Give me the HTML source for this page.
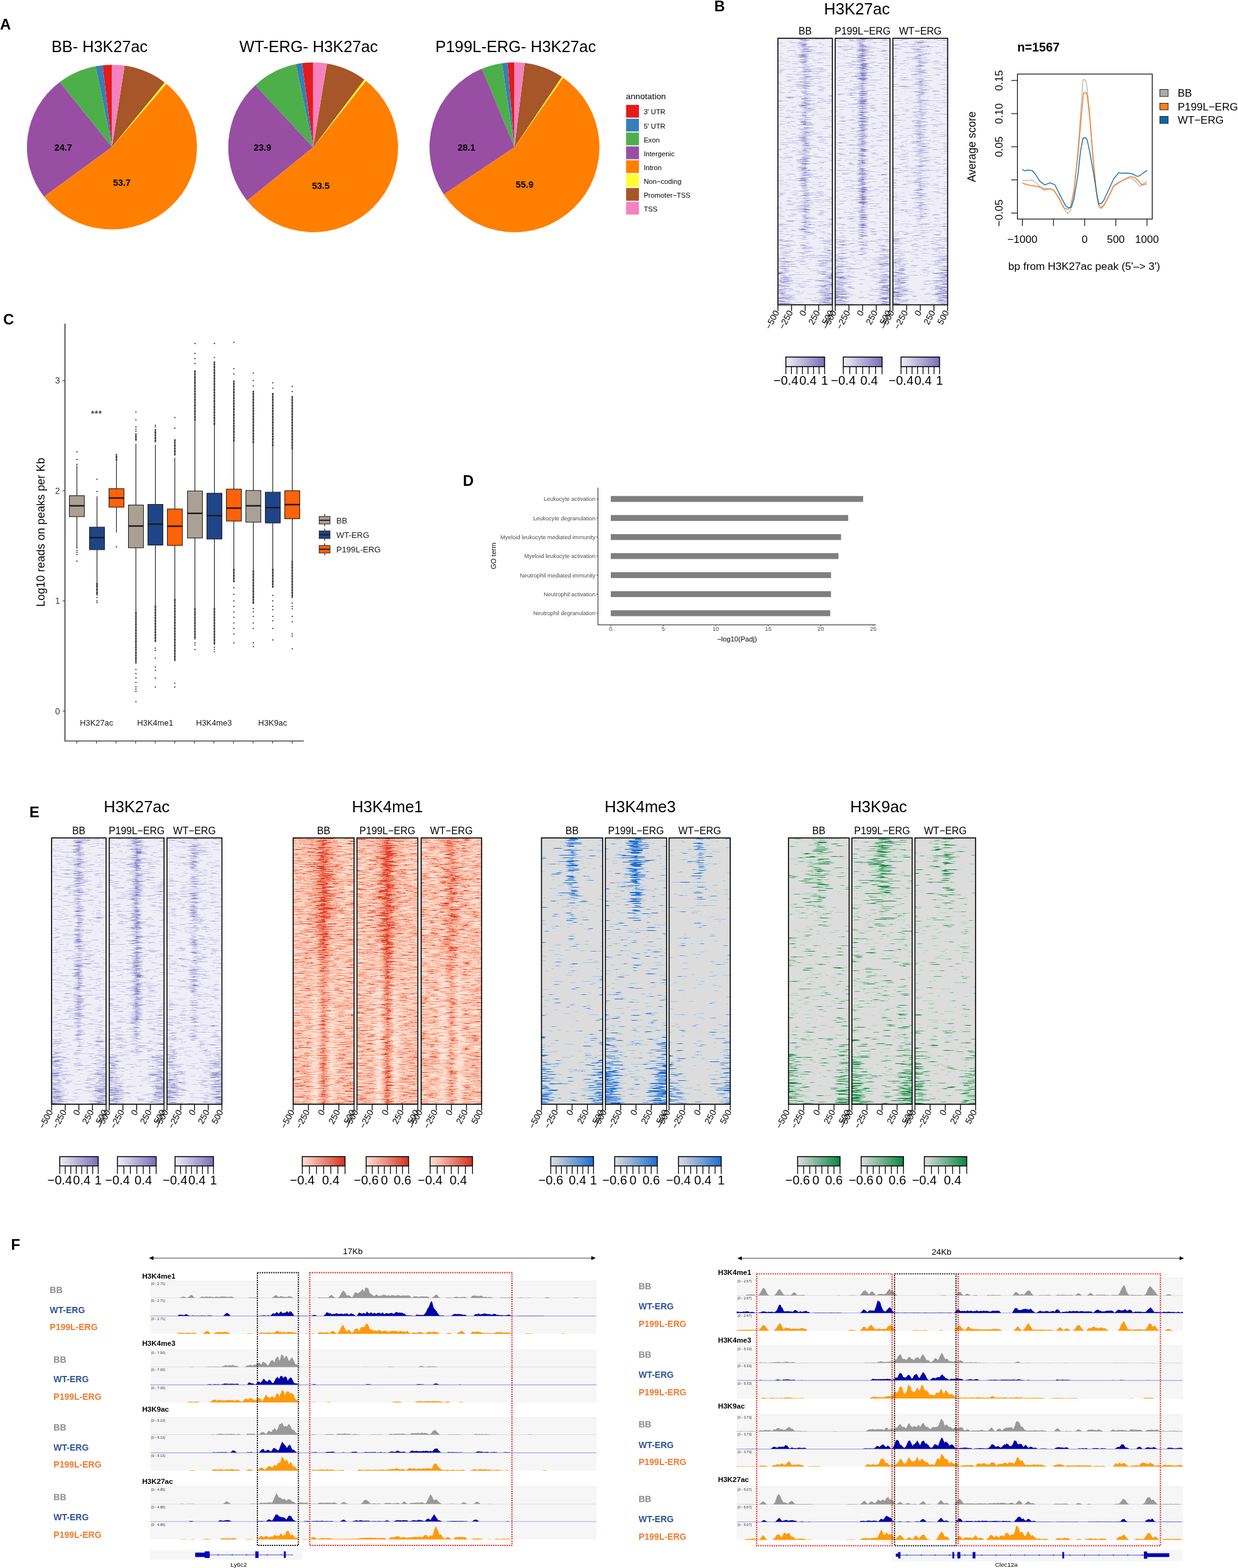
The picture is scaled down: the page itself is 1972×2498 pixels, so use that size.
<!DOCTYPE html>
<html><head><meta charset="utf-8"><title>Figure</title>
<style>html,body{margin:0;padding:0;background:#fff;} svg{display:block;} text{font-family:'Liberation Sans', Arial, Helvetica, sans-serif;}</style>
</head><body>
<svg width="1972" height="2498" viewBox="0 0 1972 2498">
<defs><filter id="nzb0" x="0" y="0" width="1" height="1" color-interpolation-filters="sRGB"><feTurbulence type="fractalNoise" baseFrequency="0.06 1.3" numOctaves="2" seed="11" result="n"/><feColorMatrix in="n" type="matrix" values="0 0 0 0 0 0 0 0 0 0 0 0 0 0 0 1 0 0 0 0" result="na"/><feComposite in="SourceAlpha" in2="na" operator="arithmetic" k1="0" k2="1.0" k3="2.0" k4="-1.0" result="m"/><feComponentTransfer in="m" result="t0"><feFuncA type="discrete" tableValues="0 0 0 0 0 0 0 0 1 1 1 1 1 1 1 1 1 1 1 1"/></feComponentTransfer><feFlood flood-color="#D3D0EC"/><feComposite in2="t0" operator="in" result="l0"/><feComponentTransfer in="m" result="t1"><feFuncA type="discrete" tableValues="0 0 0 0 0 0 0 0 0 0 0 0 1 1 1 1 1 1 1 1"/></feComponentTransfer><feFlood flood-color="#BCB8E0"/><feComposite in2="t1" operator="in" result="l1"/><feComponentTransfer in="m" result="t2"><feFuncA type="discrete" tableValues="0 0 0 0 0 0 0 0 0 0 0 0 0 0 0 0 0 1 1 1"/></feComponentTransfer><feFlood flood-color="#8781C6"/><feComposite in2="t2" operator="in" result="l2"/><feMerge><feMergeNode in="l0"/><feMergeNode in="l1"/><feMergeNode in="l2"/></feMerge></filter><linearGradient id="g1"><stop offset="0" stop-opacity="0.17"/><stop offset="0.125" stop-opacity="0.17"/><stop offset="0.25" stop-opacity="0.17"/><stop offset="0.375" stop-opacity="0.26"/><stop offset="0.5" stop-opacity="0.67"/><stop offset="0.625" stop-opacity="0.26"/><stop offset="0.75" stop-opacity="0.17"/><stop offset="0.875" stop-opacity="0.17"/><stop offset="1" stop-opacity="0.17"/></linearGradient><linearGradient id="g2"><stop offset="0" stop-opacity="0.17"/><stop offset="0.125" stop-opacity="0.17"/><stop offset="0.25" stop-opacity="0.17"/><stop offset="0.375" stop-opacity="0.25"/><stop offset="0.5" stop-opacity="0.67"/><stop offset="0.625" stop-opacity="0.25"/><stop offset="0.75" stop-opacity="0.17"/><stop offset="0.875" stop-opacity="0.17"/><stop offset="1" stop-opacity="0.17"/></linearGradient><linearGradient id="g3"><stop offset="0" stop-opacity="0.17"/><stop offset="0.125" stop-opacity="0.17"/><stop offset="0.25" stop-opacity="0.17"/><stop offset="0.375" stop-opacity="0.23"/><stop offset="0.5" stop-opacity="0.67"/><stop offset="0.625" stop-opacity="0.23"/><stop offset="0.75" stop-opacity="0.17"/><stop offset="0.875" stop-opacity="0.17"/><stop offset="1" stop-opacity="0.17"/></linearGradient><linearGradient id="g4"><stop offset="0" stop-opacity="0.17"/><stop offset="0.125" stop-opacity="0.17"/><stop offset="0.25" stop-opacity="0.17"/><stop offset="0.375" stop-opacity="0.21"/><stop offset="0.5" stop-opacity="0.67"/><stop offset="0.625" stop-opacity="0.21"/><stop offset="0.75" stop-opacity="0.17"/><stop offset="0.875" stop-opacity="0.17"/><stop offset="1" stop-opacity="0.17"/></linearGradient><linearGradient id="g5"><stop offset="0" stop-opacity="0.17"/><stop offset="0.125" stop-opacity="0.17"/><stop offset="0.25" stop-opacity="0.17"/><stop offset="0.375" stop-opacity="0.20"/><stop offset="0.5" stop-opacity="0.67"/><stop offset="0.625" stop-opacity="0.20"/><stop offset="0.75" stop-opacity="0.17"/><stop offset="0.875" stop-opacity="0.17"/><stop offset="1" stop-opacity="0.17"/></linearGradient><linearGradient id="g6"><stop offset="0" stop-opacity="0.17"/><stop offset="0.125" stop-opacity="0.17"/><stop offset="0.25" stop-opacity="0.17"/><stop offset="0.375" stop-opacity="0.19"/><stop offset="0.5" stop-opacity="0.67"/><stop offset="0.625" stop-opacity="0.19"/><stop offset="0.75" stop-opacity="0.17"/><stop offset="0.875" stop-opacity="0.17"/><stop offset="1" stop-opacity="0.17"/></linearGradient><linearGradient id="g7"><stop offset="0" stop-opacity="0.17"/><stop offset="0.125" stop-opacity="0.17"/><stop offset="0.25" stop-opacity="0.17"/><stop offset="0.375" stop-opacity="0.19"/><stop offset="0.5" stop-opacity="0.67"/><stop offset="0.625" stop-opacity="0.19"/><stop offset="0.75" stop-opacity="0.17"/><stop offset="0.875" stop-opacity="0.17"/><stop offset="1" stop-opacity="0.17"/></linearGradient><linearGradient id="g8"><stop offset="0" stop-opacity="0.17"/><stop offset="0.125" stop-opacity="0.17"/><stop offset="0.25" stop-opacity="0.17"/><stop offset="0.375" stop-opacity="0.18"/><stop offset="0.5" stop-opacity="0.67"/><stop offset="0.625" stop-opacity="0.18"/><stop offset="0.75" stop-opacity="0.17"/><stop offset="0.875" stop-opacity="0.17"/><stop offset="1" stop-opacity="0.17"/></linearGradient><linearGradient id="g9"><stop offset="0" stop-opacity="0.17"/><stop offset="0.125" stop-opacity="0.17"/><stop offset="0.25" stop-opacity="0.17"/><stop offset="0.375" stop-opacity="0.18"/><stop offset="0.5" stop-opacity="0.67"/><stop offset="0.625" stop-opacity="0.18"/><stop offset="0.75" stop-opacity="0.17"/><stop offset="0.875" stop-opacity="0.17"/><stop offset="1" stop-opacity="0.17"/></linearGradient><linearGradient id="g10"><stop offset="0" stop-opacity="0.17"/><stop offset="0.125" stop-opacity="0.17"/><stop offset="0.25" stop-opacity="0.17"/><stop offset="0.375" stop-opacity="0.18"/><stop offset="0.5" stop-opacity="0.67"/><stop offset="0.625" stop-opacity="0.18"/><stop offset="0.75" stop-opacity="0.17"/><stop offset="0.875" stop-opacity="0.17"/><stop offset="1" stop-opacity="0.17"/></linearGradient><linearGradient id="g11"><stop offset="0" stop-opacity="0.18"/><stop offset="0.125" stop-opacity="0.18"/><stop offset="0.25" stop-opacity="0.17"/><stop offset="0.375" stop-opacity="0.17"/><stop offset="0.5" stop-opacity="0.67"/><stop offset="0.625" stop-opacity="0.17"/><stop offset="0.75" stop-opacity="0.17"/><stop offset="0.875" stop-opacity="0.18"/><stop offset="1" stop-opacity="0.18"/></linearGradient><linearGradient id="g12"><stop offset="0" stop-opacity="0.25"/><stop offset="0.125" stop-opacity="0.25"/><stop offset="0.25" stop-opacity="0.19"/><stop offset="0.375" stop-opacity="0.17"/><stop offset="0.5" stop-opacity="0.60"/><stop offset="0.625" stop-opacity="0.17"/><stop offset="0.75" stop-opacity="0.19"/><stop offset="0.875" stop-opacity="0.25"/><stop offset="1" stop-opacity="0.25"/></linearGradient><linearGradient id="g13"><stop offset="0" stop-opacity="0.36"/><stop offset="0.125" stop-opacity="0.35"/><stop offset="0.25" stop-opacity="0.23"/><stop offset="0.375" stop-opacity="0.16"/><stop offset="0.5" stop-opacity="0.44"/><stop offset="0.625" stop-opacity="0.16"/><stop offset="0.75" stop-opacity="0.23"/><stop offset="0.875" stop-opacity="0.35"/><stop offset="1" stop-opacity="0.36"/></linearGradient><linearGradient id="g14"><stop offset="0" stop-opacity="0.49"/><stop offset="0.125" stop-opacity="0.46"/><stop offset="0.25" stop-opacity="0.26"/><stop offset="0.375" stop-opacity="0.14"/><stop offset="0.5" stop-opacity="0.26"/><stop offset="0.625" stop-opacity="0.14"/><stop offset="0.75" stop-opacity="0.26"/><stop offset="0.875" stop-opacity="0.46"/><stop offset="1" stop-opacity="0.49"/></linearGradient><linearGradient id="g15"><stop offset="0" stop-opacity="0.59"/><stop offset="0.125" stop-opacity="0.56"/><stop offset="0.25" stop-opacity="0.29"/><stop offset="0.375" stop-opacity="0.11"/><stop offset="0.5" stop-opacity="0.11"/><stop offset="0.625" stop-opacity="0.11"/><stop offset="0.75" stop-opacity="0.29"/><stop offset="0.875" stop-opacity="0.56"/><stop offset="1" stop-opacity="0.59"/></linearGradient><linearGradient id="g16"><stop offset="0" stop-opacity="0.66"/><stop offset="0.125" stop-opacity="0.62"/><stop offset="0.25" stop-opacity="0.30"/><stop offset="0.375" stop-opacity="0.10"/><stop offset="0.5" stop-opacity="0.05"/><stop offset="0.625" stop-opacity="0.10"/><stop offset="0.75" stop-opacity="0.30"/><stop offset="0.875" stop-opacity="0.62"/><stop offset="1" stop-opacity="0.66"/></linearGradient><filter id="nzb1" x="0" y="0" width="1" height="1" color-interpolation-filters="sRGB"><feTurbulence type="fractalNoise" baseFrequency="0.06 1.3" numOctaves="2" seed="12" result="n"/><feColorMatrix in="n" type="matrix" values="0 0 0 0 0 0 0 0 0 0 0 0 0 0 0 1 0 0 0 0" result="na"/><feComposite in="SourceAlpha" in2="na" operator="arithmetic" k1="0" k2="1.0" k3="2.0" k4="-1.0" result="m"/><feComponentTransfer in="m" result="t0"><feFuncA type="discrete" tableValues="0 0 0 0 0 0 0 0 1 1 1 1 1 1 1 1 1 1 1 1"/></feComponentTransfer><feFlood flood-color="#D3D0EC"/><feComposite in2="t0" operator="in" result="l0"/><feComponentTransfer in="m" result="t1"><feFuncA type="discrete" tableValues="0 0 0 0 0 0 0 0 0 0 0 0 1 1 1 1 1 1 1 1"/></feComponentTransfer><feFlood flood-color="#BCB8E0"/><feComposite in2="t1" operator="in" result="l1"/><feComponentTransfer in="m" result="t2"><feFuncA type="discrete" tableValues="0 0 0 0 0 0 0 0 0 0 0 0 0 0 0 0 0 1 1 1"/></feComponentTransfer><feFlood flood-color="#8781C6"/><feComposite in2="t2" operator="in" result="l2"/><feMerge><feMergeNode in="l0"/><feMergeNode in="l1"/><feMergeNode in="l2"/></feMerge></filter><linearGradient id="g17"><stop offset="0" stop-opacity="0.17"/><stop offset="0.125" stop-opacity="0.17"/><stop offset="0.25" stop-opacity="0.17"/><stop offset="0.375" stop-opacity="0.29"/><stop offset="0.5" stop-opacity="0.80"/><stop offset="0.625" stop-opacity="0.29"/><stop offset="0.75" stop-opacity="0.17"/><stop offset="0.875" stop-opacity="0.17"/><stop offset="1" stop-opacity="0.17"/></linearGradient><linearGradient id="g18"><stop offset="0" stop-opacity="0.17"/><stop offset="0.125" stop-opacity="0.17"/><stop offset="0.25" stop-opacity="0.17"/><stop offset="0.375" stop-opacity="0.26"/><stop offset="0.5" stop-opacity="0.80"/><stop offset="0.625" stop-opacity="0.26"/><stop offset="0.75" stop-opacity="0.17"/><stop offset="0.875" stop-opacity="0.17"/><stop offset="1" stop-opacity="0.17"/></linearGradient><linearGradient id="g19"><stop offset="0" stop-opacity="0.17"/><stop offset="0.125" stop-opacity="0.17"/><stop offset="0.25" stop-opacity="0.17"/><stop offset="0.375" stop-opacity="0.24"/><stop offset="0.5" stop-opacity="0.80"/><stop offset="0.625" stop-opacity="0.24"/><stop offset="0.75" stop-opacity="0.17"/><stop offset="0.875" stop-opacity="0.17"/><stop offset="1" stop-opacity="0.17"/></linearGradient><linearGradient id="g20"><stop offset="0" stop-opacity="0.17"/><stop offset="0.125" stop-opacity="0.17"/><stop offset="0.25" stop-opacity="0.17"/><stop offset="0.375" stop-opacity="0.23"/><stop offset="0.5" stop-opacity="0.80"/><stop offset="0.625" stop-opacity="0.23"/><stop offset="0.75" stop-opacity="0.17"/><stop offset="0.875" stop-opacity="0.17"/><stop offset="1" stop-opacity="0.17"/></linearGradient><linearGradient id="g21"><stop offset="0" stop-opacity="0.17"/><stop offset="0.125" stop-opacity="0.17"/><stop offset="0.25" stop-opacity="0.17"/><stop offset="0.375" stop-opacity="0.21"/><stop offset="0.5" stop-opacity="0.80"/><stop offset="0.625" stop-opacity="0.21"/><stop offset="0.75" stop-opacity="0.17"/><stop offset="0.875" stop-opacity="0.17"/><stop offset="1" stop-opacity="0.17"/></linearGradient><linearGradient id="g22"><stop offset="0" stop-opacity="0.17"/><stop offset="0.125" stop-opacity="0.17"/><stop offset="0.25" stop-opacity="0.17"/><stop offset="0.375" stop-opacity="0.20"/><stop offset="0.5" stop-opacity="0.80"/><stop offset="0.625" stop-opacity="0.20"/><stop offset="0.75" stop-opacity="0.17"/><stop offset="0.875" stop-opacity="0.17"/><stop offset="1" stop-opacity="0.17"/></linearGradient><linearGradient id="g23"><stop offset="0" stop-opacity="0.17"/><stop offset="0.125" stop-opacity="0.17"/><stop offset="0.25" stop-opacity="0.17"/><stop offset="0.375" stop-opacity="0.19"/><stop offset="0.5" stop-opacity="0.80"/><stop offset="0.625" stop-opacity="0.19"/><stop offset="0.75" stop-opacity="0.17"/><stop offset="0.875" stop-opacity="0.17"/><stop offset="1" stop-opacity="0.17"/></linearGradient><linearGradient id="g24"><stop offset="0" stop-opacity="0.17"/><stop offset="0.125" stop-opacity="0.17"/><stop offset="0.25" stop-opacity="0.17"/><stop offset="0.375" stop-opacity="0.18"/><stop offset="0.5" stop-opacity="0.80"/><stop offset="0.625" stop-opacity="0.18"/><stop offset="0.75" stop-opacity="0.17"/><stop offset="0.875" stop-opacity="0.17"/><stop offset="1" stop-opacity="0.17"/></linearGradient><linearGradient id="g25"><stop offset="0" stop-opacity="0.17"/><stop offset="0.125" stop-opacity="0.17"/><stop offset="0.25" stop-opacity="0.17"/><stop offset="0.375" stop-opacity="0.18"/><stop offset="0.5" stop-opacity="0.80"/><stop offset="0.625" stop-opacity="0.18"/><stop offset="0.75" stop-opacity="0.17"/><stop offset="0.875" stop-opacity="0.17"/><stop offset="1" stop-opacity="0.17"/></linearGradient><linearGradient id="g26"><stop offset="0" stop-opacity="0.17"/><stop offset="0.125" stop-opacity="0.17"/><stop offset="0.25" stop-opacity="0.17"/><stop offset="0.375" stop-opacity="0.18"/><stop offset="0.5" stop-opacity="0.80"/><stop offset="0.625" stop-opacity="0.18"/><stop offset="0.75" stop-opacity="0.17"/><stop offset="0.875" stop-opacity="0.17"/><stop offset="1" stop-opacity="0.17"/></linearGradient><linearGradient id="g27"><stop offset="0" stop-opacity="0.18"/><stop offset="0.125" stop-opacity="0.18"/><stop offset="0.25" stop-opacity="0.17"/><stop offset="0.375" stop-opacity="0.17"/><stop offset="0.5" stop-opacity="0.78"/><stop offset="0.625" stop-opacity="0.17"/><stop offset="0.75" stop-opacity="0.17"/><stop offset="0.875" stop-opacity="0.18"/><stop offset="1" stop-opacity="0.18"/></linearGradient><linearGradient id="g28"><stop offset="0" stop-opacity="0.25"/><stop offset="0.125" stop-opacity="0.25"/><stop offset="0.25" stop-opacity="0.19"/><stop offset="0.375" stop-opacity="0.17"/><stop offset="0.5" stop-opacity="0.66"/><stop offset="0.625" stop-opacity="0.17"/><stop offset="0.75" stop-opacity="0.19"/><stop offset="0.875" stop-opacity="0.25"/><stop offset="1" stop-opacity="0.25"/></linearGradient><linearGradient id="g29"><stop offset="0" stop-opacity="0.36"/><stop offset="0.125" stop-opacity="0.35"/><stop offset="0.25" stop-opacity="0.23"/><stop offset="0.375" stop-opacity="0.16"/><stop offset="0.5" stop-opacity="0.46"/><stop offset="0.625" stop-opacity="0.16"/><stop offset="0.75" stop-opacity="0.23"/><stop offset="0.875" stop-opacity="0.35"/><stop offset="1" stop-opacity="0.36"/></linearGradient><linearGradient id="g30"><stop offset="0" stop-opacity="0.49"/><stop offset="0.125" stop-opacity="0.46"/><stop offset="0.25" stop-opacity="0.26"/><stop offset="0.375" stop-opacity="0.14"/><stop offset="0.5" stop-opacity="0.24"/><stop offset="0.625" stop-opacity="0.14"/><stop offset="0.75" stop-opacity="0.26"/><stop offset="0.875" stop-opacity="0.46"/><stop offset="1" stop-opacity="0.49"/></linearGradient><linearGradient id="g31"><stop offset="0" stop-opacity="0.59"/><stop offset="0.125" stop-opacity="0.56"/><stop offset="0.25" stop-opacity="0.29"/><stop offset="0.375" stop-opacity="0.11"/><stop offset="0.5" stop-opacity="0.09"/><stop offset="0.625" stop-opacity="0.11"/><stop offset="0.75" stop-opacity="0.29"/><stop offset="0.875" stop-opacity="0.56"/><stop offset="1" stop-opacity="0.59"/></linearGradient><linearGradient id="g32"><stop offset="0" stop-opacity="0.66"/><stop offset="0.125" stop-opacity="0.62"/><stop offset="0.25" stop-opacity="0.30"/><stop offset="0.375" stop-opacity="0.10"/><stop offset="0.5" stop-opacity="0.05"/><stop offset="0.625" stop-opacity="0.10"/><stop offset="0.75" stop-opacity="0.30"/><stop offset="0.875" stop-opacity="0.62"/><stop offset="1" stop-opacity="0.66"/></linearGradient><filter id="nzb2" x="0" y="0" width="1" height="1" color-interpolation-filters="sRGB"><feTurbulence type="fractalNoise" baseFrequency="0.06 1.3" numOctaves="2" seed="13" result="n"/><feColorMatrix in="n" type="matrix" values="0 0 0 0 0 0 0 0 0 0 0 0 0 0 0 1 0 0 0 0" result="na"/><feComposite in="SourceAlpha" in2="na" operator="arithmetic" k1="0" k2="1.0" k3="2.0" k4="-1.0" result="m"/><feComponentTransfer in="m" result="t0"><feFuncA type="discrete" tableValues="0 0 0 0 0 0 0 0 1 1 1 1 1 1 1 1 1 1 1 1"/></feComponentTransfer><feFlood flood-color="#D3D0EC"/><feComposite in2="t0" operator="in" result="l0"/><feComponentTransfer in="m" result="t1"><feFuncA type="discrete" tableValues="0 0 0 0 0 0 0 0 0 0 0 0 1 1 1 1 1 1 1 1"/></feComponentTransfer><feFlood flood-color="#BCB8E0"/><feComposite in2="t1" operator="in" result="l1"/><feComponentTransfer in="m" result="t2"><feFuncA type="discrete" tableValues="0 0 0 0 0 0 0 0 0 0 0 0 0 0 0 0 0 1 1 1"/></feComponentTransfer><feFlood flood-color="#8781C6"/><feComposite in2="t2" operator="in" result="l2"/><feMerge><feMergeNode in="l0"/><feMergeNode in="l1"/><feMergeNode in="l2"/></feMerge></filter><linearGradient id="g33"><stop offset="0" stop-opacity="0.17"/><stop offset="0.125" stop-opacity="0.17"/><stop offset="0.25" stop-opacity="0.17"/><stop offset="0.375" stop-opacity="0.25"/><stop offset="0.5" stop-opacity="0.57"/><stop offset="0.625" stop-opacity="0.25"/><stop offset="0.75" stop-opacity="0.17"/><stop offset="0.875" stop-opacity="0.17"/><stop offset="1" stop-opacity="0.17"/></linearGradient><linearGradient id="g34"><stop offset="0" stop-opacity="0.17"/><stop offset="0.125" stop-opacity="0.17"/><stop offset="0.25" stop-opacity="0.17"/><stop offset="0.375" stop-opacity="0.23"/><stop offset="0.5" stop-opacity="0.57"/><stop offset="0.625" stop-opacity="0.23"/><stop offset="0.75" stop-opacity="0.17"/><stop offset="0.875" stop-opacity="0.17"/><stop offset="1" stop-opacity="0.17"/></linearGradient><linearGradient id="g35"><stop offset="0" stop-opacity="0.17"/><stop offset="0.125" stop-opacity="0.17"/><stop offset="0.25" stop-opacity="0.17"/><stop offset="0.375" stop-opacity="0.22"/><stop offset="0.5" stop-opacity="0.57"/><stop offset="0.625" stop-opacity="0.22"/><stop offset="0.75" stop-opacity="0.17"/><stop offset="0.875" stop-opacity="0.17"/><stop offset="1" stop-opacity="0.17"/></linearGradient><linearGradient id="g36"><stop offset="0" stop-opacity="0.17"/><stop offset="0.125" stop-opacity="0.17"/><stop offset="0.25" stop-opacity="0.17"/><stop offset="0.375" stop-opacity="0.21"/><stop offset="0.5" stop-opacity="0.57"/><stop offset="0.625" stop-opacity="0.21"/><stop offset="0.75" stop-opacity="0.17"/><stop offset="0.875" stop-opacity="0.17"/><stop offset="1" stop-opacity="0.17"/></linearGradient><linearGradient id="g37"><stop offset="0" stop-opacity="0.17"/><stop offset="0.125" stop-opacity="0.17"/><stop offset="0.25" stop-opacity="0.17"/><stop offset="0.375" stop-opacity="0.20"/><stop offset="0.5" stop-opacity="0.57"/><stop offset="0.625" stop-opacity="0.20"/><stop offset="0.75" stop-opacity="0.17"/><stop offset="0.875" stop-opacity="0.17"/><stop offset="1" stop-opacity="0.17"/></linearGradient><linearGradient id="g38"><stop offset="0" stop-opacity="0.17"/><stop offset="0.125" stop-opacity="0.17"/><stop offset="0.25" stop-opacity="0.17"/><stop offset="0.375" stop-opacity="0.19"/><stop offset="0.5" stop-opacity="0.57"/><stop offset="0.625" stop-opacity="0.19"/><stop offset="0.75" stop-opacity="0.17"/><stop offset="0.875" stop-opacity="0.17"/><stop offset="1" stop-opacity="0.17"/></linearGradient><linearGradient id="g39"><stop offset="0" stop-opacity="0.17"/><stop offset="0.125" stop-opacity="0.17"/><stop offset="0.25" stop-opacity="0.17"/><stop offset="0.375" stop-opacity="0.18"/><stop offset="0.5" stop-opacity="0.57"/><stop offset="0.625" stop-opacity="0.18"/><stop offset="0.75" stop-opacity="0.17"/><stop offset="0.875" stop-opacity="0.17"/><stop offset="1" stop-opacity="0.17"/></linearGradient><linearGradient id="g40"><stop offset="0" stop-opacity="0.17"/><stop offset="0.125" stop-opacity="0.17"/><stop offset="0.25" stop-opacity="0.17"/><stop offset="0.375" stop-opacity="0.18"/><stop offset="0.5" stop-opacity="0.57"/><stop offset="0.625" stop-opacity="0.18"/><stop offset="0.75" stop-opacity="0.17"/><stop offset="0.875" stop-opacity="0.17"/><stop offset="1" stop-opacity="0.17"/></linearGradient><linearGradient id="g41"><stop offset="0" stop-opacity="0.17"/><stop offset="0.125" stop-opacity="0.17"/><stop offset="0.25" stop-opacity="0.17"/><stop offset="0.375" stop-opacity="0.18"/><stop offset="0.5" stop-opacity="0.57"/><stop offset="0.625" stop-opacity="0.18"/><stop offset="0.75" stop-opacity="0.17"/><stop offset="0.875" stop-opacity="0.17"/><stop offset="1" stop-opacity="0.17"/></linearGradient><linearGradient id="g42"><stop offset="0" stop-opacity="0.17"/><stop offset="0.125" stop-opacity="0.17"/><stop offset="0.25" stop-opacity="0.17"/><stop offset="0.375" stop-opacity="0.17"/><stop offset="0.5" stop-opacity="0.55"/><stop offset="0.625" stop-opacity="0.17"/><stop offset="0.75" stop-opacity="0.17"/><stop offset="0.875" stop-opacity="0.17"/><stop offset="1" stop-opacity="0.17"/></linearGradient><linearGradient id="g43"><stop offset="0" stop-opacity="0.18"/><stop offset="0.125" stop-opacity="0.18"/><stop offset="0.25" stop-opacity="0.17"/><stop offset="0.375" stop-opacity="0.17"/><stop offset="0.5" stop-opacity="0.46"/><stop offset="0.625" stop-opacity="0.17"/><stop offset="0.75" stop-opacity="0.17"/><stop offset="0.875" stop-opacity="0.18"/><stop offset="1" stop-opacity="0.18"/></linearGradient><linearGradient id="g44"><stop offset="0" stop-opacity="0.25"/><stop offset="0.125" stop-opacity="0.25"/><stop offset="0.25" stop-opacity="0.19"/><stop offset="0.375" stop-opacity="0.17"/><stop offset="0.5" stop-opacity="0.33"/><stop offset="0.625" stop-opacity="0.17"/><stop offset="0.75" stop-opacity="0.19"/><stop offset="0.875" stop-opacity="0.25"/><stop offset="1" stop-opacity="0.25"/></linearGradient><linearGradient id="g45"><stop offset="0" stop-opacity="0.36"/><stop offset="0.125" stop-opacity="0.35"/><stop offset="0.25" stop-opacity="0.23"/><stop offset="0.375" stop-opacity="0.16"/><stop offset="0.5" stop-opacity="0.20"/><stop offset="0.625" stop-opacity="0.16"/><stop offset="0.75" stop-opacity="0.23"/><stop offset="0.875" stop-opacity="0.35"/><stop offset="1" stop-opacity="0.36"/></linearGradient><linearGradient id="g46"><stop offset="0" stop-opacity="0.49"/><stop offset="0.125" stop-opacity="0.46"/><stop offset="0.25" stop-opacity="0.26"/><stop offset="0.375" stop-opacity="0.14"/><stop offset="0.5" stop-opacity="0.11"/><stop offset="0.625" stop-opacity="0.14"/><stop offset="0.75" stop-opacity="0.26"/><stop offset="0.875" stop-opacity="0.46"/><stop offset="1" stop-opacity="0.49"/></linearGradient><linearGradient id="g47"><stop offset="0" stop-opacity="0.59"/><stop offset="0.125" stop-opacity="0.56"/><stop offset="0.25" stop-opacity="0.29"/><stop offset="0.375" stop-opacity="0.11"/><stop offset="0.5" stop-opacity="0.08"/><stop offset="0.625" stop-opacity="0.11"/><stop offset="0.75" stop-opacity="0.29"/><stop offset="0.875" stop-opacity="0.56"/><stop offset="1" stop-opacity="0.59"/></linearGradient><linearGradient id="g48"><stop offset="0" stop-opacity="0.66"/><stop offset="0.125" stop-opacity="0.62"/><stop offset="0.25" stop-opacity="0.30"/><stop offset="0.375" stop-opacity="0.10"/><stop offset="0.5" stop-opacity="0.05"/><stop offset="0.625" stop-opacity="0.10"/><stop offset="0.75" stop-opacity="0.30"/><stop offset="0.875" stop-opacity="0.62"/><stop offset="1" stop-opacity="0.66"/></linearGradient><linearGradient id="cb49"><stop offset="0" stop-color="#EFEEF7"/><stop offset="1" stop-color="#7A6EB8"/></linearGradient><linearGradient id="cb50"><stop offset="0" stop-color="#EFEEF7"/><stop offset="1" stop-color="#7A6EB8"/></linearGradient><linearGradient id="cb51"><stop offset="0" stop-color="#EFEEF7"/><stop offset="1" stop-color="#7A6EB8"/></linearGradient><filter id="nze00" x="0" y="0" width="1" height="1" color-interpolation-filters="sRGB"><feTurbulence type="fractalNoise" baseFrequency="0.06 1.3" numOctaves="2" seed="31" result="n"/><feColorMatrix in="n" type="matrix" values="0 0 0 0 0 0 0 0 0 0 0 0 0 0 0 1 0 0 0 0" result="na"/><feComposite in="SourceAlpha" in2="na" operator="arithmetic" k1="0" k2="1.0" k3="2.0" k4="-1.0" result="m"/><feComponentTransfer in="m" result="t0"><feFuncA type="discrete" tableValues="0 0 0 0 0 0 0 0 1 1 1 1 1 1 1 1 1 1 1 1"/></feComponentTransfer><feFlood flood-color="#D3D0EC"/><feComposite in2="t0" operator="in" result="l0"/><feComponentTransfer in="m" result="t1"><feFuncA type="discrete" tableValues="0 0 0 0 0 0 0 0 0 0 0 0 1 1 1 1 1 1 1 1"/></feComponentTransfer><feFlood flood-color="#BCB8E0"/><feComposite in2="t1" operator="in" result="l1"/><feComponentTransfer in="m" result="t2"><feFuncA type="discrete" tableValues="0 0 0 0 0 0 0 0 0 0 0 0 0 0 0 0 0 1 1 1"/></feComponentTransfer><feFlood flood-color="#8781C6"/><feComposite in2="t2" operator="in" result="l2"/><feMerge><feMergeNode in="l0"/><feMergeNode in="l1"/><feMergeNode in="l2"/></feMerge></filter><linearGradient id="g52"><stop offset="0" stop-opacity="0.17"/><stop offset="0.125" stop-opacity="0.17"/><stop offset="0.25" stop-opacity="0.17"/><stop offset="0.375" stop-opacity="0.26"/><stop offset="0.5" stop-opacity="0.67"/><stop offset="0.625" stop-opacity="0.26"/><stop offset="0.75" stop-opacity="0.17"/><stop offset="0.875" stop-opacity="0.17"/><stop offset="1" stop-opacity="0.17"/></linearGradient><linearGradient id="g53"><stop offset="0" stop-opacity="0.17"/><stop offset="0.125" stop-opacity="0.17"/><stop offset="0.25" stop-opacity="0.17"/><stop offset="0.375" stop-opacity="0.25"/><stop offset="0.5" stop-opacity="0.67"/><stop offset="0.625" stop-opacity="0.25"/><stop offset="0.75" stop-opacity="0.17"/><stop offset="0.875" stop-opacity="0.17"/><stop offset="1" stop-opacity="0.17"/></linearGradient><linearGradient id="g54"><stop offset="0" stop-opacity="0.17"/><stop offset="0.125" stop-opacity="0.17"/><stop offset="0.25" stop-opacity="0.17"/><stop offset="0.375" stop-opacity="0.23"/><stop offset="0.5" stop-opacity="0.67"/><stop offset="0.625" stop-opacity="0.23"/><stop offset="0.75" stop-opacity="0.17"/><stop offset="0.875" stop-opacity="0.17"/><stop offset="1" stop-opacity="0.17"/></linearGradient><linearGradient id="g55"><stop offset="0" stop-opacity="0.17"/><stop offset="0.125" stop-opacity="0.17"/><stop offset="0.25" stop-opacity="0.17"/><stop offset="0.375" stop-opacity="0.21"/><stop offset="0.5" stop-opacity="0.67"/><stop offset="0.625" stop-opacity="0.21"/><stop offset="0.75" stop-opacity="0.17"/><stop offset="0.875" stop-opacity="0.17"/><stop offset="1" stop-opacity="0.17"/></linearGradient><linearGradient id="g56"><stop offset="0" stop-opacity="0.17"/><stop offset="0.125" stop-opacity="0.17"/><stop offset="0.25" stop-opacity="0.17"/><stop offset="0.375" stop-opacity="0.20"/><stop offset="0.5" stop-opacity="0.67"/><stop offset="0.625" stop-opacity="0.20"/><stop offset="0.75" stop-opacity="0.17"/><stop offset="0.875" stop-opacity="0.17"/><stop offset="1" stop-opacity="0.17"/></linearGradient><linearGradient id="g57"><stop offset="0" stop-opacity="0.17"/><stop offset="0.125" stop-opacity="0.17"/><stop offset="0.25" stop-opacity="0.17"/><stop offset="0.375" stop-opacity="0.19"/><stop offset="0.5" stop-opacity="0.67"/><stop offset="0.625" stop-opacity="0.19"/><stop offset="0.75" stop-opacity="0.17"/><stop offset="0.875" stop-opacity="0.17"/><stop offset="1" stop-opacity="0.17"/></linearGradient><linearGradient id="g58"><stop offset="0" stop-opacity="0.17"/><stop offset="0.125" stop-opacity="0.17"/><stop offset="0.25" stop-opacity="0.17"/><stop offset="0.375" stop-opacity="0.19"/><stop offset="0.5" stop-opacity="0.67"/><stop offset="0.625" stop-opacity="0.19"/><stop offset="0.75" stop-opacity="0.17"/><stop offset="0.875" stop-opacity="0.17"/><stop offset="1" stop-opacity="0.17"/></linearGradient><linearGradient id="g59"><stop offset="0" stop-opacity="0.17"/><stop offset="0.125" stop-opacity="0.17"/><stop offset="0.25" stop-opacity="0.17"/><stop offset="0.375" stop-opacity="0.18"/><stop offset="0.5" stop-opacity="0.67"/><stop offset="0.625" stop-opacity="0.18"/><stop offset="0.75" stop-opacity="0.17"/><stop offset="0.875" stop-opacity="0.17"/><stop offset="1" stop-opacity="0.17"/></linearGradient><linearGradient id="g60"><stop offset="0" stop-opacity="0.17"/><stop offset="0.125" stop-opacity="0.17"/><stop offset="0.25" stop-opacity="0.17"/><stop offset="0.375" stop-opacity="0.18"/><stop offset="0.5" stop-opacity="0.67"/><stop offset="0.625" stop-opacity="0.18"/><stop offset="0.75" stop-opacity="0.17"/><stop offset="0.875" stop-opacity="0.17"/><stop offset="1" stop-opacity="0.17"/></linearGradient><linearGradient id="g61"><stop offset="0" stop-opacity="0.17"/><stop offset="0.125" stop-opacity="0.17"/><stop offset="0.25" stop-opacity="0.17"/><stop offset="0.375" stop-opacity="0.18"/><stop offset="0.5" stop-opacity="0.67"/><stop offset="0.625" stop-opacity="0.18"/><stop offset="0.75" stop-opacity="0.17"/><stop offset="0.875" stop-opacity="0.17"/><stop offset="1" stop-opacity="0.17"/></linearGradient><linearGradient id="g62"><stop offset="0" stop-opacity="0.18"/><stop offset="0.125" stop-opacity="0.18"/><stop offset="0.25" stop-opacity="0.17"/><stop offset="0.375" stop-opacity="0.17"/><stop offset="0.5" stop-opacity="0.67"/><stop offset="0.625" stop-opacity="0.17"/><stop offset="0.75" stop-opacity="0.17"/><stop offset="0.875" stop-opacity="0.18"/><stop offset="1" stop-opacity="0.18"/></linearGradient><linearGradient id="g63"><stop offset="0" stop-opacity="0.25"/><stop offset="0.125" stop-opacity="0.25"/><stop offset="0.25" stop-opacity="0.19"/><stop offset="0.375" stop-opacity="0.17"/><stop offset="0.5" stop-opacity="0.60"/><stop offset="0.625" stop-opacity="0.17"/><stop offset="0.75" stop-opacity="0.19"/><stop offset="0.875" stop-opacity="0.25"/><stop offset="1" stop-opacity="0.25"/></linearGradient><linearGradient id="g64"><stop offset="0" stop-opacity="0.36"/><stop offset="0.125" stop-opacity="0.35"/><stop offset="0.25" stop-opacity="0.23"/><stop offset="0.375" stop-opacity="0.16"/><stop offset="0.5" stop-opacity="0.44"/><stop offset="0.625" stop-opacity="0.16"/><stop offset="0.75" stop-opacity="0.23"/><stop offset="0.875" stop-opacity="0.35"/><stop offset="1" stop-opacity="0.36"/></linearGradient><linearGradient id="g65"><stop offset="0" stop-opacity="0.49"/><stop offset="0.125" stop-opacity="0.46"/><stop offset="0.25" stop-opacity="0.26"/><stop offset="0.375" stop-opacity="0.14"/><stop offset="0.5" stop-opacity="0.26"/><stop offset="0.625" stop-opacity="0.14"/><stop offset="0.75" stop-opacity="0.26"/><stop offset="0.875" stop-opacity="0.46"/><stop offset="1" stop-opacity="0.49"/></linearGradient><linearGradient id="g66"><stop offset="0" stop-opacity="0.59"/><stop offset="0.125" stop-opacity="0.56"/><stop offset="0.25" stop-opacity="0.29"/><stop offset="0.375" stop-opacity="0.11"/><stop offset="0.5" stop-opacity="0.11"/><stop offset="0.625" stop-opacity="0.11"/><stop offset="0.75" stop-opacity="0.29"/><stop offset="0.875" stop-opacity="0.56"/><stop offset="1" stop-opacity="0.59"/></linearGradient><linearGradient id="g67"><stop offset="0" stop-opacity="0.66"/><stop offset="0.125" stop-opacity="0.62"/><stop offset="0.25" stop-opacity="0.30"/><stop offset="0.375" stop-opacity="0.10"/><stop offset="0.5" stop-opacity="0.05"/><stop offset="0.625" stop-opacity="0.10"/><stop offset="0.75" stop-opacity="0.30"/><stop offset="0.875" stop-opacity="0.62"/><stop offset="1" stop-opacity="0.66"/></linearGradient><filter id="nze01" x="0" y="0" width="1" height="1" color-interpolation-filters="sRGB"><feTurbulence type="fractalNoise" baseFrequency="0.06 1.3" numOctaves="2" seed="32" result="n"/><feColorMatrix in="n" type="matrix" values="0 0 0 0 0 0 0 0 0 0 0 0 0 0 0 1 0 0 0 0" result="na"/><feComposite in="SourceAlpha" in2="na" operator="arithmetic" k1="0" k2="1.0" k3="2.0" k4="-1.0" result="m"/><feComponentTransfer in="m" result="t0"><feFuncA type="discrete" tableValues="0 0 0 0 0 0 0 0 1 1 1 1 1 1 1 1 1 1 1 1"/></feComponentTransfer><feFlood flood-color="#D3D0EC"/><feComposite in2="t0" operator="in" result="l0"/><feComponentTransfer in="m" result="t1"><feFuncA type="discrete" tableValues="0 0 0 0 0 0 0 0 0 0 0 0 1 1 1 1 1 1 1 1"/></feComponentTransfer><feFlood flood-color="#BCB8E0"/><feComposite in2="t1" operator="in" result="l1"/><feComponentTransfer in="m" result="t2"><feFuncA type="discrete" tableValues="0 0 0 0 0 0 0 0 0 0 0 0 0 0 0 0 0 1 1 1"/></feComponentTransfer><feFlood flood-color="#8781C6"/><feComposite in2="t2" operator="in" result="l2"/><feMerge><feMergeNode in="l0"/><feMergeNode in="l1"/><feMergeNode in="l2"/></feMerge></filter><linearGradient id="g68"><stop offset="0" stop-opacity="0.17"/><stop offset="0.125" stop-opacity="0.17"/><stop offset="0.25" stop-opacity="0.17"/><stop offset="0.375" stop-opacity="0.29"/><stop offset="0.5" stop-opacity="0.80"/><stop offset="0.625" stop-opacity="0.29"/><stop offset="0.75" stop-opacity="0.17"/><stop offset="0.875" stop-opacity="0.17"/><stop offset="1" stop-opacity="0.17"/></linearGradient><linearGradient id="g69"><stop offset="0" stop-opacity="0.17"/><stop offset="0.125" stop-opacity="0.17"/><stop offset="0.25" stop-opacity="0.17"/><stop offset="0.375" stop-opacity="0.26"/><stop offset="0.5" stop-opacity="0.80"/><stop offset="0.625" stop-opacity="0.26"/><stop offset="0.75" stop-opacity="0.17"/><stop offset="0.875" stop-opacity="0.17"/><stop offset="1" stop-opacity="0.17"/></linearGradient><linearGradient id="g70"><stop offset="0" stop-opacity="0.17"/><stop offset="0.125" stop-opacity="0.17"/><stop offset="0.25" stop-opacity="0.17"/><stop offset="0.375" stop-opacity="0.24"/><stop offset="0.5" stop-opacity="0.80"/><stop offset="0.625" stop-opacity="0.24"/><stop offset="0.75" stop-opacity="0.17"/><stop offset="0.875" stop-opacity="0.17"/><stop offset="1" stop-opacity="0.17"/></linearGradient><linearGradient id="g71"><stop offset="0" stop-opacity="0.17"/><stop offset="0.125" stop-opacity="0.17"/><stop offset="0.25" stop-opacity="0.17"/><stop offset="0.375" stop-opacity="0.23"/><stop offset="0.5" stop-opacity="0.80"/><stop offset="0.625" stop-opacity="0.23"/><stop offset="0.75" stop-opacity="0.17"/><stop offset="0.875" stop-opacity="0.17"/><stop offset="1" stop-opacity="0.17"/></linearGradient><linearGradient id="g72"><stop offset="0" stop-opacity="0.17"/><stop offset="0.125" stop-opacity="0.17"/><stop offset="0.25" stop-opacity="0.17"/><stop offset="0.375" stop-opacity="0.21"/><stop offset="0.5" stop-opacity="0.80"/><stop offset="0.625" stop-opacity="0.21"/><stop offset="0.75" stop-opacity="0.17"/><stop offset="0.875" stop-opacity="0.17"/><stop offset="1" stop-opacity="0.17"/></linearGradient><linearGradient id="g73"><stop offset="0" stop-opacity="0.17"/><stop offset="0.125" stop-opacity="0.17"/><stop offset="0.25" stop-opacity="0.17"/><stop offset="0.375" stop-opacity="0.20"/><stop offset="0.5" stop-opacity="0.80"/><stop offset="0.625" stop-opacity="0.20"/><stop offset="0.75" stop-opacity="0.17"/><stop offset="0.875" stop-opacity="0.17"/><stop offset="1" stop-opacity="0.17"/></linearGradient><linearGradient id="g74"><stop offset="0" stop-opacity="0.17"/><stop offset="0.125" stop-opacity="0.17"/><stop offset="0.25" stop-opacity="0.17"/><stop offset="0.375" stop-opacity="0.19"/><stop offset="0.5" stop-opacity="0.80"/><stop offset="0.625" stop-opacity="0.19"/><stop offset="0.75" stop-opacity="0.17"/><stop offset="0.875" stop-opacity="0.17"/><stop offset="1" stop-opacity="0.17"/></linearGradient><linearGradient id="g75"><stop offset="0" stop-opacity="0.17"/><stop offset="0.125" stop-opacity="0.17"/><stop offset="0.25" stop-opacity="0.17"/><stop offset="0.375" stop-opacity="0.18"/><stop offset="0.5" stop-opacity="0.80"/><stop offset="0.625" stop-opacity="0.18"/><stop offset="0.75" stop-opacity="0.17"/><stop offset="0.875" stop-opacity="0.17"/><stop offset="1" stop-opacity="0.17"/></linearGradient><linearGradient id="g76"><stop offset="0" stop-opacity="0.17"/><stop offset="0.125" stop-opacity="0.17"/><stop offset="0.25" stop-opacity="0.17"/><stop offset="0.375" stop-opacity="0.18"/><stop offset="0.5" stop-opacity="0.80"/><stop offset="0.625" stop-opacity="0.18"/><stop offset="0.75" stop-opacity="0.17"/><stop offset="0.875" stop-opacity="0.17"/><stop offset="1" stop-opacity="0.17"/></linearGradient><linearGradient id="g77"><stop offset="0" stop-opacity="0.17"/><stop offset="0.125" stop-opacity="0.17"/><stop offset="0.25" stop-opacity="0.17"/><stop offset="0.375" stop-opacity="0.18"/><stop offset="0.5" stop-opacity="0.80"/><stop offset="0.625" stop-opacity="0.18"/><stop offset="0.75" stop-opacity="0.17"/><stop offset="0.875" stop-opacity="0.17"/><stop offset="1" stop-opacity="0.17"/></linearGradient><linearGradient id="g78"><stop offset="0" stop-opacity="0.18"/><stop offset="0.125" stop-opacity="0.18"/><stop offset="0.25" stop-opacity="0.17"/><stop offset="0.375" stop-opacity="0.17"/><stop offset="0.5" stop-opacity="0.78"/><stop offset="0.625" stop-opacity="0.17"/><stop offset="0.75" stop-opacity="0.17"/><stop offset="0.875" stop-opacity="0.18"/><stop offset="1" stop-opacity="0.18"/></linearGradient><linearGradient id="g79"><stop offset="0" stop-opacity="0.25"/><stop offset="0.125" stop-opacity="0.25"/><stop offset="0.25" stop-opacity="0.19"/><stop offset="0.375" stop-opacity="0.17"/><stop offset="0.5" stop-opacity="0.66"/><stop offset="0.625" stop-opacity="0.17"/><stop offset="0.75" stop-opacity="0.19"/><stop offset="0.875" stop-opacity="0.25"/><stop offset="1" stop-opacity="0.25"/></linearGradient><linearGradient id="g80"><stop offset="0" stop-opacity="0.36"/><stop offset="0.125" stop-opacity="0.35"/><stop offset="0.25" stop-opacity="0.23"/><stop offset="0.375" stop-opacity="0.16"/><stop offset="0.5" stop-opacity="0.46"/><stop offset="0.625" stop-opacity="0.16"/><stop offset="0.75" stop-opacity="0.23"/><stop offset="0.875" stop-opacity="0.35"/><stop offset="1" stop-opacity="0.36"/></linearGradient><linearGradient id="g81"><stop offset="0" stop-opacity="0.49"/><stop offset="0.125" stop-opacity="0.46"/><stop offset="0.25" stop-opacity="0.26"/><stop offset="0.375" stop-opacity="0.14"/><stop offset="0.5" stop-opacity="0.24"/><stop offset="0.625" stop-opacity="0.14"/><stop offset="0.75" stop-opacity="0.26"/><stop offset="0.875" stop-opacity="0.46"/><stop offset="1" stop-opacity="0.49"/></linearGradient><linearGradient id="g82"><stop offset="0" stop-opacity="0.59"/><stop offset="0.125" stop-opacity="0.56"/><stop offset="0.25" stop-opacity="0.29"/><stop offset="0.375" stop-opacity="0.11"/><stop offset="0.5" stop-opacity="0.09"/><stop offset="0.625" stop-opacity="0.11"/><stop offset="0.75" stop-opacity="0.29"/><stop offset="0.875" stop-opacity="0.56"/><stop offset="1" stop-opacity="0.59"/></linearGradient><linearGradient id="g83"><stop offset="0" stop-opacity="0.66"/><stop offset="0.125" stop-opacity="0.62"/><stop offset="0.25" stop-opacity="0.30"/><stop offset="0.375" stop-opacity="0.10"/><stop offset="0.5" stop-opacity="0.05"/><stop offset="0.625" stop-opacity="0.10"/><stop offset="0.75" stop-opacity="0.30"/><stop offset="0.875" stop-opacity="0.62"/><stop offset="1" stop-opacity="0.66"/></linearGradient><filter id="nze02" x="0" y="0" width="1" height="1" color-interpolation-filters="sRGB"><feTurbulence type="fractalNoise" baseFrequency="0.06 1.3" numOctaves="2" seed="33" result="n"/><feColorMatrix in="n" type="matrix" values="0 0 0 0 0 0 0 0 0 0 0 0 0 0 0 1 0 0 0 0" result="na"/><feComposite in="SourceAlpha" in2="na" operator="arithmetic" k1="0" k2="1.0" k3="2.0" k4="-1.0" result="m"/><feComponentTransfer in="m" result="t0"><feFuncA type="discrete" tableValues="0 0 0 0 0 0 0 0 1 1 1 1 1 1 1 1 1 1 1 1"/></feComponentTransfer><feFlood flood-color="#D3D0EC"/><feComposite in2="t0" operator="in" result="l0"/><feComponentTransfer in="m" result="t1"><feFuncA type="discrete" tableValues="0 0 0 0 0 0 0 0 0 0 0 0 1 1 1 1 1 1 1 1"/></feComponentTransfer><feFlood flood-color="#BCB8E0"/><feComposite in2="t1" operator="in" result="l1"/><feComponentTransfer in="m" result="t2"><feFuncA type="discrete" tableValues="0 0 0 0 0 0 0 0 0 0 0 0 0 0 0 0 0 1 1 1"/></feComponentTransfer><feFlood flood-color="#8781C6"/><feComposite in2="t2" operator="in" result="l2"/><feMerge><feMergeNode in="l0"/><feMergeNode in="l1"/><feMergeNode in="l2"/></feMerge></filter><linearGradient id="g84"><stop offset="0" stop-opacity="0.17"/><stop offset="0.125" stop-opacity="0.17"/><stop offset="0.25" stop-opacity="0.17"/><stop offset="0.375" stop-opacity="0.25"/><stop offset="0.5" stop-opacity="0.57"/><stop offset="0.625" stop-opacity="0.25"/><stop offset="0.75" stop-opacity="0.17"/><stop offset="0.875" stop-opacity="0.17"/><stop offset="1" stop-opacity="0.17"/></linearGradient><linearGradient id="g85"><stop offset="0" stop-opacity="0.17"/><stop offset="0.125" stop-opacity="0.17"/><stop offset="0.25" stop-opacity="0.17"/><stop offset="0.375" stop-opacity="0.23"/><stop offset="0.5" stop-opacity="0.57"/><stop offset="0.625" stop-opacity="0.23"/><stop offset="0.75" stop-opacity="0.17"/><stop offset="0.875" stop-opacity="0.17"/><stop offset="1" stop-opacity="0.17"/></linearGradient><linearGradient id="g86"><stop offset="0" stop-opacity="0.17"/><stop offset="0.125" stop-opacity="0.17"/><stop offset="0.25" stop-opacity="0.17"/><stop offset="0.375" stop-opacity="0.22"/><stop offset="0.5" stop-opacity="0.57"/><stop offset="0.625" stop-opacity="0.22"/><stop offset="0.75" stop-opacity="0.17"/><stop offset="0.875" stop-opacity="0.17"/><stop offset="1" stop-opacity="0.17"/></linearGradient><linearGradient id="g87"><stop offset="0" stop-opacity="0.17"/><stop offset="0.125" stop-opacity="0.17"/><stop offset="0.25" stop-opacity="0.17"/><stop offset="0.375" stop-opacity="0.21"/><stop offset="0.5" stop-opacity="0.57"/><stop offset="0.625" stop-opacity="0.21"/><stop offset="0.75" stop-opacity="0.17"/><stop offset="0.875" stop-opacity="0.17"/><stop offset="1" stop-opacity="0.17"/></linearGradient><linearGradient id="g88"><stop offset="0" stop-opacity="0.17"/><stop offset="0.125" stop-opacity="0.17"/><stop offset="0.25" stop-opacity="0.17"/><stop offset="0.375" stop-opacity="0.20"/><stop offset="0.5" stop-opacity="0.57"/><stop offset="0.625" stop-opacity="0.20"/><stop offset="0.75" stop-opacity="0.17"/><stop offset="0.875" stop-opacity="0.17"/><stop offset="1" stop-opacity="0.17"/></linearGradient><linearGradient id="g89"><stop offset="0" stop-opacity="0.17"/><stop offset="0.125" stop-opacity="0.17"/><stop offset="0.25" stop-opacity="0.17"/><stop offset="0.375" stop-opacity="0.19"/><stop offset="0.5" stop-opacity="0.57"/><stop offset="0.625" stop-opacity="0.19"/><stop offset="0.75" stop-opacity="0.17"/><stop offset="0.875" stop-opacity="0.17"/><stop offset="1" stop-opacity="0.17"/></linearGradient><linearGradient id="g90"><stop offset="0" stop-opacity="0.17"/><stop offset="0.125" stop-opacity="0.17"/><stop offset="0.25" stop-opacity="0.17"/><stop offset="0.375" stop-opacity="0.18"/><stop offset="0.5" stop-opacity="0.57"/><stop offset="0.625" stop-opacity="0.18"/><stop offset="0.75" stop-opacity="0.17"/><stop offset="0.875" stop-opacity="0.17"/><stop offset="1" stop-opacity="0.17"/></linearGradient><linearGradient id="g91"><stop offset="0" stop-opacity="0.17"/><stop offset="0.125" stop-opacity="0.17"/><stop offset="0.25" stop-opacity="0.17"/><stop offset="0.375" stop-opacity="0.18"/><stop offset="0.5" stop-opacity="0.57"/><stop offset="0.625" stop-opacity="0.18"/><stop offset="0.75" stop-opacity="0.17"/><stop offset="0.875" stop-opacity="0.17"/><stop offset="1" stop-opacity="0.17"/></linearGradient><linearGradient id="g92"><stop offset="0" stop-opacity="0.17"/><stop offset="0.125" stop-opacity="0.17"/><stop offset="0.25" stop-opacity="0.17"/><stop offset="0.375" stop-opacity="0.18"/><stop offset="0.5" stop-opacity="0.57"/><stop offset="0.625" stop-opacity="0.18"/><stop offset="0.75" stop-opacity="0.17"/><stop offset="0.875" stop-opacity="0.17"/><stop offset="1" stop-opacity="0.17"/></linearGradient><linearGradient id="g93"><stop offset="0" stop-opacity="0.17"/><stop offset="0.125" stop-opacity="0.17"/><stop offset="0.25" stop-opacity="0.17"/><stop offset="0.375" stop-opacity="0.17"/><stop offset="0.5" stop-opacity="0.55"/><stop offset="0.625" stop-opacity="0.17"/><stop offset="0.75" stop-opacity="0.17"/><stop offset="0.875" stop-opacity="0.17"/><stop offset="1" stop-opacity="0.17"/></linearGradient><linearGradient id="g94"><stop offset="0" stop-opacity="0.18"/><stop offset="0.125" stop-opacity="0.18"/><stop offset="0.25" stop-opacity="0.17"/><stop offset="0.375" stop-opacity="0.17"/><stop offset="0.5" stop-opacity="0.46"/><stop offset="0.625" stop-opacity="0.17"/><stop offset="0.75" stop-opacity="0.17"/><stop offset="0.875" stop-opacity="0.18"/><stop offset="1" stop-opacity="0.18"/></linearGradient><linearGradient id="g95"><stop offset="0" stop-opacity="0.25"/><stop offset="0.125" stop-opacity="0.25"/><stop offset="0.25" stop-opacity="0.19"/><stop offset="0.375" stop-opacity="0.17"/><stop offset="0.5" stop-opacity="0.33"/><stop offset="0.625" stop-opacity="0.17"/><stop offset="0.75" stop-opacity="0.19"/><stop offset="0.875" stop-opacity="0.25"/><stop offset="1" stop-opacity="0.25"/></linearGradient><linearGradient id="g96"><stop offset="0" stop-opacity="0.36"/><stop offset="0.125" stop-opacity="0.35"/><stop offset="0.25" stop-opacity="0.23"/><stop offset="0.375" stop-opacity="0.16"/><stop offset="0.5" stop-opacity="0.20"/><stop offset="0.625" stop-opacity="0.16"/><stop offset="0.75" stop-opacity="0.23"/><stop offset="0.875" stop-opacity="0.35"/><stop offset="1" stop-opacity="0.36"/></linearGradient><linearGradient id="g97"><stop offset="0" stop-opacity="0.49"/><stop offset="0.125" stop-opacity="0.46"/><stop offset="0.25" stop-opacity="0.26"/><stop offset="0.375" stop-opacity="0.14"/><stop offset="0.5" stop-opacity="0.11"/><stop offset="0.625" stop-opacity="0.14"/><stop offset="0.75" stop-opacity="0.26"/><stop offset="0.875" stop-opacity="0.46"/><stop offset="1" stop-opacity="0.49"/></linearGradient><linearGradient id="g98"><stop offset="0" stop-opacity="0.59"/><stop offset="0.125" stop-opacity="0.56"/><stop offset="0.25" stop-opacity="0.29"/><stop offset="0.375" stop-opacity="0.11"/><stop offset="0.5" stop-opacity="0.08"/><stop offset="0.625" stop-opacity="0.11"/><stop offset="0.75" stop-opacity="0.29"/><stop offset="0.875" stop-opacity="0.56"/><stop offset="1" stop-opacity="0.59"/></linearGradient><linearGradient id="g99"><stop offset="0" stop-opacity="0.66"/><stop offset="0.125" stop-opacity="0.62"/><stop offset="0.25" stop-opacity="0.30"/><stop offset="0.375" stop-opacity="0.10"/><stop offset="0.5" stop-opacity="0.05"/><stop offset="0.625" stop-opacity="0.10"/><stop offset="0.75" stop-opacity="0.30"/><stop offset="0.875" stop-opacity="0.62"/><stop offset="1" stop-opacity="0.66"/></linearGradient><linearGradient id="cb100"><stop offset="0" stop-color="#EFEEF7"/><stop offset="1" stop-color="#7A6EB8"/></linearGradient><linearGradient id="cb101"><stop offset="0" stop-color="#EFEEF7"/><stop offset="1" stop-color="#7A6EB8"/></linearGradient><linearGradient id="cb102"><stop offset="0" stop-color="#EFEEF7"/><stop offset="1" stop-color="#7A6EB8"/></linearGradient><filter id="nze10" x="0" y="0" width="1" height="1" color-interpolation-filters="sRGB"><feTurbulence type="fractalNoise" baseFrequency="0.06 1.3" numOctaves="2" seed="38" result="n"/><feColorMatrix in="n" type="matrix" values="0 0 0 0 0 0 0 0 0 0 0 0 0 0 0 1 0 0 0 0" result="na"/><feComposite in="SourceAlpha" in2="na" operator="arithmetic" k1="0" k2="1.0" k3="1.8" k4="-0.9" result="m"/><feComponentTransfer in="m" result="t0"><feFuncA type="discrete" tableValues="0 0 0 0 0 0 1 1 1 1 1 1 1 1 1 1 1 1 1 1"/></feComponentTransfer><feFlood flood-color="#FBC6B1"/><feComposite in2="t0" operator="in" result="l0"/><feComponentTransfer in="m" result="t1"><feFuncA type="discrete" tableValues="0 0 0 0 0 0 0 0 0 0 0 1 1 1 1 1 1 1 1 1"/></feComponentTransfer><feFlood flood-color="#F59A80"/><feComposite in2="t1" operator="in" result="l1"/><feComponentTransfer in="m" result="t2"><feFuncA type="discrete" tableValues="0 0 0 0 0 0 0 0 0 0 0 0 0 0 0 0 0 1 1 1"/></feComponentTransfer><feFlood flood-color="#E2432F"/><feComposite in2="t2" operator="in" result="l2"/><feMerge><feMergeNode in="l0"/><feMergeNode in="l1"/><feMergeNode in="l2"/></feMerge></filter><linearGradient id="g103"><stop offset="0" stop-opacity="0.42"/><stop offset="0.125" stop-opacity="0.42"/><stop offset="0.25" stop-opacity="0.45"/><stop offset="0.375" stop-opacity="0.58"/><stop offset="0.5" stop-opacity="0.96"/><stop offset="0.625" stop-opacity="0.58"/><stop offset="0.75" stop-opacity="0.45"/><stop offset="0.875" stop-opacity="0.42"/><stop offset="1" stop-opacity="0.42"/></linearGradient><linearGradient id="g104"><stop offset="0" stop-opacity="0.42"/><stop offset="0.125" stop-opacity="0.42"/><stop offset="0.25" stop-opacity="0.45"/><stop offset="0.375" stop-opacity="0.58"/><stop offset="0.5" stop-opacity="0.97"/><stop offset="0.625" stop-opacity="0.58"/><stop offset="0.75" stop-opacity="0.45"/><stop offset="0.875" stop-opacity="0.42"/><stop offset="1" stop-opacity="0.42"/></linearGradient><linearGradient id="g105"><stop offset="0" stop-opacity="0.42"/><stop offset="0.125" stop-opacity="0.42"/><stop offset="0.25" stop-opacity="0.45"/><stop offset="0.375" stop-opacity="0.58"/><stop offset="0.5" stop-opacity="0.98"/><stop offset="0.625" stop-opacity="0.58"/><stop offset="0.75" stop-opacity="0.45"/><stop offset="0.875" stop-opacity="0.42"/><stop offset="1" stop-opacity="0.42"/></linearGradient><linearGradient id="g106"><stop offset="0" stop-opacity="0.42"/><stop offset="0.125" stop-opacity="0.42"/><stop offset="0.25" stop-opacity="0.45"/><stop offset="0.375" stop-opacity="0.58"/><stop offset="0.5" stop-opacity="0.99"/><stop offset="0.625" stop-opacity="0.58"/><stop offset="0.75" stop-opacity="0.45"/><stop offset="0.875" stop-opacity="0.42"/><stop offset="1" stop-opacity="0.42"/></linearGradient><linearGradient id="g107"><stop offset="0" stop-opacity="0.42"/><stop offset="0.125" stop-opacity="0.42"/><stop offset="0.25" stop-opacity="0.45"/><stop offset="0.375" stop-opacity="0.57"/><stop offset="0.5" stop-opacity="0.99"/><stop offset="0.625" stop-opacity="0.57"/><stop offset="0.75" stop-opacity="0.45"/><stop offset="0.875" stop-opacity="0.42"/><stop offset="1" stop-opacity="0.42"/></linearGradient><linearGradient id="g108"><stop offset="0" stop-opacity="0.42"/><stop offset="0.125" stop-opacity="0.42"/><stop offset="0.25" stop-opacity="0.44"/><stop offset="0.375" stop-opacity="0.55"/><stop offset="0.5" stop-opacity="0.96"/><stop offset="0.625" stop-opacity="0.55"/><stop offset="0.75" stop-opacity="0.44"/><stop offset="0.875" stop-opacity="0.42"/><stop offset="1" stop-opacity="0.42"/></linearGradient><linearGradient id="g109"><stop offset="0" stop-opacity="0.42"/><stop offset="0.125" stop-opacity="0.42"/><stop offset="0.25" stop-opacity="0.44"/><stop offset="0.375" stop-opacity="0.50"/><stop offset="0.5" stop-opacity="0.90"/><stop offset="0.625" stop-opacity="0.50"/><stop offset="0.75" stop-opacity="0.44"/><stop offset="0.875" stop-opacity="0.42"/><stop offset="1" stop-opacity="0.42"/></linearGradient><linearGradient id="g110"><stop offset="0" stop-opacity="0.42"/><stop offset="0.125" stop-opacity="0.42"/><stop offset="0.25" stop-opacity="0.43"/><stop offset="0.375" stop-opacity="0.41"/><stop offset="0.5" stop-opacity="0.83"/><stop offset="0.625" stop-opacity="0.42"/><stop offset="0.75" stop-opacity="0.43"/><stop offset="0.875" stop-opacity="0.42"/><stop offset="1" stop-opacity="0.42"/></linearGradient><linearGradient id="g111"><stop offset="0" stop-opacity="0.42"/><stop offset="0.125" stop-opacity="0.42"/><stop offset="0.25" stop-opacity="0.42"/><stop offset="0.375" stop-opacity="0.31"/><stop offset="0.5" stop-opacity="0.78"/><stop offset="0.625" stop-opacity="0.33"/><stop offset="0.75" stop-opacity="0.42"/><stop offset="0.875" stop-opacity="0.42"/><stop offset="1" stop-opacity="0.42"/></linearGradient><linearGradient id="g112"><stop offset="0" stop-opacity="0.42"/><stop offset="0.125" stop-opacity="0.42"/><stop offset="0.25" stop-opacity="0.42"/><stop offset="0.375" stop-opacity="0.23"/><stop offset="0.5" stop-opacity="0.76"/><stop offset="0.625" stop-opacity="0.26"/><stop offset="0.75" stop-opacity="0.42"/><stop offset="0.875" stop-opacity="0.42"/><stop offset="1" stop-opacity="0.42"/></linearGradient><linearGradient id="g113"><stop offset="0" stop-opacity="0.42"/><stop offset="0.125" stop-opacity="0.42"/><stop offset="0.25" stop-opacity="0.42"/><stop offset="0.375" stop-opacity="0.18"/><stop offset="0.5" stop-opacity="0.77"/><stop offset="0.625" stop-opacity="0.21"/><stop offset="0.75" stop-opacity="0.42"/><stop offset="0.875" stop-opacity="0.42"/><stop offset="1" stop-opacity="0.42"/></linearGradient><linearGradient id="g114"><stop offset="0" stop-opacity="0.44"/><stop offset="0.125" stop-opacity="0.43"/><stop offset="0.25" stop-opacity="0.43"/><stop offset="0.375" stop-opacity="0.14"/><stop offset="0.5" stop-opacity="0.78"/><stop offset="0.625" stop-opacity="0.18"/><stop offset="0.75" stop-opacity="0.43"/><stop offset="0.875" stop-opacity="0.43"/><stop offset="1" stop-opacity="0.44"/></linearGradient><linearGradient id="g115"><stop offset="0" stop-opacity="0.45"/><stop offset="0.125" stop-opacity="0.45"/><stop offset="0.25" stop-opacity="0.44"/><stop offset="0.375" stop-opacity="0.14"/><stop offset="0.5" stop-opacity="0.79"/><stop offset="0.625" stop-opacity="0.19"/><stop offset="0.75" stop-opacity="0.44"/><stop offset="0.875" stop-opacity="0.45"/><stop offset="1" stop-opacity="0.45"/></linearGradient><linearGradient id="g116"><stop offset="0" stop-opacity="0.47"/><stop offset="0.125" stop-opacity="0.46"/><stop offset="0.25" stop-opacity="0.45"/><stop offset="0.375" stop-opacity="0.15"/><stop offset="0.5" stop-opacity="0.80"/><stop offset="0.625" stop-opacity="0.19"/><stop offset="0.75" stop-opacity="0.45"/><stop offset="0.875" stop-opacity="0.46"/><stop offset="1" stop-opacity="0.47"/></linearGradient><linearGradient id="g117"><stop offset="0" stop-opacity="0.49"/><stop offset="0.125" stop-opacity="0.47"/><stop offset="0.25" stop-opacity="0.45"/><stop offset="0.375" stop-opacity="0.15"/><stop offset="0.5" stop-opacity="0.81"/><stop offset="0.625" stop-opacity="0.19"/><stop offset="0.75" stop-opacity="0.45"/><stop offset="0.875" stop-opacity="0.47"/><stop offset="1" stop-opacity="0.49"/></linearGradient><linearGradient id="g118"><stop offset="0" stop-opacity="0.50"/><stop offset="0.125" stop-opacity="0.48"/><stop offset="0.25" stop-opacity="0.46"/><stop offset="0.375" stop-opacity="0.15"/><stop offset="0.5" stop-opacity="0.82"/><stop offset="0.625" stop-opacity="0.20"/><stop offset="0.75" stop-opacity="0.46"/><stop offset="0.875" stop-opacity="0.48"/><stop offset="1" stop-opacity="0.50"/></linearGradient><filter id="nze11" x="0" y="0" width="1" height="1" color-interpolation-filters="sRGB"><feTurbulence type="fractalNoise" baseFrequency="0.06 1.3" numOctaves="2" seed="39" result="n"/><feColorMatrix in="n" type="matrix" values="0 0 0 0 0 0 0 0 0 0 0 0 0 0 0 1 0 0 0 0" result="na"/><feComposite in="SourceAlpha" in2="na" operator="arithmetic" k1="0" k2="1.0" k3="1.8" k4="-0.9" result="m"/><feComponentTransfer in="m" result="t0"><feFuncA type="discrete" tableValues="0 0 0 0 0 0 1 1 1 1 1 1 1 1 1 1 1 1 1 1"/></feComponentTransfer><feFlood flood-color="#FBC6B1"/><feComposite in2="t0" operator="in" result="l0"/><feComponentTransfer in="m" result="t1"><feFuncA type="discrete" tableValues="0 0 0 0 0 0 0 0 0 0 0 1 1 1 1 1 1 1 1 1"/></feComponentTransfer><feFlood flood-color="#F59A80"/><feComposite in2="t1" operator="in" result="l1"/><feComponentTransfer in="m" result="t2"><feFuncA type="discrete" tableValues="0 0 0 0 0 0 0 0 0 0 0 0 0 0 0 0 0 1 1 1"/></feComponentTransfer><feFlood flood-color="#E2432F"/><feComposite in2="t2" operator="in" result="l2"/><feMerge><feMergeNode in="l0"/><feMergeNode in="l1"/><feMergeNode in="l2"/></feMerge></filter><linearGradient id="g119"><stop offset="0" stop-opacity="0.42"/><stop offset="0.125" stop-opacity="0.42"/><stop offset="0.25" stop-opacity="0.45"/><stop offset="0.375" stop-opacity="0.60"/><stop offset="0.5" stop-opacity="1.00"/><stop offset="0.625" stop-opacity="0.60"/><stop offset="0.75" stop-opacity="0.45"/><stop offset="0.875" stop-opacity="0.42"/><stop offset="1" stop-opacity="0.42"/></linearGradient><linearGradient id="g120"><stop offset="0" stop-opacity="0.42"/><stop offset="0.125" stop-opacity="0.42"/><stop offset="0.25" stop-opacity="0.45"/><stop offset="0.375" stop-opacity="0.60"/><stop offset="0.5" stop-opacity="1.00"/><stop offset="0.625" stop-opacity="0.60"/><stop offset="0.75" stop-opacity="0.45"/><stop offset="0.875" stop-opacity="0.42"/><stop offset="1" stop-opacity="0.42"/></linearGradient><linearGradient id="g121"><stop offset="0" stop-opacity="0.42"/><stop offset="0.125" stop-opacity="0.42"/><stop offset="0.25" stop-opacity="0.45"/><stop offset="0.375" stop-opacity="0.60"/><stop offset="0.5" stop-opacity="1.00"/><stop offset="0.625" stop-opacity="0.60"/><stop offset="0.75" stop-opacity="0.45"/><stop offset="0.875" stop-opacity="0.42"/><stop offset="1" stop-opacity="0.42"/></linearGradient><linearGradient id="g122"><stop offset="0" stop-opacity="0.42"/><stop offset="0.125" stop-opacity="0.42"/><stop offset="0.25" stop-opacity="0.45"/><stop offset="0.375" stop-opacity="0.60"/><stop offset="0.5" stop-opacity="1.00"/><stop offset="0.625" stop-opacity="0.60"/><stop offset="0.75" stop-opacity="0.45"/><stop offset="0.875" stop-opacity="0.42"/><stop offset="1" stop-opacity="0.42"/></linearGradient><linearGradient id="g123"><stop offset="0" stop-opacity="0.42"/><stop offset="0.125" stop-opacity="0.42"/><stop offset="0.25" stop-opacity="0.45"/><stop offset="0.375" stop-opacity="0.60"/><stop offset="0.5" stop-opacity="1.00"/><stop offset="0.625" stop-opacity="0.60"/><stop offset="0.75" stop-opacity="0.45"/><stop offset="0.875" stop-opacity="0.42"/><stop offset="1" stop-opacity="0.42"/></linearGradient><linearGradient id="g124"><stop offset="0" stop-opacity="0.42"/><stop offset="0.125" stop-opacity="0.42"/><stop offset="0.25" stop-opacity="0.45"/><stop offset="0.375" stop-opacity="0.57"/><stop offset="0.5" stop-opacity="1.00"/><stop offset="0.625" stop-opacity="0.57"/><stop offset="0.75" stop-opacity="0.45"/><stop offset="0.875" stop-opacity="0.42"/><stop offset="1" stop-opacity="0.42"/></linearGradient><linearGradient id="g125"><stop offset="0" stop-opacity="0.42"/><stop offset="0.125" stop-opacity="0.42"/><stop offset="0.25" stop-opacity="0.44"/><stop offset="0.375" stop-opacity="0.51"/><stop offset="0.5" stop-opacity="0.97"/><stop offset="0.625" stop-opacity="0.51"/><stop offset="0.75" stop-opacity="0.44"/><stop offset="0.875" stop-opacity="0.42"/><stop offset="1" stop-opacity="0.42"/></linearGradient><linearGradient id="g126"><stop offset="0" stop-opacity="0.42"/><stop offset="0.125" stop-opacity="0.42"/><stop offset="0.25" stop-opacity="0.43"/><stop offset="0.375" stop-opacity="0.42"/><stop offset="0.5" stop-opacity="0.90"/><stop offset="0.625" stop-opacity="0.43"/><stop offset="0.75" stop-opacity="0.43"/><stop offset="0.875" stop-opacity="0.42"/><stop offset="1" stop-opacity="0.42"/></linearGradient><linearGradient id="g127"><stop offset="0" stop-opacity="0.42"/><stop offset="0.125" stop-opacity="0.42"/><stop offset="0.25" stop-opacity="0.42"/><stop offset="0.375" stop-opacity="0.32"/><stop offset="0.5" stop-opacity="0.84"/><stop offset="0.625" stop-opacity="0.33"/><stop offset="0.75" stop-opacity="0.42"/><stop offset="0.875" stop-opacity="0.42"/><stop offset="1" stop-opacity="0.42"/></linearGradient><linearGradient id="g128"><stop offset="0" stop-opacity="0.42"/><stop offset="0.125" stop-opacity="0.42"/><stop offset="0.25" stop-opacity="0.42"/><stop offset="0.375" stop-opacity="0.23"/><stop offset="0.5" stop-opacity="0.81"/><stop offset="0.625" stop-opacity="0.26"/><stop offset="0.75" stop-opacity="0.42"/><stop offset="0.875" stop-opacity="0.42"/><stop offset="1" stop-opacity="0.42"/></linearGradient><linearGradient id="g129"><stop offset="0" stop-opacity="0.42"/><stop offset="0.125" stop-opacity="0.42"/><stop offset="0.25" stop-opacity="0.42"/><stop offset="0.375" stop-opacity="0.18"/><stop offset="0.5" stop-opacity="0.82"/><stop offset="0.625" stop-opacity="0.21"/><stop offset="0.75" stop-opacity="0.42"/><stop offset="0.875" stop-opacity="0.42"/><stop offset="1" stop-opacity="0.42"/></linearGradient><linearGradient id="g130"><stop offset="0" stop-opacity="0.44"/><stop offset="0.125" stop-opacity="0.43"/><stop offset="0.25" stop-opacity="0.43"/><stop offset="0.375" stop-opacity="0.14"/><stop offset="0.5" stop-opacity="0.83"/><stop offset="0.625" stop-opacity="0.19"/><stop offset="0.75" stop-opacity="0.43"/><stop offset="0.875" stop-opacity="0.43"/><stop offset="1" stop-opacity="0.44"/></linearGradient><linearGradient id="g131"><stop offset="0" stop-opacity="0.46"/><stop offset="0.125" stop-opacity="0.45"/><stop offset="0.25" stop-opacity="0.44"/><stop offset="0.375" stop-opacity="0.14"/><stop offset="0.5" stop-opacity="0.84"/><stop offset="0.625" stop-opacity="0.19"/><stop offset="0.75" stop-opacity="0.44"/><stop offset="0.875" stop-opacity="0.45"/><stop offset="1" stop-opacity="0.46"/></linearGradient><linearGradient id="g132"><stop offset="0" stop-opacity="0.48"/><stop offset="0.125" stop-opacity="0.47"/><stop offset="0.25" stop-opacity="0.45"/><stop offset="0.375" stop-opacity="0.15"/><stop offset="0.5" stop-opacity="0.85"/><stop offset="0.625" stop-opacity="0.19"/><stop offset="0.75" stop-opacity="0.45"/><stop offset="0.875" stop-opacity="0.47"/><stop offset="1" stop-opacity="0.48"/></linearGradient><linearGradient id="g133"><stop offset="0" stop-opacity="0.50"/><stop offset="0.125" stop-opacity="0.48"/><stop offset="0.25" stop-opacity="0.46"/><stop offset="0.375" stop-opacity="0.15"/><stop offset="0.5" stop-opacity="0.86"/><stop offset="0.625" stop-opacity="0.20"/><stop offset="0.75" stop-opacity="0.46"/><stop offset="0.875" stop-opacity="0.48"/><stop offset="1" stop-opacity="0.50"/></linearGradient><linearGradient id="g134"><stop offset="0" stop-opacity="0.51"/><stop offset="0.125" stop-opacity="0.49"/><stop offset="0.25" stop-opacity="0.47"/><stop offset="0.375" stop-opacity="0.16"/><stop offset="0.5" stop-opacity="0.87"/><stop offset="0.625" stop-opacity="0.20"/><stop offset="0.75" stop-opacity="0.47"/><stop offset="0.875" stop-opacity="0.49"/><stop offset="1" stop-opacity="0.51"/></linearGradient><filter id="nze12" x="0" y="0" width="1" height="1" color-interpolation-filters="sRGB"><feTurbulence type="fractalNoise" baseFrequency="0.06 1.3" numOctaves="2" seed="40" result="n"/><feColorMatrix in="n" type="matrix" values="0 0 0 0 0 0 0 0 0 0 0 0 0 0 0 1 0 0 0 0" result="na"/><feComposite in="SourceAlpha" in2="na" operator="arithmetic" k1="0" k2="1.0" k3="1.8" k4="-0.9" result="m"/><feComponentTransfer in="m" result="t0"><feFuncA type="discrete" tableValues="0 0 0 0 0 0 1 1 1 1 1 1 1 1 1 1 1 1 1 1"/></feComponentTransfer><feFlood flood-color="#FBC6B1"/><feComposite in2="t0" operator="in" result="l0"/><feComponentTransfer in="m" result="t1"><feFuncA type="discrete" tableValues="0 0 0 0 0 0 0 0 0 0 0 1 1 1 1 1 1 1 1 1"/></feComponentTransfer><feFlood flood-color="#F59A80"/><feComposite in2="t1" operator="in" result="l1"/><feComponentTransfer in="m" result="t2"><feFuncA type="discrete" tableValues="0 0 0 0 0 0 0 0 0 0 0 0 0 0 0 0 0 1 1 1"/></feComponentTransfer><feFlood flood-color="#E2432F"/><feComposite in2="t2" operator="in" result="l2"/><feMerge><feMergeNode in="l0"/><feMergeNode in="l1"/><feMergeNode in="l2"/></feMerge></filter><linearGradient id="g135"><stop offset="0" stop-opacity="0.42"/><stop offset="0.125" stop-opacity="0.42"/><stop offset="0.25" stop-opacity="0.44"/><stop offset="0.375" stop-opacity="0.51"/><stop offset="0.5" stop-opacity="0.75"/><stop offset="0.625" stop-opacity="0.51"/><stop offset="0.75" stop-opacity="0.44"/><stop offset="0.875" stop-opacity="0.42"/><stop offset="1" stop-opacity="0.42"/></linearGradient><linearGradient id="g136"><stop offset="0" stop-opacity="0.42"/><stop offset="0.125" stop-opacity="0.42"/><stop offset="0.25" stop-opacity="0.44"/><stop offset="0.375" stop-opacity="0.51"/><stop offset="0.5" stop-opacity="0.75"/><stop offset="0.625" stop-opacity="0.51"/><stop offset="0.75" stop-opacity="0.44"/><stop offset="0.875" stop-opacity="0.42"/><stop offset="1" stop-opacity="0.42"/></linearGradient><linearGradient id="g137"><stop offset="0" stop-opacity="0.42"/><stop offset="0.125" stop-opacity="0.42"/><stop offset="0.25" stop-opacity="0.44"/><stop offset="0.375" stop-opacity="0.51"/><stop offset="0.5" stop-opacity="0.76"/><stop offset="0.625" stop-opacity="0.51"/><stop offset="0.75" stop-opacity="0.44"/><stop offset="0.875" stop-opacity="0.42"/><stop offset="1" stop-opacity="0.42"/></linearGradient><linearGradient id="g138"><stop offset="0" stop-opacity="0.42"/><stop offset="0.125" stop-opacity="0.42"/><stop offset="0.25" stop-opacity="0.44"/><stop offset="0.375" stop-opacity="0.51"/><stop offset="0.5" stop-opacity="0.76"/><stop offset="0.625" stop-opacity="0.51"/><stop offset="0.75" stop-opacity="0.44"/><stop offset="0.875" stop-opacity="0.42"/><stop offset="1" stop-opacity="0.42"/></linearGradient><linearGradient id="g139"><stop offset="0" stop-opacity="0.42"/><stop offset="0.125" stop-opacity="0.42"/><stop offset="0.25" stop-opacity="0.44"/><stop offset="0.375" stop-opacity="0.51"/><stop offset="0.5" stop-opacity="0.76"/><stop offset="0.625" stop-opacity="0.51"/><stop offset="0.75" stop-opacity="0.44"/><stop offset="0.875" stop-opacity="0.42"/><stop offset="1" stop-opacity="0.42"/></linearGradient><linearGradient id="g140"><stop offset="0" stop-opacity="0.42"/><stop offset="0.125" stop-opacity="0.42"/><stop offset="0.25" stop-opacity="0.43"/><stop offset="0.375" stop-opacity="0.50"/><stop offset="0.5" stop-opacity="0.74"/><stop offset="0.625" stop-opacity="0.50"/><stop offset="0.75" stop-opacity="0.43"/><stop offset="0.875" stop-opacity="0.42"/><stop offset="1" stop-opacity="0.42"/></linearGradient><linearGradient id="g141"><stop offset="0" stop-opacity="0.42"/><stop offset="0.125" stop-opacity="0.42"/><stop offset="0.25" stop-opacity="0.43"/><stop offset="0.375" stop-opacity="0.46"/><stop offset="0.5" stop-opacity="0.71"/><stop offset="0.625" stop-opacity="0.46"/><stop offset="0.75" stop-opacity="0.43"/><stop offset="0.875" stop-opacity="0.42"/><stop offset="1" stop-opacity="0.42"/></linearGradient><linearGradient id="g142"><stop offset="0" stop-opacity="0.42"/><stop offset="0.125" stop-opacity="0.42"/><stop offset="0.25" stop-opacity="0.43"/><stop offset="0.375" stop-opacity="0.39"/><stop offset="0.5" stop-opacity="0.67"/><stop offset="0.625" stop-opacity="0.40"/><stop offset="0.75" stop-opacity="0.43"/><stop offset="0.875" stop-opacity="0.42"/><stop offset="1" stop-opacity="0.42"/></linearGradient><linearGradient id="g143"><stop offset="0" stop-opacity="0.42"/><stop offset="0.125" stop-opacity="0.42"/><stop offset="0.25" stop-opacity="0.42"/><stop offset="0.375" stop-opacity="0.31"/><stop offset="0.5" stop-opacity="0.64"/><stop offset="0.625" stop-opacity="0.32"/><stop offset="0.75" stop-opacity="0.42"/><stop offset="0.875" stop-opacity="0.42"/><stop offset="1" stop-opacity="0.42"/></linearGradient><linearGradient id="g144"><stop offset="0" stop-opacity="0.42"/><stop offset="0.125" stop-opacity="0.42"/><stop offset="0.25" stop-opacity="0.42"/><stop offset="0.375" stop-opacity="0.23"/><stop offset="0.5" stop-opacity="0.63"/><stop offset="0.625" stop-opacity="0.26"/><stop offset="0.75" stop-opacity="0.42"/><stop offset="0.875" stop-opacity="0.42"/><stop offset="1" stop-opacity="0.42"/></linearGradient><linearGradient id="g145"><stop offset="0" stop-opacity="0.42"/><stop offset="0.125" stop-opacity="0.42"/><stop offset="0.25" stop-opacity="0.42"/><stop offset="0.375" stop-opacity="0.17"/><stop offset="0.5" stop-opacity="0.63"/><stop offset="0.625" stop-opacity="0.21"/><stop offset="0.75" stop-opacity="0.42"/><stop offset="0.875" stop-opacity="0.42"/><stop offset="1" stop-opacity="0.42"/></linearGradient><linearGradient id="g146"><stop offset="0" stop-opacity="0.43"/><stop offset="0.125" stop-opacity="0.43"/><stop offset="0.25" stop-opacity="0.43"/><stop offset="0.375" stop-opacity="0.14"/><stop offset="0.5" stop-opacity="0.64"/><stop offset="0.625" stop-opacity="0.18"/><stop offset="0.75" stop-opacity="0.43"/><stop offset="0.875" stop-opacity="0.43"/><stop offset="1" stop-opacity="0.43"/></linearGradient><linearGradient id="g147"><stop offset="0" stop-opacity="0.44"/><stop offset="0.125" stop-opacity="0.44"/><stop offset="0.25" stop-opacity="0.43"/><stop offset="0.375" stop-opacity="0.14"/><stop offset="0.5" stop-opacity="0.64"/><stop offset="0.625" stop-opacity="0.18"/><stop offset="0.75" stop-opacity="0.43"/><stop offset="0.875" stop-opacity="0.44"/><stop offset="1" stop-opacity="0.44"/></linearGradient><linearGradient id="g148"><stop offset="0" stop-opacity="0.45"/><stop offset="0.125" stop-opacity="0.44"/><stop offset="0.25" stop-opacity="0.44"/><stop offset="0.375" stop-opacity="0.14"/><stop offset="0.5" stop-opacity="0.65"/><stop offset="0.625" stop-opacity="0.18"/><stop offset="0.75" stop-opacity="0.44"/><stop offset="0.875" stop-opacity="0.44"/><stop offset="1" stop-opacity="0.45"/></linearGradient><linearGradient id="g149"><stop offset="0" stop-opacity="0.46"/><stop offset="0.125" stop-opacity="0.45"/><stop offset="0.25" stop-opacity="0.44"/><stop offset="0.375" stop-opacity="0.14"/><stop offset="0.5" stop-opacity="0.65"/><stop offset="0.625" stop-opacity="0.19"/><stop offset="0.75" stop-opacity="0.44"/><stop offset="0.875" stop-opacity="0.45"/><stop offset="1" stop-opacity="0.46"/></linearGradient><linearGradient id="g150"><stop offset="0" stop-opacity="0.47"/><stop offset="0.125" stop-opacity="0.46"/><stop offset="0.25" stop-opacity="0.44"/><stop offset="0.375" stop-opacity="0.15"/><stop offset="0.5" stop-opacity="0.66"/><stop offset="0.625" stop-opacity="0.19"/><stop offset="0.75" stop-opacity="0.44"/><stop offset="0.875" stop-opacity="0.46"/><stop offset="1" stop-opacity="0.47"/></linearGradient><linearGradient id="cb151"><stop offset="0" stop-color="#FDE3D6"/><stop offset="1" stop-color="#D7301F"/></linearGradient><linearGradient id="cb152"><stop offset="0" stop-color="#FDE3D6"/><stop offset="1" stop-color="#D7301F"/></linearGradient><linearGradient id="cb153"><stop offset="0" stop-color="#FDE3D6"/><stop offset="1" stop-color="#D7301F"/></linearGradient><filter id="nze20" x="0" y="0" width="1" height="1" color-interpolation-filters="sRGB"><feTurbulence type="fractalNoise" baseFrequency="0.04 0.9" numOctaves="2" seed="45" result="n"/><feColorMatrix in="n" type="matrix" values="0 0 0 0 0 0 0 0 0 0 0 0 0 0 0 1 0 0 0 0" result="na"/><feComposite in="SourceAlpha" in2="na" operator="arithmetic" k1="0" k2="1.0" k3="2.5" k4="-1.25" result="m"/><feComponentTransfer in="m" result="t0"><feFuncA type="discrete" tableValues="0 0 0 0 0 0 0 0 0 0 0 0 1 1 1 1 1 1 1 1"/></feComponentTransfer><feFlood flood-color="#A3C6EE"/><feComposite in2="t0" operator="in" result="l0"/><feComponentTransfer in="m" result="t1"><feFuncA type="discrete" tableValues="0 0 0 0 0 0 0 0 0 0 0 0 0 0 0 1 1 1 1 1"/></feComponentTransfer><feFlood flood-color="#5A95E0"/><feComposite in2="t1" operator="in" result="l1"/><feComponentTransfer in="m" result="t2"><feFuncA type="discrete" tableValues="0 0 0 0 0 0 0 0 0 0 0 0 0 0 0 0 0 1 1 1"/></feComponentTransfer><feFlood flood-color="#1F6FD2"/><feComposite in2="t2" operator="in" result="l2"/><feMerge><feMergeNode in="l0"/><feMergeNode in="l1"/><feMergeNode in="l2"/></feMerge></filter><linearGradient id="g154"><stop offset="0" stop-opacity="0.10"/><stop offset="0.125" stop-opacity="0.10"/><stop offset="0.25" stop-opacity="0.11"/><stop offset="0.375" stop-opacity="0.36"/><stop offset="0.5" stop-opacity="0.80"/><stop offset="0.625" stop-opacity="0.36"/><stop offset="0.75" stop-opacity="0.11"/><stop offset="0.875" stop-opacity="0.10"/><stop offset="1" stop-opacity="0.10"/></linearGradient><linearGradient id="g155"><stop offset="0" stop-opacity="0.10"/><stop offset="0.125" stop-opacity="0.10"/><stop offset="0.25" stop-opacity="0.11"/><stop offset="0.375" stop-opacity="0.35"/><stop offset="0.5" stop-opacity="0.78"/><stop offset="0.625" stop-opacity="0.35"/><stop offset="0.75" stop-opacity="0.11"/><stop offset="0.875" stop-opacity="0.10"/><stop offset="1" stop-opacity="0.10"/></linearGradient><linearGradient id="g156"><stop offset="0" stop-opacity="0.10"/><stop offset="0.125" stop-opacity="0.10"/><stop offset="0.25" stop-opacity="0.11"/><stop offset="0.375" stop-opacity="0.31"/><stop offset="0.5" stop-opacity="0.68"/><stop offset="0.625" stop-opacity="0.31"/><stop offset="0.75" stop-opacity="0.11"/><stop offset="0.875" stop-opacity="0.10"/><stop offset="1" stop-opacity="0.10"/></linearGradient><linearGradient id="g157"><stop offset="0" stop-opacity="0.10"/><stop offset="0.125" stop-opacity="0.10"/><stop offset="0.25" stop-opacity="0.11"/><stop offset="0.375" stop-opacity="0.26"/><stop offset="0.5" stop-opacity="0.53"/><stop offset="0.625" stop-opacity="0.26"/><stop offset="0.75" stop-opacity="0.11"/><stop offset="0.875" stop-opacity="0.10"/><stop offset="1" stop-opacity="0.10"/></linearGradient><linearGradient id="g158"><stop offset="0" stop-opacity="0.10"/><stop offset="0.125" stop-opacity="0.10"/><stop offset="0.25" stop-opacity="0.10"/><stop offset="0.375" stop-opacity="0.20"/><stop offset="0.5" stop-opacity="0.37"/><stop offset="0.625" stop-opacity="0.20"/><stop offset="0.75" stop-opacity="0.10"/><stop offset="0.875" stop-opacity="0.10"/><stop offset="1" stop-opacity="0.10"/></linearGradient><linearGradient id="g159"><stop offset="0" stop-opacity="0.10"/><stop offset="0.125" stop-opacity="0.10"/><stop offset="0.25" stop-opacity="0.10"/><stop offset="0.375" stop-opacity="0.14"/><stop offset="0.5" stop-opacity="0.22"/><stop offset="0.625" stop-opacity="0.14"/><stop offset="0.75" stop-opacity="0.10"/><stop offset="0.875" stop-opacity="0.10"/><stop offset="1" stop-opacity="0.10"/></linearGradient><linearGradient id="g160"><stop offset="0" stop-opacity="0.10"/><stop offset="0.125" stop-opacity="0.10"/><stop offset="0.25" stop-opacity="0.10"/><stop offset="0.375" stop-opacity="0.11"/><stop offset="0.5" stop-opacity="0.12"/><stop offset="0.625" stop-opacity="0.11"/><stop offset="0.75" stop-opacity="0.10"/><stop offset="0.875" stop-opacity="0.10"/><stop offset="1" stop-opacity="0.10"/></linearGradient><linearGradient id="g161"><stop offset="0" stop-opacity="0.10"/><stop offset="0.125" stop-opacity="0.10"/><stop offset="0.25" stop-opacity="0.10"/><stop offset="0.375" stop-opacity="0.10"/><stop offset="0.5" stop-opacity="0.10"/><stop offset="0.625" stop-opacity="0.10"/><stop offset="0.75" stop-opacity="0.10"/><stop offset="0.875" stop-opacity="0.10"/><stop offset="1" stop-opacity="0.10"/></linearGradient><linearGradient id="g162"><stop offset="0" stop-opacity="0.10"/><stop offset="0.125" stop-opacity="0.10"/><stop offset="0.25" stop-opacity="0.10"/><stop offset="0.375" stop-opacity="0.10"/><stop offset="0.5" stop-opacity="0.10"/><stop offset="0.625" stop-opacity="0.10"/><stop offset="0.75" stop-opacity="0.10"/><stop offset="0.875" stop-opacity="0.10"/><stop offset="1" stop-opacity="0.10"/></linearGradient><linearGradient id="g163"><stop offset="0" stop-opacity="0.10"/><stop offset="0.125" stop-opacity="0.10"/><stop offset="0.25" stop-opacity="0.10"/><stop offset="0.375" stop-opacity="0.10"/><stop offset="0.5" stop-opacity="0.10"/><stop offset="0.625" stop-opacity="0.10"/><stop offset="0.75" stop-opacity="0.10"/><stop offset="0.875" stop-opacity="0.10"/><stop offset="1" stop-opacity="0.10"/></linearGradient><linearGradient id="g164"><stop offset="0" stop-opacity="0.12"/><stop offset="0.125" stop-opacity="0.11"/><stop offset="0.25" stop-opacity="0.11"/><stop offset="0.375" stop-opacity="0.10"/><stop offset="0.5" stop-opacity="0.10"/><stop offset="0.625" stop-opacity="0.10"/><stop offset="0.75" stop-opacity="0.11"/><stop offset="0.875" stop-opacity="0.11"/><stop offset="1" stop-opacity="0.12"/></linearGradient><linearGradient id="g165"><stop offset="0" stop-opacity="0.20"/><stop offset="0.125" stop-opacity="0.19"/><stop offset="0.25" stop-opacity="0.13"/><stop offset="0.375" stop-opacity="0.10"/><stop offset="0.5" stop-opacity="0.10"/><stop offset="0.625" stop-opacity="0.10"/><stop offset="0.75" stop-opacity="0.13"/><stop offset="0.875" stop-opacity="0.19"/><stop offset="1" stop-opacity="0.20"/></linearGradient><linearGradient id="g166"><stop offset="0" stop-opacity="0.34"/><stop offset="0.125" stop-opacity="0.31"/><stop offset="0.25" stop-opacity="0.18"/><stop offset="0.375" stop-opacity="0.10"/><stop offset="0.5" stop-opacity="0.10"/><stop offset="0.625" stop-opacity="0.10"/><stop offset="0.75" stop-opacity="0.18"/><stop offset="0.875" stop-opacity="0.31"/><stop offset="1" stop-opacity="0.34"/></linearGradient><linearGradient id="g167"><stop offset="0" stop-opacity="0.49"/><stop offset="0.125" stop-opacity="0.44"/><stop offset="0.25" stop-opacity="0.23"/><stop offset="0.375" stop-opacity="0.10"/><stop offset="0.5" stop-opacity="0.10"/><stop offset="0.625" stop-opacity="0.10"/><stop offset="0.75" stop-opacity="0.23"/><stop offset="0.875" stop-opacity="0.44"/><stop offset="1" stop-opacity="0.49"/></linearGradient><linearGradient id="g168"><stop offset="0" stop-opacity="0.63"/><stop offset="0.125" stop-opacity="0.55"/><stop offset="0.25" stop-opacity="0.27"/><stop offset="0.375" stop-opacity="0.10"/><stop offset="0.5" stop-opacity="0.10"/><stop offset="0.625" stop-opacity="0.10"/><stop offset="0.75" stop-opacity="0.27"/><stop offset="0.875" stop-opacity="0.55"/><stop offset="1" stop-opacity="0.63"/></linearGradient><linearGradient id="g169"><stop offset="0" stop-opacity="0.71"/><stop offset="0.125" stop-opacity="0.63"/><stop offset="0.25" stop-opacity="0.30"/><stop offset="0.375" stop-opacity="0.10"/><stop offset="0.5" stop-opacity="0.10"/><stop offset="0.625" stop-opacity="0.10"/><stop offset="0.75" stop-opacity="0.30"/><stop offset="0.875" stop-opacity="0.63"/><stop offset="1" stop-opacity="0.71"/></linearGradient><filter id="nze21" x="0" y="0" width="1" height="1" color-interpolation-filters="sRGB"><feTurbulence type="fractalNoise" baseFrequency="0.04 0.9" numOctaves="2" seed="46" result="n"/><feColorMatrix in="n" type="matrix" values="0 0 0 0 0 0 0 0 0 0 0 0 0 0 0 1 0 0 0 0" result="na"/><feComposite in="SourceAlpha" in2="na" operator="arithmetic" k1="0" k2="1.0" k3="2.5" k4="-1.25" result="m"/><feComponentTransfer in="m" result="t0"><feFuncA type="discrete" tableValues="0 0 0 0 0 0 0 0 0 0 0 0 1 1 1 1 1 1 1 1"/></feComponentTransfer><feFlood flood-color="#A3C6EE"/><feComposite in2="t0" operator="in" result="l0"/><feComponentTransfer in="m" result="t1"><feFuncA type="discrete" tableValues="0 0 0 0 0 0 0 0 0 0 0 0 0 0 0 1 1 1 1 1"/></feComponentTransfer><feFlood flood-color="#5A95E0"/><feComposite in2="t1" operator="in" result="l1"/><feComponentTransfer in="m" result="t2"><feFuncA type="discrete" tableValues="0 0 0 0 0 0 0 0 0 0 0 0 0 0 0 0 0 1 1 1"/></feComponentTransfer><feFlood flood-color="#1F6FD2"/><feComposite in2="t2" operator="in" result="l2"/><feMerge><feMergeNode in="l0"/><feMergeNode in="l1"/><feMergeNode in="l2"/></feMerge></filter><linearGradient id="g170"><stop offset="0" stop-opacity="0.16"/><stop offset="0.125" stop-opacity="0.16"/><stop offset="0.25" stop-opacity="0.17"/><stop offset="0.375" stop-opacity="0.49"/><stop offset="0.5" stop-opacity="1.00"/><stop offset="0.625" stop-opacity="0.49"/><stop offset="0.75" stop-opacity="0.17"/><stop offset="0.875" stop-opacity="0.16"/><stop offset="1" stop-opacity="0.16"/></linearGradient><linearGradient id="g171"><stop offset="0" stop-opacity="0.16"/><stop offset="0.125" stop-opacity="0.16"/><stop offset="0.25" stop-opacity="0.17"/><stop offset="0.375" stop-opacity="0.48"/><stop offset="0.5" stop-opacity="1.00"/><stop offset="0.625" stop-opacity="0.48"/><stop offset="0.75" stop-opacity="0.17"/><stop offset="0.875" stop-opacity="0.16"/><stop offset="1" stop-opacity="0.16"/></linearGradient><linearGradient id="g172"><stop offset="0" stop-opacity="0.16"/><stop offset="0.125" stop-opacity="0.16"/><stop offset="0.25" stop-opacity="0.17"/><stop offset="0.375" stop-opacity="0.43"/><stop offset="0.5" stop-opacity="0.91"/><stop offset="0.625" stop-opacity="0.43"/><stop offset="0.75" stop-opacity="0.17"/><stop offset="0.875" stop-opacity="0.16"/><stop offset="1" stop-opacity="0.16"/></linearGradient><linearGradient id="g173"><stop offset="0" stop-opacity="0.16"/><stop offset="0.125" stop-opacity="0.16"/><stop offset="0.25" stop-opacity="0.17"/><stop offset="0.375" stop-opacity="0.36"/><stop offset="0.5" stop-opacity="0.72"/><stop offset="0.625" stop-opacity="0.36"/><stop offset="0.75" stop-opacity="0.17"/><stop offset="0.875" stop-opacity="0.16"/><stop offset="1" stop-opacity="0.16"/></linearGradient><linearGradient id="g174"><stop offset="0" stop-opacity="0.16"/><stop offset="0.125" stop-opacity="0.16"/><stop offset="0.25" stop-opacity="0.16"/><stop offset="0.375" stop-opacity="0.28"/><stop offset="0.5" stop-opacity="0.51"/><stop offset="0.625" stop-opacity="0.28"/><stop offset="0.75" stop-opacity="0.16"/><stop offset="0.875" stop-opacity="0.16"/><stop offset="1" stop-opacity="0.16"/></linearGradient><linearGradient id="g175"><stop offset="0" stop-opacity="0.16"/><stop offset="0.125" stop-opacity="0.16"/><stop offset="0.25" stop-opacity="0.16"/><stop offset="0.375" stop-opacity="0.21"/><stop offset="0.5" stop-opacity="0.31"/><stop offset="0.625" stop-opacity="0.21"/><stop offset="0.75" stop-opacity="0.16"/><stop offset="0.875" stop-opacity="0.16"/><stop offset="1" stop-opacity="0.16"/></linearGradient><linearGradient id="g176"><stop offset="0" stop-opacity="0.16"/><stop offset="0.125" stop-opacity="0.16"/><stop offset="0.25" stop-opacity="0.16"/><stop offset="0.375" stop-opacity="0.17"/><stop offset="0.5" stop-opacity="0.19"/><stop offset="0.625" stop-opacity="0.17"/><stop offset="0.75" stop-opacity="0.16"/><stop offset="0.875" stop-opacity="0.16"/><stop offset="1" stop-opacity="0.16"/></linearGradient><linearGradient id="g177"><stop offset="0" stop-opacity="0.16"/><stop offset="0.125" stop-opacity="0.16"/><stop offset="0.25" stop-opacity="0.16"/><stop offset="0.375" stop-opacity="0.16"/><stop offset="0.5" stop-opacity="0.16"/><stop offset="0.625" stop-opacity="0.16"/><stop offset="0.75" stop-opacity="0.16"/><stop offset="0.875" stop-opacity="0.16"/><stop offset="1" stop-opacity="0.16"/></linearGradient><linearGradient id="g178"><stop offset="0" stop-opacity="0.16"/><stop offset="0.125" stop-opacity="0.16"/><stop offset="0.25" stop-opacity="0.16"/><stop offset="0.375" stop-opacity="0.16"/><stop offset="0.5" stop-opacity="0.16"/><stop offset="0.625" stop-opacity="0.16"/><stop offset="0.75" stop-opacity="0.16"/><stop offset="0.875" stop-opacity="0.16"/><stop offset="1" stop-opacity="0.16"/></linearGradient><linearGradient id="g179"><stop offset="0" stop-opacity="0.16"/><stop offset="0.125" stop-opacity="0.16"/><stop offset="0.25" stop-opacity="0.16"/><stop offset="0.375" stop-opacity="0.16"/><stop offset="0.5" stop-opacity="0.16"/><stop offset="0.625" stop-opacity="0.16"/><stop offset="0.75" stop-opacity="0.16"/><stop offset="0.875" stop-opacity="0.16"/><stop offset="1" stop-opacity="0.16"/></linearGradient><linearGradient id="g180"><stop offset="0" stop-opacity="0.18"/><stop offset="0.125" stop-opacity="0.17"/><stop offset="0.25" stop-opacity="0.16"/><stop offset="0.375" stop-opacity="0.16"/><stop offset="0.5" stop-opacity="0.16"/><stop offset="0.625" stop-opacity="0.16"/><stop offset="0.75" stop-opacity="0.16"/><stop offset="0.875" stop-opacity="0.17"/><stop offset="1" stop-opacity="0.18"/></linearGradient><linearGradient id="g181"><stop offset="0" stop-opacity="0.29"/><stop offset="0.125" stop-opacity="0.27"/><stop offset="0.25" stop-opacity="0.20"/><stop offset="0.375" stop-opacity="0.16"/><stop offset="0.5" stop-opacity="0.16"/><stop offset="0.625" stop-opacity="0.16"/><stop offset="0.75" stop-opacity="0.20"/><stop offset="0.875" stop-opacity="0.27"/><stop offset="1" stop-opacity="0.29"/></linearGradient><linearGradient id="g182"><stop offset="0" stop-opacity="0.46"/><stop offset="0.125" stop-opacity="0.42"/><stop offset="0.25" stop-opacity="0.26"/><stop offset="0.375" stop-opacity="0.16"/><stop offset="0.5" stop-opacity="0.16"/><stop offset="0.625" stop-opacity="0.16"/><stop offset="0.75" stop-opacity="0.26"/><stop offset="0.875" stop-opacity="0.42"/><stop offset="1" stop-opacity="0.46"/></linearGradient><linearGradient id="g183"><stop offset="0" stop-opacity="0.65"/><stop offset="0.125" stop-opacity="0.58"/><stop offset="0.25" stop-opacity="0.32"/><stop offset="0.375" stop-opacity="0.16"/><stop offset="0.5" stop-opacity="0.16"/><stop offset="0.625" stop-opacity="0.16"/><stop offset="0.75" stop-opacity="0.32"/><stop offset="0.875" stop-opacity="0.58"/><stop offset="1" stop-opacity="0.65"/></linearGradient><linearGradient id="g184"><stop offset="0" stop-opacity="0.82"/><stop offset="0.125" stop-opacity="0.73"/><stop offset="0.25" stop-opacity="0.37"/><stop offset="0.375" stop-opacity="0.16"/><stop offset="0.5" stop-opacity="0.16"/><stop offset="0.625" stop-opacity="0.16"/><stop offset="0.75" stop-opacity="0.37"/><stop offset="0.875" stop-opacity="0.73"/><stop offset="1" stop-opacity="0.82"/></linearGradient><linearGradient id="g185"><stop offset="0" stop-opacity="0.92"/><stop offset="0.125" stop-opacity="0.82"/><stop offset="0.25" stop-opacity="0.41"/><stop offset="0.375" stop-opacity="0.16"/><stop offset="0.5" stop-opacity="0.16"/><stop offset="0.625" stop-opacity="0.16"/><stop offset="0.75" stop-opacity="0.41"/><stop offset="0.875" stop-opacity="0.82"/><stop offset="1" stop-opacity="0.92"/></linearGradient><filter id="nze22" x="0" y="0" width="1" height="1" color-interpolation-filters="sRGB"><feTurbulence type="fractalNoise" baseFrequency="0.04 0.9" numOctaves="2" seed="47" result="n"/><feColorMatrix in="n" type="matrix" values="0 0 0 0 0 0 0 0 0 0 0 0 0 0 0 1 0 0 0 0" result="na"/><feComposite in="SourceAlpha" in2="na" operator="arithmetic" k1="0" k2="1.0" k3="2.5" k4="-1.25" result="m"/><feComponentTransfer in="m" result="t0"><feFuncA type="discrete" tableValues="0 0 0 0 0 0 0 0 0 0 0 0 1 1 1 1 1 1 1 1"/></feComponentTransfer><feFlood flood-color="#A3C6EE"/><feComposite in2="t0" operator="in" result="l0"/><feComponentTransfer in="m" result="t1"><feFuncA type="discrete" tableValues="0 0 0 0 0 0 0 0 0 0 0 0 0 0 0 1 1 1 1 1"/></feComponentTransfer><feFlood flood-color="#5A95E0"/><feComposite in2="t1" operator="in" result="l1"/><feComponentTransfer in="m" result="t2"><feFuncA type="discrete" tableValues="0 0 0 0 0 0 0 0 0 0 0 0 0 0 0 0 0 1 1 1"/></feComponentTransfer><feFlood flood-color="#1F6FD2"/><feComposite in2="t2" operator="in" result="l2"/><feMerge><feMergeNode in="l0"/><feMergeNode in="l1"/><feMergeNode in="l2"/></feMerge></filter><linearGradient id="g186"><stop offset="0" stop-opacity="0.06"/><stop offset="0.125" stop-opacity="0.06"/><stop offset="0.25" stop-opacity="0.07"/><stop offset="0.375" stop-opacity="0.25"/><stop offset="0.5" stop-opacity="0.58"/><stop offset="0.625" stop-opacity="0.25"/><stop offset="0.75" stop-opacity="0.07"/><stop offset="0.875" stop-opacity="0.06"/><stop offset="1" stop-opacity="0.06"/></linearGradient><linearGradient id="g187"><stop offset="0" stop-opacity="0.06"/><stop offset="0.125" stop-opacity="0.06"/><stop offset="0.25" stop-opacity="0.07"/><stop offset="0.375" stop-opacity="0.25"/><stop offset="0.5" stop-opacity="0.57"/><stop offset="0.625" stop-opacity="0.25"/><stop offset="0.75" stop-opacity="0.07"/><stop offset="0.875" stop-opacity="0.06"/><stop offset="1" stop-opacity="0.06"/></linearGradient><linearGradient id="g188"><stop offset="0" stop-opacity="0.06"/><stop offset="0.125" stop-opacity="0.06"/><stop offset="0.25" stop-opacity="0.07"/><stop offset="0.375" stop-opacity="0.22"/><stop offset="0.5" stop-opacity="0.49"/><stop offset="0.625" stop-opacity="0.22"/><stop offset="0.75" stop-opacity="0.07"/><stop offset="0.875" stop-opacity="0.06"/><stop offset="1" stop-opacity="0.06"/></linearGradient><linearGradient id="g189"><stop offset="0" stop-opacity="0.06"/><stop offset="0.125" stop-opacity="0.06"/><stop offset="0.25" stop-opacity="0.07"/><stop offset="0.375" stop-opacity="0.18"/><stop offset="0.5" stop-opacity="0.38"/><stop offset="0.625" stop-opacity="0.18"/><stop offset="0.75" stop-opacity="0.07"/><stop offset="0.875" stop-opacity="0.06"/><stop offset="1" stop-opacity="0.06"/></linearGradient><linearGradient id="g190"><stop offset="0" stop-opacity="0.06"/><stop offset="0.125" stop-opacity="0.06"/><stop offset="0.25" stop-opacity="0.06"/><stop offset="0.375" stop-opacity="0.13"/><stop offset="0.5" stop-opacity="0.26"/><stop offset="0.625" stop-opacity="0.13"/><stop offset="0.75" stop-opacity="0.06"/><stop offset="0.875" stop-opacity="0.06"/><stop offset="1" stop-opacity="0.06"/></linearGradient><linearGradient id="g191"><stop offset="0" stop-opacity="0.06"/><stop offset="0.125" stop-opacity="0.06"/><stop offset="0.25" stop-opacity="0.06"/><stop offset="0.375" stop-opacity="0.09"/><stop offset="0.5" stop-opacity="0.15"/><stop offset="0.625" stop-opacity="0.09"/><stop offset="0.75" stop-opacity="0.06"/><stop offset="0.875" stop-opacity="0.06"/><stop offset="1" stop-opacity="0.06"/></linearGradient><linearGradient id="g192"><stop offset="0" stop-opacity="0.06"/><stop offset="0.125" stop-opacity="0.06"/><stop offset="0.25" stop-opacity="0.06"/><stop offset="0.375" stop-opacity="0.07"/><stop offset="0.5" stop-opacity="0.08"/><stop offset="0.625" stop-opacity="0.07"/><stop offset="0.75" stop-opacity="0.06"/><stop offset="0.875" stop-opacity="0.06"/><stop offset="1" stop-opacity="0.06"/></linearGradient><linearGradient id="g193"><stop offset="0" stop-opacity="0.06"/><stop offset="0.125" stop-opacity="0.06"/><stop offset="0.25" stop-opacity="0.06"/><stop offset="0.375" stop-opacity="0.06"/><stop offset="0.5" stop-opacity="0.06"/><stop offset="0.625" stop-opacity="0.06"/><stop offset="0.75" stop-opacity="0.06"/><stop offset="0.875" stop-opacity="0.06"/><stop offset="1" stop-opacity="0.06"/></linearGradient><linearGradient id="g194"><stop offset="0" stop-opacity="0.06"/><stop offset="0.125" stop-opacity="0.06"/><stop offset="0.25" stop-opacity="0.06"/><stop offset="0.375" stop-opacity="0.06"/><stop offset="0.5" stop-opacity="0.06"/><stop offset="0.625" stop-opacity="0.06"/><stop offset="0.75" stop-opacity="0.06"/><stop offset="0.875" stop-opacity="0.06"/><stop offset="1" stop-opacity="0.06"/></linearGradient><linearGradient id="g195"><stop offset="0" stop-opacity="0.06"/><stop offset="0.125" stop-opacity="0.06"/><stop offset="0.25" stop-opacity="0.06"/><stop offset="0.375" stop-opacity="0.06"/><stop offset="0.5" stop-opacity="0.06"/><stop offset="0.625" stop-opacity="0.06"/><stop offset="0.75" stop-opacity="0.06"/><stop offset="0.875" stop-opacity="0.06"/><stop offset="1" stop-opacity="0.06"/></linearGradient><linearGradient id="g196"><stop offset="0" stop-opacity="0.07"/><stop offset="0.125" stop-opacity="0.07"/><stop offset="0.25" stop-opacity="0.06"/><stop offset="0.375" stop-opacity="0.06"/><stop offset="0.5" stop-opacity="0.06"/><stop offset="0.625" stop-opacity="0.06"/><stop offset="0.75" stop-opacity="0.06"/><stop offset="0.875" stop-opacity="0.07"/><stop offset="1" stop-opacity="0.07"/></linearGradient><linearGradient id="g197"><stop offset="0" stop-opacity="0.15"/><stop offset="0.125" stop-opacity="0.14"/><stop offset="0.25" stop-opacity="0.09"/><stop offset="0.375" stop-opacity="0.06"/><stop offset="0.5" stop-opacity="0.06"/><stop offset="0.625" stop-opacity="0.06"/><stop offset="0.75" stop-opacity="0.09"/><stop offset="0.875" stop-opacity="0.14"/><stop offset="1" stop-opacity="0.15"/></linearGradient><linearGradient id="g198"><stop offset="0" stop-opacity="0.26"/><stop offset="0.125" stop-opacity="0.24"/><stop offset="0.25" stop-opacity="0.13"/><stop offset="0.375" stop-opacity="0.06"/><stop offset="0.5" stop-opacity="0.06"/><stop offset="0.625" stop-opacity="0.06"/><stop offset="0.75" stop-opacity="0.13"/><stop offset="0.875" stop-opacity="0.24"/><stop offset="1" stop-opacity="0.26"/></linearGradient><linearGradient id="g199"><stop offset="0" stop-opacity="0.39"/><stop offset="0.125" stop-opacity="0.35"/><stop offset="0.25" stop-opacity="0.17"/><stop offset="0.375" stop-opacity="0.06"/><stop offset="0.5" stop-opacity="0.06"/><stop offset="0.625" stop-opacity="0.06"/><stop offset="0.75" stop-opacity="0.17"/><stop offset="0.875" stop-opacity="0.35"/><stop offset="1" stop-opacity="0.39"/></linearGradient><linearGradient id="g200"><stop offset="0" stop-opacity="0.50"/><stop offset="0.125" stop-opacity="0.44"/><stop offset="0.25" stop-opacity="0.21"/><stop offset="0.375" stop-opacity="0.06"/><stop offset="0.5" stop-opacity="0.06"/><stop offset="0.625" stop-opacity="0.06"/><stop offset="0.75" stop-opacity="0.21"/><stop offset="0.875" stop-opacity="0.44"/><stop offset="1" stop-opacity="0.50"/></linearGradient><linearGradient id="g201"><stop offset="0" stop-opacity="0.57"/><stop offset="0.125" stop-opacity="0.51"/><stop offset="0.25" stop-opacity="0.23"/><stop offset="0.375" stop-opacity="0.06"/><stop offset="0.5" stop-opacity="0.06"/><stop offset="0.625" stop-opacity="0.06"/><stop offset="0.75" stop-opacity="0.23"/><stop offset="0.875" stop-opacity="0.51"/><stop offset="1" stop-opacity="0.57"/></linearGradient><linearGradient id="cb202"><stop offset="0" stop-color="#DEDEDE"/><stop offset="1" stop-color="#1C6DD0"/></linearGradient><linearGradient id="cb203"><stop offset="0" stop-color="#DEDEDE"/><stop offset="1" stop-color="#1C6DD0"/></linearGradient><linearGradient id="cb204"><stop offset="0" stop-color="#DEDEDE"/><stop offset="1" stop-color="#1C6DD0"/></linearGradient><filter id="nze30" x="0" y="0" width="1" height="1" color-interpolation-filters="sRGB"><feTurbulence type="fractalNoise" baseFrequency="0.04 0.9" numOctaves="2" seed="52" result="n"/><feColorMatrix in="n" type="matrix" values="0 0 0 0 0 0 0 0 0 0 0 0 0 0 0 1 0 0 0 0" result="na"/><feComposite in="SourceAlpha" in2="na" operator="arithmetic" k1="0" k2="1.0" k3="2.5" k4="-1.25" result="m"/><feComponentTransfer in="m" result="t0"><feFuncA type="discrete" tableValues="0 0 0 0 0 0 0 0 0 0 0 0 1 1 1 1 1 1 1 1"/></feComponentTransfer><feFlood flood-color="#A9D5B8"/><feComposite in2="t0" operator="in" result="l0"/><feComponentTransfer in="m" result="t1"><feFuncA type="discrete" tableValues="0 0 0 0 0 0 0 0 0 0 0 0 0 0 0 1 1 1 1 1"/></feComponentTransfer><feFlood flood-color="#5BAE7C"/><feComposite in2="t1" operator="in" result="l1"/><feComponentTransfer in="m" result="t2"><feFuncA type="discrete" tableValues="0 0 0 0 0 0 0 0 0 0 0 0 0 0 0 0 0 0 1 1"/></feComponentTransfer><feFlood flood-color="#178A47"/><feComposite in2="t2" operator="in" result="l2"/><feMerge><feMergeNode in="l0"/><feMergeNode in="l1"/><feMergeNode in="l2"/></feMerge></filter><linearGradient id="g205"><stop offset="0" stop-opacity="0.17"/><stop offset="0.125" stop-opacity="0.17"/><stop offset="0.25" stop-opacity="0.20"/><stop offset="0.375" stop-opacity="0.42"/><stop offset="0.5" stop-opacity="0.67"/><stop offset="0.625" stop-opacity="0.42"/><stop offset="0.75" stop-opacity="0.20"/><stop offset="0.875" stop-opacity="0.17"/><stop offset="1" stop-opacity="0.17"/></linearGradient><linearGradient id="g206"><stop offset="0" stop-opacity="0.17"/><stop offset="0.125" stop-opacity="0.17"/><stop offset="0.25" stop-opacity="0.20"/><stop offset="0.375" stop-opacity="0.41"/><stop offset="0.5" stop-opacity="0.65"/><stop offset="0.625" stop-opacity="0.41"/><stop offset="0.75" stop-opacity="0.20"/><stop offset="0.875" stop-opacity="0.17"/><stop offset="1" stop-opacity="0.17"/></linearGradient><linearGradient id="g207"><stop offset="0" stop-opacity="0.17"/><stop offset="0.125" stop-opacity="0.17"/><stop offset="0.25" stop-opacity="0.20"/><stop offset="0.375" stop-opacity="0.38"/><stop offset="0.5" stop-opacity="0.58"/><stop offset="0.625" stop-opacity="0.38"/><stop offset="0.75" stop-opacity="0.20"/><stop offset="0.875" stop-opacity="0.17"/><stop offset="1" stop-opacity="0.17"/></linearGradient><linearGradient id="g208"><stop offset="0" stop-opacity="0.17"/><stop offset="0.125" stop-opacity="0.17"/><stop offset="0.25" stop-opacity="0.19"/><stop offset="0.375" stop-opacity="0.32"/><stop offset="0.5" stop-opacity="0.48"/><stop offset="0.625" stop-opacity="0.32"/><stop offset="0.75" stop-opacity="0.19"/><stop offset="0.875" stop-opacity="0.17"/><stop offset="1" stop-opacity="0.17"/></linearGradient><linearGradient id="g209"><stop offset="0" stop-opacity="0.17"/><stop offset="0.125" stop-opacity="0.17"/><stop offset="0.25" stop-opacity="0.18"/><stop offset="0.375" stop-opacity="0.27"/><stop offset="0.5" stop-opacity="0.36"/><stop offset="0.625" stop-opacity="0.27"/><stop offset="0.75" stop-opacity="0.18"/><stop offset="0.875" stop-opacity="0.17"/><stop offset="1" stop-opacity="0.17"/></linearGradient><linearGradient id="g210"><stop offset="0" stop-opacity="0.17"/><stop offset="0.125" stop-opacity="0.17"/><stop offset="0.25" stop-opacity="0.18"/><stop offset="0.375" stop-opacity="0.21"/><stop offset="0.5" stop-opacity="0.26"/><stop offset="0.625" stop-opacity="0.21"/><stop offset="0.75" stop-opacity="0.18"/><stop offset="0.875" stop-opacity="0.17"/><stop offset="1" stop-opacity="0.17"/></linearGradient><linearGradient id="g211"><stop offset="0" stop-opacity="0.17"/><stop offset="0.125" stop-opacity="0.17"/><stop offset="0.25" stop-opacity="0.17"/><stop offset="0.375" stop-opacity="0.18"/><stop offset="0.5" stop-opacity="0.19"/><stop offset="0.625" stop-opacity="0.18"/><stop offset="0.75" stop-opacity="0.17"/><stop offset="0.875" stop-opacity="0.17"/><stop offset="1" stop-opacity="0.17"/></linearGradient><linearGradient id="g212"><stop offset="0" stop-opacity="0.17"/><stop offset="0.125" stop-opacity="0.17"/><stop offset="0.25" stop-opacity="0.17"/><stop offset="0.375" stop-opacity="0.17"/><stop offset="0.5" stop-opacity="0.17"/><stop offset="0.625" stop-opacity="0.17"/><stop offset="0.75" stop-opacity="0.17"/><stop offset="0.875" stop-opacity="0.17"/><stop offset="1" stop-opacity="0.17"/></linearGradient><linearGradient id="g213"><stop offset="0" stop-opacity="0.17"/><stop offset="0.125" stop-opacity="0.17"/><stop offset="0.25" stop-opacity="0.17"/><stop offset="0.375" stop-opacity="0.17"/><stop offset="0.5" stop-opacity="0.17"/><stop offset="0.625" stop-opacity="0.17"/><stop offset="0.75" stop-opacity="0.17"/><stop offset="0.875" stop-opacity="0.17"/><stop offset="1" stop-opacity="0.17"/></linearGradient><linearGradient id="g214"><stop offset="0" stop-opacity="0.17"/><stop offset="0.125" stop-opacity="0.17"/><stop offset="0.25" stop-opacity="0.17"/><stop offset="0.375" stop-opacity="0.17"/><stop offset="0.5" stop-opacity="0.17"/><stop offset="0.625" stop-opacity="0.17"/><stop offset="0.75" stop-opacity="0.17"/><stop offset="0.875" stop-opacity="0.17"/><stop offset="1" stop-opacity="0.17"/></linearGradient><linearGradient id="g215"><stop offset="0" stop-opacity="0.18"/><stop offset="0.125" stop-opacity="0.18"/><stop offset="0.25" stop-opacity="0.17"/><stop offset="0.375" stop-opacity="0.17"/><stop offset="0.5" stop-opacity="0.17"/><stop offset="0.625" stop-opacity="0.17"/><stop offset="0.75" stop-opacity="0.17"/><stop offset="0.875" stop-opacity="0.18"/><stop offset="1" stop-opacity="0.18"/></linearGradient><linearGradient id="g216"><stop offset="0" stop-opacity="0.27"/><stop offset="0.125" stop-opacity="0.25"/><stop offset="0.25" stop-opacity="0.20"/><stop offset="0.375" stop-opacity="0.17"/><stop offset="0.5" stop-opacity="0.17"/><stop offset="0.625" stop-opacity="0.17"/><stop offset="0.75" stop-opacity="0.20"/><stop offset="0.875" stop-opacity="0.25"/><stop offset="1" stop-opacity="0.27"/></linearGradient><linearGradient id="g217"><stop offset="0" stop-opacity="0.39"/><stop offset="0.125" stop-opacity="0.36"/><stop offset="0.25" stop-opacity="0.24"/><stop offset="0.375" stop-opacity="0.17"/><stop offset="0.5" stop-opacity="0.17"/><stop offset="0.625" stop-opacity="0.17"/><stop offset="0.75" stop-opacity="0.24"/><stop offset="0.875" stop-opacity="0.36"/><stop offset="1" stop-opacity="0.39"/></linearGradient><linearGradient id="g218"><stop offset="0" stop-opacity="0.54"/><stop offset="0.125" stop-opacity="0.49"/><stop offset="0.25" stop-opacity="0.29"/><stop offset="0.375" stop-opacity="0.17"/><stop offset="0.5" stop-opacity="0.17"/><stop offset="0.625" stop-opacity="0.17"/><stop offset="0.75" stop-opacity="0.29"/><stop offset="0.875" stop-opacity="0.49"/><stop offset="1" stop-opacity="0.54"/></linearGradient><linearGradient id="g219"><stop offset="0" stop-opacity="0.66"/><stop offset="0.125" stop-opacity="0.60"/><stop offset="0.25" stop-opacity="0.33"/><stop offset="0.375" stop-opacity="0.17"/><stop offset="0.5" stop-opacity="0.17"/><stop offset="0.625" stop-opacity="0.17"/><stop offset="0.75" stop-opacity="0.33"/><stop offset="0.875" stop-opacity="0.60"/><stop offset="1" stop-opacity="0.66"/></linearGradient><linearGradient id="g220"><stop offset="0" stop-opacity="0.74"/><stop offset="0.125" stop-opacity="0.66"/><stop offset="0.25" stop-opacity="0.36"/><stop offset="0.375" stop-opacity="0.17"/><stop offset="0.5" stop-opacity="0.17"/><stop offset="0.625" stop-opacity="0.17"/><stop offset="0.75" stop-opacity="0.36"/><stop offset="0.875" stop-opacity="0.66"/><stop offset="1" stop-opacity="0.74"/></linearGradient><filter id="nze31" x="0" y="0" width="1" height="1" color-interpolation-filters="sRGB"><feTurbulence type="fractalNoise" baseFrequency="0.04 0.9" numOctaves="2" seed="53" result="n"/><feColorMatrix in="n" type="matrix" values="0 0 0 0 0 0 0 0 0 0 0 0 0 0 0 1 0 0 0 0" result="na"/><feComposite in="SourceAlpha" in2="na" operator="arithmetic" k1="0" k2="1.0" k3="2.5" k4="-1.25" result="m"/><feComponentTransfer in="m" result="t0"><feFuncA type="discrete" tableValues="0 0 0 0 0 0 0 0 0 0 0 0 1 1 1 1 1 1 1 1"/></feComponentTransfer><feFlood flood-color="#A9D5B8"/><feComposite in2="t0" operator="in" result="l0"/><feComponentTransfer in="m" result="t1"><feFuncA type="discrete" tableValues="0 0 0 0 0 0 0 0 0 0 0 0 0 0 0 1 1 1 1 1"/></feComponentTransfer><feFlood flood-color="#5BAE7C"/><feComposite in2="t1" operator="in" result="l1"/><feComponentTransfer in="m" result="t2"><feFuncA type="discrete" tableValues="0 0 0 0 0 0 0 0 0 0 0 0 0 0 0 0 0 0 1 1"/></feComponentTransfer><feFlood flood-color="#178A47"/><feComposite in2="t2" operator="in" result="l2"/><feMerge><feMergeNode in="l0"/><feMergeNode in="l1"/><feMergeNode in="l2"/></feMerge></filter><linearGradient id="g221"><stop offset="0" stop-opacity="0.20"/><stop offset="0.125" stop-opacity="0.21"/><stop offset="0.25" stop-opacity="0.24"/><stop offset="0.375" stop-opacity="0.50"/><stop offset="0.5" stop-opacity="0.80"/><stop offset="0.625" stop-opacity="0.50"/><stop offset="0.75" stop-opacity="0.24"/><stop offset="0.875" stop-opacity="0.21"/><stop offset="1" stop-opacity="0.20"/></linearGradient><linearGradient id="g222"><stop offset="0" stop-opacity="0.20"/><stop offset="0.125" stop-opacity="0.21"/><stop offset="0.25" stop-opacity="0.24"/><stop offset="0.375" stop-opacity="0.49"/><stop offset="0.5" stop-opacity="0.78"/><stop offset="0.625" stop-opacity="0.49"/><stop offset="0.75" stop-opacity="0.24"/><stop offset="0.875" stop-opacity="0.21"/><stop offset="1" stop-opacity="0.20"/></linearGradient><linearGradient id="g223"><stop offset="0" stop-opacity="0.20"/><stop offset="0.125" stop-opacity="0.20"/><stop offset="0.25" stop-opacity="0.23"/><stop offset="0.375" stop-opacity="0.45"/><stop offset="0.5" stop-opacity="0.70"/><stop offset="0.625" stop-opacity="0.45"/><stop offset="0.75" stop-opacity="0.23"/><stop offset="0.875" stop-opacity="0.20"/><stop offset="1" stop-opacity="0.20"/></linearGradient><linearGradient id="g224"><stop offset="0" stop-opacity="0.20"/><stop offset="0.125" stop-opacity="0.20"/><stop offset="0.25" stop-opacity="0.23"/><stop offset="0.375" stop-opacity="0.39"/><stop offset="0.5" stop-opacity="0.57"/><stop offset="0.625" stop-opacity="0.39"/><stop offset="0.75" stop-opacity="0.23"/><stop offset="0.875" stop-opacity="0.20"/><stop offset="1" stop-opacity="0.20"/></linearGradient><linearGradient id="g225"><stop offset="0" stop-opacity="0.20"/><stop offset="0.125" stop-opacity="0.20"/><stop offset="0.25" stop-opacity="0.22"/><stop offset="0.375" stop-opacity="0.32"/><stop offset="0.5" stop-opacity="0.43"/><stop offset="0.625" stop-opacity="0.32"/><stop offset="0.75" stop-opacity="0.22"/><stop offset="0.875" stop-opacity="0.20"/><stop offset="1" stop-opacity="0.20"/></linearGradient><linearGradient id="g226"><stop offset="0" stop-opacity="0.20"/><stop offset="0.125" stop-opacity="0.20"/><stop offset="0.25" stop-opacity="0.21"/><stop offset="0.375" stop-opacity="0.26"/><stop offset="0.5" stop-opacity="0.31"/><stop offset="0.625" stop-opacity="0.26"/><stop offset="0.75" stop-opacity="0.21"/><stop offset="0.875" stop-opacity="0.20"/><stop offset="1" stop-opacity="0.20"/></linearGradient><linearGradient id="g227"><stop offset="0" stop-opacity="0.20"/><stop offset="0.125" stop-opacity="0.20"/><stop offset="0.25" stop-opacity="0.21"/><stop offset="0.375" stop-opacity="0.21"/><stop offset="0.5" stop-opacity="0.22"/><stop offset="0.625" stop-opacity="0.21"/><stop offset="0.75" stop-opacity="0.21"/><stop offset="0.875" stop-opacity="0.20"/><stop offset="1" stop-opacity="0.20"/></linearGradient><linearGradient id="g228"><stop offset="0" stop-opacity="0.20"/><stop offset="0.125" stop-opacity="0.20"/><stop offset="0.25" stop-opacity="0.20"/><stop offset="0.375" stop-opacity="0.20"/><stop offset="0.5" stop-opacity="0.20"/><stop offset="0.625" stop-opacity="0.20"/><stop offset="0.75" stop-opacity="0.20"/><stop offset="0.875" stop-opacity="0.20"/><stop offset="1" stop-opacity="0.20"/></linearGradient><linearGradient id="g229"><stop offset="0" stop-opacity="0.20"/><stop offset="0.125" stop-opacity="0.20"/><stop offset="0.25" stop-opacity="0.20"/><stop offset="0.375" stop-opacity="0.20"/><stop offset="0.5" stop-opacity="0.20"/><stop offset="0.625" stop-opacity="0.20"/><stop offset="0.75" stop-opacity="0.20"/><stop offset="0.875" stop-opacity="0.20"/><stop offset="1" stop-opacity="0.20"/></linearGradient><linearGradient id="g230"><stop offset="0" stop-opacity="0.20"/><stop offset="0.125" stop-opacity="0.20"/><stop offset="0.25" stop-opacity="0.20"/><stop offset="0.375" stop-opacity="0.20"/><stop offset="0.5" stop-opacity="0.20"/><stop offset="0.625" stop-opacity="0.20"/><stop offset="0.75" stop-opacity="0.20"/><stop offset="0.875" stop-opacity="0.20"/><stop offset="1" stop-opacity="0.20"/></linearGradient><linearGradient id="g231"><stop offset="0" stop-opacity="0.22"/><stop offset="0.125" stop-opacity="0.22"/><stop offset="0.25" stop-opacity="0.21"/><stop offset="0.375" stop-opacity="0.20"/><stop offset="0.5" stop-opacity="0.20"/><stop offset="0.625" stop-opacity="0.20"/><stop offset="0.75" stop-opacity="0.21"/><stop offset="0.875" stop-opacity="0.22"/><stop offset="1" stop-opacity="0.22"/></linearGradient><linearGradient id="g232"><stop offset="0" stop-opacity="0.32"/><stop offset="0.125" stop-opacity="0.30"/><stop offset="0.25" stop-opacity="0.24"/><stop offset="0.375" stop-opacity="0.20"/><stop offset="0.5" stop-opacity="0.20"/><stop offset="0.625" stop-opacity="0.20"/><stop offset="0.75" stop-opacity="0.24"/><stop offset="0.875" stop-opacity="0.30"/><stop offset="1" stop-opacity="0.32"/></linearGradient><linearGradient id="g233"><stop offset="0" stop-opacity="0.46"/><stop offset="0.125" stop-opacity="0.43"/><stop offset="0.25" stop-opacity="0.29"/><stop offset="0.375" stop-opacity="0.20"/><stop offset="0.5" stop-opacity="0.20"/><stop offset="0.625" stop-opacity="0.20"/><stop offset="0.75" stop-opacity="0.29"/><stop offset="0.875" stop-opacity="0.43"/><stop offset="1" stop-opacity="0.46"/></linearGradient><linearGradient id="g234"><stop offset="0" stop-opacity="0.63"/><stop offset="0.125" stop-opacity="0.57"/><stop offset="0.25" stop-opacity="0.34"/><stop offset="0.375" stop-opacity="0.20"/><stop offset="0.5" stop-opacity="0.20"/><stop offset="0.625" stop-opacity="0.20"/><stop offset="0.75" stop-opacity="0.34"/><stop offset="0.875" stop-opacity="0.57"/><stop offset="1" stop-opacity="0.63"/></linearGradient><linearGradient id="g235"><stop offset="0" stop-opacity="0.77"/><stop offset="0.125" stop-opacity="0.70"/><stop offset="0.25" stop-opacity="0.39"/><stop offset="0.375" stop-opacity="0.20"/><stop offset="0.5" stop-opacity="0.20"/><stop offset="0.625" stop-opacity="0.20"/><stop offset="0.75" stop-opacity="0.39"/><stop offset="0.875" stop-opacity="0.70"/><stop offset="1" stop-opacity="0.77"/></linearGradient><linearGradient id="g236"><stop offset="0" stop-opacity="0.86"/><stop offset="0.125" stop-opacity="0.77"/><stop offset="0.25" stop-opacity="0.42"/><stop offset="0.375" stop-opacity="0.20"/><stop offset="0.5" stop-opacity="0.20"/><stop offset="0.625" stop-opacity="0.20"/><stop offset="0.75" stop-opacity="0.42"/><stop offset="0.875" stop-opacity="0.77"/><stop offset="1" stop-opacity="0.86"/></linearGradient><filter id="nze32" x="0" y="0" width="1" height="1" color-interpolation-filters="sRGB"><feTurbulence type="fractalNoise" baseFrequency="0.04 0.9" numOctaves="2" seed="54" result="n"/><feColorMatrix in="n" type="matrix" values="0 0 0 0 0 0 0 0 0 0 0 0 0 0 0 1 0 0 0 0" result="na"/><feComposite in="SourceAlpha" in2="na" operator="arithmetic" k1="0" k2="1.0" k3="2.5" k4="-1.25" result="m"/><feComponentTransfer in="m" result="t0"><feFuncA type="discrete" tableValues="0 0 0 0 0 0 0 0 0 0 0 0 1 1 1 1 1 1 1 1"/></feComponentTransfer><feFlood flood-color="#A9D5B8"/><feComposite in2="t0" operator="in" result="l0"/><feComponentTransfer in="m" result="t1"><feFuncA type="discrete" tableValues="0 0 0 0 0 0 0 0 0 0 0 0 0 0 0 1 1 1 1 1"/></feComponentTransfer><feFlood flood-color="#5BAE7C"/><feComposite in2="t1" operator="in" result="l1"/><feComponentTransfer in="m" result="t2"><feFuncA type="discrete" tableValues="0 0 0 0 0 0 0 0 0 0 0 0 0 0 0 0 0 0 1 1"/></feComponentTransfer><feFlood flood-color="#178A47"/><feComposite in2="t2" operator="in" result="l2"/><feMerge><feMergeNode in="l0"/><feMergeNode in="l1"/><feMergeNode in="l2"/></feMerge></filter><linearGradient id="g237"><stop offset="0" stop-opacity="0.13"/><stop offset="0.125" stop-opacity="0.13"/><stop offset="0.25" stop-opacity="0.15"/><stop offset="0.375" stop-opacity="0.34"/><stop offset="0.5" stop-opacity="0.55"/><stop offset="0.625" stop-opacity="0.34"/><stop offset="0.75" stop-opacity="0.15"/><stop offset="0.875" stop-opacity="0.13"/><stop offset="1" stop-opacity="0.13"/></linearGradient><linearGradient id="g238"><stop offset="0" stop-opacity="0.13"/><stop offset="0.125" stop-opacity="0.13"/><stop offset="0.25" stop-opacity="0.15"/><stop offset="0.375" stop-opacity="0.33"/><stop offset="0.5" stop-opacity="0.54"/><stop offset="0.625" stop-opacity="0.33"/><stop offset="0.75" stop-opacity="0.15"/><stop offset="0.875" stop-opacity="0.13"/><stop offset="1" stop-opacity="0.13"/></linearGradient><linearGradient id="g239"><stop offset="0" stop-opacity="0.13"/><stop offset="0.125" stop-opacity="0.13"/><stop offset="0.25" stop-opacity="0.15"/><stop offset="0.375" stop-opacity="0.30"/><stop offset="0.5" stop-opacity="0.48"/><stop offset="0.625" stop-opacity="0.30"/><stop offset="0.75" stop-opacity="0.15"/><stop offset="0.875" stop-opacity="0.13"/><stop offset="1" stop-opacity="0.13"/></linearGradient><linearGradient id="g240"><stop offset="0" stop-opacity="0.13"/><stop offset="0.125" stop-opacity="0.13"/><stop offset="0.25" stop-opacity="0.14"/><stop offset="0.375" stop-opacity="0.26"/><stop offset="0.5" stop-opacity="0.39"/><stop offset="0.625" stop-opacity="0.26"/><stop offset="0.75" stop-opacity="0.14"/><stop offset="0.875" stop-opacity="0.13"/><stop offset="1" stop-opacity="0.13"/></linearGradient><linearGradient id="g241"><stop offset="0" stop-opacity="0.13"/><stop offset="0.125" stop-opacity="0.13"/><stop offset="0.25" stop-opacity="0.14"/><stop offset="0.375" stop-opacity="0.21"/><stop offset="0.5" stop-opacity="0.29"/><stop offset="0.625" stop-opacity="0.21"/><stop offset="0.75" stop-opacity="0.14"/><stop offset="0.875" stop-opacity="0.13"/><stop offset="1" stop-opacity="0.13"/></linearGradient><linearGradient id="g242"><stop offset="0" stop-opacity="0.13"/><stop offset="0.125" stop-opacity="0.13"/><stop offset="0.25" stop-opacity="0.13"/><stop offset="0.375" stop-opacity="0.16"/><stop offset="0.5" stop-opacity="0.20"/><stop offset="0.625" stop-opacity="0.16"/><stop offset="0.75" stop-opacity="0.13"/><stop offset="0.875" stop-opacity="0.13"/><stop offset="1" stop-opacity="0.13"/></linearGradient><linearGradient id="g243"><stop offset="0" stop-opacity="0.13"/><stop offset="0.125" stop-opacity="0.13"/><stop offset="0.25" stop-opacity="0.13"/><stop offset="0.375" stop-opacity="0.13"/><stop offset="0.5" stop-opacity="0.14"/><stop offset="0.625" stop-opacity="0.13"/><stop offset="0.75" stop-opacity="0.13"/><stop offset="0.875" stop-opacity="0.13"/><stop offset="1" stop-opacity="0.13"/></linearGradient><linearGradient id="g244"><stop offset="0" stop-opacity="0.13"/><stop offset="0.125" stop-opacity="0.13"/><stop offset="0.25" stop-opacity="0.13"/><stop offset="0.375" stop-opacity="0.13"/><stop offset="0.5" stop-opacity="0.13"/><stop offset="0.625" stop-opacity="0.13"/><stop offset="0.75" stop-opacity="0.13"/><stop offset="0.875" stop-opacity="0.13"/><stop offset="1" stop-opacity="0.13"/></linearGradient><linearGradient id="g245"><stop offset="0" stop-opacity="0.13"/><stop offset="0.125" stop-opacity="0.13"/><stop offset="0.25" stop-opacity="0.13"/><stop offset="0.375" stop-opacity="0.13"/><stop offset="0.5" stop-opacity="0.13"/><stop offset="0.625" stop-opacity="0.13"/><stop offset="0.75" stop-opacity="0.13"/><stop offset="0.875" stop-opacity="0.13"/><stop offset="1" stop-opacity="0.13"/></linearGradient><linearGradient id="g246"><stop offset="0" stop-opacity="0.13"/><stop offset="0.125" stop-opacity="0.13"/><stop offset="0.25" stop-opacity="0.13"/><stop offset="0.375" stop-opacity="0.13"/><stop offset="0.5" stop-opacity="0.13"/><stop offset="0.625" stop-opacity="0.13"/><stop offset="0.75" stop-opacity="0.13"/><stop offset="0.875" stop-opacity="0.13"/><stop offset="1" stop-opacity="0.13"/></linearGradient><linearGradient id="g247"><stop offset="0" stop-opacity="0.14"/><stop offset="0.125" stop-opacity="0.14"/><stop offset="0.25" stop-opacity="0.13"/><stop offset="0.375" stop-opacity="0.13"/><stop offset="0.5" stop-opacity="0.13"/><stop offset="0.625" stop-opacity="0.13"/><stop offset="0.75" stop-opacity="0.13"/><stop offset="0.875" stop-opacity="0.14"/><stop offset="1" stop-opacity="0.14"/></linearGradient><linearGradient id="g248"><stop offset="0" stop-opacity="0.22"/><stop offset="0.125" stop-opacity="0.20"/><stop offset="0.25" stop-opacity="0.16"/><stop offset="0.375" stop-opacity="0.13"/><stop offset="0.5" stop-opacity="0.13"/><stop offset="0.625" stop-opacity="0.13"/><stop offset="0.75" stop-opacity="0.16"/><stop offset="0.875" stop-opacity="0.20"/><stop offset="1" stop-opacity="0.22"/></linearGradient><linearGradient id="g249"><stop offset="0" stop-opacity="0.33"/><stop offset="0.125" stop-opacity="0.30"/><stop offset="0.25" stop-opacity="0.19"/><stop offset="0.375" stop-opacity="0.13"/><stop offset="0.5" stop-opacity="0.13"/><stop offset="0.625" stop-opacity="0.13"/><stop offset="0.75" stop-opacity="0.19"/><stop offset="0.875" stop-opacity="0.30"/><stop offset="1" stop-opacity="0.33"/></linearGradient><linearGradient id="g250"><stop offset="0" stop-opacity="0.46"/><stop offset="0.125" stop-opacity="0.42"/><stop offset="0.25" stop-opacity="0.24"/><stop offset="0.375" stop-opacity="0.13"/><stop offset="0.5" stop-opacity="0.13"/><stop offset="0.625" stop-opacity="0.13"/><stop offset="0.75" stop-opacity="0.24"/><stop offset="0.875" stop-opacity="0.42"/><stop offset="1" stop-opacity="0.46"/></linearGradient><linearGradient id="g251"><stop offset="0" stop-opacity="0.57"/><stop offset="0.125" stop-opacity="0.51"/><stop offset="0.25" stop-opacity="0.27"/><stop offset="0.375" stop-opacity="0.13"/><stop offset="0.5" stop-opacity="0.13"/><stop offset="0.625" stop-opacity="0.13"/><stop offset="0.75" stop-opacity="0.27"/><stop offset="0.875" stop-opacity="0.51"/><stop offset="1" stop-opacity="0.57"/></linearGradient><linearGradient id="g252"><stop offset="0" stop-opacity="0.64"/><stop offset="0.125" stop-opacity="0.57"/><stop offset="0.25" stop-opacity="0.30"/><stop offset="0.375" stop-opacity="0.13"/><stop offset="0.5" stop-opacity="0.13"/><stop offset="0.625" stop-opacity="0.13"/><stop offset="0.75" stop-opacity="0.30"/><stop offset="0.875" stop-opacity="0.57"/><stop offset="1" stop-opacity="0.64"/></linearGradient><linearGradient id="cb253"><stop offset="0" stop-color="#DEDEDE"/><stop offset="1" stop-color="#0A8544"/></linearGradient><linearGradient id="cb254"><stop offset="0" stop-color="#DEDEDE"/><stop offset="1" stop-color="#0A8544"/></linearGradient><linearGradient id="cb255"><stop offset="0" stop-color="#DEDEDE"/><stop offset="1" stop-color="#0A8544"/></linearGradient></defs>
<rect width="1972" height="2498" fill="#fff"/>
<text x="0" y="46.8" font-size="24" font-weight="bold">A</text><text x="82" y="82.5" font-size="25.3">BB- H3K27ac</text><text x="381.3" y="82.5" font-size="25.3">WT-ERG- H3K27ac</text><text x="693.4" y="82.5" font-size="25.3">P199L-ERG- H3K27ac</text><g transform="translate(178.35 234.35) scale(1 0.9686) translate(-178.35 -234.35)"><path d="M178.3 234.3L178.35 98.90A135.45 135.45 0 0 0 163.57 99.71Z" fill="#E41A1C"/><path d="M178.3 234.3L163.57 99.71A135.45 135.45 0 0 0 152.47 101.40Z" fill="#377EB8"/><path d="M178.3 234.3L152.47 101.40A135.45 135.45 0 0 0 95.13 127.48Z" fill="#4DAF4A"/><path d="M178.3 234.3L95.13 127.48A135.45 135.45 0 0 0 70.08 315.74Z" fill="#984EA3"/><path d="M178.3 234.3L70.08 315.74A135.45 135.45 0 1 0 264.95 130.20Z" fill="#FF7F00"/><path d="M178.3 234.3L264.95 130.20A135.45 135.45 0 0 0 262.31 128.06Z" fill="#FFFF33"/><path d="M178.3 234.3L262.31 128.06A135.45 135.45 0 0 0 198.45 100.40Z" fill="#A65628"/><path d="M178.3 234.3L198.45 100.40A135.45 135.45 0 0 0 178.35 98.90Z" fill="#F781BF"/></g><path d="M498.8 234.7L498.80 99.40A135.25 135.25 0 0 0 481.18 100.55Z" fill="#E41A1C"/><path d="M498.8 234.7L481.18 100.55A135.25 135.25 0 0 0 471.13 102.26Z" fill="#377EB8"/><path d="M498.8 234.7L471.13 102.26A135.25 135.25 0 0 0 406.67 135.63Z" fill="#4DAF4A"/><path d="M498.8 234.7L406.67 135.63A135.25 135.25 0 0 0 393.62 319.67Z" fill="#984EA3"/><path d="M498.8 234.7L393.62 319.67A135.25 135.25 0 1 0 583.01 128.81Z" fill="#FF7F00"/><path d="M498.8 234.7L583.01 128.81A135.25 135.25 0 0 0 580.33 126.73Z" fill="#FFFF33"/><path d="M498.8 234.7L580.33 126.73A135.25 135.25 0 0 0 520.79 101.20Z" fill="#A65628"/><path d="M498.8 234.7L520.79 101.20A135.25 135.25 0 0 0 498.80 99.40Z" fill="#F781BF"/><path d="M819.5 234.6L819.50 99.20A135.35 135.35 0 0 0 808.37 99.66Z" fill="#E41A1C"/><path d="M819.5 234.6L808.37 99.66A135.35 135.35 0 0 0 799.50 100.69Z" fill="#377EB8"/><path d="M819.5 234.6L799.50 100.69A135.35 135.35 0 0 0 767.62 109.54Z" fill="#4DAF4A"/><path d="M819.5 234.6L767.62 109.54A135.35 135.35 0 0 0 706.92 309.69Z" fill="#984EA3"/><path d="M819.5 234.6L706.92 309.69A135.35 135.35 0 1 0 897.13 123.68Z" fill="#FF7F00"/><path d="M819.5 234.6L897.13 123.68A135.35 135.35 0 0 0 895.03 122.23Z" fill="#FFFF33"/><path d="M819.5 234.6L895.03 122.23A135.35 135.35 0 0 0 835.79 100.18Z" fill="#A65628"/><path d="M819.5 234.6L835.79 100.18A135.35 135.35 0 0 0 819.50 99.20Z" fill="#F781BF"/><text x="100.7" y="239.5" font-size="14.5" text-anchor="middle" font-weight="bold">24.7</text><text x="194" y="296.3" font-size="14.5" text-anchor="middle" font-weight="bold">53.7</text><text x="418" y="239.5" font-size="14.5" text-anchor="middle" font-weight="bold">23.9</text><text x="511" y="300.8" font-size="14.5" text-anchor="middle" font-weight="bold">53.5</text><text x="743" y="239.5" font-size="14.5" text-anchor="middle" font-weight="bold">28.1</text><text x="835.6" y="299" font-size="14.5" text-anchor="middle" font-weight="bold">55.9</text><text x="996.8" y="158" font-size="13.7">annotation</text><rect x="997.3" y="167.1" width="20.5" height="20.3" fill="#E41A1C"/><text x="1025.4" y="182.4" font-size="11.2">3' UTR</text><rect x="997.3" y="189.2" width="20.5" height="20.3" fill="#377EB8"/><text x="1025.4" y="204.5" font-size="11.2">5' UTR</text><rect x="997.3" y="211.2" width="20.5" height="20.3" fill="#4DAF4A"/><text x="1025.4" y="226.5" font-size="11.2">Exon</text><rect x="997.3" y="233.3" width="20.5" height="20.3" fill="#984EA3"/><text x="1025.4" y="248.6" font-size="11.2">Intergenic</text><rect x="997.3" y="255.3" width="20.5" height="20.3" fill="#FF7F00"/><text x="1025.4" y="270.6" font-size="11.2">Intron</text><rect x="997.3" y="277.4" width="20.5" height="20.3" fill="#FFFF33"/><text x="1025.4" y="292.7" font-size="11.2">Non−coding</text><rect x="997.3" y="299.5" width="20.5" height="20.3" fill="#A65628"/><text x="1025.4" y="314.8" font-size="11.2">Promoter−TSS</text><rect x="997.3" y="321.5" width="20.5" height="20.3" fill="#F781BF"/><text x="1025.4" y="336.8" font-size="11.2">TSS</text><text x="1137.8" y="18" font-size="23.5" font-weight="bold">B</text><text x="1365" y="23.3" font-size="25.5" text-anchor="middle">H3K27ac</text><text x="1282.5" y="55.4" font-size="15.8" text-anchor="middle">BB</text><text x="1374" y="55.4" font-size="15.8" text-anchor="middle">P199L−ERG</text><text x="1465.9" y="55.4" font-size="15.8" text-anchor="middle">WT−ERG</text><rect x="1239.2" y="61" width="86.6" height="424.6" fill="#EFEEF7"/><g filter="url(#nzb0)" shape-rendering="crispEdges"><rect x="1239.2" y="61" width="86.6" height="27" fill="url(#g1)"/><rect x="1239.2" y="88" width="86.6" height="26" fill="url(#g2)"/><rect x="1239.2" y="114" width="86.6" height="27" fill="url(#g3)"/><rect x="1239.2" y="141" width="86.6" height="26" fill="url(#g4)"/><rect x="1239.2" y="167" width="86.6" height="27" fill="url(#g5)"/><rect x="1239.2" y="194" width="86.6" height="26" fill="url(#g6)"/><rect x="1239.2" y="220" width="86.6" height="27" fill="url(#g7)"/><rect x="1239.2" y="247" width="86.6" height="26" fill="url(#g8)"/><rect x="1239.2" y="273" width="86.6" height="27" fill="url(#g9)"/><rect x="1239.2" y="300" width="86.6" height="26" fill="url(#g10)"/><rect x="1239.2" y="326" width="86.6" height="27" fill="url(#g11)"/><rect x="1239.2" y="353" width="86.6" height="26" fill="url(#g12)"/><rect x="1239.2" y="379" width="86.6" height="27" fill="url(#g13)"/><rect x="1239.2" y="406" width="86.6" height="27" fill="url(#g14)"/><rect x="1239.2" y="433" width="86.6" height="26" fill="url(#g15)"/><rect x="1239.2" y="459" width="86.6" height="27" fill="url(#g16)"/></g><rect x="1239.2" y="61" width="86.6" height="424.6" fill="none" stroke="#000" stroke-width="1.6"/><line x1="1239.20" y1="485.6" x2="1239.20" y2="495.6" stroke="#000" stroke-width="1.3"/><text x="1241.70" y="497.60" font-size="14" text-anchor="end" transform="rotate(-62 1241.70 497.60)">−500</text><line x1="1260.85" y1="485.6" x2="1260.85" y2="495.6" stroke="#000" stroke-width="1.3"/><text x="1263.35" y="497.60" font-size="14" text-anchor="end" transform="rotate(-62 1263.35 497.60)">−250</text><line x1="1282.50" y1="485.6" x2="1282.50" y2="495.6" stroke="#000" stroke-width="1.3"/><text x="1285.00" y="497.60" font-size="14" text-anchor="end" transform="rotate(-62 1285.00 497.60)">0</text><line x1="1304.15" y1="485.6" x2="1304.15" y2="495.6" stroke="#000" stroke-width="1.3"/><text x="1306.65" y="497.60" font-size="14" text-anchor="end" transform="rotate(-62 1306.65 497.60)">250</text><line x1="1325.80" y1="485.6" x2="1325.80" y2="495.6" stroke="#000" stroke-width="1.3"/><text x="1328.30" y="497.60" font-size="14" text-anchor="end" transform="rotate(-62 1328.30 497.60)">500</text><rect x="1330.4" y="61" width="87.2" height="424.6" fill="#EFEEF7"/><g filter="url(#nzb1)" shape-rendering="crispEdges"><rect x="1330.4" y="61" width="87.2" height="27" fill="url(#g17)"/><rect x="1330.4" y="88" width="87.2" height="26" fill="url(#g18)"/><rect x="1330.4" y="114" width="87.2" height="27" fill="url(#g19)"/><rect x="1330.4" y="141" width="87.2" height="26" fill="url(#g20)"/><rect x="1330.4" y="167" width="87.2" height="27" fill="url(#g21)"/><rect x="1330.4" y="194" width="87.2" height="26" fill="url(#g22)"/><rect x="1330.4" y="220" width="87.2" height="27" fill="url(#g23)"/><rect x="1330.4" y="247" width="87.2" height="26" fill="url(#g24)"/><rect x="1330.4" y="273" width="87.2" height="27" fill="url(#g25)"/><rect x="1330.4" y="300" width="87.2" height="26" fill="url(#g26)"/><rect x="1330.4" y="326" width="87.2" height="27" fill="url(#g27)"/><rect x="1330.4" y="353" width="87.2" height="26" fill="url(#g28)"/><rect x="1330.4" y="379" width="87.2" height="27" fill="url(#g29)"/><rect x="1330.4" y="406" width="87.2" height="27" fill="url(#g30)"/><rect x="1330.4" y="433" width="87.2" height="26" fill="url(#g31)"/><rect x="1330.4" y="459" width="87.2" height="27" fill="url(#g32)"/></g><rect x="1330.4" y="61" width="87.2" height="424.6" fill="none" stroke="#000" stroke-width="1.6"/><line x1="1330.40" y1="485.6" x2="1330.40" y2="495.6" stroke="#000" stroke-width="1.3"/><text x="1332.90" y="497.60" font-size="14" text-anchor="end" transform="rotate(-62 1332.90 497.60)">−500</text><line x1="1352.20" y1="485.6" x2="1352.20" y2="495.6" stroke="#000" stroke-width="1.3"/><text x="1354.70" y="497.60" font-size="14" text-anchor="end" transform="rotate(-62 1354.70 497.60)">−250</text><line x1="1374.00" y1="485.6" x2="1374.00" y2="495.6" stroke="#000" stroke-width="1.3"/><text x="1376.50" y="497.60" font-size="14" text-anchor="end" transform="rotate(-62 1376.50 497.60)">0</text><line x1="1395.80" y1="485.6" x2="1395.80" y2="495.6" stroke="#000" stroke-width="1.3"/><text x="1398.30" y="497.60" font-size="14" text-anchor="end" transform="rotate(-62 1398.30 497.60)">250</text><line x1="1417.60" y1="485.6" x2="1417.60" y2="495.6" stroke="#000" stroke-width="1.3"/><text x="1420.10" y="497.60" font-size="14" text-anchor="end" transform="rotate(-62 1420.10 497.60)">500</text><rect x="1422.3" y="61" width="87.2" height="424.6" fill="#EFEEF7"/><g filter="url(#nzb2)" shape-rendering="crispEdges"><rect x="1422.3" y="61" width="87.2" height="27" fill="url(#g33)"/><rect x="1422.3" y="88" width="87.2" height="26" fill="url(#g34)"/><rect x="1422.3" y="114" width="87.2" height="27" fill="url(#g35)"/><rect x="1422.3" y="141" width="87.2" height="26" fill="url(#g36)"/><rect x="1422.3" y="167" width="87.2" height="27" fill="url(#g37)"/><rect x="1422.3" y="194" width="87.2" height="26" fill="url(#g38)"/><rect x="1422.3" y="220" width="87.2" height="27" fill="url(#g39)"/><rect x="1422.3" y="247" width="87.2" height="26" fill="url(#g40)"/><rect x="1422.3" y="273" width="87.2" height="27" fill="url(#g41)"/><rect x="1422.3" y="300" width="87.2" height="26" fill="url(#g42)"/><rect x="1422.3" y="326" width="87.2" height="27" fill="url(#g43)"/><rect x="1422.3" y="353" width="87.2" height="26" fill="url(#g44)"/><rect x="1422.3" y="379" width="87.2" height="27" fill="url(#g45)"/><rect x="1422.3" y="406" width="87.2" height="27" fill="url(#g46)"/><rect x="1422.3" y="433" width="87.2" height="26" fill="url(#g47)"/><rect x="1422.3" y="459" width="87.2" height="27" fill="url(#g48)"/></g><rect x="1422.3" y="61" width="87.2" height="424.6" fill="none" stroke="#000" stroke-width="1.6"/><line x1="1422.30" y1="485.6" x2="1422.30" y2="495.6" stroke="#000" stroke-width="1.3"/><text x="1424.80" y="497.60" font-size="14" text-anchor="end" transform="rotate(-62 1424.80 497.60)">−500</text><line x1="1444.10" y1="485.6" x2="1444.10" y2="495.6" stroke="#000" stroke-width="1.3"/><text x="1446.60" y="497.60" font-size="14" text-anchor="end" transform="rotate(-62 1446.60 497.60)">−250</text><line x1="1465.90" y1="485.6" x2="1465.90" y2="495.6" stroke="#000" stroke-width="1.3"/><text x="1468.40" y="497.60" font-size="14" text-anchor="end" transform="rotate(-62 1468.40 497.60)">0</text><line x1="1487.70" y1="485.6" x2="1487.70" y2="495.6" stroke="#000" stroke-width="1.3"/><text x="1490.20" y="497.60" font-size="14" text-anchor="end" transform="rotate(-62 1490.20 497.60)">250</text><line x1="1509.50" y1="485.6" x2="1509.50" y2="495.6" stroke="#000" stroke-width="1.3"/><text x="1512.00" y="497.60" font-size="14" text-anchor="end" transform="rotate(-62 1512.00 497.60)">500</text><rect x="1251.8" y="568.8" width="61.7" height="15.3" fill="url(#cb49)" stroke="#000" stroke-width="1.5"/><line x1="1251.80" y1="584.1" x2="1251.80" y2="596.1" stroke="#000" stroke-width="1.3"/><line x1="1260.61" y1="584.1" x2="1260.61" y2="596.1" stroke="#000" stroke-width="1.3"/><line x1="1269.43" y1="584.1" x2="1269.43" y2="596.1" stroke="#000" stroke-width="1.3"/><line x1="1278.24" y1="584.1" x2="1278.24" y2="596.1" stroke="#000" stroke-width="1.3"/><line x1="1287.06" y1="584.1" x2="1287.06" y2="596.1" stroke="#000" stroke-width="1.3"/><line x1="1295.87" y1="584.1" x2="1295.87" y2="596.1" stroke="#000" stroke-width="1.3"/><line x1="1304.69" y1="584.1" x2="1304.69" y2="596.1" stroke="#000" stroke-width="1.3"/><line x1="1313.50" y1="584.1" x2="1313.50" y2="596.1" stroke="#000" stroke-width="1.3"/><text x="1251.8" y="612.6" font-size="20" text-anchor="middle">−0.4</text><text x="1287.1" y="612.6" font-size="20" text-anchor="middle">0.4</text><text x="1313.5" y="612.6" font-size="20" text-anchor="middle">1</text><rect x="1343.3" y="568.8" width="61.7" height="15.3" fill="url(#cb50)" stroke="#000" stroke-width="1.5"/><line x1="1343.30" y1="584.1" x2="1343.30" y2="596.1" stroke="#000" stroke-width="1.3"/><line x1="1353.58" y1="584.1" x2="1353.58" y2="596.1" stroke="#000" stroke-width="1.3"/><line x1="1363.87" y1="584.1" x2="1363.87" y2="596.1" stroke="#000" stroke-width="1.3"/><line x1="1374.15" y1="584.1" x2="1374.15" y2="596.1" stroke="#000" stroke-width="1.3"/><line x1="1384.43" y1="584.1" x2="1384.43" y2="596.1" stroke="#000" stroke-width="1.3"/><line x1="1394.72" y1="584.1" x2="1394.72" y2="596.1" stroke="#000" stroke-width="1.3"/><line x1="1405.00" y1="584.1" x2="1405.00" y2="596.1" stroke="#000" stroke-width="1.3"/><text x="1343.3" y="612.6" font-size="20" text-anchor="middle">−0.4</text><text x="1384.4" y="612.6" font-size="20" text-anchor="middle">0.4</text><rect x="1435.3" y="568.8" width="61.3" height="15.3" fill="url(#cb51)" stroke="#000" stroke-width="1.5"/><line x1="1435.30" y1="584.1" x2="1435.30" y2="596.1" stroke="#000" stroke-width="1.3"/><line x1="1444.06" y1="584.1" x2="1444.06" y2="596.1" stroke="#000" stroke-width="1.3"/><line x1="1452.81" y1="584.1" x2="1452.81" y2="596.1" stroke="#000" stroke-width="1.3"/><line x1="1461.57" y1="584.1" x2="1461.57" y2="596.1" stroke="#000" stroke-width="1.3"/><line x1="1470.33" y1="584.1" x2="1470.33" y2="596.1" stroke="#000" stroke-width="1.3"/><line x1="1479.09" y1="584.1" x2="1479.09" y2="596.1" stroke="#000" stroke-width="1.3"/><line x1="1487.84" y1="584.1" x2="1487.84" y2="596.1" stroke="#000" stroke-width="1.3"/><line x1="1496.60" y1="584.1" x2="1496.60" y2="596.1" stroke="#000" stroke-width="1.3"/><text x="1435.3" y="612.6" font-size="20" text-anchor="middle">−0.4</text><text x="1470.3" y="612.6" font-size="20" text-anchor="middle">0.4</text><text x="1496.6" y="612.6" font-size="20" text-anchor="middle">1</text><text x="1620.6" y="81.8" font-size="19.7" font-weight="bold">n=1567</text><rect x="1620.6" y="118" width="214.8" height="231" fill="none" stroke="#000" stroke-width="1.2"/><line x1="1610.8" y1="128.2" x2="1620.6" y2="128.2" stroke="#000" stroke-width="1.1"/><text x="1596.7" y="128.2" font-size="17" text-anchor="middle" transform="rotate(-90 1596.7 128.2)">0.15</text><line x1="1610.8" y1="181.0" x2="1620.6" y2="181.0" stroke="#000" stroke-width="1.1"/><text x="1596.7" y="181.0" font-size="17" text-anchor="middle" transform="rotate(-90 1596.7 181.0)">0.10</text><line x1="1610.8" y1="233.8" x2="1620.6" y2="233.8" stroke="#000" stroke-width="1.1"/><text x="1596.7" y="233.8" font-size="17" text-anchor="middle" transform="rotate(-90 1596.7 233.8)">0.05</text><line x1="1610.8" y1="286.6" x2="1620.6" y2="286.6" stroke="#000" stroke-width="1.1"/><line x1="1610.8" y1="339.4" x2="1620.6" y2="339.4" stroke="#000" stroke-width="1.1"/><text x="1596.7" y="339.4" font-size="17" text-anchor="middle" transform="rotate(-90 1596.7 339.4)">−0.05</text><line x1="1628.5" y1="349" x2="1628.5" y2="360" stroke="#000" stroke-width="1.1"/><text x="1628.5" y="386.6" font-size="17" text-anchor="middle">−1000</text><line x1="1678.1" y1="349" x2="1678.1" y2="360" stroke="#000" stroke-width="1.1"/><line x1="1727.8" y1="349" x2="1727.8" y2="360" stroke="#000" stroke-width="1.1"/><text x="1727.8" y="386.6" font-size="17" text-anchor="middle">0</text><line x1="1777.4" y1="349" x2="1777.4" y2="360" stroke="#000" stroke-width="1.1"/><text x="1777.4" y="386.6" font-size="17" text-anchor="middle">500</text><line x1="1827.0" y1="349" x2="1827.0" y2="360" stroke="#000" stroke-width="1.1"/><text x="1827" y="386.6" font-size="17" text-anchor="middle">1000</text><text x="1606" y="430.3" font-size="17.2">bp from H3K27ac peak (5'–&gt; 3')</text><text x="1554.4" y="233.8" font-size="17.5" text-anchor="middle" transform="rotate(-90 1554.4 233.8)">Average score</text><path d="M1628.0 286.9 1633.8 287.7 1644.4 286.9 1652.3 292.7 1662.9 303.3 1672.2 300.7 1678.8 303.3 1689.4 320.5 1697.3 336.4 1701.3 340.3 1705.2 335.1 1710.5 309.9 1717.1 238.5 1721.9 172.3 1725.1 126.5 1729.6 128.1 1731.7 140.6 1735.7 180.2 1742.3 264.9 1747.6 315.2 1750.2 329.8 1754.2 332.4 1758.2 328.4 1766.1 312.6 1774.0 295.4 1782.0 290.1 1792.6 285.6 1800.5 283.5 1805.8 286.1 1816.4 296.7 1827.0 288.7" fill="none" stroke="#BDBDBD" stroke-width="1.5"/><path d="M1628.0 291.4 1633.8 293.5 1641.7 295.4 1652.3 296.7 1662.9 300.7 1672.2 300.7 1678.8 303.3 1686.7 315.2 1694.6 331.1 1701.3 333.7 1705.2 329.8 1710.5 304.6 1717.1 246.4 1722.4 185.5 1725.9 148.5 1729.6 147.2 1731.7 151.1 1735.7 185.5 1741.0 251.7 1746.3 304.6 1750.2 325.8 1754.2 331.1 1758.2 327.1 1766.1 312.6 1774.0 296.7 1782.0 291.4 1792.6 284.8 1800.5 281.3 1808.4 282.9 1813.7 288.7 1819.0 294.6 1827.0 292.7" fill="none" stroke="#F5822A" stroke-width="1.5"/><path d="M1628.0 269.7 1632.5 272.3 1636.4 271.0 1644.4 271.8 1649.7 278.2 1656.3 288.7 1664.2 294.6 1672.2 291.4 1680.1 294.0 1689.4 312.6 1697.8 328.4 1702.6 331.1 1706.6 329.8 1710.5 317.9 1717.1 278.2 1721.1 241.1 1725.1 219.9 1729.1 219.4 1731.7 222.6 1735.7 241.1 1742.3 278.2 1747.6 312.6 1750.2 324.5 1754.2 324.5 1758.2 319.2 1766.1 302.0 1774.0 284.8 1782.0 275.0 1787.3 276.0 1795.2 275.5 1803.1 276.8 1811.1 280.8 1815.1 280.3 1821.7 275.0 1827.0 271.5" fill="none" stroke="#1F74B4" stroke-width="1.5"/><rect x="1847.6" y="142.4" width="13.2" height="11.4" fill="#AAAAAA" stroke="#000" stroke-width="0.8"/><text x="1876" y="153.8" font-size="17">BB</text><rect x="1847.6" y="164.4" width="13.2" height="10.6" fill="#F58020" stroke="#000" stroke-width="0.8"/><text x="1876" y="175.5" font-size="17">P199L−ERG</text><rect x="1847.6" y="185.5" width="13.2" height="11.1" fill="#0868AC" stroke="#000" stroke-width="0.8"/><text x="1876" y="197.4" font-size="17">WT−ERG</text><text x="5" y="517.3" font-size="24" font-weight="bold">C</text><line x1="103.5" y1="515.6" x2="103.5" y2="1181.2" stroke="#000" stroke-width="1.2"/><line x1="103" y1="1180.5" x2="484" y2="1180.5" stroke="#000" stroke-width="1.2"/><line x1="99.5" y1="1132.8" x2="103.8" y2="1132.8" stroke="#333" stroke-width="1.1"/><text x="95.5" y="1137.8" font-size="14" text-anchor="end" fill="#3C3C3C">0</text><line x1="99.5" y1="957.3" x2="103.8" y2="957.3" stroke="#333" stroke-width="1.1"/><text x="95.5" y="962.3" font-size="14" text-anchor="end" fill="#3C3C3C">1</text><line x1="99.5" y1="781.8" x2="103.8" y2="781.8" stroke="#333" stroke-width="1.1"/><text x="95.5" y="786.8" font-size="14" text-anchor="end" fill="#3C3C3C">2</text><line x1="99.5" y1="606.3" x2="103.8" y2="606.3" stroke="#333" stroke-width="1.1"/><text x="95.5" y="611.3" font-size="14" text-anchor="end" fill="#3C3C3C">3</text><text x="71" y="848" font-size="18.1" text-anchor="middle" transform="rotate(-90 71 848)">Log10 reads on peaks per Kb</text><line x1="122.5" y1="1180.8" x2="122.5" y2="1184.6" stroke="#333" stroke-width="1.1"/><line x1="153.7" y1="1180.8" x2="153.7" y2="1184.6" stroke="#333" stroke-width="1.1"/><line x1="184.9" y1="1180.8" x2="184.9" y2="1184.6" stroke="#333" stroke-width="1.1"/><line x1="216.0" y1="1180.8" x2="216.0" y2="1184.6" stroke="#333" stroke-width="1.1"/><line x1="247.2" y1="1180.8" x2="247.2" y2="1184.6" stroke="#333" stroke-width="1.1"/><line x1="278.4" y1="1180.8" x2="278.4" y2="1184.6" stroke="#333" stroke-width="1.1"/><line x1="309.6" y1="1180.8" x2="309.6" y2="1184.6" stroke="#333" stroke-width="1.1"/><line x1="340.8" y1="1180.8" x2="340.8" y2="1184.6" stroke="#333" stroke-width="1.1"/><line x1="371.9" y1="1180.8" x2="371.9" y2="1184.6" stroke="#333" stroke-width="1.1"/><line x1="403.1" y1="1180.8" x2="403.1" y2="1184.6" stroke="#333" stroke-width="1.1"/><line x1="434.3" y1="1180.8" x2="434.3" y2="1184.6" stroke="#333" stroke-width="1.1"/><line x1="465.5" y1="1180.8" x2="465.5" y2="1184.6" stroke="#333" stroke-width="1.1"/><text x="153.7" y="1156.3" font-size="12.9" text-anchor="middle" fill="#1a1a1a">H3K27ac</text><text x="247.2" y="1156.3" font-size="12.9" text-anchor="middle" fill="#1a1a1a">H3K4me1</text><text x="340.8" y="1156.3" font-size="12.9" text-anchor="middle" fill="#1a1a1a">H3K4me3</text><text x="434.3" y="1156.3" font-size="12.9" text-anchor="middle" fill="#1a1a1a">H3K9ac</text><text x="153.5" y="664" font-size="15" text-anchor="middle">***</text><line x1="122.5" y1="741.4" x2="122.5" y2="872.7" stroke="#1a1a1a" stroke-width="1.1"/><rect x="110.5" y="789.7" width="23.9" height="33.3" fill="#A9A196" stroke="#222" stroke-width="1.1"/><line x1="110.5" y1="805.8" x2="134.4" y2="805.8" stroke="#1a1a1a" stroke-width="2.4"/><circle cx="122.5" cy="739.7" r="1" fill="#1a1a1a"/><circle cx="122.5" cy="732.1" r="1" fill="#1a1a1a"/><circle cx="122.5" cy="719.7" r="1" fill="#1a1a1a"/><circle cx="122.5" cy="873.1" r="1" fill="#1a1a1a"/><circle cx="122.5" cy="876.9" r="1" fill="#1a1a1a"/><circle cx="122.5" cy="880.1" r="1" fill="#1a1a1a"/><circle cx="122.5" cy="883.6" r="1" fill="#1a1a1a"/><circle cx="122.5" cy="894.1" r="1" fill="#1a1a1a"/><line x1="154.5" y1="790.6" x2="154.5" y2="928.3" stroke="#1a1a1a" stroke-width="1.1"/><rect x="142.6" y="839.9" width="23.9" height="35.8" fill="#1F4588" stroke="#222" stroke-width="1.1"/><line x1="142.6" y1="856.6" x2="166.4" y2="856.6" stroke="#1a1a1a" stroke-width="2.4"/><line x1="154.5" y1="928.3" x2="154.5" y2="948.5" stroke="#1a1a1a" stroke-width="2.1" stroke-dasharray="4 0.5"/><circle cx="154.5" cy="782.9" r="1" fill="#1a1a1a"/><circle cx="154.5" cy="763.4" r="1" fill="#1a1a1a"/><circle cx="154.5" cy="933.1" r="1" fill="#1a1a1a"/><circle cx="154.5" cy="939.8" r="1" fill="#1a1a1a"/><circle cx="154.5" cy="945.0" r="1" fill="#1a1a1a"/><circle cx="154.5" cy="952.0" r="1" fill="#1a1a1a"/><circle cx="154.5" cy="957.3" r="1" fill="#1a1a1a"/><circle cx="154.5" cy="959.9" r="1" fill="#1a1a1a"/><line x1="185.5" y1="735.3" x2="185.5" y2="848.5" stroke="#1a1a1a" stroke-width="1.1"/><rect x="173.6" y="778.5" width="23.9" height="29.5" fill="#FF6208" stroke="#222" stroke-width="1.1"/><line x1="173.6" y1="793.4" x2="197.4" y2="793.4" stroke="#1a1a1a" stroke-width="2.4"/><line x1="185.5" y1="734.4" x2="185.5" y2="723.2" stroke="#1a1a1a" stroke-width="2.1" stroke-dasharray="4 0.5"/><circle cx="185.5" cy="871.3" r="1" fill="#1a1a1a"/><line x1="216.5" y1="706.9" x2="216.5" y2="975.0" stroke="#1a1a1a" stroke-width="1.1"/><rect x="204.6" y="804.6" width="23.9" height="68.1" fill="#A9A196" stroke="#222" stroke-width="1.1"/><line x1="204.6" y1="838.0" x2="228.4" y2="838.0" stroke="#1a1a1a" stroke-width="2.4"/><line x1="216.5" y1="702.3" x2="216.5" y2="690.5" stroke="#1a1a1a" stroke-width="2.1" stroke-dasharray="4 0.5"/><line x1="216.5" y1="975.0" x2="216.5" y2="1057.3" stroke="#1a1a1a" stroke-width="2.1" stroke-dasharray="4 0.5"/><circle cx="216.5" cy="687.0" r="1" fill="#1a1a1a"/><circle cx="216.5" cy="683.5" r="1" fill="#1a1a1a"/><circle cx="216.5" cy="680.0" r="1" fill="#1a1a1a"/><circle cx="216.5" cy="668.8" r="1" fill="#1a1a1a"/><circle cx="216.5" cy="656.5" r="1" fill="#1a1a1a"/><circle cx="216.5" cy="1066.5" r="1" fill="#1a1a1a"/><circle cx="216.5" cy="1073.1" r="1" fill="#1a1a1a"/><circle cx="216.5" cy="1080.1" r="1" fill="#1a1a1a"/><circle cx="216.5" cy="1087.2" r="1" fill="#1a1a1a"/><circle cx="216.5" cy="1094.2" r="1" fill="#1a1a1a"/><circle cx="216.5" cy="1097.7" r="1" fill="#1a1a1a"/><circle cx="216.5" cy="1101.4" r="1" fill="#1a1a1a"/><circle cx="216.5" cy="1117.9" r="1" fill="#1a1a1a"/><line x1="247.5" y1="708.6" x2="247.5" y2="964.7" stroke="#1a1a1a" stroke-width="1.1"/><rect x="235.6" y="803.6" width="23.9" height="64.8" fill="#1F4588" stroke="#222" stroke-width="1.1"/><line x1="235.6" y1="835.0" x2="259.4" y2="835.0" stroke="#1a1a1a" stroke-width="2.4"/><line x1="247.5" y1="704.6" x2="247.5" y2="683.5" stroke="#1a1a1a" stroke-width="2.1" stroke-dasharray="4 0.5"/><line x1="247.5" y1="964.7" x2="247.5" y2="1023.1" stroke="#1a1a1a" stroke-width="2.1" stroke-dasharray="4 0.5"/><circle cx="247.5" cy="677.6" r="1" fill="#1a1a1a"/><circle cx="247.5" cy="680.0" r="1" fill="#1a1a1a"/><circle cx="247.5" cy="1032.4" r="1" fill="#1a1a1a"/><circle cx="247.5" cy="1036.3" r="1" fill="#1a1a1a"/><circle cx="247.5" cy="1048.6" r="1" fill="#1a1a1a"/><circle cx="247.5" cy="1062.6" r="1" fill="#1a1a1a"/><circle cx="247.5" cy="1067.9" r="1" fill="#1a1a1a"/><circle cx="247.5" cy="1080.1" r="1" fill="#1a1a1a"/><circle cx="247.5" cy="1094.4" r="1" fill="#1a1a1a"/><line x1="278.5" y1="729.1" x2="278.5" y2="954.0" stroke="#1a1a1a" stroke-width="1.1"/><rect x="266.6" y="810.9" width="23.9" height="58.1" fill="#FF6208" stroke="#222" stroke-width="1.1"/><line x1="266.6" y1="838.3" x2="290.4" y2="838.3" stroke="#1a1a1a" stroke-width="2.4"/><line x1="278.5" y1="725.6" x2="278.5" y2="699.8" stroke="#1a1a1a" stroke-width="2.1" stroke-dasharray="4 0.5"/><line x1="278.5" y1="954.0" x2="278.5" y2="1053.5" stroke="#1a1a1a" stroke-width="2.1" stroke-dasharray="4 0.5"/><circle cx="278.5" cy="682.3" r="1" fill="#1a1a1a"/><circle cx="278.5" cy="665.3" r="1" fill="#1a1a1a"/><circle cx="278.5" cy="1088.6" r="1" fill="#1a1a1a"/><circle cx="278.5" cy="1094.4" r="1" fill="#1a1a1a"/><line x1="310.5" y1="670.5" x2="310.5" y2="968.2" stroke="#1a1a1a" stroke-width="1.1"/><rect x="298.6" y="782.2" width="23.9" height="74.9" fill="#A9A196" stroke="#222" stroke-width="1.1"/><line x1="298.6" y1="817.8" x2="322.4" y2="817.8" stroke="#1a1a1a" stroke-width="2.4"/><line x1="310.5" y1="670.5" x2="310.5" y2="590.0" stroke="#1a1a1a" stroke-width="2.1" stroke-dasharray="4 0.5"/><line x1="310.5" y1="968.2" x2="310.5" y2="1018.7" stroke="#1a1a1a" stroke-width="2.1" stroke-dasharray="4 0.5"/><circle cx="310.5" cy="579.3" r="1" fill="#1a1a1a"/><circle cx="310.5" cy="571.2" r="1" fill="#1a1a1a"/><circle cx="310.5" cy="563.0" r="1" fill="#1a1a1a"/><circle cx="310.5" cy="547.3" r="1" fill="#1a1a1a"/><circle cx="310.5" cy="1024.0" r="1" fill="#1a1a1a"/><circle cx="310.5" cy="1027.5" r="1" fill="#1a1a1a"/><circle cx="310.5" cy="1034.7" r="1" fill="#1a1a1a"/><line x1="341.5" y1="676.9" x2="341.5" y2="968.2" stroke="#1a1a1a" stroke-width="1.1"/><rect x="329.6" y="785.8" width="23.9" height="73.0" fill="#1F4588" stroke="#222" stroke-width="1.1"/><line x1="329.6" y1="821.5" x2="353.4" y2="821.5" stroke="#1a1a1a" stroke-width="2.4"/><line x1="341.5" y1="676.9" x2="341.5" y2="575.8" stroke="#1a1a1a" stroke-width="2.1" stroke-dasharray="4 0.5"/><line x1="341.5" y1="968.2" x2="341.5" y2="1027.5" stroke="#1a1a1a" stroke-width="2.1" stroke-dasharray="4 0.5"/><circle cx="341.5" cy="569.4" r="1" fill="#1a1a1a"/><circle cx="341.5" cy="547.3" r="1" fill="#1a1a1a"/><circle cx="341.5" cy="1031.0" r="1" fill="#1a1a1a"/><circle cx="341.5" cy="1034.5" r="1" fill="#1a1a1a"/><circle cx="341.5" cy="1038.4" r="1" fill="#1a1a1a"/><line x1="372.5" y1="703.4" x2="372.5" y2="906.1" stroke="#1a1a1a" stroke-width="1.1"/><rect x="360.6" y="779.2" width="23.9" height="50.9" fill="#FF6208" stroke="#222" stroke-width="1.1"/><line x1="360.6" y1="809.5" x2="384.4" y2="809.5" stroke="#1a1a1a" stroke-width="2.4"/><line x1="372.5" y1="703.4" x2="372.5" y2="606.3" stroke="#1a1a1a" stroke-width="2.1" stroke-dasharray="4 0.5"/><line x1="372.5" y1="906.1" x2="372.5" y2="927.5" stroke="#1a1a1a" stroke-width="2.1" stroke-dasharray="4 0.5"/><circle cx="372.5" cy="595.8" r="1" fill="#1a1a1a"/><circle cx="372.5" cy="587.5" r="1" fill="#1a1a1a"/><circle cx="372.5" cy="545.4" r="1" fill="#1a1a1a"/><circle cx="372.5" cy="936.2" r="1" fill="#1a1a1a"/><circle cx="372.5" cy="946.8" r="1" fill="#1a1a1a"/><circle cx="372.5" cy="957.3" r="1" fill="#1a1a1a"/><circle cx="372.5" cy="966.1" r="1" fill="#1a1a1a"/><circle cx="372.5" cy="974.8" r="1" fill="#1a1a1a"/><circle cx="372.5" cy="983.6" r="1" fill="#1a1a1a"/><circle cx="372.5" cy="992.4" r="1" fill="#1a1a1a"/><circle cx="372.5" cy="1001.2" r="1" fill="#1a1a1a"/><circle cx="372.5" cy="1009.9" r="1" fill="#1a1a1a"/><circle cx="372.5" cy="1024.2" r="1" fill="#1a1a1a"/><line x1="403.5" y1="706.3" x2="403.5" y2="908.5" stroke="#1a1a1a" stroke-width="1.1"/><rect x="391.6" y="781.4" width="23.9" height="50.5" fill="#A9A196" stroke="#222" stroke-width="1.1"/><line x1="391.6" y1="805.8" x2="415.4" y2="805.8" stroke="#1a1a1a" stroke-width="2.4"/><line x1="403.5" y1="706.3" x2="403.5" y2="622.6" stroke="#1a1a1a" stroke-width="2.1" stroke-dasharray="4 0.5"/><line x1="403.5" y1="908.5" x2="403.5" y2="962.6" stroke="#1a1a1a" stroke-width="2.1" stroke-dasharray="4 0.5"/><circle cx="403.5" cy="615.1" r="1" fill="#1a1a1a"/><circle cx="403.5" cy="606.3" r="1" fill="#1a1a1a"/><circle cx="403.5" cy="594.5" r="1" fill="#1a1a1a"/><circle cx="403.5" cy="969.6" r="1" fill="#1a1a1a"/><circle cx="403.5" cy="974.8" r="1" fill="#1a1a1a"/><circle cx="403.5" cy="981.9" r="1" fill="#1a1a1a"/><circle cx="403.5" cy="992.4" r="1" fill="#1a1a1a"/><circle cx="403.5" cy="1001.2" r="1" fill="#1a1a1a"/><circle cx="403.5" cy="1024.0" r="1" fill="#1a1a1a"/><circle cx="403.5" cy="1030.1" r="1" fill="#1a1a1a"/><line x1="434.5" y1="711.1" x2="434.5" y2="906.1" stroke="#1a1a1a" stroke-width="1.1"/><rect x="422.6" y="784.1" width="23.9" height="49.0" fill="#1F4588" stroke="#222" stroke-width="1.1"/><line x1="422.6" y1="808.8" x2="446.4" y2="808.8" stroke="#1a1a1a" stroke-width="2.4"/><line x1="434.5" y1="711.1" x2="434.5" y2="626.1" stroke="#1a1a1a" stroke-width="2.1" stroke-dasharray="4 0.5"/><line x1="434.5" y1="906.1" x2="434.5" y2="936.2" stroke="#1a1a1a" stroke-width="2.1" stroke-dasharray="4 0.5"/><circle cx="434.5" cy="618.6" r="1" fill="#1a1a1a"/><circle cx="434.5" cy="609.8" r="1" fill="#1a1a1a"/><circle cx="434.5" cy="948.5" r="1" fill="#1a1a1a"/><circle cx="434.5" cy="957.3" r="1" fill="#1a1a1a"/><circle cx="434.5" cy="966.1" r="1" fill="#1a1a1a"/><circle cx="434.5" cy="971.3" r="1" fill="#1a1a1a"/><circle cx="434.5" cy="981.9" r="1" fill="#1a1a1a"/><circle cx="434.5" cy="988.9" r="1" fill="#1a1a1a"/><circle cx="434.5" cy="1001.2" r="1" fill="#1a1a1a"/><circle cx="434.5" cy="1019.6" r="1" fill="#1a1a1a"/><line x1="465.5" y1="715.8" x2="465.5" y2="893.2" stroke="#1a1a1a" stroke-width="1.1"/><rect x="453.6" y="781.8" width="23.9" height="44.6" fill="#FF6208" stroke="#222" stroke-width="1.1"/><line x1="453.6" y1="803.9" x2="477.4" y2="803.9" stroke="#1a1a1a" stroke-width="2.4"/><line x1="465.5" y1="715.8" x2="465.5" y2="630.9" stroke="#1a1a1a" stroke-width="2.1" stroke-dasharray="4 0.5"/><line x1="465.5" y1="893.2" x2="465.5" y2="952.9" stroke="#1a1a1a" stroke-width="2.1" stroke-dasharray="4 0.5"/><circle cx="465.5" cy="623.8" r="1" fill="#1a1a1a"/><circle cx="465.5" cy="615.6" r="1" fill="#1a1a1a"/><circle cx="465.5" cy="960.8" r="1" fill="#1a1a1a"/><circle cx="465.5" cy="966.1" r="1" fill="#1a1a1a"/><circle cx="465.5" cy="969.6" r="1" fill="#1a1a1a"/><circle cx="465.5" cy="981.9" r="1" fill="#1a1a1a"/><circle cx="465.5" cy="990.6" r="1" fill="#1a1a1a"/><circle cx="465.5" cy="1009.9" r="1" fill="#1a1a1a"/><circle cx="465.5" cy="1013.5" r="1" fill="#1a1a1a"/><circle cx="465.5" cy="1033.6" r="1" fill="#1a1a1a"/><line x1="517.3" y1="819.0" x2="517.3" y2="838.6" stroke="#222" stroke-width="1.1"/><rect x="508.4" y="822.8" width="17.3" height="12" fill="#A9A196" stroke="#222" stroke-width="1"/><line x1="508.4" y1="828.8" x2="525.7" y2="828.8" stroke="#1a1a1a" stroke-width="1.8"/><text x="535.8" y="833.7" font-size="13.1" fill="#1a1a1a">BB</text><line x1="517.3" y1="842.1" x2="517.3" y2="861.7" stroke="#222" stroke-width="1.1"/><rect x="508.4" y="845.9" width="17.3" height="12" fill="#1F4588" stroke="#222" stroke-width="1"/><line x1="508.4" y1="851.9" x2="525.7" y2="851.9" stroke="#1a1a1a" stroke-width="1.8"/><text x="535.8" y="856.8" font-size="13.1" fill="#1a1a1a">WT-ERG</text><line x1="517.3" y1="865.2" x2="517.3" y2="884.8" stroke="#222" stroke-width="1.1"/><rect x="508.4" y="869.0" width="17.3" height="12" fill="#FF6208" stroke="#222" stroke-width="1"/><line x1="508.4" y1="875.0" x2="525.7" y2="875.0" stroke="#1a1a1a" stroke-width="1.8"/><text x="535.8" y="879.9" font-size="13.1" fill="#1a1a1a">P199L-ERG</text><text x="737.2" y="773.6" font-size="24" font-weight="bold">D</text><line x1="952.5" y1="776.9" x2="952.5" y2="995.5" stroke="#222" stroke-width="1"/><line x1="952" y1="995.5" x2="1395.4" y2="995.5" stroke="#222" stroke-width="1"/><line x1="972.9" y1="995" x2="972.9" y2="997.8" stroke="#333" stroke-width="0.9"/><text x="972.9" y="1005.4" font-size="9.4" text-anchor="middle" fill="#4D4D4D">0</text><line x1="1056.5" y1="995" x2="1056.5" y2="997.8" stroke="#333" stroke-width="0.9"/><text x="1056.5" y="1005.4" font-size="9.4" text-anchor="middle" fill="#4D4D4D">5</text><line x1="1140.1" y1="995" x2="1140.1" y2="997.8" stroke="#333" stroke-width="0.9"/><text x="1140.1" y="1005.4" font-size="9.4" text-anchor="middle" fill="#4D4D4D">10</text><line x1="1223.7" y1="995" x2="1223.7" y2="997.8" stroke="#333" stroke-width="0.9"/><text x="1223.7" y="1005.4" font-size="9.4" text-anchor="middle" fill="#4D4D4D">15</text><line x1="1307.3" y1="995" x2="1307.3" y2="997.8" stroke="#333" stroke-width="0.9"/><text x="1307.3" y="1005.4" font-size="9.4" text-anchor="middle" fill="#4D4D4D">20</text><line x1="1390.9" y1="995" x2="1390.9" y2="997.8" stroke="#333" stroke-width="0.9"/><text x="1390.9" y="1005.4" font-size="9.4" text-anchor="middle" fill="#4D4D4D">25</text><text x="1174" y="1022" font-size="11.1" text-anchor="middle">−log10(Padj)</text><text x="789.5" y="885.5" font-size="11.1" text-anchor="middle" transform="rotate(-90 789.5 885.5)">GO term</text><rect x="972.9" y="790.2" width="402.0" height="9.4" fill="#7F7F7F"/><line x1="950" y1="794.9" x2="952.8" y2="794.9" stroke="#333" stroke-width="0.9"/><text x="948.5" y="798.3" font-size="9.12" text-anchor="end" fill="#4D4D4D">Leukocyte activation</text><rect x="972.9" y="820.5" width="378.2" height="9.4" fill="#7F7F7F"/><line x1="950" y1="825.2" x2="952.8" y2="825.2" stroke="#333" stroke-width="0.9"/><text x="948.5" y="828.6" font-size="9.12" text-anchor="end" fill="#4D4D4D">Leukocyte degranulation</text><rect x="972.9" y="850.9" width="366.8" height="9.4" fill="#7F7F7F"/><line x1="950" y1="855.6" x2="952.8" y2="855.6" stroke="#333" stroke-width="0.9"/><text x="948.5" y="859" font-size="9.12" text-anchor="end" fill="#4D4D4D">Myeloid leukocyte mediated immunity</text><rect x="972.9" y="881.2" width="362.7" height="9.4" fill="#7F7F7F"/><line x1="950" y1="885.9" x2="952.8" y2="885.9" stroke="#333" stroke-width="0.9"/><text x="948.5" y="889.3" font-size="9.12" text-anchor="end" fill="#4D4D4D">Myeloid leukocyte activation</text><rect x="972.9" y="911.5" width="350.8" height="9.4" fill="#7F7F7F"/><line x1="950" y1="916.2" x2="952.8" y2="916.2" stroke="#333" stroke-width="0.9"/><text x="948.5" y="919.6" font-size="9.12" text-anchor="end" fill="#4D4D4D">Neutrophil mediated immunity</text><rect x="972.9" y="941.8" width="350.8" height="9.4" fill="#7F7F7F"/><line x1="950" y1="946.5" x2="952.8" y2="946.5" stroke="#333" stroke-width="0.9"/><text x="948.5" y="949.9" font-size="9.12" text-anchor="end" fill="#4D4D4D">Neutrophil activation</text><rect x="972.9" y="972.2" width="349.6" height="9.4" fill="#7F7F7F"/><line x1="950" y1="976.9" x2="952.8" y2="976.9" stroke="#333" stroke-width="0.9"/><text x="948.5" y="980.3" font-size="9.12" text-anchor="end" fill="#4D4D4D">Neutrophil degranulation</text><text x="46.8" y="1302.1" font-size="24" font-weight="bold">E</text><text x="217.8" y="1293.9" font-size="25.5" text-anchor="middle">H3K27ac</text><text x="125.6" y="1329" font-size="15.8" text-anchor="middle">BB</text><text x="217.7" y="1329" font-size="15.8" text-anchor="middle">P199L−ERG</text><text x="309.8" y="1329" font-size="15.8" text-anchor="middle">WT−ERG</text><rect x="82.2" y="1334.9" width="86.8" height="424.3" fill="#EFEEF7"/><g filter="url(#nze00)" shape-rendering="crispEdges"><rect x="82.2" y="1335" width="86.8" height="26" fill="url(#g52)"/><rect x="82.2" y="1361" width="86.8" height="27" fill="url(#g53)"/><rect x="82.2" y="1388" width="86.8" height="26" fill="url(#g54)"/><rect x="82.2" y="1414" width="86.8" height="27" fill="url(#g55)"/><rect x="82.2" y="1441" width="86.8" height="26" fill="url(#g56)"/><rect x="82.2" y="1467" width="86.8" height="27" fill="url(#g57)"/><rect x="82.2" y="1494" width="86.8" height="27" fill="url(#g58)"/><rect x="82.2" y="1521" width="86.8" height="26" fill="url(#g59)"/><rect x="82.2" y="1547" width="86.8" height="27" fill="url(#g60)"/><rect x="82.2" y="1574" width="86.8" height="26" fill="url(#g61)"/><rect x="82.2" y="1600" width="86.8" height="27" fill="url(#g62)"/><rect x="82.2" y="1627" width="86.8" height="26" fill="url(#g63)"/><rect x="82.2" y="1653" width="86.8" height="27" fill="url(#g64)"/><rect x="82.2" y="1680" width="86.8" height="26" fill="url(#g65)"/><rect x="82.2" y="1706" width="86.8" height="27" fill="url(#g66)"/><rect x="82.2" y="1733" width="86.8" height="26" fill="url(#g67)"/></g><rect x="82.2" y="1334.9" width="86.8" height="424.3" fill="none" stroke="#000" stroke-width="1.6"/><line x1="82.20" y1="1759.2" x2="82.20" y2="1769.2" stroke="#000" stroke-width="1.3"/><text x="84.70" y="1771.20" font-size="14" text-anchor="end" transform="rotate(-62 84.70 1771.20)">−500</text><line x1="103.90" y1="1759.2" x2="103.90" y2="1769.2" stroke="#000" stroke-width="1.3"/><text x="106.40" y="1771.20" font-size="14" text-anchor="end" transform="rotate(-62 106.40 1771.20)">−250</text><line x1="125.60" y1="1759.2" x2="125.60" y2="1769.2" stroke="#000" stroke-width="1.3"/><text x="128.10" y="1771.20" font-size="14" text-anchor="end" transform="rotate(-62 128.10 1771.20)">0</text><line x1="147.30" y1="1759.2" x2="147.30" y2="1769.2" stroke="#000" stroke-width="1.3"/><text x="149.80" y="1771.20" font-size="14" text-anchor="end" transform="rotate(-62 149.80 1771.20)">250</text><line x1="169.00" y1="1759.2" x2="169.00" y2="1769.2" stroke="#000" stroke-width="1.3"/><text x="171.50" y="1771.20" font-size="14" text-anchor="end" transform="rotate(-62 171.50 1771.20)">500</text><rect x="174" y="1334.9" width="87.3" height="424.3" fill="#EFEEF7"/><g filter="url(#nze01)" shape-rendering="crispEdges"><rect x="174" y="1335" width="87.3" height="26" fill="url(#g68)"/><rect x="174" y="1361" width="87.3" height="27" fill="url(#g69)"/><rect x="174" y="1388" width="87.3" height="26" fill="url(#g70)"/><rect x="174" y="1414" width="87.3" height="27" fill="url(#g71)"/><rect x="174" y="1441" width="87.3" height="26" fill="url(#g72)"/><rect x="174" y="1467" width="87.3" height="27" fill="url(#g73)"/><rect x="174" y="1494" width="87.3" height="27" fill="url(#g74)"/><rect x="174" y="1521" width="87.3" height="26" fill="url(#g75)"/><rect x="174" y="1547" width="87.3" height="27" fill="url(#g76)"/><rect x="174" y="1574" width="87.3" height="26" fill="url(#g77)"/><rect x="174" y="1600" width="87.3" height="27" fill="url(#g78)"/><rect x="174" y="1627" width="87.3" height="26" fill="url(#g79)"/><rect x="174" y="1653" width="87.3" height="27" fill="url(#g80)"/><rect x="174" y="1680" width="87.3" height="26" fill="url(#g81)"/><rect x="174" y="1706" width="87.3" height="27" fill="url(#g82)"/><rect x="174" y="1733" width="87.3" height="26" fill="url(#g83)"/></g><rect x="174" y="1334.9" width="87.3" height="424.3" fill="none" stroke="#000" stroke-width="1.6"/><line x1="174.00" y1="1759.2" x2="174.00" y2="1769.2" stroke="#000" stroke-width="1.3"/><text x="176.50" y="1771.20" font-size="14" text-anchor="end" transform="rotate(-62 176.50 1771.20)">−500</text><line x1="195.82" y1="1759.2" x2="195.82" y2="1769.2" stroke="#000" stroke-width="1.3"/><text x="198.32" y="1771.20" font-size="14" text-anchor="end" transform="rotate(-62 198.32 1771.20)">−250</text><line x1="217.65" y1="1759.2" x2="217.65" y2="1769.2" stroke="#000" stroke-width="1.3"/><text x="220.15" y="1771.20" font-size="14" text-anchor="end" transform="rotate(-62 220.15 1771.20)">0</text><line x1="239.48" y1="1759.2" x2="239.48" y2="1769.2" stroke="#000" stroke-width="1.3"/><text x="241.98" y="1771.20" font-size="14" text-anchor="end" transform="rotate(-62 241.98 1771.20)">250</text><line x1="261.30" y1="1759.2" x2="261.30" y2="1769.2" stroke="#000" stroke-width="1.3"/><text x="263.80" y="1771.20" font-size="14" text-anchor="end" transform="rotate(-62 263.80 1771.20)">500</text><rect x="266" y="1334.9" width="87.5" height="424.3" fill="#EFEEF7"/><g filter="url(#nze02)" shape-rendering="crispEdges"><rect x="266" y="1335" width="87.5" height="26" fill="url(#g84)"/><rect x="266" y="1361" width="87.5" height="27" fill="url(#g85)"/><rect x="266" y="1388" width="87.5" height="26" fill="url(#g86)"/><rect x="266" y="1414" width="87.5" height="27" fill="url(#g87)"/><rect x="266" y="1441" width="87.5" height="26" fill="url(#g88)"/><rect x="266" y="1467" width="87.5" height="27" fill="url(#g89)"/><rect x="266" y="1494" width="87.5" height="27" fill="url(#g90)"/><rect x="266" y="1521" width="87.5" height="26" fill="url(#g91)"/><rect x="266" y="1547" width="87.5" height="27" fill="url(#g92)"/><rect x="266" y="1574" width="87.5" height="26" fill="url(#g93)"/><rect x="266" y="1600" width="87.5" height="27" fill="url(#g94)"/><rect x="266" y="1627" width="87.5" height="26" fill="url(#g95)"/><rect x="266" y="1653" width="87.5" height="27" fill="url(#g96)"/><rect x="266" y="1680" width="87.5" height="26" fill="url(#g97)"/><rect x="266" y="1706" width="87.5" height="27" fill="url(#g98)"/><rect x="266" y="1733" width="87.5" height="26" fill="url(#g99)"/></g><rect x="266" y="1334.9" width="87.5" height="424.3" fill="none" stroke="#000" stroke-width="1.6"/><line x1="266.00" y1="1759.2" x2="266.00" y2="1769.2" stroke="#000" stroke-width="1.3"/><text x="268.50" y="1771.20" font-size="14" text-anchor="end" transform="rotate(-62 268.50 1771.20)">−500</text><line x1="287.88" y1="1759.2" x2="287.88" y2="1769.2" stroke="#000" stroke-width="1.3"/><text x="290.38" y="1771.20" font-size="14" text-anchor="end" transform="rotate(-62 290.38 1771.20)">−250</text><line x1="309.75" y1="1759.2" x2="309.75" y2="1769.2" stroke="#000" stroke-width="1.3"/><text x="312.25" y="1771.20" font-size="14" text-anchor="end" transform="rotate(-62 312.25 1771.20)">0</text><line x1="331.62" y1="1759.2" x2="331.62" y2="1769.2" stroke="#000" stroke-width="1.3"/><text x="334.12" y="1771.20" font-size="14" text-anchor="end" transform="rotate(-62 334.12 1771.20)">250</text><line x1="353.50" y1="1759.2" x2="353.50" y2="1769.2" stroke="#000" stroke-width="1.3"/><text x="356.00" y="1771.20" font-size="14" text-anchor="end" transform="rotate(-62 356.00 1771.20)">500</text><rect x="95.2" y="1842.6" width="61.2" height="14.9" fill="url(#cb100)" stroke="#000" stroke-width="1.5"/><line x1="95.20" y1="1857.5" x2="95.20" y2="1870.3" stroke="#000" stroke-width="1.3"/><line x1="103.94" y1="1857.5" x2="103.94" y2="1870.3" stroke="#000" stroke-width="1.3"/><line x1="112.69" y1="1857.5" x2="112.69" y2="1870.3" stroke="#000" stroke-width="1.3"/><line x1="121.43" y1="1857.5" x2="121.43" y2="1870.3" stroke="#000" stroke-width="1.3"/><line x1="130.17" y1="1857.5" x2="130.17" y2="1870.3" stroke="#000" stroke-width="1.3"/><line x1="138.91" y1="1857.5" x2="138.91" y2="1870.3" stroke="#000" stroke-width="1.3"/><line x1="147.66" y1="1857.5" x2="147.66" y2="1870.3" stroke="#000" stroke-width="1.3"/><line x1="156.40" y1="1857.5" x2="156.40" y2="1870.3" stroke="#000" stroke-width="1.3"/><text x="95.2" y="1886.8" font-size="20" text-anchor="middle">−0.4</text><text x="130.2" y="1886.8" font-size="20" text-anchor="middle">0.4</text><text x="156.4" y="1886.8" font-size="20" text-anchor="middle">1</text><rect x="187.1" y="1842.6" width="61.6" height="14.9" fill="url(#cb101)" stroke="#000" stroke-width="1.5"/><line x1="187.10" y1="1857.5" x2="187.10" y2="1870.3" stroke="#000" stroke-width="1.3"/><line x1="197.37" y1="1857.5" x2="197.37" y2="1870.3" stroke="#000" stroke-width="1.3"/><line x1="207.63" y1="1857.5" x2="207.63" y2="1870.3" stroke="#000" stroke-width="1.3"/><line x1="217.90" y1="1857.5" x2="217.90" y2="1870.3" stroke="#000" stroke-width="1.3"/><line x1="228.17" y1="1857.5" x2="228.17" y2="1870.3" stroke="#000" stroke-width="1.3"/><line x1="238.43" y1="1857.5" x2="238.43" y2="1870.3" stroke="#000" stroke-width="1.3"/><line x1="248.70" y1="1857.5" x2="248.70" y2="1870.3" stroke="#000" stroke-width="1.3"/><text x="187.1" y="1886.8" font-size="20" text-anchor="middle">−0.4</text><text x="228.2" y="1886.8" font-size="20" text-anchor="middle">0.4</text><rect x="278.8" y="1842.6" width="61.2" height="14.9" fill="url(#cb102)" stroke="#000" stroke-width="1.5"/><line x1="278.80" y1="1857.5" x2="278.80" y2="1870.3" stroke="#000" stroke-width="1.3"/><line x1="287.54" y1="1857.5" x2="287.54" y2="1870.3" stroke="#000" stroke-width="1.3"/><line x1="296.29" y1="1857.5" x2="296.29" y2="1870.3" stroke="#000" stroke-width="1.3"/><line x1="305.03" y1="1857.5" x2="305.03" y2="1870.3" stroke="#000" stroke-width="1.3"/><line x1="313.77" y1="1857.5" x2="313.77" y2="1870.3" stroke="#000" stroke-width="1.3"/><line x1="322.51" y1="1857.5" x2="322.51" y2="1870.3" stroke="#000" stroke-width="1.3"/><line x1="331.26" y1="1857.5" x2="331.26" y2="1870.3" stroke="#000" stroke-width="1.3"/><line x1="340.00" y1="1857.5" x2="340.00" y2="1870.3" stroke="#000" stroke-width="1.3"/><text x="278.8" y="1886.8" font-size="20" text-anchor="middle">−0.4</text><text x="313.8" y="1886.8" font-size="20" text-anchor="middle">0.4</text><text x="340" y="1886.8" font-size="20" text-anchor="middle">1</text><text x="617.1" y="1293.9" font-size="25.5" text-anchor="middle">H3K4me1</text><text x="515.5" y="1329" font-size="15.8" text-anchor="middle">BB</text><text x="617" y="1329" font-size="15.8" text-anchor="middle">P199L−ERG</text><text x="719" y="1329" font-size="15.8" text-anchor="middle">WT−ERG</text><rect x="467" y="1334.9" width="97" height="424.3" fill="#FDE3D6"/><g filter="url(#nze10)" shape-rendering="crispEdges"><rect x="467" y="1335" width="97" height="26" fill="url(#g103)"/><rect x="467" y="1361" width="97" height="27" fill="url(#g104)"/><rect x="467" y="1388" width="97" height="26" fill="url(#g105)"/><rect x="467" y="1414" width="97" height="27" fill="url(#g106)"/><rect x="467" y="1441" width="97" height="26" fill="url(#g107)"/><rect x="467" y="1467" width="97" height="27" fill="url(#g108)"/><rect x="467" y="1494" width="97" height="27" fill="url(#g109)"/><rect x="467" y="1521" width="97" height="26" fill="url(#g110)"/><rect x="467" y="1547" width="97" height="27" fill="url(#g111)"/><rect x="467" y="1574" width="97" height="26" fill="url(#g112)"/><rect x="467" y="1600" width="97" height="27" fill="url(#g113)"/><rect x="467" y="1627" width="97" height="26" fill="url(#g114)"/><rect x="467" y="1653" width="97" height="27" fill="url(#g115)"/><rect x="467" y="1680" width="97" height="26" fill="url(#g116)"/><rect x="467" y="1706" width="97" height="27" fill="url(#g117)"/><rect x="467" y="1733" width="97" height="26" fill="url(#g118)"/></g><rect x="467" y="1334.9" width="97" height="424.3" fill="none" stroke="#000" stroke-width="1.6"/><line x1="467.00" y1="1759.2" x2="467.00" y2="1769.2" stroke="#000" stroke-width="1.3"/><text x="469.50" y="1771.20" font-size="14" text-anchor="end" transform="rotate(-62 469.50 1771.20)">−500</text><line x1="491.25" y1="1759.2" x2="491.25" y2="1769.2" stroke="#000" stroke-width="1.3"/><text x="493.75" y="1771.20" font-size="14" text-anchor="end" transform="rotate(-62 493.75 1771.20)">−250</text><line x1="515.50" y1="1759.2" x2="515.50" y2="1769.2" stroke="#000" stroke-width="1.3"/><text x="518.00" y="1771.20" font-size="14" text-anchor="end" transform="rotate(-62 518.00 1771.20)">0</text><line x1="539.75" y1="1759.2" x2="539.75" y2="1769.2" stroke="#000" stroke-width="1.3"/><text x="542.25" y="1771.20" font-size="14" text-anchor="end" transform="rotate(-62 542.25 1771.20)">250</text><line x1="564.00" y1="1759.2" x2="564.00" y2="1769.2" stroke="#000" stroke-width="1.3"/><text x="566.50" y="1771.20" font-size="14" text-anchor="end" transform="rotate(-62 566.50 1771.20)">500</text><rect x="568.6" y="1334.9" width="96.9" height="424.3" fill="#FDE3D6"/><g filter="url(#nze11)" shape-rendering="crispEdges"><rect x="568.6" y="1335" width="96.9" height="26" fill="url(#g119)"/><rect x="568.6" y="1361" width="96.9" height="27" fill="url(#g120)"/><rect x="568.6" y="1388" width="96.9" height="26" fill="url(#g121)"/><rect x="568.6" y="1414" width="96.9" height="27" fill="url(#g122)"/><rect x="568.6" y="1441" width="96.9" height="26" fill="url(#g123)"/><rect x="568.6" y="1467" width="96.9" height="27" fill="url(#g124)"/><rect x="568.6" y="1494" width="96.9" height="27" fill="url(#g125)"/><rect x="568.6" y="1521" width="96.9" height="26" fill="url(#g126)"/><rect x="568.6" y="1547" width="96.9" height="27" fill="url(#g127)"/><rect x="568.6" y="1574" width="96.9" height="26" fill="url(#g128)"/><rect x="568.6" y="1600" width="96.9" height="27" fill="url(#g129)"/><rect x="568.6" y="1627" width="96.9" height="26" fill="url(#g130)"/><rect x="568.6" y="1653" width="96.9" height="27" fill="url(#g131)"/><rect x="568.6" y="1680" width="96.9" height="26" fill="url(#g132)"/><rect x="568.6" y="1706" width="96.9" height="27" fill="url(#g133)"/><rect x="568.6" y="1733" width="96.9" height="26" fill="url(#g134)"/></g><rect x="568.6" y="1334.9" width="96.9" height="424.3" fill="none" stroke="#000" stroke-width="1.6"/><line x1="568.60" y1="1759.2" x2="568.60" y2="1769.2" stroke="#000" stroke-width="1.3"/><text x="571.10" y="1771.20" font-size="14" text-anchor="end" transform="rotate(-62 571.10 1771.20)">−500</text><line x1="592.83" y1="1759.2" x2="592.83" y2="1769.2" stroke="#000" stroke-width="1.3"/><text x="595.33" y="1771.20" font-size="14" text-anchor="end" transform="rotate(-62 595.33 1771.20)">−250</text><line x1="617.05" y1="1759.2" x2="617.05" y2="1769.2" stroke="#000" stroke-width="1.3"/><text x="619.55" y="1771.20" font-size="14" text-anchor="end" transform="rotate(-62 619.55 1771.20)">0</text><line x1="641.27" y1="1759.2" x2="641.27" y2="1769.2" stroke="#000" stroke-width="1.3"/><text x="643.77" y="1771.20" font-size="14" text-anchor="end" transform="rotate(-62 643.77 1771.20)">250</text><line x1="665.50" y1="1759.2" x2="665.50" y2="1769.2" stroke="#000" stroke-width="1.3"/><text x="668.00" y="1771.20" font-size="14" text-anchor="end" transform="rotate(-62 668.00 1771.20)">500</text><rect x="670.8" y="1334.9" width="96.4" height="424.3" fill="#FDE3D6"/><g filter="url(#nze12)" shape-rendering="crispEdges"><rect x="670.8" y="1335" width="96.4" height="26" fill="url(#g135)"/><rect x="670.8" y="1361" width="96.4" height="27" fill="url(#g136)"/><rect x="670.8" y="1388" width="96.4" height="26" fill="url(#g137)"/><rect x="670.8" y="1414" width="96.4" height="27" fill="url(#g138)"/><rect x="670.8" y="1441" width="96.4" height="26" fill="url(#g139)"/><rect x="670.8" y="1467" width="96.4" height="27" fill="url(#g140)"/><rect x="670.8" y="1494" width="96.4" height="27" fill="url(#g141)"/><rect x="670.8" y="1521" width="96.4" height="26" fill="url(#g142)"/><rect x="670.8" y="1547" width="96.4" height="27" fill="url(#g143)"/><rect x="670.8" y="1574" width="96.4" height="26" fill="url(#g144)"/><rect x="670.8" y="1600" width="96.4" height="27" fill="url(#g145)"/><rect x="670.8" y="1627" width="96.4" height="26" fill="url(#g146)"/><rect x="670.8" y="1653" width="96.4" height="27" fill="url(#g147)"/><rect x="670.8" y="1680" width="96.4" height="26" fill="url(#g148)"/><rect x="670.8" y="1706" width="96.4" height="27" fill="url(#g149)"/><rect x="670.8" y="1733" width="96.4" height="26" fill="url(#g150)"/></g><rect x="670.8" y="1334.9" width="96.4" height="424.3" fill="none" stroke="#000" stroke-width="1.6"/><line x1="670.80" y1="1759.2" x2="670.80" y2="1769.2" stroke="#000" stroke-width="1.3"/><text x="673.30" y="1771.20" font-size="14" text-anchor="end" transform="rotate(-62 673.30 1771.20)">−500</text><line x1="694.90" y1="1759.2" x2="694.90" y2="1769.2" stroke="#000" stroke-width="1.3"/><text x="697.40" y="1771.20" font-size="14" text-anchor="end" transform="rotate(-62 697.40 1771.20)">−250</text><line x1="719.00" y1="1759.2" x2="719.00" y2="1769.2" stroke="#000" stroke-width="1.3"/><text x="721.50" y="1771.20" font-size="14" text-anchor="end" transform="rotate(-62 721.50 1771.20)">0</text><line x1="743.10" y1="1759.2" x2="743.10" y2="1769.2" stroke="#000" stroke-width="1.3"/><text x="745.60" y="1771.20" font-size="14" text-anchor="end" transform="rotate(-62 745.60 1771.20)">250</text><line x1="767.20" y1="1759.2" x2="767.20" y2="1769.2" stroke="#000" stroke-width="1.3"/><text x="769.70" y="1771.20" font-size="14" text-anchor="end" transform="rotate(-62 769.70 1771.20)">500</text><rect x="481.5" y="1842.6" width="68.1" height="14.9" fill="url(#cb151)" stroke="#000" stroke-width="1.5"/><line x1="481.50" y1="1857.5" x2="481.50" y2="1870.3" stroke="#000" stroke-width="1.3"/><line x1="492.85" y1="1857.5" x2="492.85" y2="1870.3" stroke="#000" stroke-width="1.3"/><line x1="504.20" y1="1857.5" x2="504.20" y2="1870.3" stroke="#000" stroke-width="1.3"/><line x1="515.55" y1="1857.5" x2="515.55" y2="1870.3" stroke="#000" stroke-width="1.3"/><line x1="526.90" y1="1857.5" x2="526.90" y2="1870.3" stroke="#000" stroke-width="1.3"/><line x1="538.25" y1="1857.5" x2="538.25" y2="1870.3" stroke="#000" stroke-width="1.3"/><line x1="549.60" y1="1857.5" x2="549.60" y2="1870.3" stroke="#000" stroke-width="1.3"/><text x="481.5" y="1886.8" font-size="20" text-anchor="middle">−0.4</text><text x="526.9" y="1886.8" font-size="20" text-anchor="middle">0.4</text><rect x="583.3" y="1842.6" width="67.5" height="14.9" fill="url(#cb152)" stroke="#000" stroke-width="1.5"/><line x1="583.30" y1="1857.5" x2="583.30" y2="1870.3" stroke="#000" stroke-width="1.3"/><line x1="592.94" y1="1857.5" x2="592.94" y2="1870.3" stroke="#000" stroke-width="1.3"/><line x1="602.59" y1="1857.5" x2="602.59" y2="1870.3" stroke="#000" stroke-width="1.3"/><line x1="612.23" y1="1857.5" x2="612.23" y2="1870.3" stroke="#000" stroke-width="1.3"/><line x1="621.87" y1="1857.5" x2="621.87" y2="1870.3" stroke="#000" stroke-width="1.3"/><line x1="631.51" y1="1857.5" x2="631.51" y2="1870.3" stroke="#000" stroke-width="1.3"/><line x1="641.16" y1="1857.5" x2="641.16" y2="1870.3" stroke="#000" stroke-width="1.3"/><line x1="650.80" y1="1857.5" x2="650.80" y2="1870.3" stroke="#000" stroke-width="1.3"/><text x="583.3" y="1886.8" font-size="20" text-anchor="middle">−0.6</text><text x="612.2" y="1886.8" font-size="20" text-anchor="middle">0</text><text x="641.2" y="1886.8" font-size="20" text-anchor="middle">0.6</text><rect x="685.2" y="1842.6" width="67.4" height="14.9" fill="url(#cb153)" stroke="#000" stroke-width="1.5"/><line x1="685.20" y1="1857.5" x2="685.20" y2="1870.3" stroke="#000" stroke-width="1.3"/><line x1="696.43" y1="1857.5" x2="696.43" y2="1870.3" stroke="#000" stroke-width="1.3"/><line x1="707.67" y1="1857.5" x2="707.67" y2="1870.3" stroke="#000" stroke-width="1.3"/><line x1="718.90" y1="1857.5" x2="718.90" y2="1870.3" stroke="#000" stroke-width="1.3"/><line x1="730.13" y1="1857.5" x2="730.13" y2="1870.3" stroke="#000" stroke-width="1.3"/><line x1="741.37" y1="1857.5" x2="741.37" y2="1870.3" stroke="#000" stroke-width="1.3"/><line x1="752.60" y1="1857.5" x2="752.60" y2="1870.3" stroke="#000" stroke-width="1.3"/><text x="685.2" y="1886.8" font-size="20" text-anchor="middle">−0.4</text><text x="730.1" y="1886.8" font-size="20" text-anchor="middle">0.4</text><text x="1019.8" y="1293.9" font-size="25.5" text-anchor="middle">H3K4me3</text><text x="911.2" y="1329" font-size="15.8" text-anchor="middle">BB</text><text x="1013" y="1329" font-size="15.8" text-anchor="middle">P199L−ERG</text><text x="1114.5" y="1329" font-size="15.8" text-anchor="middle">WT−ERG</text><rect x="862.5" y="1334.9" width="97.5" height="424.3" fill="#DCDCDC"/><g filter="url(#nze20)" shape-rendering="crispEdges"><rect x="862.5" y="1335" width="97.5" height="26" fill="url(#g154)"/><rect x="862.5" y="1361" width="97.5" height="27" fill="url(#g155)"/><rect x="862.5" y="1388" width="97.5" height="26" fill="url(#g156)"/><rect x="862.5" y="1414" width="97.5" height="27" fill="url(#g157)"/><rect x="862.5" y="1441" width="97.5" height="26" fill="url(#g158)"/><rect x="862.5" y="1467" width="97.5" height="27" fill="url(#g159)"/><rect x="862.5" y="1494" width="97.5" height="27" fill="url(#g160)"/><rect x="862.5" y="1521" width="97.5" height="26" fill="url(#g161)"/><rect x="862.5" y="1547" width="97.5" height="27" fill="url(#g162)"/><rect x="862.5" y="1574" width="97.5" height="26" fill="url(#g163)"/><rect x="862.5" y="1600" width="97.5" height="27" fill="url(#g164)"/><rect x="862.5" y="1627" width="97.5" height="26" fill="url(#g165)"/><rect x="862.5" y="1653" width="97.5" height="27" fill="url(#g166)"/><rect x="862.5" y="1680" width="97.5" height="26" fill="url(#g167)"/><rect x="862.5" y="1706" width="97.5" height="27" fill="url(#g168)"/><rect x="862.5" y="1733" width="97.5" height="26" fill="url(#g169)"/></g><rect x="862.5" y="1334.9" width="97.5" height="424.3" fill="none" stroke="#000" stroke-width="1.6"/><line x1="862.50" y1="1759.2" x2="862.50" y2="1769.2" stroke="#000" stroke-width="1.3"/><text x="865.00" y="1771.20" font-size="14" text-anchor="end" transform="rotate(-62 865.00 1771.20)">−500</text><line x1="886.88" y1="1759.2" x2="886.88" y2="1769.2" stroke="#000" stroke-width="1.3"/><text x="889.38" y="1771.20" font-size="14" text-anchor="end" transform="rotate(-62 889.38 1771.20)">−250</text><line x1="911.25" y1="1759.2" x2="911.25" y2="1769.2" stroke="#000" stroke-width="1.3"/><text x="913.75" y="1771.20" font-size="14" text-anchor="end" transform="rotate(-62 913.75 1771.20)">0</text><line x1="935.62" y1="1759.2" x2="935.62" y2="1769.2" stroke="#000" stroke-width="1.3"/><text x="938.12" y="1771.20" font-size="14" text-anchor="end" transform="rotate(-62 938.12 1771.20)">250</text><line x1="960.00" y1="1759.2" x2="960.00" y2="1769.2" stroke="#000" stroke-width="1.3"/><text x="962.50" y="1771.20" font-size="14" text-anchor="end" transform="rotate(-62 962.50 1771.20)">500</text><rect x="964.3" y="1334.9" width="97.5" height="424.3" fill="#DCDCDC"/><g filter="url(#nze21)" shape-rendering="crispEdges"><rect x="964.3" y="1335" width="97.5" height="26" fill="url(#g170)"/><rect x="964.3" y="1361" width="97.5" height="27" fill="url(#g171)"/><rect x="964.3" y="1388" width="97.5" height="26" fill="url(#g172)"/><rect x="964.3" y="1414" width="97.5" height="27" fill="url(#g173)"/><rect x="964.3" y="1441" width="97.5" height="26" fill="url(#g174)"/><rect x="964.3" y="1467" width="97.5" height="27" fill="url(#g175)"/><rect x="964.3" y="1494" width="97.5" height="27" fill="url(#g176)"/><rect x="964.3" y="1521" width="97.5" height="26" fill="url(#g177)"/><rect x="964.3" y="1547" width="97.5" height="27" fill="url(#g178)"/><rect x="964.3" y="1574" width="97.5" height="26" fill="url(#g179)"/><rect x="964.3" y="1600" width="97.5" height="27" fill="url(#g180)"/><rect x="964.3" y="1627" width="97.5" height="26" fill="url(#g181)"/><rect x="964.3" y="1653" width="97.5" height="27" fill="url(#g182)"/><rect x="964.3" y="1680" width="97.5" height="26" fill="url(#g183)"/><rect x="964.3" y="1706" width="97.5" height="27" fill="url(#g184)"/><rect x="964.3" y="1733" width="97.5" height="26" fill="url(#g185)"/></g><rect x="964.3" y="1334.9" width="97.5" height="424.3" fill="none" stroke="#000" stroke-width="1.6"/><line x1="964.30" y1="1759.2" x2="964.30" y2="1769.2" stroke="#000" stroke-width="1.3"/><text x="966.80" y="1771.20" font-size="14" text-anchor="end" transform="rotate(-62 966.80 1771.20)">−500</text><line x1="988.67" y1="1759.2" x2="988.67" y2="1769.2" stroke="#000" stroke-width="1.3"/><text x="991.17" y="1771.20" font-size="14" text-anchor="end" transform="rotate(-62 991.17 1771.20)">−250</text><line x1="1013.05" y1="1759.2" x2="1013.05" y2="1769.2" stroke="#000" stroke-width="1.3"/><text x="1015.55" y="1771.20" font-size="14" text-anchor="end" transform="rotate(-62 1015.55 1771.20)">0</text><line x1="1037.42" y1="1759.2" x2="1037.42" y2="1769.2" stroke="#000" stroke-width="1.3"/><text x="1039.92" y="1771.20" font-size="14" text-anchor="end" transform="rotate(-62 1039.92 1771.20)">250</text><line x1="1061.80" y1="1759.2" x2="1061.80" y2="1769.2" stroke="#000" stroke-width="1.3"/><text x="1064.30" y="1771.20" font-size="14" text-anchor="end" transform="rotate(-62 1064.30 1771.20)">500</text><rect x="1065.7" y="1334.9" width="97.5" height="424.3" fill="#DCDCDC"/><g filter="url(#nze22)" shape-rendering="crispEdges"><rect x="1065.7" y="1335" width="97.5" height="26" fill="url(#g186)"/><rect x="1065.7" y="1361" width="97.5" height="27" fill="url(#g187)"/><rect x="1065.7" y="1388" width="97.5" height="26" fill="url(#g188)"/><rect x="1065.7" y="1414" width="97.5" height="27" fill="url(#g189)"/><rect x="1065.7" y="1441" width="97.5" height="26" fill="url(#g190)"/><rect x="1065.7" y="1467" width="97.5" height="27" fill="url(#g191)"/><rect x="1065.7" y="1494" width="97.5" height="27" fill="url(#g192)"/><rect x="1065.7" y="1521" width="97.5" height="26" fill="url(#g193)"/><rect x="1065.7" y="1547" width="97.5" height="27" fill="url(#g194)"/><rect x="1065.7" y="1574" width="97.5" height="26" fill="url(#g195)"/><rect x="1065.7" y="1600" width="97.5" height="27" fill="url(#g196)"/><rect x="1065.7" y="1627" width="97.5" height="26" fill="url(#g197)"/><rect x="1065.7" y="1653" width="97.5" height="27" fill="url(#g198)"/><rect x="1065.7" y="1680" width="97.5" height="26" fill="url(#g199)"/><rect x="1065.7" y="1706" width="97.5" height="27" fill="url(#g200)"/><rect x="1065.7" y="1733" width="97.5" height="26" fill="url(#g201)"/></g><rect x="1065.7" y="1334.9" width="97.5" height="424.3" fill="none" stroke="#000" stroke-width="1.6"/><line x1="1065.70" y1="1759.2" x2="1065.70" y2="1769.2" stroke="#000" stroke-width="1.3"/><text x="1068.20" y="1771.20" font-size="14" text-anchor="end" transform="rotate(-62 1068.20 1771.20)">−500</text><line x1="1090.08" y1="1759.2" x2="1090.08" y2="1769.2" stroke="#000" stroke-width="1.3"/><text x="1092.58" y="1771.20" font-size="14" text-anchor="end" transform="rotate(-62 1092.58 1771.20)">−250</text><line x1="1114.45" y1="1759.2" x2="1114.45" y2="1769.2" stroke="#000" stroke-width="1.3"/><text x="1116.95" y="1771.20" font-size="14" text-anchor="end" transform="rotate(-62 1116.95 1771.20)">0</text><line x1="1138.83" y1="1759.2" x2="1138.83" y2="1769.2" stroke="#000" stroke-width="1.3"/><text x="1141.33" y="1771.20" font-size="14" text-anchor="end" transform="rotate(-62 1141.33 1771.20)">250</text><line x1="1163.20" y1="1759.2" x2="1163.20" y2="1769.2" stroke="#000" stroke-width="1.3"/><text x="1165.70" y="1771.20" font-size="14" text-anchor="end" transform="rotate(-62 1165.70 1771.20)">500</text><rect x="877.3" y="1842.6" width="68.1" height="14.9" fill="url(#cb202)" stroke="#000" stroke-width="1.5"/><line x1="877.30" y1="1857.5" x2="877.30" y2="1870.3" stroke="#000" stroke-width="1.3"/><line x1="885.81" y1="1857.5" x2="885.81" y2="1870.3" stroke="#000" stroke-width="1.3"/><line x1="894.32" y1="1857.5" x2="894.32" y2="1870.3" stroke="#000" stroke-width="1.3"/><line x1="902.84" y1="1857.5" x2="902.84" y2="1870.3" stroke="#000" stroke-width="1.3"/><line x1="911.35" y1="1857.5" x2="911.35" y2="1870.3" stroke="#000" stroke-width="1.3"/><line x1="919.86" y1="1857.5" x2="919.86" y2="1870.3" stroke="#000" stroke-width="1.3"/><line x1="928.38" y1="1857.5" x2="928.38" y2="1870.3" stroke="#000" stroke-width="1.3"/><line x1="936.89" y1="1857.5" x2="936.89" y2="1870.3" stroke="#000" stroke-width="1.3"/><line x1="945.40" y1="1857.5" x2="945.40" y2="1870.3" stroke="#000" stroke-width="1.3"/><text x="877.3" y="1886.8" font-size="20" text-anchor="middle">−0.6</text><text x="919.9" y="1886.8" font-size="20" text-anchor="middle">0.4</text><text x="945.4" y="1886.8" font-size="20" text-anchor="middle">1</text><rect x="979.1" y="1842.6" width="67.9" height="14.9" fill="url(#cb203)" stroke="#000" stroke-width="1.5"/><line x1="979.10" y1="1857.5" x2="979.10" y2="1870.3" stroke="#000" stroke-width="1.3"/><line x1="988.80" y1="1857.5" x2="988.80" y2="1870.3" stroke="#000" stroke-width="1.3"/><line x1="998.50" y1="1857.5" x2="998.50" y2="1870.3" stroke="#000" stroke-width="1.3"/><line x1="1008.20" y1="1857.5" x2="1008.20" y2="1870.3" stroke="#000" stroke-width="1.3"/><line x1="1017.90" y1="1857.5" x2="1017.90" y2="1870.3" stroke="#000" stroke-width="1.3"/><line x1="1027.60" y1="1857.5" x2="1027.60" y2="1870.3" stroke="#000" stroke-width="1.3"/><line x1="1037.30" y1="1857.5" x2="1037.30" y2="1870.3" stroke="#000" stroke-width="1.3"/><line x1="1047.00" y1="1857.5" x2="1047.00" y2="1870.3" stroke="#000" stroke-width="1.3"/><text x="979.1" y="1886.8" font-size="20" text-anchor="middle">−0.6</text><text x="1008.2" y="1886.8" font-size="20" text-anchor="middle">0</text><text x="1037.3" y="1886.8" font-size="20" text-anchor="middle">0.6</text><rect x="1080.7" y="1842.6" width="68.1" height="14.9" fill="url(#cb204)" stroke="#000" stroke-width="1.5"/><line x1="1080.70" y1="1857.5" x2="1080.70" y2="1870.3" stroke="#000" stroke-width="1.3"/><line x1="1090.43" y1="1857.5" x2="1090.43" y2="1870.3" stroke="#000" stroke-width="1.3"/><line x1="1100.16" y1="1857.5" x2="1100.16" y2="1870.3" stroke="#000" stroke-width="1.3"/><line x1="1109.89" y1="1857.5" x2="1109.89" y2="1870.3" stroke="#000" stroke-width="1.3"/><line x1="1119.61" y1="1857.5" x2="1119.61" y2="1870.3" stroke="#000" stroke-width="1.3"/><line x1="1129.34" y1="1857.5" x2="1129.34" y2="1870.3" stroke="#000" stroke-width="1.3"/><line x1="1139.07" y1="1857.5" x2="1139.07" y2="1870.3" stroke="#000" stroke-width="1.3"/><line x1="1148.80" y1="1857.5" x2="1148.80" y2="1870.3" stroke="#000" stroke-width="1.3"/><text x="1080.7" y="1886.8" font-size="20" text-anchor="middle">−0.4</text><text x="1119.6" y="1886.8" font-size="20" text-anchor="middle">0.4</text><text x="1148.8" y="1886.8" font-size="20" text-anchor="middle">1</text><text x="1399.5" y="1293.9" font-size="25.5" text-anchor="middle">H3K9ac</text><text x="1304.3" y="1329" font-size="15.8" text-anchor="middle">BB</text><text x="1405" y="1329" font-size="15.8" text-anchor="middle">P199L−ERG</text><text x="1505.7" y="1329" font-size="15.8" text-anchor="middle">WT−ERG</text><rect x="1256" y="1334.9" width="96.6" height="424.3" fill="#DCDCDC"/><g filter="url(#nze30)" shape-rendering="crispEdges"><rect x="1256" y="1335" width="96.6" height="26" fill="url(#g205)"/><rect x="1256" y="1361" width="96.6" height="27" fill="url(#g206)"/><rect x="1256" y="1388" width="96.6" height="26" fill="url(#g207)"/><rect x="1256" y="1414" width="96.6" height="27" fill="url(#g208)"/><rect x="1256" y="1441" width="96.6" height="26" fill="url(#g209)"/><rect x="1256" y="1467" width="96.6" height="27" fill="url(#g210)"/><rect x="1256" y="1494" width="96.6" height="27" fill="url(#g211)"/><rect x="1256" y="1521" width="96.6" height="26" fill="url(#g212)"/><rect x="1256" y="1547" width="96.6" height="27" fill="url(#g213)"/><rect x="1256" y="1574" width="96.6" height="26" fill="url(#g214)"/><rect x="1256" y="1600" width="96.6" height="27" fill="url(#g215)"/><rect x="1256" y="1627" width="96.6" height="26" fill="url(#g216)"/><rect x="1256" y="1653" width="96.6" height="27" fill="url(#g217)"/><rect x="1256" y="1680" width="96.6" height="26" fill="url(#g218)"/><rect x="1256" y="1706" width="96.6" height="27" fill="url(#g219)"/><rect x="1256" y="1733" width="96.6" height="26" fill="url(#g220)"/></g><rect x="1256" y="1334.9" width="96.6" height="424.3" fill="none" stroke="#000" stroke-width="1.6"/><line x1="1256.00" y1="1759.2" x2="1256.00" y2="1769.2" stroke="#000" stroke-width="1.3"/><text x="1258.50" y="1771.20" font-size="14" text-anchor="end" transform="rotate(-62 1258.50 1771.20)">−500</text><line x1="1280.15" y1="1759.2" x2="1280.15" y2="1769.2" stroke="#000" stroke-width="1.3"/><text x="1282.65" y="1771.20" font-size="14" text-anchor="end" transform="rotate(-62 1282.65 1771.20)">−250</text><line x1="1304.30" y1="1759.2" x2="1304.30" y2="1769.2" stroke="#000" stroke-width="1.3"/><text x="1306.80" y="1771.20" font-size="14" text-anchor="end" transform="rotate(-62 1306.80 1771.20)">0</text><line x1="1328.45" y1="1759.2" x2="1328.45" y2="1769.2" stroke="#000" stroke-width="1.3"/><text x="1330.95" y="1771.20" font-size="14" text-anchor="end" transform="rotate(-62 1330.95 1771.20)">250</text><line x1="1352.60" y1="1759.2" x2="1352.60" y2="1769.2" stroke="#000" stroke-width="1.3"/><text x="1355.10" y="1771.20" font-size="14" text-anchor="end" transform="rotate(-62 1355.10 1771.20)">500</text><rect x="1356.9" y="1334.9" width="96.1" height="424.3" fill="#DCDCDC"/><g filter="url(#nze31)" shape-rendering="crispEdges"><rect x="1356.9" y="1335" width="96.1" height="26" fill="url(#g221)"/><rect x="1356.9" y="1361" width="96.1" height="27" fill="url(#g222)"/><rect x="1356.9" y="1388" width="96.1" height="26" fill="url(#g223)"/><rect x="1356.9" y="1414" width="96.1" height="27" fill="url(#g224)"/><rect x="1356.9" y="1441" width="96.1" height="26" fill="url(#g225)"/><rect x="1356.9" y="1467" width="96.1" height="27" fill="url(#g226)"/><rect x="1356.9" y="1494" width="96.1" height="27" fill="url(#g227)"/><rect x="1356.9" y="1521" width="96.1" height="26" fill="url(#g228)"/><rect x="1356.9" y="1547" width="96.1" height="27" fill="url(#g229)"/><rect x="1356.9" y="1574" width="96.1" height="26" fill="url(#g230)"/><rect x="1356.9" y="1600" width="96.1" height="27" fill="url(#g231)"/><rect x="1356.9" y="1627" width="96.1" height="26" fill="url(#g232)"/><rect x="1356.9" y="1653" width="96.1" height="27" fill="url(#g233)"/><rect x="1356.9" y="1680" width="96.1" height="26" fill="url(#g234)"/><rect x="1356.9" y="1706" width="96.1" height="27" fill="url(#g235)"/><rect x="1356.9" y="1733" width="96.1" height="26" fill="url(#g236)"/></g><rect x="1356.9" y="1334.9" width="96.1" height="424.3" fill="none" stroke="#000" stroke-width="1.6"/><line x1="1356.90" y1="1759.2" x2="1356.90" y2="1769.2" stroke="#000" stroke-width="1.3"/><text x="1359.40" y="1771.20" font-size="14" text-anchor="end" transform="rotate(-62 1359.40 1771.20)">−500</text><line x1="1380.93" y1="1759.2" x2="1380.93" y2="1769.2" stroke="#000" stroke-width="1.3"/><text x="1383.43" y="1771.20" font-size="14" text-anchor="end" transform="rotate(-62 1383.43 1771.20)">−250</text><line x1="1404.95" y1="1759.2" x2="1404.95" y2="1769.2" stroke="#000" stroke-width="1.3"/><text x="1407.45" y="1771.20" font-size="14" text-anchor="end" transform="rotate(-62 1407.45 1771.20)">0</text><line x1="1428.97" y1="1759.2" x2="1428.97" y2="1769.2" stroke="#000" stroke-width="1.3"/><text x="1431.47" y="1771.20" font-size="14" text-anchor="end" transform="rotate(-62 1431.47 1771.20)">250</text><line x1="1453.00" y1="1759.2" x2="1453.00" y2="1769.2" stroke="#000" stroke-width="1.3"/><text x="1455.50" y="1771.20" font-size="14" text-anchor="end" transform="rotate(-62 1455.50 1771.20)">500</text><rect x="1457.4" y="1334.9" width="96.6" height="424.3" fill="#DCDCDC"/><g filter="url(#nze32)" shape-rendering="crispEdges"><rect x="1457.4" y="1335" width="96.6" height="26" fill="url(#g237)"/><rect x="1457.4" y="1361" width="96.6" height="27" fill="url(#g238)"/><rect x="1457.4" y="1388" width="96.6" height="26" fill="url(#g239)"/><rect x="1457.4" y="1414" width="96.6" height="27" fill="url(#g240)"/><rect x="1457.4" y="1441" width="96.6" height="26" fill="url(#g241)"/><rect x="1457.4" y="1467" width="96.6" height="27" fill="url(#g242)"/><rect x="1457.4" y="1494" width="96.6" height="27" fill="url(#g243)"/><rect x="1457.4" y="1521" width="96.6" height="26" fill="url(#g244)"/><rect x="1457.4" y="1547" width="96.6" height="27" fill="url(#g245)"/><rect x="1457.4" y="1574" width="96.6" height="26" fill="url(#g246)"/><rect x="1457.4" y="1600" width="96.6" height="27" fill="url(#g247)"/><rect x="1457.4" y="1627" width="96.6" height="26" fill="url(#g248)"/><rect x="1457.4" y="1653" width="96.6" height="27" fill="url(#g249)"/><rect x="1457.4" y="1680" width="96.6" height="26" fill="url(#g250)"/><rect x="1457.4" y="1706" width="96.6" height="27" fill="url(#g251)"/><rect x="1457.4" y="1733" width="96.6" height="26" fill="url(#g252)"/></g><rect x="1457.4" y="1334.9" width="96.6" height="424.3" fill="none" stroke="#000" stroke-width="1.6"/><line x1="1457.40" y1="1759.2" x2="1457.40" y2="1769.2" stroke="#000" stroke-width="1.3"/><text x="1459.90" y="1771.20" font-size="14" text-anchor="end" transform="rotate(-62 1459.90 1771.20)">−500</text><line x1="1481.55" y1="1759.2" x2="1481.55" y2="1769.2" stroke="#000" stroke-width="1.3"/><text x="1484.05" y="1771.20" font-size="14" text-anchor="end" transform="rotate(-62 1484.05 1771.20)">−250</text><line x1="1505.70" y1="1759.2" x2="1505.70" y2="1769.2" stroke="#000" stroke-width="1.3"/><text x="1508.20" y="1771.20" font-size="14" text-anchor="end" transform="rotate(-62 1508.20 1771.20)">0</text><line x1="1529.85" y1="1759.2" x2="1529.85" y2="1769.2" stroke="#000" stroke-width="1.3"/><text x="1532.35" y="1771.20" font-size="14" text-anchor="end" transform="rotate(-62 1532.35 1771.20)">250</text><line x1="1554.00" y1="1759.2" x2="1554.00" y2="1769.2" stroke="#000" stroke-width="1.3"/><text x="1556.50" y="1771.20" font-size="14" text-anchor="end" transform="rotate(-62 1556.50 1771.20)">500</text><rect x="1270.5" y="1842.6" width="67.6" height="14.9" fill="url(#cb253)" stroke="#000" stroke-width="1.5"/><line x1="1270.50" y1="1857.5" x2="1270.50" y2="1870.3" stroke="#000" stroke-width="1.3"/><line x1="1280.16" y1="1857.5" x2="1280.16" y2="1870.3" stroke="#000" stroke-width="1.3"/><line x1="1289.81" y1="1857.5" x2="1289.81" y2="1870.3" stroke="#000" stroke-width="1.3"/><line x1="1299.47" y1="1857.5" x2="1299.47" y2="1870.3" stroke="#000" stroke-width="1.3"/><line x1="1309.13" y1="1857.5" x2="1309.13" y2="1870.3" stroke="#000" stroke-width="1.3"/><line x1="1318.79" y1="1857.5" x2="1318.79" y2="1870.3" stroke="#000" stroke-width="1.3"/><line x1="1328.44" y1="1857.5" x2="1328.44" y2="1870.3" stroke="#000" stroke-width="1.3"/><line x1="1338.10" y1="1857.5" x2="1338.10" y2="1870.3" stroke="#000" stroke-width="1.3"/><text x="1270.5" y="1886.8" font-size="20" text-anchor="middle">−0.6</text><text x="1299.5" y="1886.8" font-size="20" text-anchor="middle">0</text><text x="1328.4" y="1886.8" font-size="20" text-anchor="middle">0.6</text><rect x="1371.7" y="1842.6" width="67.4" height="14.9" fill="url(#cb254)" stroke="#000" stroke-width="1.5"/><line x1="1371.70" y1="1857.5" x2="1371.70" y2="1870.3" stroke="#000" stroke-width="1.3"/><line x1="1381.33" y1="1857.5" x2="1381.33" y2="1870.3" stroke="#000" stroke-width="1.3"/><line x1="1390.96" y1="1857.5" x2="1390.96" y2="1870.3" stroke="#000" stroke-width="1.3"/><line x1="1400.59" y1="1857.5" x2="1400.59" y2="1870.3" stroke="#000" stroke-width="1.3"/><line x1="1410.21" y1="1857.5" x2="1410.21" y2="1870.3" stroke="#000" stroke-width="1.3"/><line x1="1419.84" y1="1857.5" x2="1419.84" y2="1870.3" stroke="#000" stroke-width="1.3"/><line x1="1429.47" y1="1857.5" x2="1429.47" y2="1870.3" stroke="#000" stroke-width="1.3"/><line x1="1439.10" y1="1857.5" x2="1439.10" y2="1870.3" stroke="#000" stroke-width="1.3"/><text x="1371.7" y="1886.8" font-size="20" text-anchor="middle">−0.6</text><text x="1400.6" y="1886.8" font-size="20" text-anchor="middle">0</text><text x="1429.5" y="1886.8" font-size="20" text-anchor="middle">0.6</text><rect x="1472.4" y="1842.6" width="67.5" height="14.9" fill="url(#cb255)" stroke="#000" stroke-width="1.5"/><line x1="1472.40" y1="1857.5" x2="1472.40" y2="1870.3" stroke="#000" stroke-width="1.3"/><line x1="1483.65" y1="1857.5" x2="1483.65" y2="1870.3" stroke="#000" stroke-width="1.3"/><line x1="1494.90" y1="1857.5" x2="1494.90" y2="1870.3" stroke="#000" stroke-width="1.3"/><line x1="1506.15" y1="1857.5" x2="1506.15" y2="1870.3" stroke="#000" stroke-width="1.3"/><line x1="1517.40" y1="1857.5" x2="1517.40" y2="1870.3" stroke="#000" stroke-width="1.3"/><line x1="1528.65" y1="1857.5" x2="1528.65" y2="1870.3" stroke="#000" stroke-width="1.3"/><line x1="1539.90" y1="1857.5" x2="1539.90" y2="1870.3" stroke="#000" stroke-width="1.3"/><text x="1472.4" y="1886.8" font-size="20" text-anchor="middle">−0.4</text><text x="1517.4" y="1886.8" font-size="20" text-anchor="middle">0.4</text><text x="17.6" y="1990.7" font-size="24" font-weight="bold">F</text><line x1="242.4" y1="2004.3" x2="943.9" y2="2004.3" stroke="#222" stroke-width="0.85"/><path d="M237.4 2004.3l7-3.2v6.4z M948.9 2004.3l-7-3.2v6.4z" fill="#000"/><text x="562" y="1998.3" font-size="13.5" text-anchor="middle">17Kb</text><line x1="1179.6" y1="2004.6" x2="1881" y2="2004.6" stroke="#222" stroke-width="0.85"/><path d="M1174.6 2004.6l7-3.2v6.4z M1886 2004.6l-7-3.2v6.4z" fill="#000"/><text x="1499.8" y="1998.6" font-size="13.5" text-anchor="middle">24Kb</text><clipPath id="clipL"><rect x="239.3" y="2030" width="711" height="430"/></clipPath><clipPath id="clipR"><rect x="1173.4" y="2030" width="711" height="430"/></clipPath><g clip-path="url(#clipL)"><line x1="239.3" y1="2041.2" x2="950.5" y2="2041.2" stroke="#D4D4D4" stroke-width="0.8"/><rect x="239.3" y="2041.2" width="711.2" height="26.9" fill="#F6F6F6"/><text x="240.9" y="2047.4" font-size="5.6" fill="#333">[0 - 2.71]</text><path d="M286.0 2068.1L286.0 2067.7 287.5 2067.2 289.0 2066.6 290.5 2066.1 292.0 2065.4 293.5 2065.9 295.0 2066.6 296.5 2067.4 298.0 2067.7 299.5 2066.8 301.0 2065.7 302.5 2064.6 304.0 2062.7 305.5 2063.2 307.0 2064.2 308.5 2066.2 310.0 2067.1 310.0 2068.1ZM317.5 2068.1L317.5 2067.7 319.0 2066.9 320.5 2065.9 322.0 2065.7 323.5 2065.8 325.0 2066.3 326.5 2066.1 328.0 2065.4 329.5 2065.6 331.0 2066.0 332.5 2066.0 334.0 2065.5 335.5 2065.8 337.0 2066.2 338.5 2066.2 340.0 2065.9 341.5 2066.9 343.0 2066.1 344.5 2065.6 346.0 2065.9 347.5 2065.9 349.0 2066.4 350.5 2066.0 352.0 2065.5 353.5 2065.6 355.0 2065.6 356.5 2065.6 358.0 2065.5 359.5 2065.9 361.0 2065.4 362.5 2066.5 364.0 2066.3 365.5 2066.1 367.0 2065.7 368.5 2065.6 370.0 2066.1 371.5 2066.8 373.0 2067.6 373.0 2068.1ZM395.5 2068.1L395.5 2067.8 397.0 2067.3 398.5 2066.8 400.0 2066.8 401.5 2067.0 403.0 2066.9 404.5 2066.9 406.0 2066.8 407.5 2067.0 409.0 2067.6 409.0 2068.1ZM433.0 2068.1L433.0 2067.6 434.5 2066.8 436.0 2065.7 437.5 2064.3 439.0 2063.4 440.5 2063.4 442.0 2064.9 443.5 2066.1 445.0 2066.2 446.5 2065.0 448.0 2064.7 449.5 2065.4 451.0 2065.8 452.5 2066.0 454.0 2066.2 455.5 2066.0 457.0 2066.4 458.5 2065.9 460.0 2064.7 461.5 2065.4 463.0 2065.5 464.5 2065.8 466.0 2066.8 467.5 2067.4 467.5 2068.1ZM506.5 2068.1L506.5 2067.5 508.0 2067.0 509.5 2066.8 511.0 2067.1 512.5 2067.1 514.0 2067.2 515.5 2067.1 517.0 2067.1 518.5 2067.1 520.0 2067.0 521.5 2067.1 523.0 2066.9 524.5 2065.3 526.0 2064.4 527.5 2062.9 529.0 2063.2 530.5 2065.0 532.0 2065.9 533.5 2067.1 535.0 2067.8 535.0 2068.1ZM538.0 2068.1L538.0 2067.4 539.5 2066.6 541.0 2064.8 542.5 2062.5 544.0 2059.2 545.5 2056.9 547.0 2056.0 548.5 2057.5 550.0 2059.1 551.5 2062.3 553.0 2064.3 554.5 2063.6 556.0 2063.7 557.5 2064.5 559.0 2065.7 560.5 2067.0 562.0 2065.2 563.5 2062.4 565.0 2059.4 566.5 2059.0 568.0 2059.1 569.5 2060.4 571.0 2059.9 572.5 2058.5 574.0 2058.2 575.5 2055.8 577.0 2054.3 578.5 2054.5 580.0 2058.5 581.5 2052.4 583.0 2051.2 584.5 2051.4 586.0 2052.5 587.5 2054.9 589.0 2060.6 590.5 2060.7 592.0 2061.8 593.5 2063.3 595.0 2064.4 596.5 2064.7 598.0 2063.5 599.5 2062.2 601.0 2062.8 602.5 2064.3 604.0 2064.8 605.5 2064.6 607.0 2063.8 608.5 2064.1 610.0 2063.0 611.5 2062.3 613.0 2063.2 614.5 2063.6 616.0 2063.9 617.5 2064.0 619.0 2063.3 620.5 2064.2 622.0 2064.7 623.5 2063.3 625.0 2063.1 626.5 2063.7 628.0 2063.9 629.5 2063.7 631.0 2064.7 632.5 2063.2 634.0 2062.9 635.5 2063.7 637.0 2064.0 638.5 2064.2 640.0 2064.5 641.5 2063.6 643.0 2063.5 644.5 2064.2 646.0 2063.4 647.5 2064.2 649.0 2063.6 650.5 2064.1 652.0 2063.7 653.5 2065.0 655.0 2067.0 656.5 2067.5 658.0 2066.6 659.5 2065.3 661.0 2065.0 662.5 2065.4 664.0 2065.1 665.5 2066.1 667.0 2065.9 668.5 2065.8 670.0 2065.2 671.5 2065.3 673.0 2065.6 674.5 2065.4 676.0 2065.4 677.5 2065.5 679.0 2065.3 680.5 2065.8 682.0 2066.0 683.5 2066.6 685.0 2067.6 685.0 2068.1ZM688.0 2068.1L688.0 2067.6 689.5 2066.6 691.0 2065.5 692.5 2063.9 694.0 2062.8 695.5 2062.3 697.0 2064.1 698.5 2065.9 700.0 2067.1 701.5 2067.8 701.5 2068.1ZM710.5 2068.1L710.5 2067.7 712.0 2067.5 713.5 2067.1 715.0 2067.0 716.5 2067.2 718.0 2067.1 719.5 2067.4 721.0 2067.6 722.5 2067.2 724.0 2066.4 725.5 2065.7 727.0 2065.9 728.5 2066.0 730.0 2066.6 731.5 2066.7 733.0 2066.6 734.5 2066.8 736.0 2066.1 737.5 2066.4 739.0 2066.1 740.5 2066.1 742.0 2066.7 743.5 2067.5 743.5 2068.1ZM748.0 2068.1L748.0 2067.8 749.5 2067.0 751.0 2065.8 752.5 2064.6 754.0 2063.9 755.5 2063.7 757.0 2064.5 758.5 2064.3 760.0 2064.5 761.5 2064.4 763.0 2064.7 764.5 2064.5 766.0 2064.2 767.5 2064.7 769.0 2065.4 770.5 2066.5 772.0 2066.3 773.5 2066.1 775.0 2066.5 776.5 2066.8 778.0 2066.4 779.5 2066.2 781.0 2066.5 782.5 2066.7 784.0 2067.0 785.5 2067.4 787.0 2067.7 787.0 2068.1ZM796.0 2068.1L796.0 2067.6 797.5 2067.3 799.0 2067.1 800.5 2067.0 802.0 2067.0 803.5 2067.0 805.0 2066.9 806.5 2066.9 808.0 2066.9 809.5 2067.1 811.0 2066.9 812.5 2066.5 814.0 2066.8 815.5 2067.7 815.5 2068.1ZM824.5 2068.1L824.5 2067.5 826.0 2067.5 827.5 2067.3 829.0 2067.1 830.5 2067.3 832.0 2067.4 833.5 2067.4 835.0 2067.5 836.5 2067.7 838.0 2067.8 839.5 2067.6 841.0 2067.4 842.5 2067.4 844.0 2067.5 845.5 2067.7 845.5 2068.1ZM866.5 2068.1L866.5 2067.7 868.0 2067.4 869.5 2067.0 871.0 2066.8 872.5 2066.7 874.0 2067.0 875.5 2067.4 877.0 2067.8 877.0 2068.1ZM914.5 2068.1L914.5 2067.6 916.0 2067.3 917.5 2067.2 919.0 2067.1 920.5 2067.4 922.0 2067.7 922.0 2068.1Z" fill="#999999"/><line x1="239.3" y1="2068.1" x2="950.5" y2="2068.1" stroke="#BDBDBD" stroke-width="0.9"/><rect x="239.3" y="2068.1" width="711.2" height="28.8" fill="#F6F6F6"/><text x="240.9" y="2074.3" font-size="5.6" fill="#333">[0 - 2.71]</text><path d="M283.0 2096.9L283.0 2096.0 284.5 2094.9 286.0 2094.3 287.5 2094.4 289.0 2094.4 290.5 2095.1 292.0 2094.7 293.5 2095.3 295.0 2094.0 296.5 2093.4 298.0 2094.0 299.5 2095.3 301.0 2095.6 302.5 2096.0 304.0 2096.1 305.5 2095.9 307.0 2095.6 308.5 2095.7 310.0 2096.0 311.5 2096.0 313.0 2096.1 314.5 2095.8 316.0 2096.1 317.5 2095.9 319.0 2096.1 320.5 2095.7 322.0 2095.6 323.5 2096.0 325.0 2095.8 326.5 2095.7 328.0 2096.2 329.5 2095.9 331.0 2095.8 332.5 2095.8 334.0 2095.8 335.5 2095.5 337.0 2095.9 338.5 2096.3 338.5 2096.9ZM355.0 2096.9L355.0 2096.4 356.5 2095.5 358.0 2094.0 359.5 2093.0 361.0 2091.5 362.5 2092.0 364.0 2092.8 365.5 2094.6 367.0 2095.8 367.0 2096.9ZM407.5 2096.9L407.5 2096.5 409.0 2096.2 410.5 2096.1 412.0 2096.0 413.5 2096.1 415.0 2096.1 416.5 2095.7 418.0 2095.8 419.5 2095.6 421.0 2095.2 422.5 2095.7 424.0 2095.9 425.5 2095.8 427.0 2095.6 428.5 2095.6 430.0 2096.0 431.5 2095.6 433.0 2093.8 434.5 2092.6 436.0 2092.3 437.5 2092.8 439.0 2092.3 440.5 2090.3 442.0 2090.7 443.5 2093.0 445.0 2092.1 446.5 2089.8 448.0 2089.6 449.5 2091.5 451.0 2092.0 452.5 2091.6 454.0 2091.3 455.5 2090.8 457.0 2088.8 458.5 2090.0 460.0 2091.7 461.5 2088.8 463.0 2089.8 464.5 2089.8 466.0 2092.6 467.5 2094.5 469.0 2095.9 470.5 2096.5 472.0 2096.0 473.5 2096.1 475.0 2096.1 476.5 2096.1 478.0 2096.1 479.5 2096.2 481.0 2096.2 482.5 2096.3 484.0 2096.3 485.5 2096.3 487.0 2096.2 488.5 2096.3 490.0 2096.5 490.0 2096.9ZM496.0 2096.9L496.0 2096.3 497.5 2095.6 499.0 2095.2 500.5 2094.6 502.0 2094.9 503.5 2095.5 505.0 2096.1 505.0 2096.9ZM515.5 2096.9L515.5 2096.1 517.0 2094.7 518.5 2093.5 520.0 2090.6 521.5 2091.0 523.0 2091.2 524.5 2092.8 526.0 2091.6 527.5 2093.2 529.0 2093.9 530.5 2093.0 532.0 2093.2 533.5 2093.2 535.0 2092.4 536.5 2092.2 538.0 2092.7 539.5 2093.3 541.0 2093.6 542.5 2092.6 544.0 2093.0 545.5 2093.1 547.0 2093.7 548.5 2093.2 550.0 2092.5 551.5 2092.7 553.0 2092.3 554.5 2093.4 556.0 2094.3 557.5 2093.8 559.0 2091.9 560.5 2092.8 562.0 2093.6 563.5 2093.8 565.0 2094.9 566.5 2096.2 568.0 2096.4 569.5 2094.8 571.0 2092.1 572.5 2090.9 574.0 2091.9 575.5 2092.3 577.0 2092.9 578.5 2092.1 580.0 2091.5 581.5 2093.2 583.0 2091.9 584.5 2089.5 586.0 2091.2 587.5 2092.4 589.0 2092.1 590.5 2090.8 592.0 2091.2 593.5 2093.0 595.0 2091.9 596.5 2091.2 598.0 2092.5 599.5 2092.8 601.0 2091.9 602.5 2091.6 604.0 2091.3 605.5 2092.1 607.0 2092.9 608.5 2091.2 610.0 2091.1 611.5 2093.2 613.0 2093.4 614.5 2091.9 616.0 2091.9 617.5 2092.3 619.0 2092.7 620.5 2092.2 622.0 2092.1 623.5 2091.6 625.0 2092.0 626.5 2093.0 628.0 2092.6 629.5 2091.2 631.0 2090.1 632.5 2090.4 634.0 2091.2 635.5 2091.3 637.0 2091.0 638.5 2091.4 640.0 2091.2 641.5 2091.8 643.0 2093.0 644.5 2092.6 646.0 2094.2 647.5 2095.5 649.0 2095.5 650.5 2095.6 652.0 2095.5 653.5 2095.6 655.0 2095.7 656.5 2095.8 658.0 2096.0 659.5 2096.4 661.0 2096.3 662.5 2095.3 664.0 2094.2 665.5 2094.3 667.0 2095.0 668.5 2094.7 670.0 2095.0 671.5 2094.7 673.0 2094.7 674.5 2094.9 676.0 2093.8 677.5 2091.7 679.0 2089.4 680.5 2085.4 682.0 2083.6 683.5 2081.0 685.0 2076.8 686.5 2073.5 688.0 2073.2 689.5 2078.6 691.0 2084.3 692.5 2085.0 694.0 2087.7 695.5 2088.8 697.0 2091.8 698.5 2093.7 700.0 2095.6 701.5 2095.4 703.0 2095.9 704.5 2095.5 706.0 2095.6 707.5 2096.2 707.5 2096.9ZM718.0 2096.9L718.0 2096.5 719.5 2095.8 721.0 2094.8 722.5 2093.8 724.0 2093.3 725.5 2093.3 727.0 2093.7 728.5 2093.2 730.0 2093.5 731.5 2093.2 733.0 2094.0 734.5 2093.5 736.0 2094.3 737.5 2094.4 739.0 2094.7 740.5 2094.3 742.0 2095.0 743.5 2096.0 743.5 2096.9ZM754.0 2096.9L754.0 2096.3 755.5 2095.3 757.0 2093.6 758.5 2093.6 760.0 2093.9 761.5 2092.8 763.0 2092.6 764.5 2094.3 766.0 2093.7 767.5 2093.6 769.0 2092.9 770.5 2092.8 772.0 2092.2 773.5 2092.9 775.0 2093.1 776.5 2093.4 778.0 2093.7 779.5 2093.2 781.0 2093.9 782.5 2094.3 784.0 2094.5 785.5 2093.5 787.0 2093.0 788.5 2093.1 790.0 2094.1 791.5 2094.8 793.0 2094.7 794.5 2094.6 796.0 2095.6 797.5 2094.9 799.0 2094.9 800.5 2095.3 802.0 2095.6 803.5 2095.4 805.0 2095.4 806.5 2095.2 808.0 2095.1 809.5 2094.5 811.0 2094.3 812.5 2094.9 814.0 2095.9 814.0 2096.9ZM823.0 2096.9L823.0 2096.5 824.5 2096.4 826.0 2096.4 827.5 2096.0 829.0 2096.0 830.5 2096.4 832.0 2096.2 833.5 2096.0 835.0 2095.9 836.5 2096.0 838.0 2096.1 839.5 2096.2 841.0 2096.0 842.5 2096.1 844.0 2096.0 845.5 2096.1 847.0 2096.0 848.5 2096.1 850.0 2096.2 851.5 2096.1 853.0 2096.1 854.5 2096.1 856.0 2096.1 857.5 2096.1 859.0 2096.3 860.5 2096.2 862.0 2096.1 863.5 2096.0 865.0 2096.1 866.5 2096.3 866.5 2096.9Z" fill="#0000A6"/><line x1="239.3" y1="2096.9" x2="950.5" y2="2096.9" stroke="#6A6AE6" stroke-width="1.3"/><rect x="239.3" y="2096.9" width="711.2" height="28.2" fill="#F6F6F6"/><text x="240.9" y="2103.1" font-size="5.6" fill="#333">[0 - 2.71]</text><path d="M281.5 2125.1L281.5 2124.7 283.0 2124.3 284.5 2123.8 286.0 2123.5 287.5 2123.2 289.0 2123.6 290.5 2123.6 292.0 2123.6 293.5 2124.0 295.0 2123.8 296.5 2123.9 298.0 2123.0 299.5 2123.2 301.0 2123.4 302.5 2123.4 304.0 2123.8 305.5 2124.0 307.0 2123.5 308.5 2123.6 310.0 2123.5 311.5 2123.7 313.0 2124.2 314.5 2124.8 314.5 2125.1ZM323.5 2125.1L323.5 2124.6 325.0 2123.6 326.5 2122.2 328.0 2121.1 329.5 2120.4 331.0 2120.7 332.5 2121.4 334.0 2123.1 335.5 2124.3 335.5 2125.1ZM340.0 2125.1L340.0 2124.7 341.5 2124.0 343.0 2123.0 344.5 2122.6 346.0 2122.4 347.5 2122.4 349.0 2121.4 350.5 2122.4 352.0 2122.6 353.5 2122.4 355.0 2121.8 356.5 2122.6 358.0 2121.8 359.5 2121.7 361.0 2121.8 362.5 2122.8 364.0 2123.2 365.5 2124.3 367.0 2124.7 367.0 2125.1ZM392.5 2125.1L392.5 2124.5 394.0 2124.5 395.5 2124.5 397.0 2124.3 398.5 2124.4 400.0 2124.4 401.5 2124.4 403.0 2124.7 403.0 2125.1ZM412.0 2125.1L412.0 2124.5 413.5 2123.8 415.0 2123.0 416.5 2123.0 418.0 2123.3 419.5 2123.6 421.0 2122.7 422.5 2123.5 424.0 2123.6 425.5 2122.8 427.0 2123.1 428.5 2122.9 430.0 2123.0 431.5 2123.4 433.0 2123.4 434.5 2123.3 436.0 2123.3 437.5 2123.1 439.0 2121.8 440.5 2120.5 442.0 2119.5 443.5 2121.3 445.0 2122.0 446.5 2121.2 448.0 2122.6 449.5 2123.1 451.0 2121.9 452.5 2122.1 454.0 2122.9 455.5 2122.8 457.0 2122.7 458.5 2121.5 460.0 2121.5 461.5 2122.5 463.0 2122.1 464.5 2122.1 466.0 2121.9 467.5 2122.9 469.0 2122.8 470.5 2123.1 472.0 2123.8 473.5 2124.3 475.0 2124.8 475.0 2125.1ZM485.5 2125.1L485.5 2124.6 487.0 2124.4 488.5 2124.3 490.0 2124.4 490.0 2125.1ZM496.0 2125.1L496.0 2124.5 497.5 2124.3 499.0 2124.3 500.5 2124.4 502.0 2124.7 502.0 2125.1ZM505.0 2125.1L505.0 2124.7 506.5 2123.9 508.0 2122.7 509.5 2122.1 511.0 2122.8 512.5 2122.5 514.0 2122.4 515.5 2122.8 517.0 2123.3 518.5 2122.5 520.0 2122.4 521.5 2122.6 523.0 2123.4 524.5 2124.0 526.0 2123.0 527.5 2121.6 529.0 2120.2 530.5 2120.4 532.0 2120.9 533.5 2122.3 535.0 2123.9 536.5 2124.6 538.0 2123.6 539.5 2122.0 541.0 2119.3 542.5 2116.5 544.0 2113.1 545.5 2111.0 547.0 2111.1 548.5 2115.5 550.0 2117.0 551.5 2120.5 553.0 2120.1 554.5 2119.2 556.0 2118.6 557.5 2119.4 559.0 2121.8 560.5 2123.6 562.0 2122.5 563.5 2120.7 565.0 2117.7 566.5 2117.1 568.0 2116.3 569.5 2116.3 571.0 2118.9 572.5 2119.7 574.0 2116.2 575.5 2114.5 577.0 2114.0 578.5 2113.9 580.0 2114.7 581.5 2111.7 583.0 2109.0 584.5 2108.4 586.0 2109.7 587.5 2113.1 589.0 2117.6 590.5 2117.8 592.0 2118.1 593.5 2118.4 595.0 2119.9 596.5 2119.7 598.0 2119.4 599.5 2120.6 601.0 2120.5 602.5 2119.0 604.0 2119.1 605.5 2119.0 607.0 2120.3 608.5 2121.3 610.0 2120.8 611.5 2120.0 613.0 2119.5 614.5 2120.0 616.0 2121.0 617.5 2120.8 619.0 2122.3 620.5 2121.5 622.0 2119.7 623.5 2120.7 625.0 2120.1 626.5 2120.2 628.0 2120.5 629.5 2120.1 631.0 2120.6 632.5 2120.4 634.0 2121.6 635.5 2122.1 637.0 2120.0 638.5 2120.4 640.0 2120.9 641.5 2120.9 643.0 2121.4 644.5 2120.7 646.0 2122.2 647.5 2121.1 649.0 2120.1 650.5 2121.8 652.0 2123.8 653.5 2124.7 655.0 2124.3 656.5 2123.5 658.0 2122.8 659.5 2122.7 661.0 2123.2 662.5 2123.2 664.0 2123.3 665.5 2123.0 667.0 2122.5 668.5 2122.0 670.0 2121.9 671.5 2122.4 673.0 2123.0 674.5 2124.3 676.0 2124.6 677.5 2124.2 679.0 2123.2 680.5 2122.5 682.0 2122.3 683.5 2121.5 685.0 2121.6 686.5 2122.2 688.0 2122.8 689.5 2121.8 691.0 2121.5 692.5 2122.3 694.0 2121.5 695.5 2122.5 697.0 2122.3 698.5 2123.5 700.0 2124.5 700.0 2125.1ZM710.5 2125.1L710.5 2124.7 712.0 2124.3 713.5 2123.8 715.0 2123.6 716.5 2123.6 718.0 2124.0 719.5 2124.5 719.5 2125.1ZM727.0 2125.1L727.0 2124.8 728.5 2124.2 730.0 2122.9 731.5 2122.3 733.0 2121.3 734.5 2120.2 736.0 2120.3 737.5 2121.8 739.0 2122.7 740.5 2124.0 740.5 2125.1ZM749.5 2125.1L749.5 2124.5 751.0 2123.3 752.5 2121.4 754.0 2121.2 755.5 2122.6 757.0 2121.3 758.5 2121.5 760.0 2121.7 761.5 2121.5 763.0 2121.7 764.5 2121.9 766.0 2122.3 767.5 2123.3 769.0 2123.7 770.5 2123.5 772.0 2123.8 773.5 2123.9 775.0 2123.8 776.5 2123.7 778.0 2123.8 779.5 2123.9 781.0 2123.8 782.5 2123.8 784.0 2124.2 785.5 2124.6 787.0 2124.1 788.5 2123.0 790.0 2122.5 791.5 2122.0 793.0 2122.2 794.5 2122.7 796.0 2122.2 797.5 2122.0 799.0 2122.6 800.5 2122.9 802.0 2122.9 803.5 2122.9 805.0 2122.8 806.5 2122.4 808.0 2123.0 809.5 2122.8 811.0 2123.0 812.5 2123.4 814.0 2124.0 815.5 2124.5 815.5 2125.1ZM836.5 2125.1L836.5 2124.6 838.0 2124.5 839.5 2124.2 841.0 2124.2 842.5 2124.5 844.0 2124.6 845.5 2124.5 847.0 2124.5 847.0 2125.1ZM893.5 2125.1L893.5 2124.7 895.0 2124.4 896.5 2124.3 898.0 2124.3 899.5 2124.6 899.5 2125.1Z" fill="#FF9A0A"/><line x1="239.3" y1="2151.2" x2="950.5" y2="2151.2" stroke="#D4D4D4" stroke-width="0.8"/><rect x="239.3" y="2151.2" width="711.2" height="27.0" fill="#F6F6F6"/><text x="240.9" y="2157.4" font-size="5.6" fill="#333">[0 - 7.00]</text><path d="M301.0 2178.2L301.0 2177.8 302.5 2177.6 304.0 2177.4 305.5 2177.5 307.0 2177.6 308.5 2177.9 308.5 2178.2ZM329.5 2178.2L329.5 2177.7 331.0 2177.4 332.5 2177.3 334.0 2177.0 335.5 2177.2 337.0 2177.5 338.5 2177.6 340.0 2177.3 341.5 2177.3 343.0 2177.3 344.5 2177.2 346.0 2177.3 347.5 2177.4 349.0 2177.4 350.5 2177.5 352.0 2177.4 353.5 2177.1 355.0 2176.5 356.5 2176.0 358.0 2175.2 359.5 2175.0 361.0 2175.3 362.5 2176.1 364.0 2175.3 365.5 2174.7 367.0 2175.6 368.5 2175.0 370.0 2174.8 371.5 2174.6 373.0 2175.8 374.5 2175.7 376.0 2176.1 377.5 2175.9 379.0 2176.9 380.5 2177.7 380.5 2178.2ZM389.5 2178.2L389.5 2177.7 391.0 2177.1 392.5 2176.2 394.0 2175.3 395.5 2175.0 397.0 2175.3 398.5 2174.0 400.0 2174.7 401.5 2175.6 403.0 2174.9 404.5 2174.6 406.0 2173.9 407.5 2174.5 409.0 2172.5 410.5 2171.7 412.0 2170.8 413.5 2170.9 415.0 2172.8 416.5 2173.8 418.0 2170.6 419.5 2169.2 421.0 2169.9 422.5 2171.4 424.0 2172.0 425.5 2174.4 427.0 2175.5 428.5 2173.2 430.0 2170.9 431.5 2167.2 433.0 2167.7 434.5 2166.6 436.0 2169.2 437.5 2169.9 439.0 2164.6 440.5 2162.9 442.0 2161.0 443.5 2162.7 445.0 2167.9 446.5 2164.4 448.0 2157.5 449.5 2159.1 451.0 2159.0 452.5 2164.3 454.0 2162.8 455.5 2159.7 457.0 2160.4 458.5 2163.4 460.0 2168.3 461.5 2167.3 463.0 2164.9 464.5 2163.1 466.0 2162.5 467.5 2167.6 469.0 2169.6 470.5 2173.8 472.0 2173.2 473.5 2174.3 475.0 2176.2 476.5 2177.2 478.0 2177.8 478.0 2178.2ZM578.5 2178.2L578.5 2177.8 580.0 2177.7 581.5 2177.7 583.0 2177.7 584.5 2177.7 586.0 2177.7 587.5 2177.9 587.5 2178.2ZM617.5 2178.2L617.5 2177.7 619.0 2177.6 620.5 2177.4 622.0 2177.3 623.5 2177.4 625.0 2177.4 626.5 2177.6 628.0 2177.8 628.0 2178.2ZM667.0 2178.2L667.0 2177.5 668.5 2176.8 670.0 2176.4 671.5 2176.1 673.0 2176.6 674.5 2177.0 676.0 2177.6 677.5 2177.7 679.0 2177.3 680.5 2176.9 682.0 2176.9 683.5 2176.5 685.0 2176.7 686.5 2177.1 688.0 2177.1 689.5 2177.1 691.0 2177.0 692.5 2177.0 694.0 2177.1 695.5 2177.4 697.0 2177.7 697.0 2178.2Z" fill="#999999"/><line x1="239.3" y1="2178.2" x2="950.5" y2="2178.2" stroke="#BDBDBD" stroke-width="0.9"/><rect x="239.3" y="2178.2" width="711.2" height="28.3" fill="#F6F6F6"/><text x="240.9" y="2184.4" font-size="5.6" fill="#333">[0 - 7.00]</text><path d="M329.5 2206.5L329.5 2206.0 331.0 2205.5 332.5 2205.2 334.0 2205.2 335.5 2205.3 337.0 2205.7 338.5 2205.8 340.0 2205.4 341.5 2205.3 343.0 2205.3 344.5 2205.2 346.0 2205.5 347.5 2205.3 349.0 2205.6 350.5 2205.9 352.0 2205.6 353.5 2205.3 355.0 2205.0 356.5 2204.6 358.0 2204.1 359.5 2204.6 361.0 2204.1 362.5 2204.6 364.0 2204.8 365.5 2204.8 367.0 2204.2 368.5 2204.4 370.0 2204.6 371.5 2204.5 373.0 2204.7 374.5 2204.4 376.0 2204.8 377.5 2204.6 379.0 2204.3 380.5 2205.5 380.5 2206.5ZM394.0 2206.5L394.0 2205.5 395.5 2203.5 397.0 2201.8 398.5 2202.9 400.0 2203.4 401.5 2204.1 403.0 2204.1 404.5 2204.8 406.0 2205.7 407.5 2204.9 409.0 2203.7 410.5 2202.0 412.0 2200.8 413.5 2201.7 415.0 2203.1 416.5 2200.9 418.0 2199.8 419.5 2196.5 421.0 2196.9 422.5 2199.2 424.0 2200.0 425.5 2201.4 427.0 2200.1 428.5 2197.8 430.0 2198.8 431.5 2199.8 433.0 2202.4 434.5 2203.6 436.0 2202.5 437.5 2199.6 439.0 2196.4 440.5 2195.3 442.0 2193.1 443.5 2195.7 445.0 2196.2 446.5 2192.3 448.0 2192.3 449.5 2192.0 451.0 2195.8 452.5 2193.6 454.0 2193.2 455.5 2192.8 457.0 2195.5 458.5 2200.1 460.0 2196.7 461.5 2195.6 463.0 2194.0 464.5 2195.5 466.0 2197.8 467.5 2201.7 469.0 2203.6 470.5 2203.8 472.0 2203.7 473.5 2204.5 475.0 2205.5 476.5 2206.0 476.5 2206.5ZM496.0 2206.5L496.0 2206.1 497.5 2205.8 499.0 2205.2 500.5 2205.1 502.0 2205.4 503.5 2205.7 505.0 2206.1 505.0 2206.5ZM581.5 2206.5L581.5 2206.0 583.0 2205.6 584.5 2205.2 586.0 2205.1 587.5 2205.3 589.0 2205.4 590.5 2205.6 592.0 2205.9 592.0 2206.5ZM662.5 2206.5L662.5 2206.0 664.0 2205.6 665.5 2205.2 667.0 2204.9 668.5 2205.0 670.0 2205.6 671.5 2205.4 673.0 2205.5 674.5 2205.6 676.0 2205.9 676.0 2206.5ZM689.5 2206.5L689.5 2205.9 691.0 2205.1 692.5 2204.3 694.0 2204.0 695.5 2204.0 697.0 2204.8 698.5 2205.3 700.0 2206.0 700.0 2206.5ZM730.0 2206.5L730.0 2206.0 731.5 2205.8 733.0 2205.6 734.5 2205.9 736.0 2206.1 736.0 2206.5Z" fill="#0000A6"/><line x1="239.3" y1="2206.5" x2="950.5" y2="2206.5" stroke="#6A6AE6" stroke-width="1.3"/><rect x="239.3" y="2206.5" width="711.2" height="27.8" fill="#F6F6F6"/><text x="240.9" y="2212.7" font-size="5.6" fill="#333">[0 - 7.00]</text><path d="M298.0 2234.3L298.0 2233.7 299.5 2233.2 301.0 2233.3 302.5 2233.1 304.0 2233.1 305.5 2233.1 307.0 2233.2 308.5 2233.3 310.0 2233.2 311.5 2233.1 313.0 2233.1 314.5 2232.9 316.0 2233.1 317.5 2233.9 317.5 2234.3ZM334.0 2234.3L334.0 2233.9 335.5 2233.1 337.0 2232.3 338.5 2230.8 340.0 2230.2 341.5 2230.0 343.0 2230.0 344.5 2230.7 346.0 2231.3 347.5 2230.2 349.0 2230.2 350.5 2230.2 352.0 2230.8 353.5 2230.9 355.0 2230.7 356.5 2231.0 358.0 2231.3 359.5 2230.6 361.0 2231.3 362.5 2229.9 364.0 2230.6 365.5 2230.3 367.0 2231.0 368.5 2230.5 370.0 2230.3 371.5 2230.8 373.0 2231.3 374.5 2231.7 376.0 2230.2 377.5 2229.3 379.0 2231.3 380.5 2230.8 382.0 2231.5 383.5 2232.6 385.0 2233.4 386.5 2232.1 388.0 2230.9 389.5 2228.5 391.0 2228.5 392.5 2228.7 394.0 2228.8 395.5 2229.7 397.0 2228.3 398.5 2226.4 400.0 2227.7 401.5 2228.3 403.0 2229.3 404.5 2229.5 406.0 2231.5 407.5 2230.2 409.0 2229.2 410.5 2226.8 412.0 2227.3 413.5 2227.6 415.0 2228.3 416.5 2230.8 418.0 2231.9 419.5 2229.3 421.0 2226.7 422.5 2223.6 424.0 2221.6 425.5 2224.2 427.0 2225.2 428.5 2226.7 430.0 2226.6 431.5 2225.9 433.0 2224.0 434.5 2225.2 436.0 2226.6 437.5 2227.1 439.0 2224.3 440.5 2219.0 442.0 2220.8 443.5 2220.7 445.0 2225.7 446.5 2220.8 448.0 2217.9 449.5 2214.1 451.0 2215.8 452.5 2216.9 454.0 2223.4 455.5 2219.1 457.0 2216.2 458.5 2216.7 460.0 2217.1 461.5 2220.3 463.0 2219.0 464.5 2219.4 466.0 2220.6 467.5 2221.0 469.0 2225.2 470.5 2228.9 472.0 2229.6 473.5 2230.8 475.0 2232.2 476.5 2233.4 478.0 2234.0 478.0 2234.3ZM497.5 2234.3L497.5 2233.9 499.0 2233.6 500.5 2233.5 502.0 2233.7 503.5 2233.8 503.5 2234.3ZM520.0 2234.3L520.0 2233.9 521.5 2233.7 523.0 2233.5 524.5 2233.5 526.0 2233.7 527.5 2234.0 527.5 2234.3ZM625.0 2234.3L625.0 2233.7 626.5 2233.3 628.0 2233.1 629.5 2233.2 631.0 2232.7 632.5 2233.1 634.0 2232.9 635.5 2232.8 637.0 2233.2 638.5 2233.3 640.0 2233.9 640.0 2234.3ZM661.0 2234.3L661.0 2233.9 662.5 2233.4 664.0 2232.6 665.5 2232.5 667.0 2232.4 668.5 2232.2 670.0 2232.0 671.5 2232.8 673.0 2232.9 674.5 2232.6 676.0 2232.9 677.5 2231.9 679.0 2232.4 680.5 2232.2 682.0 2232.3 683.5 2232.3 685.0 2232.7 686.5 2232.5 688.0 2232.4 689.5 2232.1 691.0 2231.8 692.5 2232.0 694.0 2232.3 695.5 2232.7 697.0 2232.3 698.5 2232.0 700.0 2232.6 701.5 2232.8 703.0 2232.9 704.5 2233.3 706.0 2233.9 707.5 2233.9 709.0 2233.6 710.5 2233.1 712.0 2233.0 713.5 2232.7 715.0 2233.2 716.5 2233.5 718.0 2233.8 718.0 2234.3ZM731.5 2234.3L731.5 2233.8 733.0 2233.6 734.5 2233.5 736.0 2233.6 737.5 2233.8 737.5 2234.3Z" fill="#FF9A0A"/><line x1="239.3" y1="2258.5" x2="950.5" y2="2258.5" stroke="#D4D4D4" stroke-width="0.8"/><rect x="239.3" y="2258.5" width="711.2" height="27.5" fill="#F6F6F6"/><text x="240.9" y="2264.7" font-size="5.6" fill="#333">[0 - 5.13]</text><path d="M335.5 2286.0L335.5 2285.5 337.0 2285.3 338.5 2285.3 340.0 2285.3 341.5 2285.6 341.5 2286.0ZM344.5 2286.0L344.5 2285.5 346.0 2285.1 347.5 2284.4 349.0 2284.2 350.5 2284.1 352.0 2284.1 353.5 2284.4 355.0 2284.6 356.5 2284.8 358.0 2284.7 359.5 2284.6 361.0 2284.5 362.5 2284.4 364.0 2284.7 365.5 2284.4 367.0 2284.4 368.5 2284.2 370.0 2284.7 371.5 2284.5 373.0 2284.6 374.5 2284.9 376.0 2285.0 377.5 2284.7 379.0 2284.7 380.5 2284.4 382.0 2285.1 383.5 2285.5 383.5 2286.0ZM392.5 2286.0L392.5 2285.1 394.0 2284.0 395.5 2283.9 397.0 2283.7 398.5 2284.0 400.0 2283.9 401.5 2284.3 403.0 2284.2 404.5 2283.9 406.0 2284.5 407.5 2285.2 407.5 2286.0ZM412.0 2286.0L412.0 2285.5 413.5 2284.6 415.0 2283.1 416.5 2281.6 418.0 2281.5 419.5 2281.5 421.0 2282.4 422.5 2283.8 424.0 2284.5 425.5 2282.6 427.0 2280.6 428.5 2279.2 430.0 2280.2 431.5 2281.2 433.0 2280.8 434.5 2277.5 436.0 2277.5 437.5 2274.7 439.0 2276.9 440.5 2278.9 442.0 2276.9 443.5 2273.0 445.0 2268.8 446.5 2269.0 448.0 2268.1 449.5 2266.4 451.0 2269.4 452.5 2273.1 454.0 2271.7 455.5 2272.1 457.0 2272.9 458.5 2269.9 460.0 2268.4 461.5 2270.0 463.0 2272.5 464.5 2275.7 466.0 2277.8 467.5 2278.0 469.0 2279.2 470.5 2281.5 472.0 2282.8 473.5 2284.2 475.0 2285.2 475.0 2286.0ZM494.5 2286.0L494.5 2285.6 496.0 2285.2 497.5 2285.0 499.0 2284.9 500.5 2285.2 502.0 2285.2 503.5 2285.5 503.5 2286.0ZM517.0 2286.0L517.0 2285.6 518.5 2285.2 520.0 2285.0 521.5 2284.8 523.0 2284.7 524.5 2284.6 526.0 2284.8 527.5 2284.7 529.0 2284.4 530.5 2284.9 532.0 2285.4 532.0 2286.0ZM535.0 2286.0L535.0 2285.6 536.5 2284.7 538.0 2284.0 539.5 2283.9 541.0 2284.3 542.5 2284.6 544.0 2284.2 545.5 2284.6 547.0 2284.2 548.5 2283.6 550.0 2283.7 551.5 2284.2 553.0 2284.4 554.5 2283.9 556.0 2284.1 557.5 2284.7 559.0 2285.3 560.5 2285.2 562.0 2284.9 563.5 2284.7 565.0 2284.6 566.5 2284.6 568.0 2284.9 569.5 2285.1 571.0 2285.3 572.5 2285.6 572.5 2286.0ZM590.5 2286.0L590.5 2285.5 592.0 2285.3 593.5 2285.3 595.0 2285.3 596.5 2285.1 598.0 2285.3 599.5 2285.5 601.0 2285.4 602.5 2285.4 604.0 2285.4 605.5 2285.3 607.0 2285.4 608.5 2285.4 610.0 2285.5 610.0 2286.0ZM619.0 2286.0L619.0 2285.6 620.5 2285.0 622.0 2284.1 623.5 2284.3 625.0 2284.7 626.5 2284.5 628.0 2284.6 629.5 2284.1 631.0 2284.0 632.5 2284.3 634.0 2284.3 635.5 2284.3 637.0 2283.9 638.5 2284.3 640.0 2284.1 641.5 2283.7 643.0 2284.1 644.5 2284.6 646.0 2285.0 647.5 2284.7 649.0 2285.0 650.5 2285.3 652.0 2285.7 653.5 2285.1 655.0 2283.5 656.5 2283.0 658.0 2283.3 659.5 2283.2 661.0 2283.2 662.5 2283.2 664.0 2283.5 665.5 2282.2 667.0 2283.0 668.5 2284.0 670.0 2283.1 671.5 2282.4 673.0 2282.4 674.5 2283.4 676.0 2282.5 677.5 2283.1 679.0 2283.2 680.5 2283.8 682.0 2284.0 683.5 2284.7 685.0 2284.9 686.5 2283.7 688.0 2281.9 689.5 2279.7 691.0 2278.8 692.5 2278.6 694.0 2278.2 695.5 2281.1 697.0 2282.0 698.5 2283.8 700.0 2284.9 701.5 2285.6 701.5 2286.0ZM713.5 2286.0L713.5 2285.5 715.0 2285.1 716.5 2285.3 718.0 2285.1 719.5 2285.2 721.0 2285.3 722.5 2285.2 724.0 2285.3 725.5 2285.3 727.0 2285.2 728.5 2285.2 730.0 2285.2 731.5 2285.2 733.0 2285.4 733.0 2286.0ZM754.0 2286.0L754.0 2285.5 755.5 2284.9 757.0 2284.3 758.5 2284.4 760.0 2284.8 761.5 2284.9 763.0 2284.6 764.5 2284.4 766.0 2284.9 767.5 2284.4 769.0 2284.4 770.5 2285.0 772.0 2285.0 773.5 2284.7 775.0 2284.6 776.5 2284.9 778.0 2285.1 779.5 2285.3 781.0 2285.7 782.5 2285.6 784.0 2285.5 785.5 2285.5 787.0 2285.5 788.5 2285.5 790.0 2285.5 791.5 2285.7 791.5 2286.0ZM841.0 2286.0L841.0 2285.6 842.5 2285.3 844.0 2285.3 845.5 2285.3 847.0 2285.5 847.0 2286.0Z" fill="#999999"/><line x1="239.3" y1="2286.0" x2="950.5" y2="2286.0" stroke="#BDBDBD" stroke-width="0.9"/><rect x="239.3" y="2286.0" width="711.2" height="28.7" fill="#F6F6F6"/><text x="240.9" y="2292.2" font-size="5.6" fill="#333">[0 - 5.13]</text><path d="M325.0 2314.7L325.0 2314.1 326.5 2313.9 328.0 2314.0 329.5 2314.1 331.0 2314.2 331.0 2314.7ZM337.0 2314.7L337.0 2314.3 338.5 2313.8 340.0 2313.5 341.5 2313.6 343.0 2313.8 344.5 2313.8 346.0 2313.4 347.5 2313.5 349.0 2313.4 350.5 2313.4 352.0 2313.5 353.5 2313.2 355.0 2313.6 356.5 2313.6 358.0 2313.5 359.5 2313.2 361.0 2313.5 362.5 2314.3 362.5 2314.7ZM365.5 2314.7L365.5 2314.4 367.0 2313.6 368.5 2312.9 370.0 2311.1 371.5 2310.6 373.0 2311.2 374.5 2311.6 376.0 2313.2 377.5 2313.9 377.5 2314.7ZM392.5 2314.7L392.5 2314.0 394.0 2313.5 395.5 2313.6 397.0 2313.7 398.5 2313.6 400.0 2313.3 401.5 2313.6 403.0 2314.0 404.5 2314.3 404.5 2314.7ZM412.0 2314.7L412.0 2314.1 413.5 2312.9 415.0 2311.3 416.5 2309.4 418.0 2308.9 419.5 2308.1 421.0 2310.6 422.5 2311.9 424.0 2311.0 425.5 2309.9 427.0 2309.8 428.5 2310.0 430.0 2311.9 431.5 2312.3 433.0 2310.9 434.5 2308.0 436.0 2307.1 437.5 2307.0 439.0 2308.1 440.5 2308.7 442.0 2310.6 443.5 2310.4 445.0 2308.1 446.5 2303.7 448.0 2300.3 449.5 2296.4 451.0 2299.3 452.5 2300.3 454.0 2302.8 455.5 2303.9 457.0 2307.1 458.5 2304.3 460.0 2302.7 461.5 2301.2 463.0 2303.6 464.5 2306.9 466.0 2309.6 467.5 2309.6 469.0 2310.4 470.5 2312.0 472.0 2313.3 473.5 2314.2 473.5 2314.7ZM494.5 2314.7L494.5 2314.2 496.0 2313.8 497.5 2313.7 499.0 2313.5 500.5 2313.5 502.0 2313.5 503.5 2313.2 505.0 2313.7 506.5 2313.9 506.5 2314.7ZM517.0 2314.7L517.0 2314.1 518.5 2313.6 520.0 2313.2 521.5 2313.0 523.0 2313.0 524.5 2312.7 526.0 2313.2 527.5 2312.7 529.0 2312.8 530.5 2312.5 532.0 2312.9 533.5 2313.7 535.0 2314.4 535.0 2314.7ZM542.5 2314.7L542.5 2314.4 544.0 2314.1 545.5 2313.8 547.0 2313.5 548.5 2313.7 550.0 2314.1 551.5 2314.3 551.5 2314.7ZM559.0 2314.7L559.0 2313.8 560.5 2312.9 562.0 2312.8 563.5 2313.1 565.0 2312.9 566.5 2312.6 568.0 2313.1 569.5 2313.7 571.0 2314.2 571.0 2314.7ZM577.0 2314.7L577.0 2314.3 578.5 2313.9 580.0 2313.5 581.5 2313.4 583.0 2313.1 584.5 2313.4 586.0 2313.6 587.5 2313.6 589.0 2313.6 590.5 2313.4 592.0 2313.2 593.5 2313.4 595.0 2313.4 596.5 2313.2 598.0 2313.3 599.5 2313.9 601.0 2313.7 602.5 2313.7 604.0 2313.7 605.5 2313.3 607.0 2313.2 608.5 2313.7 610.0 2313.8 611.5 2313.9 613.0 2313.6 614.5 2313.9 614.5 2314.7ZM617.5 2314.7L617.5 2314.3 619.0 2313.8 620.5 2313.2 622.0 2312.7 623.5 2312.5 625.0 2312.3 626.5 2312.7 628.0 2312.9 629.5 2313.1 631.0 2312.1 632.5 2311.0 634.0 2311.1 635.5 2311.9 637.0 2312.8 638.5 2313.1 640.0 2313.1 641.5 2312.7 643.0 2312.7 644.5 2312.8 646.0 2313.4 647.5 2314.1 647.5 2314.7ZM650.5 2314.7L650.5 2314.2 652.0 2313.6 653.5 2312.4 655.0 2311.7 656.5 2310.5 658.0 2311.4 659.5 2311.8 661.0 2312.1 662.5 2311.4 664.0 2311.6 665.5 2311.8 667.0 2312.2 668.5 2312.0 670.0 2312.0 671.5 2312.1 673.0 2311.7 674.5 2311.3 676.0 2312.0 677.5 2311.2 679.0 2311.5 680.5 2311.2 682.0 2311.8 683.5 2312.3 685.0 2311.7 686.5 2311.2 688.0 2312.7 689.5 2311.2 691.0 2309.4 692.5 2308.2 694.0 2307.6 695.5 2307.8 697.0 2307.7 698.5 2310.5 700.0 2311.5 701.5 2313.3 703.0 2314.0 703.0 2314.7ZM710.5 2314.7L710.5 2314.3 712.0 2313.9 713.5 2313.6 715.0 2313.3 716.5 2313.3 718.0 2313.7 719.5 2313.3 721.0 2313.3 722.5 2313.6 724.0 2313.5 725.5 2313.6 727.0 2313.5 728.5 2313.4 730.0 2313.6 731.5 2313.8 733.0 2313.5 734.5 2313.6 736.0 2313.7 737.5 2314.1 739.0 2314.2 739.0 2314.7ZM757.0 2314.7L757.0 2314.1 758.5 2313.3 760.0 2312.8 761.5 2312.2 763.0 2312.2 764.5 2312.7 766.0 2312.8 767.5 2312.4 769.0 2313.2 770.5 2313.4 772.0 2313.4 773.5 2312.9 775.0 2313.4 776.5 2312.7 778.0 2313.2 779.5 2314.0 781.0 2313.6 782.5 2313.5 784.0 2313.5 785.5 2313.3 787.0 2313.2 788.5 2313.2 790.0 2313.4 791.5 2313.4 793.0 2313.9 794.5 2314.2 794.5 2314.7ZM800.5 2314.7L800.5 2314.3 802.0 2313.7 803.5 2313.4 805.0 2313.5 806.5 2313.5 808.0 2313.4 809.5 2313.7 811.0 2313.6 812.5 2313.9 814.0 2314.2 814.0 2314.7Z" fill="#0000A6"/><line x1="239.3" y1="2314.7" x2="950.5" y2="2314.7" stroke="#6A6AE6" stroke-width="1.3"/><rect x="239.3" y="2314.7" width="711.2" height="28.3" fill="#F6F6F6"/><text x="240.9" y="2320.9" font-size="5.6" fill="#333">[0 - 5.13]</text><path d="M302.5 2343.0L302.5 2342.4 304.0 2342.2 305.5 2342.3 307.0 2342.3 308.5 2342.2 310.0 2342.3 310.0 2343.0ZM337.0 2343.0L337.0 2342.6 338.5 2341.8 340.0 2340.9 341.5 2340.8 343.0 2340.9 344.5 2340.9 346.0 2341.2 347.5 2341.5 349.0 2341.0 350.5 2340.8 352.0 2340.7 353.5 2340.9 355.0 2341.2 356.5 2341.5 358.0 2341.3 359.5 2341.2 361.0 2340.9 362.5 2340.8 364.0 2340.9 365.5 2341.5 367.0 2340.8 368.5 2340.4 370.0 2340.6 371.5 2340.8 373.0 2341.1 374.5 2341.3 376.0 2341.5 377.5 2341.3 379.0 2341.2 380.5 2341.4 382.0 2342.3 382.0 2343.0ZM392.5 2343.0L392.5 2342.2 394.0 2341.8 395.5 2341.2 397.0 2340.5 398.5 2341.2 400.0 2341.5 401.5 2341.7 403.0 2342.4 403.0 2343.0ZM410.5 2343.0L410.5 2342.3 412.0 2340.9 413.5 2339.5 415.0 2338.2 416.5 2337.9 418.0 2338.2 419.5 2339.8 421.0 2341.3 422.5 2341.2 424.0 2339.7 425.5 2338.1 427.0 2336.7 428.5 2335.5 430.0 2336.3 431.5 2336.3 433.0 2338.5 434.5 2336.8 436.0 2335.2 437.5 2333.3 439.0 2335.2 440.5 2334.7 442.0 2332.5 443.5 2330.3 445.0 2330.6 446.5 2329.9 448.0 2324.1 449.5 2320.1 451.0 2322.8 452.5 2324.4 454.0 2328.0 455.5 2327.0 457.0 2324.6 458.5 2328.2 460.0 2333.3 461.5 2330.2 463.0 2328.9 464.5 2331.2 466.0 2334.1 467.5 2337.3 469.0 2335.8 470.5 2337.0 472.0 2339.3 473.5 2341.0 475.0 2342.1 475.0 2343.0ZM496.0 2343.0L496.0 2342.3 497.5 2341.4 499.0 2341.6 500.5 2341.8 502.0 2341.9 503.5 2341.4 505.0 2341.3 506.5 2341.9 508.0 2341.6 509.5 2341.4 511.0 2341.1 512.5 2341.3 514.0 2341.3 515.5 2341.1 517.0 2341.7 518.5 2341.5 520.0 2341.1 521.5 2341.1 523.0 2341.3 524.5 2341.6 526.0 2341.4 527.5 2341.3 529.0 2341.3 530.5 2341.4 532.0 2341.8 533.5 2342.1 535.0 2342.5 536.5 2342.4 538.0 2342.2 539.5 2342.2 541.0 2342.3 542.5 2341.8 544.0 2342.0 545.5 2341.9 547.0 2342.0 548.5 2342.5 548.5 2343.0ZM569.5 2343.0L569.5 2342.4 571.0 2341.5 572.5 2341.3 574.0 2341.3 575.5 2341.6 577.0 2341.9 578.5 2341.9 580.0 2341.6 581.5 2341.9 583.0 2341.7 584.5 2341.7 586.0 2341.0 587.5 2341.4 589.0 2341.8 590.5 2341.8 592.0 2341.8 593.5 2341.8 595.0 2341.6 596.5 2341.6 598.0 2341.6 599.5 2341.7 601.0 2341.8 602.5 2341.5 604.0 2341.5 605.5 2341.4 607.0 2341.5 608.5 2341.3 610.0 2341.3 611.5 2341.3 613.0 2341.9 614.5 2341.8 616.0 2341.6 617.5 2341.5 619.0 2341.0 620.5 2340.6 622.0 2340.5 623.5 2340.6 625.0 2340.5 626.5 2340.2 628.0 2340.7 629.5 2339.9 631.0 2338.7 632.5 2339.0 634.0 2340.2 635.5 2340.2 637.0 2340.7 638.5 2340.8 640.0 2341.1 641.5 2340.2 643.0 2340.5 644.5 2341.5 646.0 2342.2 647.5 2342.0 649.0 2340.6 650.5 2339.7 652.0 2338.5 653.5 2339.3 655.0 2339.7 656.5 2340.0 658.0 2339.4 659.5 2338.8 661.0 2340.0 662.5 2340.2 664.0 2340.5 665.5 2339.6 667.0 2339.2 668.5 2339.7 670.0 2340.0 671.5 2339.7 673.0 2339.5 674.5 2339.3 676.0 2339.6 677.5 2339.6 679.0 2338.9 680.5 2338.9 682.0 2339.3 683.5 2339.3 685.0 2338.9 686.5 2339.9 688.0 2339.5 689.5 2336.2 691.0 2332.7 692.5 2332.0 694.0 2331.6 695.5 2332.6 697.0 2335.2 698.5 2337.4 700.0 2338.3 701.5 2339.8 703.0 2340.9 704.5 2342.1 706.0 2342.0 707.5 2341.6 709.0 2341.9 710.5 2341.8 712.0 2341.6 713.5 2341.7 715.0 2341.9 716.5 2342.2 718.0 2342.1 719.5 2341.6 721.0 2341.4 722.5 2341.6 724.0 2341.9 725.5 2341.9 727.0 2341.9 728.5 2341.7 730.0 2341.9 731.5 2342.0 733.0 2342.0 734.5 2342.0 736.0 2341.5 737.5 2341.6 739.0 2342.1 740.5 2342.6 740.5 2343.0ZM749.5 2343.0L749.5 2342.6 751.0 2342.3 752.5 2341.6 754.0 2340.9 755.5 2340.6 757.0 2340.8 758.5 2341.2 760.0 2341.5 761.5 2341.4 763.0 2340.6 764.5 2340.6 766.0 2340.9 767.5 2340.9 769.0 2341.0 770.5 2341.0 772.0 2340.4 773.5 2340.9 775.0 2341.2 776.5 2341.2 778.0 2340.7 779.5 2341.2 781.0 2342.0 782.5 2341.7 784.0 2341.7 785.5 2342.0 787.0 2342.3 788.5 2341.9 790.0 2341.7 791.5 2341.6 793.0 2341.6 794.5 2341.5 796.0 2342.1 797.5 2342.3 799.0 2342.4 800.5 2342.5 802.0 2342.5 803.5 2342.4 805.0 2342.4 806.5 2342.2 808.0 2342.0 809.5 2342.2 809.5 2343.0ZM863.5 2343.0L863.5 2342.7 865.0 2342.5 866.5 2342.2 868.0 2342.2 869.5 2342.4 871.0 2342.7 871.0 2343.0Z" fill="#FF9A0A"/><line x1="239.3" y1="2369.0" x2="950.5" y2="2369.0" stroke="#D4D4D4" stroke-width="0.8"/><rect x="239.3" y="2369.0" width="711.2" height="27.4" fill="#F6F6F6"/><text x="240.9" y="2375.2" font-size="5.6" fill="#333">[0 - 4.85]</text><path d="M287.5 2396.4L287.5 2395.8 289.0 2395.6 290.5 2395.6 292.0 2395.8 293.5 2395.9 295.0 2395.9 296.5 2395.9 298.0 2395.7 299.5 2395.6 301.0 2395.8 302.5 2395.7 304.0 2395.8 305.5 2395.6 307.0 2395.5 308.5 2395.7 310.0 2395.9 310.0 2396.4ZM355.0 2396.4L355.0 2395.9 356.5 2395.1 358.0 2393.8 359.5 2392.6 361.0 2391.6 362.5 2392.6 364.0 2393.5 365.5 2394.6 367.0 2395.5 367.0 2396.4ZM373.0 2396.4L373.0 2395.9 374.5 2395.8 376.0 2396.0 376.0 2396.4ZM397.0 2396.4L397.0 2396.0 398.5 2395.5 400.0 2395.5 401.5 2395.2 403.0 2395.3 404.5 2395.2 406.0 2395.4 407.5 2395.8 409.0 2396.0 410.5 2396.0 412.0 2395.5 413.5 2395.0 415.0 2394.1 416.5 2393.8 418.0 2394.6 419.5 2394.2 421.0 2393.8 422.5 2393.8 424.0 2394.2 425.5 2394.1 427.0 2393.6 428.5 2393.5 430.0 2393.4 431.5 2393.6 433.0 2394.2 434.5 2392.4 436.0 2388.4 437.5 2384.7 439.0 2382.0 440.5 2378.3 442.0 2381.6 443.5 2384.8 445.0 2386.1 446.5 2386.1 448.0 2386.5 449.5 2388.8 451.0 2388.6 452.5 2387.5 454.0 2388.4 455.5 2390.3 457.0 2390.8 458.5 2388.6 460.0 2388.6 461.5 2388.7 463.0 2389.3 464.5 2391.5 466.0 2392.5 467.5 2392.9 469.0 2393.2 470.5 2394.7 472.0 2395.6 473.5 2395.5 475.0 2394.7 476.5 2394.2 478.0 2393.6 479.5 2393.6 481.0 2393.6 482.5 2393.7 484.0 2394.3 485.5 2394.3 487.0 2393.4 488.5 2393.7 490.0 2394.5 491.5 2395.3 493.0 2395.9 494.5 2395.9 496.0 2395.7 497.5 2395.7 499.0 2395.8 500.5 2395.6 502.0 2395.6 503.5 2395.5 505.0 2395.9 506.5 2395.3 508.0 2394.1 509.5 2393.9 511.0 2393.8 512.5 2393.9 514.0 2394.2 515.5 2393.9 517.0 2394.3 518.5 2394.6 520.0 2393.5 521.5 2394.1 523.0 2394.0 524.5 2393.8 526.0 2394.1 527.5 2394.4 529.0 2394.0 530.5 2393.7 532.0 2393.4 533.5 2393.8 535.0 2394.4 536.5 2395.2 538.0 2395.7 538.0 2396.4ZM542.5 2396.4L542.5 2395.7 544.0 2394.5 545.5 2393.9 547.0 2393.0 548.5 2392.8 550.0 2393.7 551.5 2394.8 553.0 2395.5 554.5 2396.0 554.5 2396.4ZM574.0 2396.4L574.0 2395.9 575.5 2395.1 577.0 2394.2 578.5 2392.5 580.0 2390.3 581.5 2389.3 583.0 2389.4 584.5 2390.2 586.0 2391.0 587.5 2392.4 589.0 2394.2 590.5 2395.5 592.0 2395.4 593.5 2395.3 595.0 2395.0 596.5 2395.0 598.0 2395.1 599.5 2395.5 601.0 2395.4 602.5 2394.9 604.0 2395.3 605.5 2395.4 607.0 2395.8 607.0 2396.4ZM611.5 2396.4L611.5 2395.6 613.0 2395.0 614.5 2394.4 616.0 2393.9 617.5 2394.6 619.0 2394.5 620.5 2394.1 622.0 2394.9 623.5 2394.9 625.0 2395.3 626.5 2394.9 628.0 2394.7 629.5 2394.9 631.0 2394.5 632.5 2394.5 634.0 2394.0 635.5 2394.9 637.0 2395.6 638.5 2395.7 640.0 2395.0 641.5 2393.9 643.0 2392.6 644.5 2392.3 646.0 2393.3 647.5 2394.7 649.0 2395.4 650.5 2396.0 652.0 2395.6 653.5 2394.9 655.0 2394.1 656.5 2394.2 658.0 2394.4 659.5 2393.9 661.0 2394.1 662.5 2393.8 664.0 2394.1 665.5 2393.3 667.0 2393.9 668.5 2394.1 670.0 2393.5 671.5 2393.1 673.0 2393.7 674.5 2394.0 676.0 2395.1 677.5 2395.3 679.0 2393.7 680.5 2391.3 682.0 2388.2 683.5 2384.7 685.0 2381.7 686.5 2380.9 688.0 2383.8 689.5 2386.7 691.0 2389.7 692.5 2389.8 694.0 2389.0 695.5 2388.7 697.0 2390.7 698.5 2391.9 700.0 2393.8 701.5 2394.6 703.0 2395.4 704.5 2396.0 704.5 2396.4ZM710.5 2396.4L710.5 2395.8 712.0 2395.9 713.5 2395.7 715.0 2395.7 716.5 2395.7 718.0 2395.7 719.5 2395.5 721.0 2395.5 722.5 2395.6 724.0 2395.7 725.5 2395.8 727.0 2395.7 728.5 2395.7 730.0 2395.9 730.0 2396.4ZM733.0 2396.4L733.0 2395.9 734.5 2395.4 736.0 2394.5 737.5 2393.4 739.0 2393.2 740.5 2393.7 742.0 2394.6 743.5 2395.5 745.0 2396.1 745.0 2396.4ZM754.0 2396.4L754.0 2395.9 755.5 2394.9 757.0 2394.0 758.5 2392.8 760.0 2392.2 761.5 2392.9 763.0 2394.3 764.5 2395.3 766.0 2396.0 766.0 2396.4ZM775.0 2396.4L775.0 2396.1 776.5 2395.9 778.0 2395.7 779.5 2395.7 781.0 2395.8 782.5 2396.0 782.5 2396.4Z" fill="#999999"/><line x1="239.3" y1="2396.4" x2="950.5" y2="2396.4" stroke="#BDBDBD" stroke-width="0.9"/><rect x="239.3" y="2396.4" width="711.2" height="27.9" fill="#F6F6F6"/><text x="240.9" y="2402.6" font-size="5.6" fill="#333">[0 - 4.85]</text><path d="M301.0 2424.3L301.0 2423.6 302.5 2423.3 304.0 2423.0 305.5 2423.1 307.0 2423.5 308.5 2423.7 308.5 2424.3ZM347.5 2424.3L347.5 2423.5 349.0 2422.7 350.5 2422.1 352.0 2422.1 353.5 2422.5 355.0 2422.8 356.5 2422.4 358.0 2422.2 359.5 2422.0 361.0 2421.8 362.5 2421.8 364.0 2421.8 365.5 2422.3 367.0 2422.8 368.5 2423.7 368.5 2424.3ZM409.0 2424.3L409.0 2423.9 410.5 2423.3 412.0 2423.0 413.5 2423.2 415.0 2423.2 416.5 2423.1 418.0 2423.0 419.5 2423.5 421.0 2423.6 422.5 2423.9 424.0 2423.2 425.5 2422.2 427.0 2421.1 428.5 2420.3 430.0 2421.0 431.5 2421.4 433.0 2422.8 434.5 2421.0 436.0 2418.6 437.5 2415.8 439.0 2413.0 440.5 2412.8 442.0 2412.8 443.5 2414.4 445.0 2416.1 446.5 2416.2 448.0 2416.8 449.5 2417.0 451.0 2417.2 452.5 2417.7 454.0 2418.3 455.5 2420.7 457.0 2419.4 458.5 2417.1 460.0 2414.4 461.5 2414.7 463.0 2414.9 464.5 2416.8 466.0 2419.4 467.5 2421.4 469.0 2422.1 470.5 2423.2 472.0 2423.6 472.0 2424.3ZM484.0 2424.3L484.0 2423.5 485.5 2423.2 487.0 2423.2 488.5 2422.9 490.0 2422.9 491.5 2423.1 493.0 2423.3 494.5 2423.9 496.0 2423.6 497.5 2423.3 499.0 2423.3 500.5 2423.1 502.0 2423.3 503.5 2423.1 505.0 2422.7 506.5 2423.3 508.0 2423.3 509.5 2423.0 511.0 2423.1 512.5 2422.8 514.0 2422.8 515.5 2423.4 517.0 2423.3 518.5 2423.1 520.0 2423.2 521.5 2423.2 523.0 2423.3 524.5 2423.4 526.0 2423.3 527.5 2423.1 529.0 2423.2 530.5 2423.4 532.0 2423.9 532.0 2424.3ZM541.0 2424.3L541.0 2423.9 542.5 2423.3 544.0 2422.6 545.5 2421.4 547.0 2421.0 548.5 2421.2 550.0 2422.6 551.5 2423.4 553.0 2423.9 553.0 2424.3ZM560.5 2424.3L560.5 2423.9 562.0 2423.4 563.5 2422.9 565.0 2422.8 566.5 2422.3 568.0 2422.1 569.5 2422.5 571.0 2422.8 572.5 2422.5 574.0 2422.1 575.5 2422.0 577.0 2422.4 578.5 2422.5 580.0 2422.7 581.5 2422.8 583.0 2422.6 584.5 2422.6 586.0 2422.7 587.5 2422.6 589.0 2423.2 590.5 2423.8 592.0 2423.5 593.5 2423.5 595.0 2423.3 596.5 2423.3 598.0 2423.3 599.5 2423.5 601.0 2423.4 602.5 2423.2 604.0 2423.0 605.5 2423.2 607.0 2423.4 608.5 2423.6 610.0 2423.5 611.5 2423.4 613.0 2423.3 614.5 2422.6 616.0 2422.2 617.5 2422.3 619.0 2423.0 620.5 2423.4 622.0 2423.9 622.0 2424.3ZM626.5 2424.3L626.5 2424.0 628.0 2423.3 629.5 2422.7 631.0 2422.0 632.5 2422.1 634.0 2422.0 635.5 2422.0 637.0 2422.0 638.5 2421.9 640.0 2422.5 641.5 2421.7 643.0 2422.1 644.5 2421.8 646.0 2422.2 647.5 2421.9 649.0 2422.3 650.5 2423.4 652.0 2423.7 653.5 2423.3 655.0 2422.7 656.5 2422.6 658.0 2422.1 659.5 2421.7 661.0 2422.0 662.5 2422.5 664.0 2422.3 665.5 2422.1 667.0 2421.3 668.5 2421.5 670.0 2421.5 671.5 2422.2 673.0 2422.2 674.5 2423.0 676.0 2423.6 677.5 2422.5 679.0 2420.7 680.5 2420.0 682.0 2419.2 683.5 2419.5 685.0 2421.4 686.5 2420.4 688.0 2417.6 689.5 2415.5 691.0 2413.0 692.5 2413.3 694.0 2416.4 695.5 2418.1 697.0 2420.6 698.5 2422.0 700.0 2422.0 701.5 2422.4 703.0 2423.4 704.5 2423.9 704.5 2424.3ZM712.0 2424.3L712.0 2423.6 713.5 2423.5 715.0 2423.5 716.5 2423.3 718.0 2423.4 719.5 2423.0 721.0 2423.0 722.5 2423.0 724.0 2423.1 725.5 2423.1 727.0 2423.0 728.5 2423.3 730.0 2423.2 731.5 2423.1 733.0 2423.0 734.5 2423.3 736.0 2423.1 737.5 2423.3 739.0 2423.3 740.5 2423.4 742.0 2423.2 743.5 2423.6 745.0 2423.8 745.0 2424.3ZM751.0 2424.3L751.0 2424.0 752.5 2423.5 754.0 2422.5 755.5 2421.1 757.0 2420.9 758.5 2420.9 760.0 2421.2 761.5 2422.5 763.0 2423.4 763.0 2424.3ZM805.0 2424.3L805.0 2423.9 806.5 2423.7 808.0 2423.6 809.5 2423.6 811.0 2423.8 811.0 2424.3Z" fill="#0000A6"/><line x1="239.3" y1="2424.3" x2="950.5" y2="2424.3" stroke="#6A6AE6" stroke-width="1.3"/><rect x="239.3" y="2424.3" width="711.2" height="28.3" fill="#F6F6F6"/><text x="240.9" y="2430.5" font-size="5.6" fill="#333">[0 - 4.85]</text><path d="M287.5 2452.6L287.5 2452.2 289.0 2452.0 290.5 2452.0 292.0 2452.0 293.5 2452.0 295.0 2451.9 296.5 2452.0 298.0 2452.2 298.0 2452.6ZM304.0 2452.6L304.0 2452.1 305.5 2451.9 307.0 2451.8 308.5 2451.9 310.0 2452.1 310.0 2452.6ZM322.0 2452.6L322.0 2452.2 323.5 2452.1 325.0 2451.8 326.5 2451.7 328.0 2451.6 329.5 2451.8 331.0 2451.6 332.5 2452.0 334.0 2451.8 335.5 2452.0 335.5 2452.6ZM350.5 2452.6L350.5 2452.0 352.0 2451.3 353.5 2450.8 355.0 2450.5 356.5 2450.8 358.0 2451.0 359.5 2450.8 361.0 2450.9 362.5 2450.3 364.0 2450.8 365.5 2450.5 367.0 2450.9 368.5 2450.7 370.0 2450.6 371.5 2450.1 373.0 2450.6 374.5 2450.7 376.0 2451.3 377.5 2452.0 377.5 2452.6ZM391.0 2452.6L391.0 2452.2 392.5 2451.9 394.0 2451.8 395.5 2451.7 397.0 2451.8 398.5 2451.7 400.0 2451.8 401.5 2452.0 403.0 2452.1 403.0 2452.6ZM410.5 2452.6L410.5 2451.7 412.0 2450.5 413.5 2448.2 415.0 2446.9 416.5 2446.9 418.0 2448.0 419.5 2448.7 421.0 2448.5 422.5 2447.5 424.0 2446.2 425.5 2447.4 427.0 2448.3 428.5 2449.0 430.0 2448.6 431.5 2448.0 433.0 2447.4 434.5 2448.2 436.0 2446.1 437.5 2444.7 439.0 2446.8 440.5 2446.3 442.0 2446.0 443.5 2446.8 445.0 2446.5 446.5 2443.4 448.0 2442.9 449.5 2445.8 451.0 2446.7 452.5 2444.7 454.0 2446.0 455.5 2441.3 457.0 2438.7 458.5 2438.9 460.0 2439.5 461.5 2442.8 463.0 2446.0 464.5 2445.3 466.0 2444.5 467.5 2446.6 469.0 2448.1 470.5 2450.1 472.0 2449.9 473.5 2450.6 475.0 2451.4 476.5 2452.1 476.5 2452.6ZM481.0 2452.6L481.0 2452.2 482.5 2452.1 484.0 2451.8 485.5 2451.8 487.0 2452.0 488.5 2451.9 490.0 2451.9 491.5 2452.0 491.5 2452.6ZM494.5 2452.6L494.5 2451.8 496.0 2450.6 497.5 2449.4 499.0 2448.6 500.5 2448.9 502.0 2449.8 503.5 2450.7 505.0 2451.8 506.5 2451.5 508.0 2451.2 509.5 2450.8 511.0 2450.3 512.5 2450.3 514.0 2449.9 515.5 2450.5 517.0 2450.7 518.5 2451.3 520.0 2450.2 521.5 2450.4 523.0 2450.2 524.5 2450.3 526.0 2450.6 527.5 2450.9 529.0 2451.2 530.5 2451.5 532.0 2451.9 533.5 2451.5 535.0 2451.6 536.5 2451.8 538.0 2451.6 539.5 2451.6 541.0 2451.6 542.5 2451.6 544.0 2451.6 545.5 2451.6 547.0 2451.6 548.5 2451.4 550.0 2451.6 551.5 2451.4 553.0 2451.5 554.5 2451.4 556.0 2451.4 557.5 2451.4 559.0 2451.3 560.5 2451.4 562.0 2451.1 563.5 2451.5 565.0 2451.6 566.5 2451.3 568.0 2451.0 569.5 2451.2 571.0 2450.9 572.5 2450.4 574.0 2450.3 575.5 2450.3 577.0 2450.6 578.5 2450.0 580.0 2450.1 581.5 2450.1 583.0 2450.2 584.5 2449.7 586.0 2449.8 587.5 2450.2 589.0 2449.6 590.5 2449.6 592.0 2450.0 593.5 2450.0 595.0 2449.8 596.5 2449.9 598.0 2449.9 599.5 2450.0 601.0 2450.9 602.5 2450.3 604.0 2449.9 605.5 2449.9 607.0 2450.5 608.5 2449.7 610.0 2450.1 611.5 2450.2 613.0 2449.8 614.5 2451.5 616.0 2452.2 616.0 2452.6ZM619.0 2452.6L619.0 2451.8 620.5 2450.5 622.0 2448.9 623.5 2448.7 625.0 2449.5 626.5 2449.0 628.0 2449.0 629.5 2448.0 631.0 2448.0 632.5 2447.3 634.0 2447.6 635.5 2448.1 637.0 2448.5 638.5 2449.2 640.0 2449.9 641.5 2448.3 643.0 2448.8 644.5 2448.9 646.0 2449.3 647.5 2450.2 649.0 2449.6 650.5 2449.6 652.0 2449.3 653.5 2449.0 655.0 2449.2 656.5 2449.4 658.0 2447.9 659.5 2449.0 661.0 2448.3 662.5 2448.0 664.0 2448.7 665.5 2448.5 667.0 2448.3 668.5 2447.8 670.0 2448.7 671.5 2448.4 673.0 2449.3 674.5 2447.3 676.0 2446.1 677.5 2445.4 679.0 2445.1 680.5 2447.1 682.0 2448.2 683.5 2448.5 685.0 2446.3 686.5 2445.5 688.0 2447.7 689.5 2444.9 691.0 2438.9 692.5 2435.6 694.0 2431.0 695.5 2434.2 697.0 2437.0 698.5 2439.9 700.0 2445.2 701.5 2443.9 703.0 2445.2 704.5 2448.0 706.0 2449.4 707.5 2450.7 709.0 2451.4 710.5 2450.0 712.0 2448.9 713.5 2448.4 715.0 2449.0 716.5 2450.4 718.0 2451.2 719.5 2452.1 719.5 2452.6ZM722.5 2452.6L722.5 2451.6 724.0 2450.3 725.5 2448.8 727.0 2449.1 728.5 2448.7 730.0 2449.0 731.5 2447.7 733.0 2448.9 734.5 2448.6 736.0 2448.5 737.5 2448.4 739.0 2449.5 740.5 2448.2 742.0 2449.7 743.5 2451.2 745.0 2452.3 745.0 2452.6ZM751.0 2452.6L751.0 2452.1 752.5 2451.7 754.0 2451.1 755.5 2450.9 757.0 2451.0 758.5 2451.0 760.0 2450.7 761.5 2450.6 763.0 2450.9 764.5 2451.4 766.0 2451.0 767.5 2451.5 769.0 2451.9 769.0 2452.6ZM776.5 2452.6L776.5 2452.0 778.0 2451.9 779.5 2451.9 781.0 2452.0 782.5 2452.2 782.5 2452.6ZM788.5 2452.6L788.5 2451.9 790.0 2451.3 791.5 2451.1 793.0 2451.4 794.5 2451.7 796.0 2451.6 797.5 2451.4 799.0 2451.7 800.5 2451.3 802.0 2451.3 803.5 2450.9 805.0 2451.4 806.5 2451.3 808.0 2451.5 809.5 2451.1 811.0 2451.6 812.5 2452.0 812.5 2452.6Z" fill="#FF9A0A"/></g><g clip-path="url(#clipR)"><line x1="1173.4" y1="2036.9" x2="1884.3" y2="2036.9" stroke="#D4D4D4" stroke-width="0.8"/><rect x="1173.4" y="2036.9" width="710.9" height="27.3" fill="#F6F6F6"/><text x="1175" y="2043.1" font-size="5.6" fill="#333">[0 - 2.67]</text><path d="M1188.0 2064.2L1188.0 2063.5 1189.5 2062.8 1191.0 2062.2 1192.5 2062.2 1194.0 2062.5 1195.5 2061.7 1197.0 2062.5 1198.5 2062.5 1200.0 2061.9 1201.5 2062.5 1203.0 2063.4 1203.0 2064.2ZM1207.5 2064.2L1207.5 2063.5 1209.0 2062.3 1210.5 2060.4 1212.0 2057.9 1213.5 2054.8 1215.0 2052.4 1216.5 2051.8 1218.0 2052.7 1219.5 2055.1 1221.0 2059.3 1222.5 2061.2 1224.0 2062.8 1225.5 2063.5 1225.5 2064.2ZM1233.0 2064.2L1233.0 2063.4 1234.5 2062.5 1236.0 2061.1 1237.5 2058.9 1239.0 2056.3 1240.5 2054.3 1242.0 2053.9 1243.5 2055.3 1245.0 2057.8 1246.5 2059.8 1248.0 2061.8 1249.5 2063.1 1251.0 2063.4 1252.5 2063.2 1254.0 2063.0 1255.5 2062.9 1257.0 2063.0 1258.5 2063.3 1260.0 2062.9 1261.5 2061.5 1263.0 2059.9 1264.5 2058.8 1266.0 2059.0 1267.5 2060.6 1269.0 2062.4 1270.5 2063.3 1272.0 2063.2 1273.5 2063.0 1275.0 2063.0 1276.5 2063.0 1278.0 2062.7 1279.5 2063.0 1281.0 2062.7 1282.5 2063.4 1282.5 2064.2ZM1333.5 2064.2L1333.5 2063.6 1335.0 2063.5 1336.5 2063.4 1338.0 2063.6 1339.5 2063.9 1339.5 2064.2ZM1350.0 2064.2L1350.0 2063.7 1351.5 2063.7 1353.0 2063.7 1354.5 2063.5 1356.0 2063.5 1357.5 2063.5 1359.0 2063.5 1360.5 2063.5 1362.0 2063.5 1363.5 2063.7 1363.5 2064.2ZM1369.5 2064.2L1369.5 2063.4 1371.0 2062.6 1372.5 2060.8 1374.0 2058.4 1375.5 2056.7 1377.0 2056.5 1378.5 2055.1 1380.0 2057.5 1381.5 2058.6 1383.0 2060.4 1384.5 2062.1 1386.0 2059.8 1387.5 2057.8 1389.0 2057.5 1390.5 2058.3 1392.0 2059.6 1393.5 2061.5 1395.0 2063.2 1396.5 2063.6 1398.0 2062.2 1399.5 2061.3 1401.0 2061.7 1402.5 2061.5 1404.0 2060.9 1405.5 2061.7 1407.0 2061.9 1408.5 2061.7 1410.0 2061.5 1411.5 2060.5 1413.0 2058.3 1414.5 2056.1 1416.0 2054.1 1417.5 2053.4 1419.0 2056.4 1420.5 2057.2 1422.0 2056.6 1423.5 2058.3 1425.0 2059.7 1426.5 2061.4 1428.0 2062.8 1429.5 2063.6 1429.5 2064.2ZM1497.0 2064.2L1497.0 2063.8 1498.5 2063.7 1500.0 2063.6 1501.5 2063.4 1503.0 2063.3 1504.5 2063.3 1506.0 2063.5 1507.5 2063.8 1507.5 2064.2ZM1522.5 2064.2L1522.5 2063.2 1524.0 2061.8 1525.5 2059.7 1527.0 2058.9 1528.5 2057.8 1530.0 2058.2 1531.5 2060.5 1533.0 2062.2 1534.5 2063.3 1536.0 2063.5 1537.5 2062.8 1539.0 2061.6 1540.5 2061.1 1542.0 2061.5 1543.5 2061.9 1545.0 2063.0 1546.5 2063.7 1546.5 2064.2ZM1549.5 2064.2L1549.5 2063.8 1551.0 2063.4 1552.5 2062.9 1554.0 2063.0 1555.5 2063.0 1557.0 2063.6 1557.0 2064.2ZM1572.0 2064.2L1572.0 2063.6 1573.5 2063.0 1575.0 2062.8 1576.5 2063.2 1578.0 2063.2 1579.5 2063.0 1581.0 2062.7 1582.5 2063.0 1584.0 2062.9 1585.5 2063.1 1587.0 2063.3 1588.5 2063.3 1590.0 2063.1 1591.5 2063.2 1593.0 2063.3 1594.5 2063.7 1594.5 2064.2ZM1612.5 2064.2L1612.5 2063.6 1614.0 2062.7 1615.5 2060.9 1617.0 2058.6 1618.5 2058.2 1620.0 2058.9 1621.5 2060.1 1623.0 2061.9 1624.5 2062.6 1626.0 2062.0 1627.5 2061.5 1629.0 2062.1 1630.5 2062.9 1632.0 2061.6 1633.5 2060.1 1635.0 2057.9 1636.5 2056.5 1638.0 2056.0 1639.5 2055.8 1641.0 2057.1 1642.5 2060.0 1644.0 2061.6 1645.5 2063.0 1647.0 2063.6 1647.0 2064.2ZM1654.5 2064.2L1654.5 2063.5 1656.0 2063.1 1657.5 2063.1 1659.0 2063.4 1660.5 2063.2 1662.0 2063.2 1663.5 2063.3 1665.0 2063.2 1666.5 2062.9 1668.0 2063.3 1669.5 2062.7 1671.0 2062.7 1672.5 2063.1 1674.0 2063.8 1674.0 2064.2ZM1681.5 2064.2L1681.5 2063.6 1683.0 2063.1 1684.5 2062.7 1686.0 2062.6 1687.5 2062.9 1689.0 2063.0 1690.5 2062.7 1692.0 2062.8 1693.5 2062.6 1695.0 2062.9 1696.5 2062.8 1698.0 2063.1 1699.5 2063.1 1701.0 2063.2 1702.5 2062.8 1704.0 2062.9 1705.5 2062.7 1707.0 2062.9 1708.5 2063.3 1710.0 2063.8 1711.5 2063.9 1713.0 2063.3 1714.5 2062.5 1716.0 2060.9 1717.5 2060.5 1719.0 2060.2 1720.5 2061.7 1722.0 2062.5 1723.5 2063.4 1723.5 2064.2ZM1731.0 2064.2L1731.0 2063.8 1732.5 2063.0 1734.0 2062.0 1735.5 2060.5 1737.0 2060.0 1738.5 2060.5 1740.0 2061.6 1741.5 2063.0 1743.0 2063.7 1744.5 2063.8 1746.0 2063.1 1747.5 2062.6 1749.0 2062.8 1750.5 2062.6 1752.0 2062.6 1753.5 2062.8 1755.0 2062.8 1756.5 2062.4 1758.0 2062.8 1759.5 2062.6 1761.0 2062.7 1762.5 2062.9 1764.0 2063.0 1765.5 2063.1 1767.0 2063.5 1768.5 2063.8 1770.0 2063.4 1771.5 2062.9 1773.0 2062.8 1774.5 2062.9 1776.0 2062.8 1777.5 2063.0 1779.0 2063.0 1780.5 2063.3 1782.0 2062.1 1783.5 2059.8 1785.0 2056.4 1786.5 2052.8 1788.0 2050.8 1789.5 2048.1 1791.0 2047.6 1792.5 2050.9 1794.0 2056.3 1795.5 2059.0 1797.0 2061.5 1798.5 2062.8 1800.0 2063.3 1801.5 2062.9 1803.0 2062.6 1804.5 2062.8 1806.0 2063.0 1807.5 2062.9 1809.0 2063.1 1810.5 2063.3 1812.0 2062.8 1813.5 2062.9 1815.0 2062.9 1816.5 2063.0 1818.0 2062.9 1819.5 2063.2 1821.0 2063.7 1822.5 2063.4 1824.0 2062.4 1825.5 2060.5 1827.0 2057.5 1828.5 2053.3 1830.0 2051.2 1831.5 2048.1 1833.0 2050.8 1834.5 2050.8 1836.0 2053.6 1837.5 2055.1 1839.0 2056.6 1840.5 2058.5 1842.0 2061.3 1843.5 2062.6 1845.0 2063.5 1845.0 2064.2ZM1855.5 2064.2L1855.5 2063.8 1857.0 2063.3 1858.5 2062.5 1860.0 2062.2 1861.5 2061.7 1863.0 2062.0 1864.5 2062.6 1866.0 2063.4 1866.0 2064.2Z" fill="#999999"/><line x1="1173.4" y1="2064.2" x2="1884.3" y2="2064.2" stroke="#BDBDBD" stroke-width="0.9"/><rect x="1173.4" y="2064.2" width="710.9" height="27.9" fill="#F6F6F6"/><text x="1175" y="2070.4" font-size="5.6" fill="#333">[0 - 2.67]</text><path d="M1170.0 2092.1L1170.0 2091.1 1171.5 2090.4 1173.0 2089.5 1174.5 2089.4 1176.0 2089.6 1177.5 2090.2 1179.0 2089.9 1180.5 2089.9 1182.0 2090.1 1183.5 2089.8 1185.0 2089.3 1186.5 2089.8 1188.0 2089.5 1189.5 2088.9 1191.0 2089.2 1192.5 2089.4 1194.0 2090.2 1195.5 2090.2 1197.0 2089.9 1198.5 2090.0 1200.0 2090.3 1201.5 2090.6 1203.0 2091.5 1203.0 2092.1ZM1207.5 2092.1L1207.5 2091.7 1209.0 2091.2 1210.5 2090.5 1212.0 2090.4 1213.5 2089.6 1215.0 2089.5 1216.5 2089.1 1218.0 2089.7 1219.5 2089.6 1221.0 2090.0 1222.5 2090.4 1224.0 2089.6 1225.5 2090.0 1227.0 2090.0 1228.5 2089.8 1230.0 2089.7 1231.5 2090.2 1233.0 2090.3 1234.5 2090.1 1236.0 2088.8 1237.5 2087.1 1239.0 2083.7 1240.5 2079.8 1242.0 2078.2 1243.5 2079.1 1245.0 2082.7 1246.5 2083.7 1248.0 2087.7 1249.5 2089.5 1251.0 2089.0 1252.5 2089.0 1254.0 2089.3 1255.5 2088.6 1257.0 2089.2 1258.5 2089.4 1260.0 2089.1 1261.5 2089.7 1263.0 2089.7 1264.5 2088.3 1266.0 2087.2 1267.5 2087.1 1269.0 2088.0 1270.5 2089.1 1272.0 2090.6 1273.5 2089.6 1275.0 2089.0 1276.5 2089.4 1278.0 2090.2 1279.5 2089.3 1281.0 2088.9 1282.5 2088.9 1284.0 2088.1 1285.5 2089.4 1287.0 2090.1 1288.5 2090.1 1290.0 2091.1 1290.0 2092.1ZM1294.5 2092.1L1294.5 2091.7 1296.0 2091.6 1297.5 2091.6 1299.0 2091.3 1300.5 2091.5 1302.0 2091.4 1303.5 2091.5 1305.0 2091.3 1306.5 2091.5 1308.0 2091.4 1309.5 2091.5 1311.0 2091.3 1312.5 2091.4 1314.0 2091.4 1315.5 2091.4 1317.0 2091.4 1318.5 2091.6 1320.0 2091.4 1321.5 2091.3 1323.0 2091.3 1324.5 2091.2 1326.0 2091.3 1327.5 2091.4 1329.0 2091.3 1330.5 2091.4 1332.0 2091.5 1333.5 2091.2 1335.0 2091.3 1336.5 2091.3 1338.0 2091.6 1339.5 2091.5 1341.0 2091.7 1341.0 2092.1ZM1369.5 2092.1L1369.5 2091.7 1371.0 2090.9 1372.5 2089.7 1374.0 2087.5 1375.5 2086.3 1377.0 2086.4 1378.5 2087.4 1380.0 2088.8 1381.5 2090.5 1383.0 2089.3 1384.5 2087.7 1386.0 2087.6 1387.5 2087.4 1389.0 2088.0 1390.5 2087.4 1392.0 2088.6 1393.5 2086.3 1395.0 2082.2 1396.5 2077.0 1398.0 2071.6 1399.5 2073.1 1401.0 2072.9 1402.5 2075.9 1404.0 2080.9 1405.5 2084.7 1407.0 2087.5 1408.5 2088.5 1410.0 2089.7 1411.5 2088.2 1413.0 2086.6 1414.5 2085.2 1416.0 2083.1 1417.5 2083.1 1419.0 2084.0 1420.5 2086.6 1422.0 2088.7 1423.5 2090.2 1425.0 2091.3 1426.5 2091.3 1428.0 2091.3 1429.5 2091.2 1431.0 2091.3 1432.5 2091.5 1434.0 2091.6 1435.5 2091.5 1437.0 2091.6 1438.5 2091.4 1440.0 2091.5 1441.5 2091.3 1443.0 2091.2 1444.5 2091.4 1446.0 2091.4 1447.5 2091.4 1449.0 2091.5 1450.5 2091.5 1452.0 2091.3 1453.5 2091.4 1455.0 2091.3 1456.5 2091.3 1458.0 2091.3 1459.5 2091.4 1461.0 2091.3 1462.5 2091.3 1464.0 2091.2 1465.5 2091.6 1467.0 2091.5 1468.5 2091.4 1470.0 2091.5 1471.5 2091.2 1473.0 2091.2 1474.5 2091.2 1476.0 2091.3 1477.5 2091.6 1479.0 2091.5 1480.5 2091.5 1482.0 2091.4 1483.5 2091.4 1485.0 2091.3 1486.5 2091.5 1488.0 2091.6 1489.5 2091.5 1491.0 2091.3 1492.5 2091.4 1494.0 2091.4 1495.5 2091.3 1497.0 2091.1 1498.5 2091.4 1500.0 2091.2 1501.5 2091.2 1503.0 2091.2 1504.5 2091.5 1506.0 2091.5 1507.5 2091.6 1509.0 2091.4 1510.5 2091.2 1512.0 2091.3 1513.5 2091.5 1515.0 2091.2 1516.5 2091.4 1516.5 2092.1ZM1519.5 2092.1L1519.5 2091.6 1521.0 2090.7 1522.5 2088.8 1524.0 2087.8 1525.5 2085.8 1527.0 2086.0 1528.5 2087.6 1530.0 2089.1 1531.5 2088.6 1533.0 2088.4 1534.5 2088.8 1536.0 2088.3 1537.5 2088.7 1539.0 2089.0 1540.5 2087.6 1542.0 2088.3 1543.5 2089.1 1545.0 2088.3 1546.5 2088.1 1548.0 2088.5 1549.5 2089.3 1551.0 2088.7 1552.5 2088.4 1554.0 2089.1 1555.5 2087.5 1557.0 2088.3 1558.5 2088.9 1560.0 2088.7 1561.5 2088.6 1563.0 2088.2 1564.5 2089.1 1566.0 2088.0 1567.5 2088.3 1569.0 2088.5 1570.5 2088.6 1572.0 2088.1 1573.5 2089.0 1575.0 2089.1 1576.5 2089.4 1578.0 2089.4 1579.5 2088.7 1581.0 2088.3 1582.5 2087.8 1584.0 2088.7 1585.5 2087.9 1587.0 2088.5 1588.5 2087.4 1590.0 2088.8 1591.5 2088.1 1593.0 2090.0 1594.5 2091.5 1594.5 2092.1ZM1612.5 2092.1L1612.5 2091.0 1614.0 2088.6 1615.5 2086.1 1617.0 2083.7 1618.5 2084.3 1620.0 2084.1 1621.5 2086.2 1623.0 2087.3 1624.5 2086.9 1626.0 2087.0 1627.5 2086.4 1629.0 2086.0 1630.5 2085.2 1632.0 2085.5 1633.5 2084.7 1635.0 2085.9 1636.5 2085.2 1638.0 2086.5 1639.5 2086.1 1641.0 2085.3 1642.5 2085.1 1644.0 2087.7 1645.5 2088.2 1647.0 2089.7 1648.5 2091.0 1650.0 2091.6 1651.5 2090.9 1653.0 2090.1 1654.5 2089.4 1656.0 2088.3 1657.5 2088.3 1659.0 2089.2 1660.5 2089.1 1662.0 2089.5 1663.5 2089.4 1665.0 2089.1 1666.5 2088.6 1668.0 2088.8 1669.5 2088.8 1671.0 2089.9 1672.5 2089.6 1674.0 2089.4 1675.5 2088.7 1677.0 2088.8 1678.5 2088.8 1680.0 2089.7 1681.5 2087.7 1683.0 2085.8 1684.5 2086.4 1686.0 2086.5 1687.5 2088.2 1689.0 2090.2 1690.5 2090.9 1692.0 2090.0 1693.5 2089.9 1695.0 2090.0 1696.5 2089.7 1698.0 2089.6 1699.5 2089.2 1701.0 2089.9 1702.5 2089.0 1704.0 2088.5 1705.5 2089.1 1707.0 2089.2 1708.5 2088.5 1710.0 2088.8 1711.5 2088.4 1713.0 2089.2 1714.5 2088.4 1716.0 2088.4 1717.5 2089.3 1719.0 2089.6 1720.5 2089.0 1722.0 2088.8 1723.5 2088.7 1725.0 2089.0 1726.5 2089.5 1728.0 2089.2 1729.5 2089.5 1731.0 2089.0 1732.5 2089.4 1734.0 2088.9 1735.5 2089.5 1737.0 2089.2 1738.5 2089.4 1740.0 2090.5 1741.5 2090.9 1743.0 2090.2 1744.5 2088.4 1746.0 2087.3 1747.5 2086.6 1749.0 2086.6 1750.5 2087.6 1752.0 2087.7 1753.5 2088.3 1755.0 2089.4 1756.5 2089.1 1758.0 2089.6 1759.5 2089.0 1761.0 2088.9 1762.5 2087.9 1764.0 2088.0 1765.5 2088.6 1767.0 2088.1 1768.5 2088.1 1770.0 2087.7 1771.5 2088.0 1773.0 2089.0 1774.5 2090.6 1776.0 2091.1 1777.5 2089.6 1779.0 2088.2 1780.5 2086.7 1782.0 2086.4 1783.5 2086.8 1785.0 2087.4 1786.5 2087.7 1788.0 2087.6 1789.5 2087.3 1791.0 2086.6 1792.5 2085.7 1794.0 2087.5 1795.5 2087.9 1797.0 2087.7 1798.5 2086.5 1800.0 2086.4 1801.5 2087.0 1803.0 2088.5 1804.5 2090.8 1806.0 2090.3 1807.5 2090.0 1809.0 2089.3 1810.5 2089.9 1812.0 2089.4 1813.5 2089.6 1815.0 2089.7 1816.5 2089.7 1818.0 2089.5 1819.5 2090.4 1821.0 2089.9 1822.5 2089.9 1824.0 2090.2 1825.5 2089.5 1827.0 2087.7 1828.5 2086.4 1830.0 2084.9 1831.5 2083.9 1833.0 2082.8 1834.5 2084.8 1836.0 2086.8 1837.5 2088.7 1839.0 2090.4 1840.5 2090.0 1842.0 2090.0 1843.5 2089.9 1845.0 2090.4 1846.5 2090.1 1848.0 2090.6 1849.5 2090.7 1851.0 2090.6 1852.5 2090.3 1854.0 2089.8 1855.5 2090.1 1857.0 2090.3 1858.5 2090.3 1860.0 2089.8 1861.5 2089.8 1863.0 2089.7 1864.5 2090.0 1866.0 2090.2 1867.5 2090.1 1869.0 2090.3 1870.5 2090.0 1872.0 2090.4 1873.5 2090.5 1875.0 2090.6 1876.5 2089.8 1878.0 2090.1 1879.5 2090.7 1881.0 2090.5 1882.5 2090.1 1884.0 2090.0 1885.5 2090.5 1887.0 2090.6 1887.0 2092.1Z" fill="#0000A6"/><line x1="1173.4" y1="2092.1" x2="1884.3" y2="2092.1" stroke="#6A6AE6" stroke-width="1.3"/><rect x="1173.4" y="2092.1" width="710.9" height="27.9" fill="#F6F6F6"/><text x="1175" y="2098.3" font-size="5.6" fill="#333">[0 - 2.67]</text><path d="M1171.5 2120.0L1171.5 2119.6 1173.0 2119.0 1174.5 2118.8 1176.0 2118.8 1177.5 2118.9 1179.0 2118.6 1180.5 2118.7 1182.0 2118.8 1183.5 2118.6 1185.0 2118.6 1186.5 2118.6 1188.0 2118.6 1189.5 2118.7 1191.0 2118.5 1192.5 2118.5 1194.0 2118.7 1195.5 2118.6 1197.0 2118.6 1198.5 2118.3 1200.0 2119.0 1201.5 2118.8 1203.0 2118.3 1204.5 2118.6 1206.0 2119.4 1207.5 2119.4 1209.0 2118.5 1210.5 2117.0 1212.0 2115.7 1213.5 2112.6 1215.0 2111.9 1216.5 2110.2 1218.0 2112.2 1219.5 2113.4 1221.0 2115.2 1222.5 2117.7 1224.0 2118.8 1225.5 2119.5 1225.5 2120.0ZM1233.0 2120.0L1233.0 2119.2 1234.5 2117.9 1236.0 2116.5 1237.5 2113.7 1239.0 2111.9 1240.5 2110.1 1242.0 2107.9 1243.5 2109.0 1245.0 2111.8 1246.5 2114.7 1248.0 2117.4 1249.5 2116.6 1251.0 2115.5 1252.5 2114.5 1254.0 2115.3 1255.5 2116.0 1257.0 2115.6 1258.5 2116.5 1260.0 2117.0 1261.5 2117.6 1263.0 2116.2 1264.5 2116.7 1266.0 2116.7 1267.5 2116.8 1269.0 2116.4 1270.5 2117.2 1272.0 2117.1 1273.5 2116.7 1275.0 2116.2 1276.5 2115.3 1278.0 2116.2 1279.5 2116.0 1281.0 2116.7 1282.5 2117.0 1284.0 2117.3 1285.5 2118.8 1285.5 2120.0ZM1351.5 2120.0L1351.5 2119.5 1353.0 2119.1 1354.5 2118.6 1356.0 2118.4 1357.5 2118.9 1359.0 2118.9 1360.5 2118.9 1362.0 2119.2 1363.5 2119.4 1363.5 2120.0ZM1369.5 2120.0L1369.5 2119.6 1371.0 2118.7 1372.5 2117.4 1374.0 2115.3 1375.5 2113.4 1377.0 2113.8 1378.5 2114.4 1380.0 2116.9 1381.5 2117.1 1383.0 2115.2 1384.5 2112.7 1386.0 2112.2 1387.5 2110.0 1389.0 2111.8 1390.5 2113.4 1392.0 2116.1 1393.5 2116.7 1395.0 2117.4 1396.5 2117.7 1398.0 2117.4 1399.5 2116.6 1401.0 2116.3 1402.5 2117.6 1404.0 2117.7 1405.5 2116.9 1407.0 2117.5 1408.5 2117.0 1410.0 2117.5 1411.5 2117.0 1413.0 2114.7 1414.5 2112.9 1416.0 2111.7 1417.5 2111.8 1419.0 2111.5 1420.5 2111.7 1422.0 2113.7 1423.5 2115.8 1425.0 2117.3 1426.5 2118.5 1428.0 2119.4 1428.0 2120.0ZM1453.5 2120.0L1453.5 2119.6 1455.0 2119.3 1456.5 2119.3 1458.0 2119.2 1459.5 2119.2 1461.0 2119.2 1462.5 2119.3 1464.0 2119.4 1465.5 2119.4 1467.0 2119.5 1468.5 2119.5 1470.0 2119.5 1471.5 2119.4 1473.0 2119.1 1474.5 2119.1 1476.0 2119.4 1477.5 2119.6 1477.5 2120.0ZM1495.5 2120.0L1495.5 2119.6 1497.0 2119.4 1498.5 2119.2 1500.0 2119.2 1501.5 2119.4 1501.5 2120.0ZM1519.5 2120.0L1519.5 2119.5 1521.0 2118.8 1522.5 2117.6 1524.0 2115.6 1525.5 2114.1 1527.0 2112.0 1528.5 2111.5 1530.0 2112.5 1531.5 2115.0 1533.0 2116.3 1534.5 2118.1 1536.0 2119.0 1537.5 2118.8 1539.0 2117.5 1540.5 2115.1 1542.0 2113.6 1543.5 2113.5 1545.0 2115.0 1546.5 2116.7 1548.0 2117.0 1549.5 2116.8 1551.0 2117.3 1552.5 2117.8 1554.0 2117.4 1555.5 2117.2 1557.0 2117.4 1558.5 2117.8 1560.0 2117.9 1561.5 2117.7 1563.0 2118.2 1564.5 2118.1 1566.0 2117.7 1567.5 2118.4 1569.0 2118.0 1570.5 2117.7 1572.0 2117.9 1573.5 2117.7 1575.0 2118.1 1576.5 2118.0 1578.0 2117.6 1579.5 2118.2 1581.0 2117.5 1582.5 2116.8 1584.0 2117.3 1585.5 2117.1 1587.0 2117.2 1588.5 2117.4 1590.0 2117.5 1591.5 2117.4 1593.0 2118.2 1594.5 2118.7 1596.0 2119.4 1596.0 2120.0ZM1614.0 2120.0L1614.0 2119.6 1615.5 2118.9 1617.0 2117.7 1618.5 2115.9 1620.0 2114.1 1621.5 2112.9 1623.0 2114.4 1624.5 2116.9 1626.0 2118.3 1627.5 2119.3 1629.0 2119.4 1630.5 2118.3 1632.0 2116.6 1633.5 2114.9 1635.0 2112.0 1636.5 2109.3 1638.0 2108.6 1639.5 2109.6 1641.0 2112.7 1642.5 2114.3 1644.0 2116.9 1645.5 2118.5 1647.0 2118.3 1648.5 2118.2 1650.0 2118.4 1651.5 2118.3 1653.0 2118.6 1654.5 2118.5 1656.0 2118.2 1657.5 2118.4 1659.0 2118.3 1660.5 2118.1 1662.0 2118.3 1663.5 2118.5 1665.0 2118.4 1666.5 2118.4 1668.0 2118.8 1669.5 2118.6 1671.0 2118.5 1672.5 2118.8 1674.0 2118.7 1675.5 2118.8 1677.0 2118.9 1678.5 2119.3 1678.5 2120.0ZM1681.5 2120.0L1681.5 2119.7 1683.0 2119.0 1684.5 2118.1 1686.0 2116.6 1687.5 2115.1 1689.0 2114.6 1690.5 2115.4 1692.0 2117.6 1693.5 2118.7 1695.0 2118.4 1696.5 2117.3 1698.0 2116.5 1699.5 2116.4 1701.0 2117.0 1702.5 2117.9 1704.0 2119.1 1705.5 2119.6 1705.5 2120.0ZM1708.5 2120.0L1708.5 2119.6 1710.0 2119.1 1711.5 2117.8 1713.0 2116.2 1714.5 2113.5 1716.0 2112.0 1717.5 2111.0 1719.0 2111.1 1720.5 2112.0 1722.0 2115.1 1723.5 2117.1 1725.0 2118.3 1726.5 2119.3 1728.0 2119.7 1728.0 2120.0ZM1731.0 2120.0L1731.0 2119.0 1732.5 2117.3 1734.0 2115.9 1735.5 2115.7 1737.0 2116.1 1738.5 2115.9 1740.0 2113.9 1741.5 2114.1 1743.0 2113.7 1744.5 2114.6 1746.0 2115.3 1747.5 2115.2 1749.0 2116.0 1750.5 2116.2 1752.0 2115.1 1753.5 2114.9 1755.0 2114.7 1756.5 2116.2 1758.0 2115.9 1759.5 2116.1 1761.0 2116.6 1762.5 2117.7 1764.0 2118.6 1765.5 2119.6 1765.5 2120.0ZM1780.5 2120.0L1780.5 2119.3 1782.0 2118.4 1783.5 2116.4 1785.0 2112.7 1786.5 2108.9 1788.0 2108.3 1789.5 2105.1 1791.0 2104.9 1792.5 2110.0 1794.0 2111.6 1795.5 2115.4 1797.0 2117.9 1798.5 2118.1 1800.0 2118.1 1801.5 2118.2 1803.0 2118.6 1804.5 2118.4 1806.0 2118.1 1807.5 2118.0 1809.0 2117.7 1810.5 2117.9 1812.0 2118.1 1813.5 2117.8 1815.0 2118.0 1816.5 2117.6 1818.0 2118.1 1819.5 2118.1 1821.0 2118.5 1822.5 2118.3 1824.0 2118.6 1825.5 2117.3 1827.0 2114.8 1828.5 2112.7 1830.0 2108.7 1831.5 2108.4 1833.0 2109.0 1834.5 2110.8 1836.0 2113.8 1837.5 2112.8 1839.0 2111.6 1840.5 2113.0 1842.0 2115.2 1843.5 2117.4 1845.0 2118.4 1846.5 2119.2 1846.5 2120.0ZM1855.5 2120.0L1855.5 2119.5 1857.0 2118.8 1858.5 2118.1 1860.0 2117.5 1861.5 2117.0 1863.0 2117.4 1864.5 2118.3 1866.0 2119.0 1867.5 2119.6 1867.5 2120.0Z" fill="#FF9A0A"/><line x1="1173.4" y1="2144.4" x2="1884.3" y2="2144.4" stroke="#D4D4D4" stroke-width="0.8"/><rect x="1173.4" y="2144.4" width="710.9" height="27.3" fill="#F6F6F6"/><text x="1175" y="2150.6" font-size="5.6" fill="#333">[0 - 5.33]</text><path d="M1209.0 2171.7L1209.0 2171.0 1210.5 2170.6 1212.0 2170.2 1213.5 2170.6 1215.0 2170.7 1216.5 2170.9 1218.0 2170.4 1219.5 2170.4 1221.0 2170.7 1222.5 2170.9 1224.0 2170.8 1225.5 2170.9 1227.0 2170.6 1228.5 2170.6 1230.0 2170.4 1231.5 2170.3 1233.0 2170.5 1234.5 2170.0 1236.0 2170.0 1237.5 2169.9 1239.0 2169.7 1240.5 2169.8 1242.0 2170.2 1243.5 2169.9 1245.0 2170.4 1246.5 2170.3 1248.0 2170.3 1249.5 2169.9 1251.0 2169.5 1252.5 2169.2 1254.0 2169.4 1255.5 2170.1 1257.0 2170.0 1258.5 2170.2 1260.0 2170.5 1261.5 2169.9 1263.0 2169.7 1264.5 2170.2 1266.0 2170.5 1267.5 2170.7 1269.0 2171.3 1270.5 2171.4 1272.0 2171.2 1273.5 2171.1 1275.0 2171.1 1276.5 2171.2 1278.0 2171.2 1279.5 2171.2 1281.0 2171.3 1282.5 2171.1 1284.0 2171.2 1284.0 2171.7ZM1374.0 2171.7L1374.0 2171.3 1375.5 2171.0 1377.0 2170.9 1378.5 2170.6 1380.0 2170.5 1381.5 2170.7 1383.0 2170.7 1384.5 2170.8 1386.0 2170.7 1387.5 2170.8 1389.0 2170.7 1390.5 2170.8 1392.0 2170.5 1393.5 2170.8 1395.0 2170.9 1396.5 2170.7 1398.0 2169.9 1399.5 2169.4 1401.0 2169.4 1402.5 2168.7 1404.0 2168.6 1405.5 2169.4 1407.0 2169.6 1408.5 2169.5 1410.0 2169.9 1411.5 2169.7 1413.0 2169.6 1414.5 2169.4 1416.0 2169.3 1417.5 2169.4 1419.0 2168.6 1420.5 2169.3 1422.0 2169.7 1423.5 2169.0 1425.0 2166.8 1426.5 2166.2 1428.0 2165.8 1429.5 2162.8 1431.0 2160.0 1432.5 2159.1 1434.0 2156.8 1435.5 2159.3 1437.0 2163.0 1438.5 2165.2 1440.0 2164.7 1441.5 2164.9 1443.0 2166.6 1444.5 2165.8 1446.0 2163.7 1447.5 2162.3 1449.0 2161.2 1450.5 2163.6 1452.0 2164.8 1453.5 2165.8 1455.0 2165.5 1456.5 2166.7 1458.0 2163.4 1459.5 2162.9 1461.0 2162.1 1462.5 2162.4 1464.0 2164.3 1465.5 2165.5 1467.0 2161.3 1468.5 2159.5 1470.0 2157.1 1471.5 2159.6 1473.0 2161.2 1474.5 2163.8 1476.0 2167.5 1477.5 2166.3 1479.0 2167.1 1480.5 2168.5 1482.0 2169.7 1483.5 2170.1 1485.0 2168.7 1486.5 2167.7 1488.0 2165.3 1489.5 2163.7 1491.0 2163.7 1492.5 2165.3 1494.0 2166.4 1495.5 2165.0 1497.0 2160.8 1498.5 2158.3 1500.0 2155.1 1501.5 2157.1 1503.0 2159.9 1504.5 2163.6 1506.0 2165.2 1507.5 2164.6 1509.0 2165.0 1510.5 2166.4 1512.0 2168.4 1513.5 2168.0 1515.0 2168.5 1516.5 2169.3 1518.0 2169.1 1519.5 2169.0 1521.0 2168.1 1522.5 2168.4 1524.0 2169.1 1525.5 2168.7 1527.0 2168.7 1528.5 2167.5 1530.0 2166.8 1531.5 2168.6 1533.0 2168.6 1534.5 2169.9 1536.0 2170.9 1537.5 2170.6 1539.0 2170.4 1540.5 2170.3 1542.0 2170.4 1543.5 2170.5 1545.0 2170.2 1546.5 2170.2 1548.0 2170.5 1549.5 2170.6 1551.0 2170.6 1552.5 2170.3 1554.0 2170.3 1555.5 2170.3 1557.0 2170.7 1558.5 2170.5 1560.0 2170.7 1561.5 2170.6 1563.0 2170.9 1564.5 2170.9 1566.0 2170.7 1567.5 2170.8 1569.0 2171.0 1569.0 2171.7ZM1588.5 2171.7L1588.5 2171.4 1590.0 2171.2 1591.5 2171.2 1593.0 2171.1 1594.5 2171.2 1596.0 2171.0 1597.5 2171.1 1599.0 2171.2 1600.5 2171.2 1602.0 2171.0 1603.5 2170.9 1605.0 2170.9 1606.5 2171.1 1608.0 2171.1 1609.5 2171.2 1609.5 2171.7ZM1615.5 2171.7L1615.5 2171.3 1617.0 2170.7 1618.5 2169.9 1620.0 2169.4 1621.5 2169.1 1623.0 2169.5 1624.5 2170.3 1626.0 2171.1 1626.0 2171.7ZM1632.0 2171.7L1632.0 2171.1 1633.5 2170.9 1635.0 2171.0 1636.5 2171.1 1638.0 2170.8 1639.5 2171.0 1641.0 2171.1 1642.5 2171.2 1642.5 2171.7ZM1669.5 2171.7L1669.5 2171.3 1671.0 2171.2 1672.5 2171.2 1674.0 2171.3 1674.0 2171.7ZM1693.5 2171.7L1693.5 2171.3 1695.0 2171.0 1696.5 2171.0 1698.0 2170.9 1699.5 2171.2 1701.0 2171.4 1701.0 2171.7ZM1773.0 2171.7L1773.0 2171.3 1774.5 2171.0 1776.0 2170.8 1777.5 2170.9 1779.0 2171.0 1780.5 2170.9 1782.0 2170.9 1783.5 2171.0 1785.0 2170.9 1786.5 2170.9 1788.0 2171.1 1789.5 2171.2 1791.0 2171.1 1792.5 2171.0 1794.0 2171.1 1795.5 2171.3 1795.5 2171.7ZM1819.5 2171.7L1819.5 2171.2 1821.0 2170.9 1822.5 2170.9 1824.0 2171.0 1825.5 2171.0 1827.0 2171.0 1828.5 2170.9 1830.0 2171.1 1831.5 2171.2 1833.0 2171.2 1834.5 2171.2 1836.0 2171.1 1837.5 2170.9 1839.0 2170.9 1840.5 2171.2 1840.5 2171.7Z" fill="#999999"/><line x1="1173.4" y1="2171.7" x2="1884.3" y2="2171.7" stroke="#BDBDBD" stroke-width="0.9"/><rect x="1173.4" y="2171.7" width="710.9" height="27.8" fill="#F6F6F6"/><text x="1175" y="2177.9" font-size="5.6" fill="#333">[0 - 5.33]</text><path d="M1209.0 2199.5L1209.0 2199.2 1210.5 2198.8 1212.0 2198.6 1213.5 2198.8 1215.0 2199.0 1216.5 2198.9 1218.0 2198.9 1219.5 2199.0 1219.5 2199.5ZM1234.5 2199.5L1234.5 2199.0 1236.0 2198.5 1237.5 2198.1 1239.0 2197.5 1240.5 2197.9 1242.0 2198.2 1243.5 2198.8 1245.0 2199.1 1246.5 2198.4 1248.0 2197.6 1249.5 2198.0 1251.0 2197.8 1252.5 2197.6 1254.0 2197.5 1255.5 2197.6 1257.0 2197.9 1258.5 2197.9 1260.0 2198.3 1261.5 2198.4 1263.0 2197.9 1264.5 2198.1 1266.0 2198.5 1267.5 2199.0 1267.5 2199.5ZM1275.0 2199.5L1275.0 2199.0 1276.5 2198.8 1278.0 2198.8 1279.5 2198.9 1281.0 2199.1 1281.0 2199.5ZM1386.0 2199.5L1386.0 2198.9 1387.5 2198.3 1389.0 2197.5 1390.5 2196.3 1392.0 2197.0 1393.5 2197.2 1395.0 2197.0 1396.5 2197.0 1398.0 2197.5 1399.5 2197.0 1401.0 2197.3 1402.5 2197.0 1404.0 2197.0 1405.5 2196.9 1407.0 2197.2 1408.5 2196.7 1410.0 2197.0 1411.5 2197.1 1413.0 2196.6 1414.5 2196.6 1416.0 2197.1 1417.5 2196.7 1419.0 2197.5 1420.5 2198.6 1422.0 2198.3 1423.5 2196.9 1425.0 2196.0 1426.5 2194.9 1428.0 2194.6 1429.5 2194.7 1431.0 2191.2 1432.5 2188.2 1434.0 2187.2 1435.5 2188.1 1437.0 2189.4 1438.5 2193.7 1440.0 2194.0 1441.5 2194.6 1443.0 2194.4 1444.5 2192.6 1446.0 2191.0 1447.5 2190.1 1449.0 2191.3 1450.5 2193.6 1452.0 2196.0 1453.5 2196.0 1455.0 2192.9 1456.5 2190.4 1458.0 2189.9 1459.5 2188.4 1461.0 2190.6 1462.5 2192.9 1464.0 2195.5 1465.5 2194.2 1467.0 2190.7 1468.5 2189.0 1470.0 2185.9 1471.5 2186.7 1473.0 2189.3 1474.5 2191.3 1476.0 2195.1 1477.5 2196.9 1479.0 2198.4 1480.5 2198.7 1482.0 2198.3 1483.5 2196.8 1485.0 2195.5 1486.5 2195.0 1488.0 2195.3 1489.5 2195.5 1491.0 2195.8 1492.5 2193.9 1494.0 2194.1 1495.5 2193.9 1497.0 2193.9 1498.5 2191.5 1500.0 2190.3 1501.5 2189.6 1503.0 2192.4 1504.5 2193.0 1506.0 2195.4 1507.5 2195.6 1509.0 2196.4 1510.5 2197.3 1512.0 2198.3 1513.5 2197.4 1515.0 2196.2 1516.5 2196.5 1518.0 2196.9 1519.5 2196.4 1521.0 2196.5 1522.5 2197.1 1524.0 2195.8 1525.5 2196.1 1527.0 2196.4 1528.5 2196.5 1530.0 2196.7 1531.5 2196.8 1533.0 2197.3 1534.5 2198.6 1534.5 2199.5ZM1537.5 2199.5L1537.5 2198.9 1539.0 2198.5 1540.5 2198.1 1542.0 2197.9 1543.5 2197.4 1545.0 2197.0 1546.5 2197.3 1548.0 2197.6 1549.5 2198.1 1551.0 2198.2 1552.5 2197.6 1554.0 2197.1 1555.5 2197.1 1557.0 2197.1 1558.5 2198.0 1560.0 2198.9 1560.0 2199.5ZM1572.0 2199.5L1572.0 2198.9 1573.5 2198.6 1575.0 2198.4 1576.5 2198.4 1578.0 2198.1 1579.5 2198.3 1581.0 2198.2 1582.5 2198.3 1584.0 2198.0 1585.5 2198.1 1587.0 2198.1 1588.5 2198.3 1590.0 2198.5 1591.5 2198.5 1593.0 2198.4 1594.5 2198.0 1596.0 2197.8 1597.5 2197.9 1599.0 2197.7 1600.5 2197.9 1602.0 2198.0 1603.5 2197.8 1605.0 2198.0 1606.5 2198.2 1608.0 2197.8 1609.5 2198.1 1611.0 2197.9 1612.5 2197.9 1614.0 2197.6 1615.5 2197.7 1617.0 2198.2 1618.5 2197.9 1620.0 2198.1 1621.5 2197.6 1623.0 2197.2 1624.5 2197.8 1626.0 2198.2 1627.5 2198.2 1629.0 2198.4 1630.5 2198.8 1632.0 2199.1 1632.0 2199.5ZM1635.0 2199.5L1635.0 2198.9 1636.5 2198.6 1638.0 2198.4 1639.5 2198.5 1641.0 2198.9 1642.5 2199.1 1642.5 2199.5ZM1662.0 2199.5L1662.0 2199.0 1663.5 2198.9 1665.0 2199.1 1665.0 2199.5ZM1681.5 2199.5L1681.5 2198.8 1683.0 2198.0 1684.5 2197.5 1686.0 2198.1 1687.5 2198.4 1689.0 2198.2 1690.5 2198.4 1692.0 2198.0 1693.5 2197.8 1695.0 2198.2 1696.5 2198.3 1698.0 2198.2 1699.5 2198.2 1701.0 2197.9 1702.5 2198.5 1704.0 2198.5 1705.5 2198.7 1705.5 2199.5ZM1716.0 2199.5L1716.0 2199.0 1717.5 2199.0 1719.0 2199.0 1720.5 2199.1 1720.5 2199.5ZM1737.0 2199.5L1737.0 2199.1 1738.5 2199.0 1740.0 2198.9 1741.5 2199.2 1741.5 2199.5ZM1753.5 2199.5L1753.5 2199.2 1755.0 2199.0 1756.5 2198.9 1758.0 2199.1 1758.0 2199.5ZM1770.0 2199.5L1770.0 2199.2 1771.5 2198.8 1773.0 2198.8 1774.5 2198.9 1776.0 2198.9 1777.5 2199.0 1779.0 2198.9 1780.5 2198.9 1782.0 2199.0 1783.5 2198.7 1785.0 2198.6 1786.5 2198.6 1788.0 2198.7 1789.5 2198.7 1791.0 2198.8 1792.5 2199.1 1792.5 2199.5ZM1827.0 2199.5L1827.0 2199.0 1828.5 2198.8 1830.0 2198.7 1831.5 2198.9 1833.0 2199.1 1833.0 2199.5Z" fill="#0000A6"/><line x1="1173.4" y1="2199.5" x2="1884.3" y2="2199.5" stroke="#6A6AE6" stroke-width="1.3"/><rect x="1173.4" y="2199.5" width="710.9" height="28.5" fill="#F6F6F6"/><text x="1175" y="2205.7" font-size="5.6" fill="#333">[0 - 5.33]</text><path d="M1212.0 2228.0L1212.0 2227.3 1213.5 2227.0 1215.0 2226.7 1216.5 2226.7 1218.0 2227.0 1219.5 2227.2 1221.0 2227.3 1222.5 2227.2 1224.0 2227.5 1225.5 2227.4 1227.0 2227.1 1228.5 2227.0 1230.0 2226.9 1231.5 2226.9 1233.0 2227.0 1234.5 2227.4 1236.0 2227.3 1237.5 2227.2 1239.0 2227.1 1240.5 2227.2 1242.0 2227.2 1243.5 2226.9 1245.0 2227.1 1246.5 2227.5 1248.0 2227.6 1249.5 2227.1 1251.0 2226.5 1252.5 2226.2 1254.0 2226.8 1255.5 2226.6 1257.0 2226.6 1258.5 2226.7 1260.0 2227.0 1261.5 2226.8 1263.0 2227.3 1264.5 2227.5 1266.0 2227.3 1267.5 2227.2 1269.0 2227.4 1270.5 2227.5 1272.0 2227.4 1273.5 2227.4 1275.0 2227.4 1276.5 2227.3 1278.0 2227.3 1279.5 2227.4 1281.0 2227.6 1281.0 2228.0ZM1386.0 2228.0L1386.0 2227.5 1387.5 2226.5 1389.0 2225.8 1390.5 2225.5 1392.0 2225.6 1393.5 2224.9 1395.0 2225.1 1396.5 2225.9 1398.0 2225.6 1399.5 2226.0 1401.0 2225.8 1402.5 2226.2 1404.0 2226.0 1405.5 2226.3 1407.0 2226.1 1408.5 2225.5 1410.0 2225.6 1411.5 2224.4 1413.0 2224.4 1414.5 2223.8 1416.0 2224.2 1417.5 2224.6 1419.0 2224.3 1420.5 2223.5 1422.0 2223.5 1423.5 2221.6 1425.0 2218.1 1426.5 2217.1 1428.0 2218.5 1429.5 2218.4 1431.0 2215.6 1432.5 2211.0 1434.0 2208.9 1435.5 2209.0 1437.0 2210.0 1438.5 2216.3 1440.0 2220.3 1441.5 2220.8 1443.0 2219.1 1444.5 2215.7 1446.0 2208.7 1447.5 2205.3 1449.0 2209.1 1450.5 2208.3 1452.0 2215.5 1453.5 2216.7 1455.0 2217.0 1456.5 2218.4 1458.0 2215.9 1459.5 2213.2 1461.0 2210.7 1462.5 2212.4 1464.0 2215.6 1465.5 2213.8 1467.0 2208.7 1468.5 2205.9 1470.0 2206.9 1471.5 2211.5 1473.0 2213.7 1474.5 2216.0 1476.0 2214.8 1477.5 2216.4 1479.0 2218.1 1480.5 2221.8 1482.0 2222.3 1483.5 2221.8 1485.0 2221.5 1486.5 2222.7 1488.0 2223.8 1489.5 2221.7 1491.0 2219.3 1492.5 2217.9 1494.0 2220.2 1495.5 2218.3 1497.0 2216.4 1498.5 2213.2 1500.0 2212.7 1501.5 2217.6 1503.0 2220.3 1504.5 2219.6 1506.0 2215.5 1507.5 2215.1 1509.0 2218.0 1510.5 2218.7 1512.0 2222.2 1513.5 2221.9 1515.0 2220.3 1516.5 2220.9 1518.0 2222.1 1519.5 2223.7 1521.0 2225.0 1522.5 2226.1 1524.0 2227.1 1525.5 2227.0 1527.0 2226.7 1528.5 2226.4 1530.0 2226.5 1531.5 2226.5 1533.0 2226.7 1534.5 2226.8 1536.0 2226.6 1537.5 2226.4 1539.0 2226.5 1540.5 2226.5 1542.0 2226.9 1543.5 2226.7 1545.0 2226.6 1546.5 2226.5 1548.0 2226.5 1549.5 2226.4 1551.0 2226.5 1552.5 2226.7 1554.0 2226.4 1555.5 2226.3 1557.0 2226.1 1558.5 2226.2 1560.0 2226.0 1561.5 2226.4 1563.0 2226.6 1564.5 2226.6 1566.0 2226.4 1567.5 2226.5 1569.0 2226.5 1570.5 2226.9 1572.0 2226.8 1573.5 2226.4 1575.0 2226.8 1576.5 2226.7 1578.0 2225.4 1579.5 2224.4 1581.0 2224.2 1582.5 2224.3 1584.0 2225.8 1585.5 2226.7 1587.0 2226.5 1588.5 2226.7 1590.0 2226.6 1591.5 2226.4 1593.0 2226.5 1594.5 2226.5 1596.0 2226.5 1597.5 2226.5 1599.0 2226.3 1600.5 2226.3 1602.0 2226.1 1603.5 2226.7 1605.0 2227.0 1606.5 2227.1 1608.0 2226.7 1609.5 2226.3 1611.0 2226.7 1612.5 2226.7 1614.0 2226.7 1615.5 2226.3 1617.0 2226.0 1618.5 2226.2 1620.0 2225.7 1621.5 2226.4 1623.0 2226.5 1624.5 2226.2 1626.0 2226.6 1627.5 2226.2 1629.0 2226.7 1630.5 2227.4 1632.0 2227.2 1633.5 2226.9 1635.0 2227.1 1636.5 2227.1 1638.0 2226.8 1639.5 2227.0 1641.0 2226.9 1642.5 2226.9 1644.0 2226.8 1645.5 2226.9 1647.0 2227.1 1648.5 2227.0 1650.0 2227.0 1651.5 2227.1 1653.0 2226.9 1654.5 2227.0 1656.0 2226.8 1657.5 2227.2 1659.0 2226.9 1660.5 2227.0 1662.0 2227.2 1663.5 2227.4 1663.5 2228.0ZM1674.0 2228.0L1674.0 2227.4 1675.5 2227.2 1677.0 2227.2 1678.5 2227.4 1680.0 2227.2 1681.5 2227.1 1683.0 2227.2 1684.5 2227.1 1686.0 2227.2 1687.5 2227.2 1689.0 2227.0 1690.5 2227.0 1692.0 2227.3 1693.5 2227.4 1695.0 2227.4 1696.5 2227.4 1698.0 2227.4 1699.5 2227.4 1701.0 2227.2 1702.5 2227.2 1704.0 2227.4 1705.5 2227.5 1707.0 2227.2 1708.5 2227.2 1710.0 2227.3 1711.5 2227.3 1713.0 2227.2 1714.5 2227.3 1716.0 2227.5 1716.0 2228.0ZM1800.0 2228.0L1800.0 2227.6 1801.5 2227.5 1803.0 2227.5 1804.5 2227.6 1804.5 2228.0ZM1821.0 2228.0L1821.0 2227.4 1822.5 2226.9 1824.0 2226.7 1825.5 2226.8 1827.0 2227.1 1828.5 2226.9 1830.0 2227.2 1831.5 2226.7 1833.0 2226.9 1834.5 2226.8 1836.0 2227.1 1837.5 2227.6 1837.5 2228.0ZM1881.0 2228.0L1881.0 2227.6 1882.5 2227.4 1884.0 2227.5 1884.0 2228.0Z" fill="#FF9A0A"/><line x1="1173.4" y1="2254.1" x2="1884.3" y2="2254.1" stroke="#D4D4D4" stroke-width="0.8"/><rect x="1173.4" y="2254.1" width="710.9" height="26.7" fill="#F6F6F6"/><text x="1175" y="2260.3" font-size="5.6" fill="#333">[0 - 3.73]</text><path d="M1170.0 2280.8L1170.0 2280.4 1171.5 2280.0 1173.0 2279.8 1174.5 2279.8 1176.0 2279.9 1177.5 2280.0 1179.0 2279.8 1180.5 2279.8 1182.0 2279.8 1183.5 2280.1 1185.0 2280.1 1186.5 2280.0 1188.0 2280.0 1189.5 2280.0 1191.0 2280.0 1192.5 2279.8 1194.0 2279.7 1195.5 2279.9 1197.0 2279.6 1198.5 2279.6 1200.0 2280.0 1201.5 2280.4 1201.5 2280.8ZM1207.5 2280.8L1207.5 2280.3 1209.0 2279.6 1210.5 2278.8 1212.0 2278.3 1213.5 2278.9 1215.0 2278.8 1216.5 2278.9 1218.0 2278.0 1219.5 2277.9 1221.0 2278.4 1222.5 2278.2 1224.0 2278.3 1225.5 2278.0 1227.0 2278.5 1228.5 2279.2 1230.0 2279.7 1231.5 2278.3 1233.0 2276.7 1234.5 2277.7 1236.0 2277.1 1237.5 2275.6 1239.0 2274.9 1240.5 2275.1 1242.0 2276.4 1243.5 2276.6 1245.0 2276.6 1246.5 2277.5 1248.0 2277.7 1249.5 2277.3 1251.0 2278.0 1252.5 2276.5 1254.0 2274.8 1255.5 2274.2 1257.0 2272.9 1258.5 2273.9 1260.0 2276.0 1261.5 2276.0 1263.0 2276.8 1264.5 2278.3 1266.0 2279.4 1267.5 2279.7 1269.0 2279.5 1270.5 2279.5 1272.0 2279.4 1273.5 2279.5 1275.0 2279.6 1276.5 2279.6 1278.0 2280.0 1279.5 2279.9 1281.0 2279.7 1282.5 2279.7 1284.0 2279.7 1285.5 2280.1 1285.5 2280.8ZM1327.5 2280.8L1327.5 2280.3 1329.0 2280.1 1330.5 2280.0 1332.0 2280.2 1333.5 2280.4 1333.5 2280.8ZM1378.5 2280.8L1378.5 2280.3 1380.0 2279.4 1381.5 2278.6 1383.0 2277.6 1384.5 2277.1 1386.0 2277.0 1387.5 2277.0 1389.0 2276.9 1390.5 2276.6 1392.0 2277.0 1393.5 2277.4 1395.0 2276.9 1396.5 2276.8 1398.0 2276.8 1399.5 2277.3 1401.0 2276.6 1402.5 2277.2 1404.0 2277.1 1405.5 2276.8 1407.0 2278.1 1408.5 2278.1 1410.0 2275.8 1411.5 2274.3 1413.0 2274.8 1414.5 2276.2 1416.0 2277.5 1417.5 2277.8 1419.0 2276.5 1420.5 2276.2 1422.0 2276.6 1423.5 2277.5 1425.0 2276.5 1426.5 2274.5 1428.0 2274.5 1429.5 2273.8 1431.0 2271.2 1432.5 2269.4 1434.0 2268.8 1435.5 2270.2 1437.0 2273.3 1438.5 2273.4 1440.0 2272.9 1441.5 2274.2 1443.0 2276.1 1444.5 2273.5 1446.0 2269.7 1447.5 2267.8 1449.0 2268.1 1450.5 2271.6 1452.0 2272.5 1453.5 2274.0 1455.0 2272.2 1456.5 2271.7 1458.0 2272.7 1459.5 2273.5 1461.0 2272.8 1462.5 2270.1 1464.0 2270.6 1465.5 2273.6 1467.0 2271.4 1468.5 2268.5 1470.0 2267.4 1471.5 2267.3 1473.0 2270.7 1474.5 2272.2 1476.0 2273.4 1477.5 2273.0 1479.0 2274.4 1480.5 2275.2 1482.0 2277.1 1483.5 2275.5 1485.0 2274.1 1486.5 2272.7 1488.0 2273.5 1489.5 2274.1 1491.0 2272.9 1492.5 2273.0 1494.0 2272.5 1495.5 2269.8 1497.0 2265.5 1498.5 2261.5 1500.0 2260.2 1501.5 2262.9 1503.0 2264.8 1504.5 2271.1 1506.0 2270.4 1507.5 2269.3 1509.0 2270.5 1510.5 2272.2 1512.0 2273.4 1513.5 2273.5 1515.0 2274.0 1516.5 2275.2 1518.0 2276.8 1519.5 2274.8 1521.0 2274.1 1522.5 2273.1 1524.0 2274.7 1525.5 2275.8 1527.0 2274.7 1528.5 2274.6 1530.0 2273.6 1531.5 2274.5 1533.0 2273.8 1534.5 2276.4 1536.0 2278.4 1537.5 2279.1 1539.0 2277.6 1540.5 2277.2 1542.0 2276.9 1543.5 2278.3 1545.0 2279.1 1546.5 2280.1 1548.0 2279.2 1549.5 2278.5 1551.0 2279.2 1552.5 2279.1 1554.0 2278.9 1555.5 2278.5 1557.0 2279.1 1558.5 2278.7 1560.0 2278.7 1561.5 2278.6 1563.0 2278.1 1564.5 2277.8 1566.0 2279.0 1567.5 2278.9 1569.0 2279.3 1570.5 2278.9 1572.0 2279.4 1573.5 2279.7 1575.0 2278.0 1576.5 2276.8 1578.0 2274.9 1579.5 2274.1 1581.0 2275.6 1582.5 2277.7 1584.0 2279.3 1585.5 2280.2 1587.0 2279.2 1588.5 2277.5 1590.0 2276.6 1591.5 2275.9 1593.0 2276.3 1594.5 2277.4 1596.0 2279.0 1597.5 2278.0 1599.0 2276.0 1600.5 2276.1 1602.0 2274.0 1603.5 2274.8 1605.0 2274.6 1606.5 2274.1 1608.0 2274.3 1609.5 2274.1 1611.0 2273.2 1612.5 2275.0 1614.0 2276.7 1615.5 2273.8 1617.0 2270.1 1618.5 2264.7 1620.0 2264.4 1621.5 2264.3 1623.0 2265.2 1624.5 2268.2 1626.0 2272.1 1627.5 2272.8 1629.0 2273.4 1630.5 2275.2 1632.0 2277.6 1633.5 2278.4 1635.0 2278.7 1636.5 2279.3 1638.0 2279.2 1639.5 2278.7 1641.0 2278.9 1642.5 2279.0 1644.0 2279.0 1645.5 2279.2 1647.0 2278.6 1648.5 2278.4 1650.0 2278.8 1651.5 2278.8 1653.0 2278.9 1654.5 2278.8 1656.0 2279.2 1657.5 2279.3 1659.0 2278.6 1660.5 2278.5 1662.0 2278.9 1663.5 2278.9 1665.0 2279.3 1666.5 2280.0 1668.0 2280.4 1668.0 2280.8ZM1678.5 2280.8L1678.5 2280.1 1680.0 2279.2 1681.5 2277.3 1683.0 2276.2 1684.5 2275.4 1686.0 2276.3 1687.5 2277.9 1689.0 2279.3 1690.5 2280.2 1692.0 2280.1 1693.5 2279.9 1695.0 2279.8 1696.5 2279.9 1698.0 2279.6 1699.5 2279.6 1701.0 2279.8 1702.5 2280.0 1704.0 2279.8 1705.5 2279.5 1707.0 2280.1 1707.0 2280.8ZM1711.5 2280.8L1711.5 2280.4 1713.0 2279.8 1714.5 2279.0 1716.0 2277.8 1717.5 2276.8 1719.0 2277.4 1720.5 2277.9 1722.0 2279.2 1723.5 2280.1 1723.5 2280.8ZM1729.5 2280.8L1729.5 2280.4 1731.0 2279.8 1732.5 2278.6 1734.0 2277.8 1735.5 2277.5 1737.0 2278.0 1738.5 2277.3 1740.0 2277.2 1741.5 2277.9 1743.0 2277.9 1744.5 2278.0 1746.0 2278.4 1747.5 2278.9 1749.0 2277.6 1750.5 2276.8 1752.0 2278.1 1753.5 2278.7 1755.0 2279.0 1756.5 2280.0 1756.5 2280.8ZM1768.5 2280.8L1768.5 2280.1 1770.0 2278.8 1771.5 2278.1 1773.0 2277.1 1774.5 2278.1 1776.0 2278.7 1777.5 2278.9 1779.0 2278.6 1780.5 2278.2 1782.0 2278.1 1783.5 2277.8 1785.0 2278.6 1786.5 2278.1 1788.0 2277.7 1789.5 2278.4 1791.0 2278.6 1792.5 2278.5 1794.0 2278.7 1795.5 2279.0 1797.0 2279.7 1798.5 2279.0 1800.0 2277.9 1801.5 2276.8 1803.0 2277.4 1804.5 2276.8 1806.0 2277.9 1807.5 2277.6 1809.0 2277.7 1810.5 2277.8 1812.0 2278.0 1813.5 2277.9 1815.0 2278.0 1816.5 2277.6 1818.0 2278.3 1819.5 2279.6 1821.0 2280.4 1821.0 2280.8ZM1824.0 2280.8L1824.0 2280.1 1825.5 2279.1 1827.0 2278.3 1828.5 2278.0 1830.0 2277.8 1831.5 2278.2 1833.0 2278.1 1834.5 2277.2 1836.0 2278.0 1837.5 2277.8 1839.0 2278.4 1840.5 2277.8 1842.0 2277.4 1843.5 2277.7 1845.0 2278.3 1846.5 2278.9 1848.0 2279.8 1849.5 2280.1 1851.0 2279.8 1852.5 2279.4 1854.0 2279.5 1855.5 2279.9 1857.0 2279.9 1858.5 2279.9 1860.0 2279.8 1861.5 2279.7 1863.0 2279.6 1864.5 2279.4 1866.0 2279.4 1867.5 2279.8 1869.0 2279.6 1870.5 2279.3 1872.0 2279.6 1873.5 2279.4 1875.0 2279.4 1876.5 2279.6 1878.0 2279.7 1879.5 2279.8 1881.0 2279.7 1882.5 2279.8 1884.0 2280.4 1884.0 2280.8Z" fill="#999999"/><line x1="1173.4" y1="2280.8" x2="1884.3" y2="2280.8" stroke="#BDBDBD" stroke-width="0.9"/><rect x="1173.4" y="2280.8" width="710.9" height="27.9" fill="#F6F6F6"/><text x="1175" y="2287" font-size="5.6" fill="#333">[0 - 3.73]</text><path d="M1171.5 2308.7L1171.5 2308.3 1173.0 2308.2 1174.5 2308.2 1176.0 2308.2 1177.5 2308.0 1179.0 2308.1 1180.5 2308.0 1182.0 2308.0 1183.5 2308.1 1185.0 2308.1 1186.5 2308.1 1188.0 2308.0 1189.5 2307.9 1191.0 2308.0 1192.5 2307.8 1194.0 2308.0 1195.5 2308.1 1197.0 2307.9 1198.5 2307.8 1200.0 2308.1 1201.5 2308.4 1201.5 2308.7ZM1210.5 2308.7L1210.5 2308.1 1212.0 2308.0 1213.5 2308.0 1215.0 2308.0 1216.5 2308.1 1218.0 2307.9 1219.5 2307.9 1221.0 2308.3 1221.0 2308.7ZM1227.0 2308.7L1227.0 2308.2 1228.5 2307.5 1230.0 2306.3 1231.5 2305.5 1233.0 2304.6 1234.5 2305.2 1236.0 2305.5 1237.5 2306.2 1239.0 2306.3 1240.5 2304.5 1242.0 2304.6 1243.5 2305.3 1245.0 2305.0 1246.5 2304.2 1248.0 2305.1 1249.5 2304.3 1251.0 2302.0 1252.5 2302.4 1254.0 2303.1 1255.5 2305.1 1257.0 2307.0 1258.5 2307.4 1260.0 2306.5 1261.5 2306.1 1263.0 2306.6 1264.5 2307.2 1266.0 2307.0 1267.5 2307.1 1269.0 2307.3 1270.5 2307.0 1272.0 2306.1 1273.5 2306.5 1275.0 2306.5 1276.5 2307.0 1278.0 2306.6 1279.5 2306.8 1281.0 2306.4 1282.5 2306.6 1284.0 2307.6 1285.5 2308.4 1285.5 2308.7ZM1372.5 2308.7L1372.5 2308.3 1374.0 2308.0 1375.5 2307.8 1377.0 2307.6 1378.5 2307.3 1380.0 2307.3 1381.5 2307.5 1383.0 2307.5 1384.5 2307.3 1386.0 2307.4 1387.5 2307.4 1389.0 2307.4 1390.5 2307.5 1392.0 2307.5 1393.5 2306.7 1395.0 2305.2 1396.5 2303.6 1398.0 2303.7 1399.5 2304.1 1401.0 2305.5 1402.5 2303.5 1404.0 2302.3 1405.5 2301.4 1407.0 2300.8 1408.5 2303.0 1410.0 2303.9 1411.5 2305.4 1413.0 2303.7 1414.5 2303.0 1416.0 2304.0 1417.5 2305.7 1419.0 2307.2 1420.5 2307.7 1422.0 2306.3 1423.5 2304.3 1425.0 2301.9 1426.5 2296.6 1428.0 2293.7 1429.5 2294.4 1431.0 2294.4 1432.5 2298.5 1434.0 2301.7 1435.5 2302.3 1437.0 2303.6 1438.5 2305.0 1440.0 2306.7 1441.5 2306.0 1443.0 2304.1 1444.5 2301.0 1446.0 2297.2 1447.5 2295.2 1449.0 2294.6 1450.5 2297.0 1452.0 2299.9 1453.5 2303.7 1455.0 2300.9 1456.5 2301.0 1458.0 2298.9 1459.5 2297.8 1461.0 2294.5 1462.5 2297.5 1464.0 2299.4 1465.5 2302.7 1467.0 2299.2 1468.5 2296.0 1470.0 2295.8 1471.5 2294.8 1473.0 2297.7 1474.5 2300.2 1476.0 2299.0 1477.5 2301.2 1479.0 2302.1 1480.5 2304.8 1482.0 2306.0 1483.5 2306.5 1485.0 2306.1 1486.5 2304.1 1488.0 2301.6 1489.5 2300.4 1491.0 2301.5 1492.5 2301.9 1494.0 2303.7 1495.5 2300.2 1497.0 2296.0 1498.5 2292.8 1500.0 2289.9 1501.5 2291.6 1503.0 2295.1 1504.5 2298.6 1506.0 2296.5 1507.5 2297.1 1509.0 2298.4 1510.5 2299.7 1512.0 2303.1 1513.5 2302.4 1515.0 2300.9 1516.5 2301.4 1518.0 2302.0 1519.5 2304.1 1521.0 2305.9 1522.5 2307.1 1524.0 2306.2 1525.5 2307.1 1527.0 2307.2 1528.5 2307.1 1530.0 2306.8 1531.5 2306.6 1533.0 2307.0 1534.5 2306.3 1536.0 2306.3 1537.5 2306.2 1539.0 2306.3 1540.5 2306.6 1542.0 2306.8 1543.5 2306.8 1545.0 2307.3 1546.5 2306.9 1548.0 2307.4 1549.5 2308.2 1551.0 2308.0 1552.5 2307.6 1554.0 2307.5 1555.5 2307.3 1557.0 2307.5 1558.5 2307.3 1560.0 2307.1 1561.5 2306.9 1563.0 2307.1 1564.5 2307.3 1566.0 2307.2 1567.5 2307.3 1569.0 2307.5 1570.5 2307.4 1572.0 2307.4 1573.5 2307.1 1575.0 2306.4 1576.5 2305.3 1578.0 2303.6 1579.5 2301.1 1581.0 2301.1 1582.5 2301.4 1584.0 2302.6 1585.5 2304.6 1587.0 2304.9 1588.5 2303.9 1590.0 2303.7 1591.5 2304.5 1593.0 2306.1 1594.5 2305.9 1596.0 2304.7 1597.5 2303.1 1599.0 2301.9 1600.5 2300.7 1602.0 2301.8 1603.5 2299.4 1605.0 2300.4 1606.5 2301.6 1608.0 2303.6 1609.5 2304.0 1611.0 2303.6 1612.5 2302.1 1614.0 2299.1 1615.5 2294.4 1617.0 2295.5 1618.5 2295.3 1620.0 2298.3 1621.5 2301.3 1623.0 2300.6 1624.5 2300.3 1626.0 2300.6 1627.5 2300.8 1629.0 2303.6 1630.5 2305.2 1632.0 2303.2 1633.5 2301.8 1635.0 2302.9 1636.5 2304.9 1638.0 2306.5 1639.5 2306.1 1641.0 2304.7 1642.5 2305.1 1644.0 2305.2 1645.5 2306.7 1647.0 2306.4 1648.5 2306.4 1650.0 2306.4 1651.5 2307.2 1653.0 2307.9 1654.5 2308.4 1656.0 2308.3 1657.5 2307.7 1659.0 2307.3 1660.5 2307.7 1662.0 2307.6 1663.5 2307.5 1665.0 2307.4 1666.5 2307.8 1668.0 2307.8 1669.5 2308.2 1669.5 2308.7ZM1678.5 2308.7L1678.5 2308.3 1680.0 2307.6 1681.5 2306.8 1683.0 2306.1 1684.5 2305.7 1686.0 2305.8 1687.5 2305.3 1689.0 2306.2 1690.5 2306.1 1692.0 2306.1 1693.5 2306.2 1695.0 2306.7 1696.5 2306.1 1698.0 2306.0 1699.5 2305.8 1701.0 2306.5 1702.5 2307.7 1704.0 2308.3 1704.0 2308.7ZM1716.0 2308.7L1716.0 2308.0 1717.5 2307.5 1719.0 2307.3 1720.5 2307.6 1722.0 2307.5 1723.5 2307.2 1725.0 2306.9 1726.5 2307.5 1728.0 2307.3 1729.5 2307.1 1731.0 2307.0 1732.5 2307.7 1734.0 2308.1 1734.0 2308.7ZM1737.0 2308.7L1737.0 2308.1 1738.5 2307.8 1740.0 2307.7 1741.5 2307.3 1743.0 2307.0 1744.5 2307.2 1746.0 2307.1 1747.5 2306.9 1749.0 2307.3 1750.5 2307.7 1752.0 2307.7 1753.5 2307.7 1755.0 2307.1 1756.5 2307.1 1758.0 2307.4 1759.5 2307.2 1761.0 2307.5 1762.5 2307.9 1764.0 2308.4 1764.0 2308.7ZM1776.0 2308.7L1776.0 2307.8 1777.5 2307.1 1779.0 2305.9 1780.5 2305.1 1782.0 2305.3 1783.5 2304.8 1785.0 2303.1 1786.5 2300.7 1788.0 2301.3 1789.5 2301.0 1791.0 2302.9 1792.5 2305.7 1794.0 2305.9 1795.5 2306.6 1797.0 2307.0 1798.5 2307.8 1798.5 2308.7ZM1809.0 2308.7L1809.0 2308.2 1810.5 2307.6 1812.0 2306.1 1813.5 2305.3 1815.0 2304.4 1816.5 2305.2 1818.0 2306.6 1819.5 2307.6 1821.0 2308.2 1822.5 2308.1 1824.0 2307.4 1825.5 2306.4 1827.0 2305.9 1828.5 2305.7 1830.0 2305.7 1831.5 2306.4 1833.0 2306.4 1834.5 2306.4 1836.0 2306.5 1837.5 2305.0 1839.0 2306.0 1840.5 2306.5 1842.0 2307.3 1843.5 2308.2 1843.5 2308.7ZM1858.5 2308.7L1858.5 2307.9 1860.0 2306.8 1861.5 2306.3 1863.0 2306.6 1864.5 2306.4 1866.0 2306.6 1867.5 2306.7 1869.0 2307.0 1870.5 2307.5 1872.0 2307.3 1873.5 2307.2 1875.0 2307.1 1876.5 2306.4 1878.0 2307.1 1879.5 2306.6 1881.0 2306.3 1882.5 2306.9 1884.0 2307.5 1885.5 2308.1 1885.5 2308.7Z" fill="#0000A6"/><line x1="1173.4" y1="2308.7" x2="1884.3" y2="2308.7" stroke="#6A6AE6" stroke-width="1.3"/><rect x="1173.4" y="2308.7" width="710.9" height="27.9" fill="#F6F6F6"/><text x="1175" y="2314.9" font-size="5.6" fill="#333">[0 - 3.73]</text><path d="M1171.5 2336.6L1171.5 2336.2 1173.0 2335.8 1174.5 2335.8 1176.0 2335.7 1177.5 2335.7 1179.0 2336.0 1180.5 2336.0 1182.0 2335.7 1183.5 2335.8 1185.0 2335.9 1186.5 2336.0 1188.0 2336.0 1189.5 2336.0 1191.0 2336.1 1192.5 2336.0 1194.0 2335.9 1195.5 2335.9 1197.0 2336.0 1198.5 2335.8 1200.0 2335.9 1201.5 2336.0 1203.0 2336.2 1203.0 2336.6ZM1207.5 2336.6L1207.5 2336.2 1209.0 2335.7 1210.5 2335.1 1212.0 2334.8 1213.5 2334.9 1215.0 2335.0 1216.5 2334.7 1218.0 2335.0 1219.5 2335.2 1221.0 2335.6 1222.5 2336.1 1222.5 2336.6ZM1228.5 2336.6L1228.5 2336.2 1230.0 2335.4 1231.5 2334.4 1233.0 2333.5 1234.5 2334.3 1236.0 2334.0 1237.5 2332.4 1239.0 2332.5 1240.5 2333.6 1242.0 2333.1 1243.5 2332.6 1245.0 2331.3 1246.5 2331.4 1248.0 2332.9 1249.5 2333.7 1251.0 2332.9 1252.5 2332.2 1254.0 2330.5 1255.5 2328.6 1257.0 2328.3 1258.5 2329.4 1260.0 2332.2 1261.5 2333.8 1263.0 2333.8 1264.5 2333.3 1266.0 2333.5 1267.5 2333.4 1269.0 2333.5 1270.5 2332.7 1272.0 2332.7 1273.5 2333.2 1275.0 2333.4 1276.5 2334.0 1278.0 2334.0 1279.5 2335.2 1281.0 2335.9 1281.0 2336.6ZM1287.0 2336.6L1287.0 2336.0 1288.5 2335.9 1290.0 2336.0 1291.5 2335.9 1293.0 2335.8 1294.5 2335.8 1296.0 2335.8 1297.5 2335.8 1299.0 2335.8 1300.5 2335.9 1302.0 2335.8 1303.5 2335.8 1305.0 2335.9 1306.5 2336.3 1306.5 2336.6ZM1377.0 2336.6L1377.0 2336.2 1378.5 2335.6 1380.0 2334.3 1381.5 2332.8 1383.0 2332.3 1384.5 2333.1 1386.0 2334.0 1387.5 2333.4 1389.0 2333.2 1390.5 2332.3 1392.0 2333.0 1393.5 2333.4 1395.0 2333.6 1396.5 2333.4 1398.0 2333.2 1399.5 2332.2 1401.0 2329.7 1402.5 2325.0 1404.0 2324.7 1405.5 2323.1 1407.0 2324.2 1408.5 2325.8 1410.0 2330.2 1411.5 2330.3 1413.0 2330.8 1414.5 2331.5 1416.0 2333.4 1417.5 2335.0 1419.0 2334.6 1420.5 2333.8 1422.0 2334.4 1423.5 2334.8 1425.0 2334.9 1426.5 2333.3 1428.0 2332.2 1429.5 2330.9 1431.0 2329.1 1432.5 2327.3 1434.0 2324.1 1435.5 2324.3 1437.0 2327.3 1438.5 2329.4 1440.0 2331.6 1441.5 2331.2 1443.0 2331.5 1444.5 2328.6 1446.0 2323.8 1447.5 2321.9 1449.0 2323.4 1450.5 2325.3 1452.0 2328.5 1453.5 2328.1 1455.0 2328.4 1456.5 2327.8 1458.0 2326.7 1459.5 2324.4 1461.0 2320.7 1462.5 2325.1 1464.0 2326.6 1465.5 2328.6 1467.0 2325.4 1468.5 2322.7 1470.0 2325.2 1471.5 2326.7 1473.0 2327.8 1474.5 2329.4 1476.0 2329.6 1477.5 2329.7 1479.0 2331.8 1480.5 2333.0 1482.0 2333.2 1483.5 2332.5 1485.0 2332.9 1486.5 2333.6 1488.0 2333.9 1489.5 2331.8 1491.0 2328.1 1492.5 2324.3 1494.0 2323.6 1495.5 2323.9 1497.0 2325.5 1498.5 2319.1 1500.0 2315.7 1501.5 2318.8 1503.0 2319.1 1504.5 2323.7 1506.0 2324.0 1507.5 2325.1 1509.0 2324.2 1510.5 2328.5 1512.0 2331.0 1513.5 2330.7 1515.0 2328.0 1516.5 2329.6 1518.0 2330.8 1519.5 2332.3 1521.0 2332.0 1522.5 2331.3 1524.0 2332.2 1525.5 2333.7 1527.0 2335.2 1528.5 2336.1 1530.0 2335.5 1531.5 2335.0 1533.0 2334.9 1534.5 2334.1 1536.0 2334.3 1537.5 2334.5 1539.0 2334.2 1540.5 2334.3 1542.0 2334.0 1543.5 2334.2 1545.0 2334.2 1546.5 2333.8 1548.0 2334.0 1549.5 2334.6 1551.0 2335.6 1552.5 2336.2 1554.0 2335.2 1555.5 2333.7 1557.0 2331.6 1558.5 2331.7 1560.0 2331.4 1561.5 2331.2 1563.0 2333.4 1564.5 2331.1 1566.0 2331.1 1567.5 2331.4 1569.0 2330.8 1570.5 2332.6 1572.0 2333.2 1573.5 2332.4 1575.0 2332.7 1576.5 2333.2 1578.0 2330.5 1579.5 2330.0 1581.0 2329.4 1582.5 2330.0 1584.0 2330.6 1585.5 2332.6 1587.0 2334.6 1588.5 2334.1 1590.0 2332.5 1591.5 2332.5 1593.0 2331.6 1594.5 2331.9 1596.0 2332.4 1597.5 2331.5 1599.0 2330.9 1600.5 2330.2 1602.0 2329.7 1603.5 2332.1 1605.0 2332.1 1606.5 2330.2 1608.0 2329.6 1609.5 2331.3 1611.0 2329.7 1612.5 2329.8 1614.0 2332.2 1615.5 2331.6 1617.0 2329.3 1618.5 2326.3 1620.0 2321.4 1621.5 2321.9 1623.0 2323.8 1624.5 2326.5 1626.0 2327.2 1627.5 2326.6 1629.0 2327.3 1630.5 2330.5 1632.0 2332.3 1633.5 2334.1 1635.0 2333.7 1636.5 2333.4 1638.0 2333.6 1639.5 2333.9 1641.0 2333.5 1642.5 2334.1 1644.0 2334.0 1645.5 2333.4 1647.0 2332.7 1648.5 2333.3 1650.0 2334.1 1651.5 2333.4 1653.0 2332.7 1654.5 2333.6 1656.0 2334.1 1657.5 2333.3 1659.0 2333.1 1660.5 2334.4 1662.0 2334.0 1663.5 2334.7 1665.0 2335.3 1666.5 2335.9 1666.5 2336.6ZM1677.0 2336.6L1677.0 2336.1 1678.5 2335.2 1680.0 2334.1 1681.5 2333.9 1683.0 2333.8 1684.5 2332.7 1686.0 2333.0 1687.5 2332.5 1689.0 2332.9 1690.5 2332.8 1692.0 2333.7 1693.5 2333.9 1695.0 2335.0 1696.5 2335.9 1698.0 2335.5 1699.5 2334.7 1701.0 2334.6 1702.5 2334.6 1704.0 2335.0 1705.5 2334.9 1707.0 2334.3 1708.5 2334.6 1710.0 2334.9 1711.5 2334.9 1713.0 2334.9 1714.5 2334.8 1716.0 2334.3 1717.5 2334.2 1719.0 2334.3 1720.5 2334.8 1722.0 2335.0 1723.5 2334.1 1725.0 2334.3 1726.5 2335.0 1728.0 2334.8 1729.5 2334.6 1731.0 2334.4 1732.5 2335.0 1734.0 2334.6 1735.5 2334.6 1737.0 2334.7 1738.5 2335.4 1740.0 2336.0 1741.5 2335.9 1743.0 2335.4 1744.5 2335.5 1746.0 2335.5 1747.5 2335.0 1749.0 2335.2 1750.5 2335.4 1752.0 2335.7 1753.5 2335.6 1755.0 2335.5 1756.5 2335.3 1758.0 2335.2 1759.5 2335.6 1761.0 2336.2 1761.0 2336.6ZM1773.0 2336.6L1773.0 2336.1 1774.5 2334.4 1776.0 2332.3 1777.5 2330.6 1779.0 2332.8 1780.5 2332.3 1782.0 2331.1 1783.5 2330.3 1785.0 2331.6 1786.5 2332.9 1788.0 2330.8 1789.5 2331.2 1791.0 2330.5 1792.5 2332.1 1794.0 2333.1 1795.5 2334.2 1797.0 2335.3 1798.5 2336.1 1800.0 2335.8 1801.5 2335.2 1803.0 2334.8 1804.5 2334.7 1806.0 2334.6 1807.5 2334.9 1809.0 2334.2 1810.5 2334.1 1812.0 2334.6 1813.5 2335.6 1815.0 2334.0 1816.5 2331.9 1818.0 2330.9 1819.5 2330.5 1821.0 2329.5 1822.5 2331.1 1824.0 2330.5 1825.5 2331.3 1827.0 2331.8 1828.5 2332.5 1830.0 2332.4 1831.5 2330.0 1833.0 2329.7 1834.5 2332.2 1836.0 2331.7 1837.5 2333.5 1839.0 2334.8 1840.5 2335.6 1842.0 2334.9 1843.5 2334.1 1845.0 2334.2 1846.5 2334.4 1848.0 2335.3 1849.5 2335.9 1851.0 2335.5 1852.5 2334.6 1854.0 2333.8 1855.5 2333.6 1857.0 2333.7 1858.5 2334.3 1860.0 2334.0 1861.5 2333.9 1863.0 2333.9 1864.5 2334.0 1866.0 2333.9 1867.5 2334.7 1869.0 2334.6 1870.5 2334.9 1872.0 2334.5 1873.5 2334.6 1875.0 2334.5 1876.5 2334.5 1878.0 2333.7 1879.5 2333.3 1881.0 2334.3 1882.5 2334.6 1884.0 2335.1 1885.5 2336.0 1885.5 2336.6Z" fill="#FF9A0A"/><line x1="1173.4" y1="2369.1" x2="1884.3" y2="2369.1" stroke="#D4D4D4" stroke-width="0.8"/><rect x="1173.4" y="2369.1" width="710.9" height="27.9" fill="#F6F6F6"/><text x="1175" y="2375.3" font-size="5.6" fill="#333">[0 - 5.07]</text><path d="M1188.0 2397.0L1188.0 2396.5 1189.5 2396.3 1191.0 2396.4 1192.5 2396.4 1194.0 2396.3 1195.5 2396.4 1197.0 2396.4 1198.5 2396.3 1200.0 2396.4 1201.5 2396.6 1201.5 2397.0ZM1209.0 2397.0L1209.0 2396.5 1210.5 2395.6 1212.0 2394.4 1213.5 2392.7 1215.0 2391.7 1216.5 2392.2 1218.0 2393.6 1219.5 2394.8 1221.0 2396.1 1222.5 2396.7 1222.5 2397.0ZM1231.5 2397.0L1231.5 2396.2 1233.0 2395.1 1234.5 2393.2 1236.0 2389.1 1237.5 2384.3 1239.0 2381.7 1240.5 2380.1 1242.0 2381.9 1243.5 2384.8 1245.0 2388.6 1246.5 2391.1 1248.0 2393.8 1249.5 2393.0 1251.0 2393.7 1252.5 2393.9 1254.0 2395.4 1255.5 2395.4 1257.0 2393.6 1258.5 2392.5 1260.0 2390.7 1261.5 2391.4 1263.0 2392.3 1264.5 2394.0 1266.0 2395.8 1267.5 2396.2 1269.0 2396.1 1270.5 2396.2 1272.0 2396.1 1273.5 2396.1 1275.0 2396.1 1276.5 2396.1 1278.0 2396.0 1279.5 2396.1 1281.0 2396.0 1282.5 2396.1 1284.0 2396.1 1285.5 2396.0 1287.0 2396.2 1288.5 2396.1 1290.0 2396.2 1291.5 2396.4 1293.0 2396.2 1294.5 2396.3 1296.0 2396.6 1296.0 2397.0ZM1348.5 2397.0L1348.5 2396.6 1350.0 2396.5 1351.5 2396.3 1353.0 2396.1 1354.5 2396.1 1356.0 2396.3 1357.5 2396.1 1359.0 2396.3 1360.5 2396.2 1362.0 2396.4 1363.5 2396.3 1365.0 2396.5 1366.5 2396.7 1366.5 2397.0ZM1369.5 2397.0L1369.5 2396.6 1371.0 2395.8 1372.5 2394.7 1374.0 2393.0 1375.5 2391.5 1377.0 2391.2 1378.5 2392.1 1380.0 2393.9 1381.5 2395.2 1383.0 2396.0 1384.5 2394.6 1386.0 2392.9 1387.5 2391.6 1389.0 2392.5 1390.5 2392.7 1392.0 2394.6 1393.5 2394.8 1395.0 2393.8 1396.5 2391.8 1398.0 2389.2 1399.5 2389.4 1401.0 2390.2 1402.5 2391.7 1404.0 2390.6 1405.5 2389.1 1407.0 2389.3 1408.5 2390.5 1410.0 2390.5 1411.5 2387.1 1413.0 2386.4 1414.5 2384.5 1416.0 2387.2 1417.5 2389.2 1419.0 2388.1 1420.5 2389.1 1422.0 2390.1 1423.5 2392.6 1425.0 2394.8 1426.5 2396.0 1428.0 2396.3 1429.5 2395.4 1431.0 2394.0 1432.5 2393.5 1434.0 2393.1 1435.5 2393.6 1437.0 2395.1 1438.5 2396.0 1440.0 2396.6 1441.5 2396.2 1443.0 2395.5 1444.5 2394.9 1446.0 2394.4 1447.5 2394.7 1449.0 2395.3 1450.5 2396.0 1452.0 2396.6 1453.5 2396.2 1455.0 2395.9 1456.5 2395.8 1458.0 2395.9 1459.5 2396.1 1461.0 2396.6 1461.0 2397.0ZM1464.0 2397.0L1464.0 2396.3 1465.5 2395.6 1467.0 2394.1 1468.5 2393.0 1470.0 2391.6 1471.5 2392.2 1473.0 2393.6 1474.5 2395.4 1476.0 2396.2 1477.5 2396.4 1479.0 2396.2 1480.5 2396.3 1482.0 2396.4 1483.5 2396.7 1483.5 2397.0ZM1492.5 2397.0L1492.5 2396.3 1494.0 2395.2 1495.5 2393.5 1497.0 2391.3 1498.5 2390.3 1500.0 2390.4 1501.5 2392.8 1503.0 2394.4 1504.5 2395.2 1506.0 2394.8 1507.5 2394.2 1509.0 2394.6 1510.5 2395.4 1512.0 2396.3 1512.0 2397.0ZM1519.5 2397.0L1519.5 2396.5 1521.0 2395.7 1522.5 2394.0 1524.0 2392.7 1525.5 2389.7 1527.0 2388.8 1528.5 2387.4 1530.0 2388.9 1531.5 2390.5 1533.0 2392.8 1534.5 2394.7 1536.0 2395.4 1537.5 2395.3 1539.0 2395.2 1540.5 2395.0 1542.0 2395.3 1543.5 2395.0 1545.0 2395.2 1546.5 2394.9 1548.0 2395.1 1549.5 2395.3 1551.0 2395.2 1552.5 2395.2 1554.0 2395.5 1555.5 2395.4 1557.0 2395.1 1558.5 2394.9 1560.0 2395.5 1561.5 2394.8 1563.0 2395.0 1564.5 2395.0 1566.0 2395.5 1567.5 2395.3 1569.0 2395.1 1570.5 2395.2 1572.0 2395.5 1573.5 2395.8 1575.0 2395.1 1576.5 2394.8 1578.0 2394.7 1579.5 2395.3 1581.0 2394.9 1582.5 2394.2 1584.0 2394.4 1585.5 2394.5 1587.0 2394.9 1588.5 2394.3 1590.0 2394.3 1591.5 2395.1 1593.0 2394.0 1594.5 2394.6 1596.0 2393.7 1597.5 2394.5 1599.0 2394.2 1600.5 2394.2 1602.0 2395.1 1603.5 2395.2 1605.0 2395.3 1606.5 2395.3 1608.0 2394.7 1609.5 2394.1 1611.0 2394.0 1612.5 2393.9 1614.0 2394.7 1615.5 2395.7 1617.0 2396.2 1618.5 2395.1 1620.0 2393.3 1621.5 2391.9 1623.0 2389.9 1624.5 2391.7 1626.0 2392.3 1627.5 2394.6 1629.0 2396.0 1629.0 2397.0ZM1632.0 2397.0L1632.0 2396.3 1633.5 2395.1 1635.0 2394.1 1636.5 2392.4 1638.0 2391.8 1639.5 2392.9 1641.0 2393.9 1642.5 2394.8 1644.0 2394.7 1645.5 2394.5 1647.0 2395.2 1648.5 2396.0 1650.0 2396.6 1650.0 2397.0ZM1678.5 2397.0L1678.5 2396.6 1680.0 2396.0 1681.5 2395.6 1683.0 2395.6 1684.5 2395.4 1686.0 2395.7 1687.5 2395.8 1689.0 2395.6 1690.5 2395.8 1692.0 2395.6 1693.5 2395.7 1695.0 2395.3 1696.5 2395.5 1698.0 2395.3 1699.5 2395.4 1701.0 2395.9 1702.5 2396.6 1702.5 2397.0ZM1713.0 2397.0L1713.0 2396.3 1714.5 2395.8 1716.0 2395.0 1717.5 2394.6 1719.0 2394.8 1720.5 2394.9 1722.0 2395.9 1723.5 2396.5 1723.5 2397.0ZM1731.0 2397.0L1731.0 2396.5 1732.5 2396.0 1734.0 2395.7 1735.5 2395.8 1737.0 2395.9 1738.5 2396.3 1738.5 2397.0ZM1774.5 2397.0L1774.5 2396.3 1776.0 2396.1 1777.5 2396.1 1779.0 2395.5 1780.5 2395.6 1782.0 2395.9 1783.5 2394.6 1785.0 2392.7 1786.5 2391.4 1788.0 2388.2 1789.5 2387.9 1791.0 2388.6 1792.5 2389.8 1794.0 2392.0 1795.5 2394.0 1797.0 2395.5 1798.5 2396.4 1798.5 2397.0ZM1819.5 2397.0L1819.5 2396.6 1821.0 2396.1 1822.5 2395.1 1824.0 2393.0 1825.5 2389.7 1827.0 2386.2 1828.5 2385.5 1830.0 2385.3 1831.5 2385.3 1833.0 2387.7 1834.5 2389.9 1836.0 2389.2 1837.5 2389.0 1839.0 2391.7 1840.5 2392.8 1842.0 2394.8 1843.5 2395.9 1845.0 2396.4 1845.0 2397.0ZM1849.5 2397.0L1849.5 2396.5 1851.0 2396.2 1852.5 2396.0 1854.0 2396.1 1855.5 2395.9 1857.0 2395.9 1858.5 2395.9 1860.0 2396.2 1861.5 2396.1 1863.0 2395.9 1864.5 2395.8 1866.0 2395.7 1867.5 2396.2 1869.0 2396.1 1870.5 2396.0 1872.0 2395.8 1873.5 2395.9 1875.0 2396.2 1876.5 2396.1 1878.0 2396.1 1879.5 2396.3 1879.5 2397.0Z" fill="#999999"/><line x1="1173.4" y1="2397.0" x2="1884.3" y2="2397.0" stroke="#BDBDBD" stroke-width="0.9"/><rect x="1173.4" y="2397.0" width="710.9" height="27.9" fill="#F6F6F6"/><text x="1175" y="2403.2" font-size="5.6" fill="#333">[0 - 5.07]</text><path d="M1212.0 2424.9L1212.0 2424.2 1213.5 2423.5 1215.0 2422.4 1216.5 2421.8 1218.0 2422.1 1219.5 2422.7 1221.0 2423.6 1222.5 2424.2 1222.5 2424.9ZM1234.5 2424.9L1234.5 2424.2 1236.0 2423.2 1237.5 2421.7 1239.0 2420.1 1240.5 2418.7 1242.0 2418.2 1243.5 2420.4 1245.0 2422.5 1246.5 2422.9 1248.0 2422.6 1249.5 2422.6 1251.0 2421.3 1252.5 2421.4 1254.0 2422.0 1255.5 2422.6 1257.0 2422.5 1258.5 2421.9 1260.0 2422.0 1261.5 2421.8 1263.0 2421.9 1264.5 2422.2 1266.0 2422.7 1267.5 2422.5 1269.0 2423.8 1270.5 2424.5 1270.5 2424.9ZM1273.5 2424.9L1273.5 2424.3 1275.0 2424.0 1276.5 2423.7 1278.0 2423.6 1279.5 2423.9 1281.0 2424.2 1282.5 2424.5 1282.5 2424.9ZM1285.5 2424.9L1285.5 2424.3 1287.0 2424.1 1288.5 2424.0 1290.0 2424.2 1291.5 2424.5 1291.5 2424.9ZM1368.0 2424.9L1368.0 2424.6 1369.5 2423.9 1371.0 2423.1 1372.5 2422.9 1374.0 2423.0 1375.5 2422.7 1377.0 2423.3 1378.5 2423.3 1380.0 2423.2 1381.5 2422.4 1383.0 2422.6 1384.5 2422.6 1386.0 2422.5 1387.5 2422.9 1389.0 2422.9 1390.5 2422.8 1392.0 2422.6 1393.5 2422.5 1395.0 2423.0 1396.5 2422.7 1398.0 2423.9 1399.5 2423.2 1401.0 2422.0 1402.5 2419.9 1404.0 2419.5 1405.5 2420.4 1407.0 2420.7 1408.5 2418.9 1410.0 2416.8 1411.5 2415.1 1413.0 2415.2 1414.5 2416.0 1416.0 2417.0 1417.5 2417.8 1419.0 2417.8 1420.5 2420.4 1422.0 2422.0 1423.5 2423.3 1425.0 2424.2 1425.0 2424.9ZM1429.5 2424.9L1429.5 2424.3 1431.0 2424.0 1432.5 2423.6 1434.0 2423.7 1435.5 2423.8 1437.0 2424.2 1437.0 2424.9ZM1441.5 2424.9L1441.5 2424.5 1443.0 2424.2 1444.5 2423.9 1446.0 2423.5 1447.5 2423.8 1449.0 2424.1 1450.5 2424.5 1450.5 2424.9ZM1456.5 2424.9L1456.5 2424.5 1458.0 2424.0 1459.5 2423.8 1461.0 2423.6 1462.5 2423.7 1464.0 2424.1 1465.5 2423.4 1467.0 2421.8 1468.5 2420.5 1470.0 2420.0 1471.5 2420.2 1473.0 2421.7 1474.5 2423.0 1476.0 2424.0 1476.0 2424.9ZM1479.0 2424.9L1479.0 2424.4 1480.5 2424.3 1482.0 2424.2 1483.5 2424.2 1485.0 2424.5 1485.0 2424.9ZM1492.5 2424.9L1492.5 2424.2 1494.0 2423.0 1495.5 2421.4 1497.0 2419.7 1498.5 2418.2 1500.0 2418.8 1501.5 2420.7 1503.0 2422.5 1504.5 2423.0 1506.0 2422.6 1507.5 2422.4 1509.0 2422.5 1510.5 2423.5 1512.0 2424.2 1512.0 2424.9ZM1522.5 2424.9L1522.5 2423.9 1524.0 2422.8 1525.5 2420.9 1527.0 2419.6 1528.5 2419.2 1530.0 2419.6 1531.5 2421.1 1533.0 2422.9 1534.5 2424.0 1536.0 2423.6 1537.5 2423.5 1539.0 2423.1 1540.5 2422.9 1542.0 2423.1 1543.5 2422.9 1545.0 2423.2 1546.5 2422.9 1548.0 2423.0 1549.5 2423.4 1551.0 2423.8 1552.5 2423.3 1554.0 2423.0 1555.5 2423.6 1557.0 2423.3 1558.5 2422.7 1560.0 2423.1 1561.5 2423.1 1563.0 2423.4 1564.5 2422.6 1566.0 2422.7 1567.5 2423.0 1569.0 2422.7 1570.5 2422.8 1572.0 2422.9 1573.5 2423.3 1575.0 2423.5 1576.5 2423.5 1578.0 2423.2 1579.5 2423.3 1581.0 2423.3 1582.5 2423.0 1584.0 2423.0 1585.5 2422.9 1587.0 2422.8 1588.5 2423.2 1590.0 2423.3 1591.5 2423.2 1593.0 2423.4 1594.5 2423.4 1596.0 2423.4 1597.5 2422.8 1599.0 2423.0 1600.5 2423.3 1602.0 2423.0 1603.5 2423.3 1605.0 2423.4 1606.5 2423.3 1608.0 2423.3 1609.5 2423.6 1611.0 2423.7 1612.5 2424.2 1614.0 2424.4 1615.5 2423.7 1617.0 2422.2 1618.5 2420.6 1620.0 2419.1 1621.5 2416.5 1623.0 2416.8 1624.5 2416.1 1626.0 2417.8 1627.5 2419.9 1629.0 2419.2 1630.5 2419.6 1632.0 2421.4 1633.5 2422.8 1635.0 2421.9 1636.5 2420.2 1638.0 2419.4 1639.5 2420.3 1641.0 2421.6 1642.5 2423.1 1644.0 2423.6 1645.5 2422.9 1647.0 2422.7 1648.5 2423.3 1650.0 2423.8 1651.5 2424.4 1653.0 2424.4 1654.5 2424.1 1656.0 2424.1 1657.5 2424.2 1659.0 2424.4 1660.5 2424.3 1662.0 2424.3 1663.5 2424.0 1665.0 2424.1 1666.5 2424.3 1668.0 2424.4 1669.5 2424.3 1671.0 2424.3 1672.5 2424.3 1674.0 2424.2 1675.5 2424.2 1677.0 2424.4 1677.0 2424.9ZM1681.5 2424.9L1681.5 2424.5 1683.0 2424.2 1684.5 2423.9 1686.0 2424.1 1687.5 2424.2 1689.0 2424.1 1690.5 2423.9 1692.0 2423.8 1693.5 2424.1 1695.0 2424.1 1696.5 2424.0 1698.0 2424.1 1699.5 2424.2 1701.0 2424.0 1702.5 2424.1 1704.0 2424.2 1705.5 2423.9 1707.0 2424.0 1708.5 2424.2 1710.0 2424.2 1711.5 2424.1 1713.0 2424.2 1714.5 2423.9 1716.0 2423.8 1717.5 2424.3 1717.5 2424.9ZM1732.5 2424.9L1732.5 2424.3 1734.0 2423.9 1735.5 2423.7 1737.0 2424.2 1738.5 2424.2 1740.0 2424.0 1741.5 2423.8 1743.0 2423.9 1744.5 2424.0 1746.0 2424.2 1747.5 2423.8 1749.0 2423.8 1750.5 2423.9 1752.0 2423.9 1753.5 2423.8 1755.0 2424.0 1756.5 2424.2 1758.0 2424.1 1759.5 2424.1 1761.0 2424.0 1762.5 2424.0 1764.0 2424.1 1765.5 2423.8 1767.0 2423.9 1768.5 2423.7 1770.0 2424.0 1771.5 2424.1 1773.0 2424.2 1774.5 2424.3 1776.0 2424.1 1777.5 2423.9 1779.0 2423.9 1780.5 2423.8 1782.0 2423.8 1783.5 2424.0 1785.0 2423.5 1786.5 2421.8 1788.0 2420.2 1789.5 2420.0 1791.0 2419.7 1792.5 2421.7 1794.0 2423.0 1795.5 2424.1 1795.5 2424.9ZM1824.0 2424.9L1824.0 2424.1 1825.5 2422.3 1827.0 2420.9 1828.5 2421.0 1830.0 2419.9 1831.5 2420.7 1833.0 2421.2 1834.5 2419.4 1836.0 2419.3 1837.5 2421.6 1839.0 2423.3 1840.5 2424.4 1840.5 2424.9ZM1851.0 2424.9L1851.0 2424.5 1852.5 2424.2 1854.0 2424.2 1855.5 2424.3 1857.0 2424.1 1858.5 2424.1 1860.0 2424.1 1861.5 2424.3 1863.0 2424.3 1864.5 2424.0 1866.0 2424.1 1867.5 2424.0 1869.0 2424.1 1870.5 2424.3 1872.0 2424.4 1873.5 2424.2 1875.0 2424.2 1876.5 2424.2 1878.0 2424.1 1879.5 2424.2 1881.0 2424.3 1881.0 2424.9Z" fill="#0000A6"/><line x1="1173.4" y1="2424.9" x2="1884.3" y2="2424.9" stroke="#6A6AE6" stroke-width="1.3"/><rect x="1173.4" y="2424.9" width="710.9" height="28.4" fill="#F6F6F6"/><text x="1175" y="2431.1" font-size="5.6" fill="#333">[0 - 5.07]</text><path d="M1186.5 2453.3L1186.5 2452.6 1188.0 2451.9 1189.5 2451.7 1191.0 2452.0 1192.5 2451.7 1194.0 2451.4 1195.5 2451.5 1197.0 2451.5 1198.5 2451.1 1200.0 2451.1 1201.5 2451.1 1203.0 2452.0 1204.5 2452.0 1206.0 2452.1 1207.5 2452.7 1209.0 2452.7 1210.5 2451.8 1212.0 2449.7 1213.5 2448.3 1215.0 2446.3 1216.5 2446.5 1218.0 2448.3 1219.5 2450.7 1221.0 2452.2 1222.5 2452.9 1222.5 2453.3ZM1230.0 2453.3L1230.0 2452.9 1231.5 2452.3 1233.0 2451.0 1234.5 2449.3 1236.0 2446.9 1237.5 2444.8 1239.0 2445.0 1240.5 2444.3 1242.0 2445.0 1243.5 2448.4 1245.0 2448.7 1246.5 2446.4 1248.0 2442.9 1249.5 2441.1 1251.0 2443.1 1252.5 2444.1 1254.0 2444.0 1255.5 2442.8 1257.0 2441.8 1258.5 2444.6 1260.0 2447.3 1261.5 2448.1 1263.0 2448.5 1264.5 2448.7 1266.0 2450.6 1267.5 2451.7 1269.0 2451.7 1270.5 2451.7 1272.0 2451.4 1273.5 2451.3 1275.0 2451.3 1276.5 2451.2 1278.0 2451.5 1279.5 2451.2 1281.0 2451.8 1282.5 2451.8 1284.0 2452.2 1285.5 2452.9 1287.0 2452.9 1288.5 2452.6 1290.0 2452.5 1291.5 2452.5 1293.0 2452.8 1293.0 2453.3ZM1348.5 2453.3L1348.5 2452.9 1350.0 2452.6 1351.5 2452.7 1353.0 2452.8 1354.5 2452.7 1356.0 2452.5 1357.5 2452.5 1359.0 2452.6 1360.5 2452.6 1362.0 2452.9 1362.0 2453.3ZM1369.5 2453.3L1369.5 2452.7 1371.0 2452.1 1372.5 2451.2 1374.0 2450.6 1375.5 2450.8 1377.0 2451.0 1378.5 2449.8 1380.0 2450.2 1381.5 2451.3 1383.0 2450.7 1384.5 2450.3 1386.0 2451.2 1387.5 2450.4 1389.0 2449.9 1390.5 2450.6 1392.0 2450.2 1393.5 2449.2 1395.0 2450.5 1396.5 2449.5 1398.0 2448.9 1399.5 2445.8 1401.0 2442.5 1402.5 2439.5 1404.0 2437.1 1405.5 2440.3 1407.0 2442.9 1408.5 2445.7 1410.0 2444.4 1411.5 2440.7 1413.0 2442.5 1414.5 2444.0 1416.0 2444.9 1417.5 2443.6 1419.0 2444.8 1420.5 2444.4 1422.0 2446.6 1423.5 2449.2 1425.0 2450.8 1426.5 2452.0 1428.0 2450.7 1429.5 2448.7 1431.0 2447.6 1432.5 2445.5 1434.0 2446.2 1435.5 2445.8 1437.0 2447.9 1438.5 2449.8 1440.0 2451.4 1441.5 2452.4 1443.0 2452.4 1444.5 2451.3 1446.0 2450.3 1447.5 2449.1 1449.0 2449.6 1450.5 2450.1 1452.0 2451.3 1453.5 2452.0 1455.0 2450.6 1456.5 2447.9 1458.0 2446.7 1459.5 2446.6 1461.0 2448.6 1462.5 2449.9 1464.0 2450.8 1465.5 2448.8 1467.0 2447.1 1468.5 2445.4 1470.0 2445.1 1471.5 2444.8 1473.0 2445.5 1474.5 2449.0 1476.0 2450.6 1477.5 2451.9 1479.0 2452.5 1480.5 2452.6 1482.0 2452.7 1483.5 2452.9 1483.5 2453.3ZM1489.5 2453.3L1489.5 2452.9 1491.0 2452.4 1492.5 2450.9 1494.0 2449.0 1495.5 2445.6 1497.0 2443.7 1498.5 2441.8 1500.0 2439.5 1501.5 2442.2 1503.0 2444.0 1504.5 2447.4 1506.0 2448.1 1507.5 2447.9 1509.0 2448.3 1510.5 2450.3 1512.0 2451.9 1513.5 2452.7 1513.5 2453.3ZM1522.5 2453.3L1522.5 2452.3 1524.0 2451.2 1525.5 2449.2 1527.0 2447.7 1528.5 2447.2 1530.0 2447.7 1531.5 2449.4 1533.0 2451.5 1534.5 2451.5 1536.0 2450.1 1537.5 2449.4 1539.0 2449.0 1540.5 2449.5 1542.0 2449.8 1543.5 2449.2 1545.0 2449.5 1546.5 2449.7 1548.0 2450.5 1549.5 2450.4 1551.0 2448.6 1552.5 2447.7 1554.0 2446.0 1555.5 2447.5 1557.0 2449.5 1558.5 2451.6 1560.0 2449.9 1561.5 2449.8 1563.0 2449.6 1564.5 2450.7 1566.0 2451.5 1567.5 2452.5 1567.5 2453.3ZM1570.5 2453.3L1570.5 2452.6 1572.0 2452.0 1573.5 2450.6 1575.0 2449.1 1576.5 2446.4 1578.0 2444.7 1579.5 2445.9 1581.0 2446.2 1582.5 2448.1 1584.0 2449.5 1585.5 2447.4 1587.0 2446.5 1588.5 2447.5 1590.0 2448.7 1591.5 2449.6 1593.0 2447.1 1594.5 2446.4 1596.0 2446.0 1597.5 2446.6 1599.0 2447.9 1600.5 2445.3 1602.0 2442.6 1603.5 2441.9 1605.0 2442.5 1606.5 2443.5 1608.0 2446.0 1609.5 2446.0 1611.0 2444.5 1612.5 2444.4 1614.0 2444.7 1615.5 2442.5 1617.0 2438.2 1618.5 2430.9 1620.0 2431.2 1621.5 2432.3 1623.0 2434.8 1624.5 2442.4 1626.0 2439.8 1627.5 2440.9 1629.0 2440.9 1630.5 2444.4 1632.0 2447.4 1633.5 2446.8 1635.0 2444.6 1636.5 2440.5 1638.0 2440.0 1639.5 2441.5 1641.0 2444.6 1642.5 2446.4 1644.0 2445.7 1645.5 2446.3 1647.0 2447.9 1648.5 2449.0 1650.0 2450.5 1651.5 2451.8 1653.0 2451.4 1654.5 2451.1 1656.0 2450.8 1657.5 2451.8 1659.0 2451.9 1660.5 2451.8 1662.0 2451.5 1663.5 2451.6 1665.0 2451.4 1666.5 2451.2 1668.0 2451.7 1669.5 2452.4 1671.0 2452.9 1671.0 2453.3ZM1680.0 2453.3L1680.0 2452.9 1681.5 2452.3 1683.0 2451.3 1684.5 2450.5 1686.0 2450.4 1687.5 2450.3 1689.0 2450.8 1690.5 2450.9 1692.0 2451.4 1693.5 2450.5 1695.0 2449.4 1696.5 2450.1 1698.0 2450.8 1699.5 2450.0 1701.0 2450.4 1702.5 2451.1 1704.0 2451.9 1705.5 2452.7 1705.5 2453.3ZM1713.0 2453.3L1713.0 2452.9 1714.5 2452.4 1716.0 2452.0 1717.5 2451.5 1719.0 2451.4 1720.5 2452.0 1722.0 2452.6 1723.5 2452.9 1723.5 2453.3ZM1728.0 2453.3L1728.0 2452.6 1729.5 2451.6 1731.0 2451.5 1732.5 2451.7 1734.0 2451.2 1735.5 2450.9 1737.0 2451.0 1738.5 2450.6 1740.0 2451.0 1741.5 2452.0 1743.0 2451.3 1744.5 2451.2 1746.0 2451.1 1747.5 2451.4 1749.0 2452.2 1750.5 2451.9 1752.0 2451.4 1753.5 2451.1 1755.0 2450.7 1756.5 2450.9 1758.0 2451.4 1759.5 2451.3 1761.0 2451.4 1762.5 2452.3 1762.5 2453.3ZM1777.5 2453.3L1777.5 2452.6 1779.0 2451.4 1780.5 2449.7 1782.0 2448.7 1783.5 2447.6 1785.0 2448.5 1786.5 2447.3 1788.0 2446.4 1789.5 2444.9 1791.0 2445.0 1792.5 2447.2 1794.0 2449.0 1795.5 2450.6 1797.0 2452.2 1798.5 2452.8 1798.5 2453.3ZM1807.5 2453.3L1807.5 2452.6 1809.0 2451.8 1810.5 2451.3 1812.0 2451.6 1813.5 2451.6 1815.0 2451.6 1816.5 2451.4 1818.0 2451.9 1819.5 2451.8 1821.0 2452.1 1822.5 2451.3 1824.0 2449.3 1825.5 2446.4 1827.0 2444.8 1828.5 2442.0 1830.0 2442.4 1831.5 2443.0 1833.0 2444.0 1834.5 2447.5 1836.0 2449.9 1837.5 2450.1 1839.0 2448.1 1840.5 2448.0 1842.0 2448.8 1843.5 2450.5 1845.0 2451.6 1846.5 2452.6 1846.5 2453.3ZM1851.0 2453.3L1851.0 2452.5 1852.5 2452.0 1854.0 2451.9 1855.5 2452.0 1857.0 2451.6 1858.5 2451.6 1860.0 2451.9 1861.5 2451.4 1863.0 2451.7 1864.5 2451.9 1866.0 2452.1 1867.5 2452.0 1869.0 2451.5 1870.5 2451.8 1872.0 2451.7 1873.5 2451.5 1875.0 2451.9 1876.5 2451.5 1878.0 2451.4 1879.5 2451.6 1881.0 2452.3 1882.5 2452.8 1882.5 2453.3Z" fill="#FF9A0A"/></g><text x="226.5" y="2036.9" font-size="11.6" font-weight="bold">H3K4me1</text><text x="226.5" y="2143.5" font-size="11.6" font-weight="bold">H3K4me3</text><text x="226.5" y="2249.4" font-size="11.6" font-weight="bold">H3K9ac</text><text x="226.5" y="2363.6" font-size="11.6" font-weight="bold">H3K27ac</text><text x="1143.8" y="2031" font-size="11.6" font-weight="bold">H3K4me1</text><text x="1143.8" y="2138.7" font-size="11.6" font-weight="bold">H3K4me3</text><text x="1143.8" y="2244.3" font-size="11.6" font-weight="bold">H3K9ac</text><text x="1143.8" y="2361.4" font-size="11.6" font-weight="bold">H3K27ac</text><text x="79.3" y="2059.9" font-size="14" font-weight="bold" fill="#8C8C8C">BB</text><text x="79.3" y="2091.9" font-size="14" font-weight="bold" fill="#2F5597">WT-ERG</text><text x="79.3" y="2118.9" font-size="14" font-weight="bold" fill="#ED7D31">P199L-ERG</text><text x="85.3" y="2170.8" font-size="14" font-weight="bold" fill="#8C8C8C">BB</text><text x="85.3" y="2202.4" font-size="14" font-weight="bold" fill="#2F5597">WT-ERG</text><text x="85.3" y="2230" font-size="14" font-weight="bold" fill="#ED7D31">P199L-ERG</text><text x="85.3" y="2278.7" font-size="14" font-weight="bold" fill="#8C8C8C">BB</text><text x="85.3" y="2311.2" font-size="14" font-weight="bold" fill="#2F5597">WT-ERG</text><text x="85.3" y="2338.3" font-size="14" font-weight="bold" fill="#ED7D31">P199L-ERG</text><text x="85.3" y="2389.8" font-size="14" font-weight="bold" fill="#8C8C8C">BB</text><text x="85.3" y="2422.3" font-size="14" font-weight="bold" fill="#2F5597">WT-ERG</text><text x="85.3" y="2449.5" font-size="14" font-weight="bold" fill="#ED7D31">P199L-ERG</text><text x="1017.2" y="2054.3" font-size="14" font-weight="bold" fill="#8C8C8C">BB</text><text x="1017.2" y="2086.3" font-size="14" font-weight="bold" fill="#2F5597">WT-ERG</text><text x="1017.2" y="2113.9" font-size="14" font-weight="bold" fill="#ED7D31">P199L-ERG</text><text x="1017.2" y="2163" font-size="14" font-weight="bold" fill="#8C8C8C">BB</text><text x="1017.2" y="2195.2" font-size="14" font-weight="bold" fill="#2F5597">WT-ERG</text><text x="1017.2" y="2222.9" font-size="14" font-weight="bold" fill="#ED7D31">P199L-ERG</text><text x="1017.2" y="2274.1" font-size="14" font-weight="bold" fill="#8C8C8C">BB</text><text x="1017.2" y="2306.6" font-size="14" font-weight="bold" fill="#2F5597">WT-ERG</text><text x="1017.2" y="2333.8" font-size="14" font-weight="bold" fill="#ED7D31">P199L-ERG</text><text x="1017.2" y="2393" font-size="14" font-weight="bold" fill="#8C8C8C">BB</text><text x="1017.2" y="2425.1" font-size="14" font-weight="bold" fill="#2F5597">WT-ERG</text><text x="1017.2" y="2452.5" font-size="14" font-weight="bold" fill="#ED7D31">P199L-ERG</text><rect x="410" y="2027.5" width="65.3" height="434.5" fill="none" stroke="#111" stroke-width="1.9" stroke-dasharray="2 1.6"/><rect x="493.4" y="2027.5" width="322.1" height="434.5" fill="none" stroke="#F21A1A" stroke-width="1.9" stroke-dasharray="2 1.6"/><rect x="1205.3" y="2029.4" width="215.7" height="433.1" fill="none" stroke="#F21A1A" stroke-width="1.9" stroke-dasharray="2 1.6"/><rect x="1424.9" y="2029.4" width="97.9" height="433.1" fill="none" stroke="#111" stroke-width="1.9" stroke-dasharray="2 1.6"/><rect x="1526.3" y="2029.4" width="322.1" height="433.1" fill="none" stroke="#F21A1A" stroke-width="1.9" stroke-dasharray="2 1.6"/><rect x="239.2" y="2469.7" width="242.1" height="14.9" fill="#F6F6F6"/><line x1="310.9" y1="2477.1" x2="467.1" y2="2477.1" stroke="#5050E0" stroke-width="1"/><path d="M310.9 2473.6h15.2v7h-15.2z M326.1 2471.4h7.9v10.5h-7.9z M406.7 2471.4h5.1v10.5h-5.1z M452.1 2471.4h3.2v10.5h-3.2z" fill="#0000B4"/><path d="M348.2 2475.6l-1.5 1.5 1.5 1.5M370.7 2475.6l-1.5 1.5 1.5 1.5M393.2 2475.6l-1.5 1.5 1.5 1.5M426.2 2475.6l-1.5 1.5 1.5 1.5M449.2 2475.6l-1.5 1.5 1.5 1.5" fill="none" stroke="#3A3AE0" stroke-width="0.9"/><text x="380.2" y="2495.6" font-size="9.8" text-anchor="middle">Ly6c2</text><rect x="1419.9" y="2469.3" width="463.7" height="18.1" fill="#F6F6F6"/><line x1="1426.9" y1="2477.5" x2="1862.5" y2="2477.5" stroke="#5050E0" stroke-width="1"/><path d="M1426.9 2474.9h4v5.2h-4z M1430.7 2472.5h3.6v10.2h-3.6z M1517.1 2472.5h2.9v10.2h-2.9z M1525 2472.5h4.7v10.2h-4.7z M1549.3 2472.5h4.4v10.2h-4.4z M1692.2 2472.5h2.9v10.2h-2.9z M1822.1 2471.8h5.3v11.5h-5.3z M1827.4 2474.5h35.1v6h-35.1z" fill="#0000B4"/><path d="M1443.8 2476l1.5 1.5-1.5 1.5M1466.8 2476l1.5 1.5-1.5 1.5M1488.8 2476l1.5 1.5-1.5 1.5M1511.8 2476l1.5 1.5-1.5 1.5M1536.8 2476l1.5 1.5-1.5 1.5M1562.8 2476l1.5 1.5-1.5 1.5M1585.8 2476l1.5 1.5-1.5 1.5M1608.8 2476l1.5 1.5-1.5 1.5M1631.8 2476l1.5 1.5-1.5 1.5M1654.8 2476l1.5 1.5-1.5 1.5M1677.8 2476l1.5 1.5-1.5 1.5M1703.8 2476l1.5 1.5-1.5 1.5M1726.8 2476l1.5 1.5-1.5 1.5M1749.8 2476l1.5 1.5-1.5 1.5M1772.8 2476l1.5 1.5-1.5 1.5M1795.8 2476l1.5 1.5-1.5 1.5M1818.8 2476l1.5 1.5-1.5 1.5" fill="none" stroke="#3A3AE0" stroke-width="0.9"/><text x="1602.9" y="2495.6" font-size="9.8" text-anchor="middle">Clec12a</text>
</svg>
</body></html>
